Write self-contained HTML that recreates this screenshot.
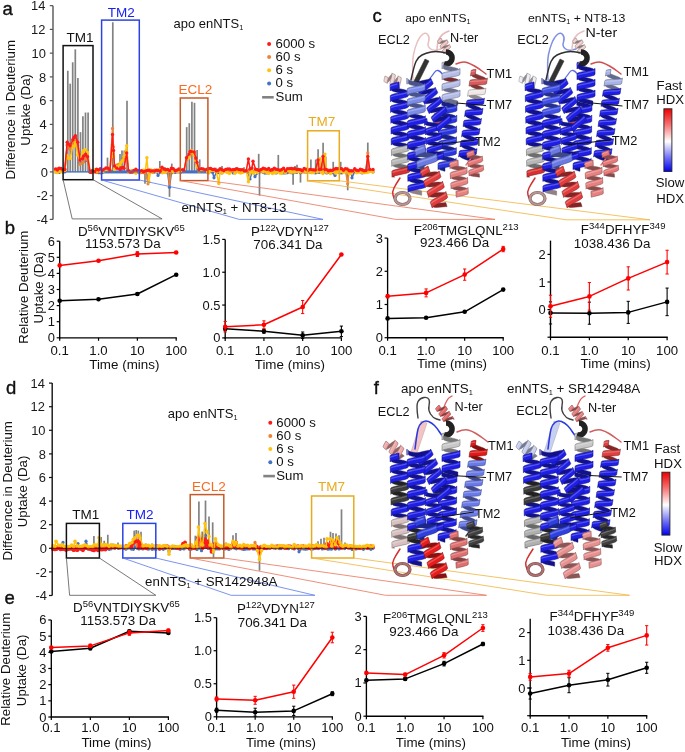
<!DOCTYPE html>
<html><head><meta charset="utf-8"><style>
html,body{margin:0;padding:0;background:#fff;width:685px;height:752px;overflow:hidden;}
svg{filter:blur(0.3px);}
svg text{font-family:'Liberation Sans',sans-serif;}
</style></head><body>
<svg width="685" height="752" viewBox="0 0 685 752" style="position:absolute;left:0;top:0;font-family:'Liberation Sans',sans-serif">
<rect width="685" height="752" fill="#fff"/>
<line x1="67.80" y1="171.90" x2="67.80" y2="70.73" stroke="#828282" stroke-width="1.7"/>
<line x1="70.20" y1="171.90" x2="70.20" y2="83.67" stroke="#828282" stroke-width="1.7"/>
<line x1="72.70" y1="171.90" x2="72.70" y2="62.29" stroke="#828282" stroke-width="1.7"/>
<line x1="75.30" y1="171.90" x2="75.30" y2="49.35" stroke="#828282" stroke-width="1.7"/>
<line x1="77.90" y1="171.90" x2="77.90" y2="78.09" stroke="#828282" stroke-width="1.7"/>
<line x1="80.50" y1="171.90" x2="80.50" y2="132.12" stroke="#828282" stroke-width="1.7"/>
<line x1="82.90" y1="171.90" x2="82.90" y2="116.33" stroke="#828282" stroke-width="1.7"/>
<line x1="85.50" y1="171.90" x2="85.50" y2="112.53" stroke="#828282" stroke-width="1.7"/>
<line x1="88.10" y1="171.90" x2="88.10" y2="112.53" stroke="#828282" stroke-width="1.7"/>
<line x1="107.50" y1="171.90" x2="107.50" y2="157.65" stroke="#828282" stroke-width="1.7"/>
<line x1="112.80" y1="171.90" x2="112.80" y2="22.28" stroke="#828282" stroke-width="1.7"/>
<line x1="120.00" y1="171.90" x2="120.00" y2="154.09" stroke="#828282" stroke-width="1.7"/>
<line x1="122.00" y1="171.90" x2="122.00" y2="150.53" stroke="#828282" stroke-width="1.7"/>
<line x1="124.30" y1="171.90" x2="124.30" y2="150.53" stroke="#828282" stroke-width="1.7"/>
<line x1="127.00" y1="171.90" x2="127.00" y2="100.65" stroke="#828282" stroke-width="1.7"/>
<line x1="145.00" y1="171.90" x2="145.00" y2="183.78" stroke="#828282" stroke-width="1.7"/>
<line x1="159.80" y1="171.90" x2="159.80" y2="160.97" stroke="#828282" stroke-width="1.7"/>
<line x1="169.50" y1="171.90" x2="169.50" y2="196.84" stroke="#828282" stroke-width="1.7"/>
<line x1="171.80" y1="171.90" x2="171.80" y2="163.59" stroke="#828282" stroke-width="1.7"/>
<line x1="165.00" y1="171.90" x2="165.00" y2="167.15" stroke="#828282" stroke-width="1.7"/>
<line x1="186.70" y1="171.90" x2="186.70" y2="127.13" stroke="#828282" stroke-width="1.7"/>
<line x1="189.30" y1="171.90" x2="189.30" y2="123.21" stroke="#828282" stroke-width="1.7"/>
<line x1="191.90" y1="171.90" x2="191.90" y2="101.84" stroke="#828282" stroke-width="1.7"/>
<line x1="194.50" y1="171.90" x2="194.50" y2="102.79" stroke="#828282" stroke-width="1.7"/>
<line x1="197.10" y1="171.90" x2="197.10" y2="150.05" stroke="#828282" stroke-width="1.7"/>
<line x1="199.70" y1="171.90" x2="199.70" y2="159.43" stroke="#828282" stroke-width="1.7"/>
<line x1="216.00" y1="171.90" x2="216.00" y2="167.74" stroke="#828282" stroke-width="1.7"/>
<line x1="222.00" y1="171.90" x2="222.00" y2="165.96" stroke="#828282" stroke-width="1.7"/>
<line x1="236.00" y1="171.90" x2="236.00" y2="167.15" stroke="#828282" stroke-width="1.7"/>
<line x1="244.00" y1="171.90" x2="244.00" y2="167.15" stroke="#828282" stroke-width="1.7"/>
<line x1="258.70" y1="171.90" x2="258.70" y2="153.85" stroke="#828282" stroke-width="1.7"/>
<line x1="259.50" y1="171.90" x2="259.50" y2="195.65" stroke="#828282" stroke-width="1.7"/>
<line x1="278.30" y1="171.90" x2="278.30" y2="154.92" stroke="#828282" stroke-width="1.7"/>
<line x1="291.00" y1="171.90" x2="291.00" y2="167.15" stroke="#828282" stroke-width="1.7"/>
<line x1="293.10" y1="171.90" x2="293.10" y2="184.84" stroke="#828282" stroke-width="1.7"/>
<line x1="295.00" y1="171.90" x2="295.00" y2="165.96" stroke="#828282" stroke-width="1.7"/>
<line x1="297.00" y1="171.90" x2="297.00" y2="164.78" stroke="#828282" stroke-width="1.7"/>
<line x1="310.90" y1="171.90" x2="310.90" y2="159.55" stroke="#828282" stroke-width="1.7"/>
<line x1="315.70" y1="171.90" x2="315.70" y2="159.55" stroke="#828282" stroke-width="1.7"/>
<line x1="318.10" y1="171.90" x2="318.10" y2="149.34" stroke="#828282" stroke-width="1.7"/>
<line x1="323.10" y1="171.90" x2="323.10" y2="142.69" stroke="#828282" stroke-width="1.7"/>
<line x1="325.70" y1="171.90" x2="325.70" y2="156.46" stroke="#828282" stroke-width="1.7"/>
<line x1="333.20" y1="171.90" x2="333.20" y2="161.81" stroke="#828282" stroke-width="1.7"/>
<line x1="340.70" y1="171.90" x2="340.70" y2="161.81" stroke="#828282" stroke-width="1.7"/>
<line x1="347.70" y1="171.90" x2="347.70" y2="190.31" stroke="#828282" stroke-width="1.7"/>
<line x1="367.80" y1="171.90" x2="367.80" y2="142.57" stroke="#828282" stroke-width="1.7"/>
<line x1="304.00" y1="171.90" x2="304.00" y2="168.34" stroke="#828282" stroke-width="1.7"/>
<line x1="300.50" y1="171.90" x2="300.50" y2="182.59" stroke="#828282" stroke-width="1.7"/>
<polyline points="55.5,171.9 57.4,172.3 59.2,172.4 61.1,171.5 63.0,171.9 64.8,171.9 67.2,145.1 68.6,146.9 70.1,148.4 72.8,143.4 74.2,139.8 75.4,138.7 77.7,145.8 80.0,162.4 82.6,162.4 83.6,161.1 85.6,160.6 87.6,160.0 90.0,171.9 91.0,171.9 92.9,171.9 94.8,171.8 96.6,172.4 98.5,172.7 100.4,172.8 102.3,172.6 104.1,171.9 106.0,171.9 107.9,171.9 109.7,171.9 111.6,171.9 113.5,171.9 115.3,171.9 117.2,171.9 119.1,171.9 121.0,171.9 122.8,171.9 124.7,171.9 126.6,171.9 128.4,171.9 130.3,171.9 132.2,171.9 134.0,171.9 135.9,171.9 137.8,171.9 139.7,171.8 141.5,172.4 143.4,170.9 145.3,171.7 148.0,176.7 149.0,171.0 150.9,171.1 152.7,171.9 154.6,172.1 156.5,171.7 158.0,175.5 160.2,172.1 162.1,172.7 164.0,172.4 165.8,171.2 167.7,173.0 169.5,187.3 171.4,173.0 173.3,171.6 175.2,172.4 177.1,171.8 178.9,172.0 180.8,172.3 182.7,171.9 184.5,171.9 186.4,171.9 188.3,171.9 190.1,171.9 192.0,171.9 193.9,171.9 195.8,171.9 197.6,171.9 199.5,171.9 201.4,171.9 203.2,171.9 205.1,171.9 207.0,171.9 208.8,171.3 210.7,171.6 212.6,172.5 214.0,177.8 216.3,172.3 218.2,172.7 220.1,172.0 221.9,173.0 223.8,171.4 225.7,171.0 227.5,170.8 229.4,171.3 231.3,170.8 233.2,173.0 235.0,172.4 236.9,170.8 238.8,171.2 240.6,172.1 242.5,170.8 244.4,171.6 246.2,171.1 248.1,172.4 250.0,179.0 251.9,172.6 253.7,172.0 255.0,176.7 257.5,172.8 259.3,172.2 261.2,170.8 263.1,172.3 264.9,173.1 266.8,173.0 268.7,172.7 270.6,171.2 272.4,172.2 274.3,172.4 276.2,172.9 278.0,170.8 279.9,172.1 281.8,172.6 283.6,172.9 285.5,173.0 287.4,172.7 289.3,171.5 291.1,172.7 293.0,173.0 294.9,171.9 296.7,172.5 298.6,170.7 300.5,172.8 302.3,171.8 304.2,171.2 306.1,172.1 308.0,170.7 309.8,172.0 311.7,172.5 313.6,172.1 315.4,173.0 317.3,172.1 319.2,172.5 321.0,171.0 322.9,171.1 324.8,171.9 326.7,173.0 328.5,172.5 330.4,172.5 332.3,172.6 335.0,175.5 336.0,172.5 337.9,171.0 339.7,172.8 341.6,173.0 343.5,170.9 345.4,171.7 347.2,170.7 349.1,172.1 351.0,170.9 352.0,177.8 354.7,171.5 356.6,171.2 358.4,171.3 360.3,171.9 362.2,172.9 364.1,172.6 365.9,171.0 367.8,171.0 369.7,170.9 373.0,171.9" stroke="#4472c4" stroke-width="1.5" fill="none" stroke-linejoin="round" />
<circle cx="55.5" cy="171.9" r="1.6" fill="#4472c4"/>
<circle cx="57.4" cy="172.3" r="1.6" fill="#4472c4"/>
<circle cx="59.2" cy="172.4" r="1.6" fill="#4472c4"/>
<circle cx="61.1" cy="171.5" r="1.6" fill="#4472c4"/>
<circle cx="63.0" cy="171.9" r="1.6" fill="#4472c4"/>
<circle cx="64.8" cy="171.9" r="1.6" fill="#4472c4"/>
<circle cx="67.2" cy="145.1" r="1.6" fill="#4472c4"/>
<circle cx="68.6" cy="146.9" r="1.6" fill="#4472c4"/>
<circle cx="70.1" cy="148.4" r="1.6" fill="#4472c4"/>
<circle cx="72.8" cy="143.4" r="1.6" fill="#4472c4"/>
<circle cx="74.2" cy="139.8" r="1.6" fill="#4472c4"/>
<circle cx="75.4" cy="138.7" r="1.6" fill="#4472c4"/>
<circle cx="77.7" cy="145.8" r="1.6" fill="#4472c4"/>
<circle cx="80.0" cy="162.4" r="1.6" fill="#4472c4"/>
<circle cx="82.6" cy="162.4" r="1.6" fill="#4472c4"/>
<circle cx="83.6" cy="161.1" r="1.6" fill="#4472c4"/>
<circle cx="85.6" cy="160.6" r="1.6" fill="#4472c4"/>
<circle cx="87.6" cy="160.0" r="1.6" fill="#4472c4"/>
<circle cx="90.0" cy="171.9" r="1.6" fill="#4472c4"/>
<circle cx="91.0" cy="171.9" r="1.6" fill="#4472c4"/>
<circle cx="92.9" cy="171.9" r="1.6" fill="#4472c4"/>
<circle cx="94.8" cy="171.8" r="1.6" fill="#4472c4"/>
<circle cx="96.6" cy="172.4" r="1.6" fill="#4472c4"/>
<circle cx="98.5" cy="172.7" r="1.6" fill="#4472c4"/>
<circle cx="100.4" cy="172.8" r="1.6" fill="#4472c4"/>
<circle cx="102.3" cy="172.6" r="1.6" fill="#4472c4"/>
<circle cx="104.1" cy="171.9" r="1.6" fill="#4472c4"/>
<circle cx="106.0" cy="171.9" r="1.6" fill="#4472c4"/>
<circle cx="107.9" cy="171.9" r="1.6" fill="#4472c4"/>
<circle cx="109.7" cy="171.9" r="1.6" fill="#4472c4"/>
<circle cx="111.6" cy="171.9" r="1.6" fill="#4472c4"/>
<circle cx="113.5" cy="171.9" r="1.6" fill="#4472c4"/>
<circle cx="115.3" cy="171.9" r="1.6" fill="#4472c4"/>
<circle cx="117.2" cy="171.9" r="1.6" fill="#4472c4"/>
<circle cx="119.1" cy="171.9" r="1.6" fill="#4472c4"/>
<circle cx="121.0" cy="171.9" r="1.6" fill="#4472c4"/>
<circle cx="122.8" cy="171.9" r="1.6" fill="#4472c4"/>
<circle cx="124.7" cy="171.9" r="1.6" fill="#4472c4"/>
<circle cx="126.6" cy="171.9" r="1.6" fill="#4472c4"/>
<circle cx="128.4" cy="171.9" r="1.6" fill="#4472c4"/>
<circle cx="130.3" cy="171.9" r="1.6" fill="#4472c4"/>
<circle cx="132.2" cy="171.9" r="1.6" fill="#4472c4"/>
<circle cx="134.0" cy="171.9" r="1.6" fill="#4472c4"/>
<circle cx="135.9" cy="171.9" r="1.6" fill="#4472c4"/>
<circle cx="137.8" cy="171.9" r="1.6" fill="#4472c4"/>
<circle cx="139.7" cy="171.8" r="1.6" fill="#4472c4"/>
<circle cx="141.5" cy="172.4" r="1.6" fill="#4472c4"/>
<circle cx="143.4" cy="170.9" r="1.6" fill="#4472c4"/>
<circle cx="145.3" cy="171.7" r="1.6" fill="#4472c4"/>
<circle cx="148.0" cy="176.7" r="1.6" fill="#4472c4"/>
<circle cx="149.0" cy="171.0" r="1.6" fill="#4472c4"/>
<circle cx="150.9" cy="171.1" r="1.6" fill="#4472c4"/>
<circle cx="152.7" cy="171.9" r="1.6" fill="#4472c4"/>
<circle cx="154.6" cy="172.1" r="1.6" fill="#4472c4"/>
<circle cx="156.5" cy="171.7" r="1.6" fill="#4472c4"/>
<circle cx="158.0" cy="175.5" r="1.6" fill="#4472c4"/>
<circle cx="160.2" cy="172.1" r="1.6" fill="#4472c4"/>
<circle cx="162.1" cy="172.7" r="1.6" fill="#4472c4"/>
<circle cx="164.0" cy="172.4" r="1.6" fill="#4472c4"/>
<circle cx="165.8" cy="171.2" r="1.6" fill="#4472c4"/>
<circle cx="167.7" cy="173.0" r="1.6" fill="#4472c4"/>
<circle cx="169.5" cy="187.3" r="1.6" fill="#4472c4"/>
<circle cx="171.4" cy="173.0" r="1.6" fill="#4472c4"/>
<circle cx="173.3" cy="171.6" r="1.6" fill="#4472c4"/>
<circle cx="175.2" cy="172.4" r="1.6" fill="#4472c4"/>
<circle cx="177.1" cy="171.8" r="1.6" fill="#4472c4"/>
<circle cx="178.9" cy="172.0" r="1.6" fill="#4472c4"/>
<circle cx="180.8" cy="172.3" r="1.6" fill="#4472c4"/>
<circle cx="182.7" cy="171.9" r="1.6" fill="#4472c4"/>
<circle cx="184.5" cy="171.9" r="1.6" fill="#4472c4"/>
<circle cx="186.4" cy="171.9" r="1.6" fill="#4472c4"/>
<circle cx="188.3" cy="171.9" r="1.6" fill="#4472c4"/>
<circle cx="190.1" cy="171.9" r="1.6" fill="#4472c4"/>
<circle cx="192.0" cy="171.9" r="1.6" fill="#4472c4"/>
<circle cx="193.9" cy="171.9" r="1.6" fill="#4472c4"/>
<circle cx="195.8" cy="171.9" r="1.6" fill="#4472c4"/>
<circle cx="197.6" cy="171.9" r="1.6" fill="#4472c4"/>
<circle cx="199.5" cy="171.9" r="1.6" fill="#4472c4"/>
<circle cx="201.4" cy="171.9" r="1.6" fill="#4472c4"/>
<circle cx="203.2" cy="171.9" r="1.6" fill="#4472c4"/>
<circle cx="205.1" cy="171.9" r="1.6" fill="#4472c4"/>
<circle cx="207.0" cy="171.9" r="1.6" fill="#4472c4"/>
<circle cx="208.8" cy="171.3" r="1.6" fill="#4472c4"/>
<circle cx="210.7" cy="171.6" r="1.6" fill="#4472c4"/>
<circle cx="212.6" cy="172.5" r="1.6" fill="#4472c4"/>
<circle cx="214.0" cy="177.8" r="1.6" fill="#4472c4"/>
<circle cx="216.3" cy="172.3" r="1.6" fill="#4472c4"/>
<circle cx="218.2" cy="172.7" r="1.6" fill="#4472c4"/>
<circle cx="220.1" cy="172.0" r="1.6" fill="#4472c4"/>
<circle cx="221.9" cy="173.0" r="1.6" fill="#4472c4"/>
<circle cx="223.8" cy="171.4" r="1.6" fill="#4472c4"/>
<circle cx="225.7" cy="171.0" r="1.6" fill="#4472c4"/>
<circle cx="227.5" cy="170.8" r="1.6" fill="#4472c4"/>
<circle cx="229.4" cy="171.3" r="1.6" fill="#4472c4"/>
<circle cx="231.3" cy="170.8" r="1.6" fill="#4472c4"/>
<circle cx="233.2" cy="173.0" r="1.6" fill="#4472c4"/>
<circle cx="235.0" cy="172.4" r="1.6" fill="#4472c4"/>
<circle cx="236.9" cy="170.8" r="1.6" fill="#4472c4"/>
<circle cx="238.8" cy="171.2" r="1.6" fill="#4472c4"/>
<circle cx="240.6" cy="172.1" r="1.6" fill="#4472c4"/>
<circle cx="242.5" cy="170.8" r="1.6" fill="#4472c4"/>
<circle cx="244.4" cy="171.6" r="1.6" fill="#4472c4"/>
<circle cx="246.2" cy="171.1" r="1.6" fill="#4472c4"/>
<circle cx="248.1" cy="172.4" r="1.6" fill="#4472c4"/>
<circle cx="250.0" cy="179.0" r="1.6" fill="#4472c4"/>
<circle cx="251.9" cy="172.6" r="1.6" fill="#4472c4"/>
<circle cx="253.7" cy="172.0" r="1.6" fill="#4472c4"/>
<circle cx="255.0" cy="176.7" r="1.6" fill="#4472c4"/>
<circle cx="257.5" cy="172.8" r="1.6" fill="#4472c4"/>
<circle cx="259.3" cy="172.2" r="1.6" fill="#4472c4"/>
<circle cx="261.2" cy="170.8" r="1.6" fill="#4472c4"/>
<circle cx="263.1" cy="172.3" r="1.6" fill="#4472c4"/>
<circle cx="264.9" cy="173.1" r="1.6" fill="#4472c4"/>
<circle cx="266.8" cy="173.0" r="1.6" fill="#4472c4"/>
<circle cx="268.7" cy="172.7" r="1.6" fill="#4472c4"/>
<circle cx="270.6" cy="171.2" r="1.6" fill="#4472c4"/>
<circle cx="272.4" cy="172.2" r="1.6" fill="#4472c4"/>
<circle cx="274.3" cy="172.4" r="1.6" fill="#4472c4"/>
<circle cx="276.2" cy="172.9" r="1.6" fill="#4472c4"/>
<circle cx="278.0" cy="170.8" r="1.6" fill="#4472c4"/>
<circle cx="279.9" cy="172.1" r="1.6" fill="#4472c4"/>
<circle cx="281.8" cy="172.6" r="1.6" fill="#4472c4"/>
<circle cx="283.6" cy="172.9" r="1.6" fill="#4472c4"/>
<circle cx="285.5" cy="173.0" r="1.6" fill="#4472c4"/>
<circle cx="287.4" cy="172.7" r="1.6" fill="#4472c4"/>
<circle cx="289.3" cy="171.5" r="1.6" fill="#4472c4"/>
<circle cx="291.1" cy="172.7" r="1.6" fill="#4472c4"/>
<circle cx="293.0" cy="173.0" r="1.6" fill="#4472c4"/>
<circle cx="294.9" cy="171.9" r="1.6" fill="#4472c4"/>
<circle cx="296.7" cy="172.5" r="1.6" fill="#4472c4"/>
<circle cx="298.6" cy="170.7" r="1.6" fill="#4472c4"/>
<circle cx="300.5" cy="172.8" r="1.6" fill="#4472c4"/>
<circle cx="302.3" cy="171.8" r="1.6" fill="#4472c4"/>
<circle cx="304.2" cy="171.2" r="1.6" fill="#4472c4"/>
<circle cx="306.1" cy="172.1" r="1.6" fill="#4472c4"/>
<circle cx="308.0" cy="170.7" r="1.6" fill="#4472c4"/>
<circle cx="309.8" cy="172.0" r="1.6" fill="#4472c4"/>
<circle cx="311.7" cy="172.5" r="1.6" fill="#4472c4"/>
<circle cx="313.6" cy="172.1" r="1.6" fill="#4472c4"/>
<circle cx="315.4" cy="173.0" r="1.6" fill="#4472c4"/>
<circle cx="317.3" cy="172.1" r="1.6" fill="#4472c4"/>
<circle cx="319.2" cy="172.5" r="1.6" fill="#4472c4"/>
<circle cx="321.0" cy="171.0" r="1.6" fill="#4472c4"/>
<circle cx="322.9" cy="171.1" r="1.6" fill="#4472c4"/>
<circle cx="324.8" cy="171.9" r="1.6" fill="#4472c4"/>
<circle cx="326.7" cy="173.0" r="1.6" fill="#4472c4"/>
<circle cx="328.5" cy="172.5" r="1.6" fill="#4472c4"/>
<circle cx="330.4" cy="172.5" r="1.6" fill="#4472c4"/>
<circle cx="332.3" cy="172.6" r="1.6" fill="#4472c4"/>
<circle cx="335.0" cy="175.5" r="1.6" fill="#4472c4"/>
<circle cx="336.0" cy="172.5" r="1.6" fill="#4472c4"/>
<circle cx="337.9" cy="171.0" r="1.6" fill="#4472c4"/>
<circle cx="339.7" cy="172.8" r="1.6" fill="#4472c4"/>
<circle cx="341.6" cy="173.0" r="1.6" fill="#4472c4"/>
<circle cx="343.5" cy="170.9" r="1.6" fill="#4472c4"/>
<circle cx="345.4" cy="171.7" r="1.6" fill="#4472c4"/>
<circle cx="347.2" cy="170.7" r="1.6" fill="#4472c4"/>
<circle cx="349.1" cy="172.1" r="1.6" fill="#4472c4"/>
<circle cx="351.0" cy="170.9" r="1.6" fill="#4472c4"/>
<circle cx="352.0" cy="177.8" r="1.6" fill="#4472c4"/>
<circle cx="354.7" cy="171.5" r="1.6" fill="#4472c4"/>
<circle cx="356.6" cy="171.2" r="1.6" fill="#4472c4"/>
<circle cx="358.4" cy="171.3" r="1.6" fill="#4472c4"/>
<circle cx="360.3" cy="171.9" r="1.6" fill="#4472c4"/>
<circle cx="362.2" cy="172.9" r="1.6" fill="#4472c4"/>
<circle cx="364.1" cy="172.6" r="1.6" fill="#4472c4"/>
<circle cx="365.9" cy="171.0" r="1.6" fill="#4472c4"/>
<circle cx="367.8" cy="171.0" r="1.6" fill="#4472c4"/>
<circle cx="369.7" cy="170.9" r="1.6" fill="#4472c4"/>
<circle cx="373.0" cy="171.9" r="1.6" fill="#4472c4"/>
<polyline points="55.5,170.1 57.4,168.7 59.2,168.6 61.1,171.1 63.0,170.9 64.8,168.6 67.2,145.8 68.6,146.8 70.1,149.3 72.8,143.4 74.2,141.0 75.4,139.8 77.7,148.2 80.0,164.3 82.6,162.4 83.6,161.8 85.6,158.8 87.6,160.0 90.0,171.9 91.0,171.5 92.9,171.4 94.8,171.4 96.6,172.5 98.5,171.6 100.4,171.6 102.3,170.5 104.1,169.7 106.0,169.7 107.9,170.7 110.0,170.7 112.5,128.4 113.5,146.8 114.5,166.0 117.2,164.8 119.1,164.2 121.0,162.9 122.8,160.4 124.7,159.5 126.7,157.7 128.5,171.9 130.3,172.2 132.2,170.7 134.0,171.7 135.9,171.6 137.8,172.5 139.7,173.0 141.5,172.1 143.4,172.6 145.3,171.5 148.0,183.8 149.0,170.0 150.9,170.9 152.7,172.3 154.6,170.2 156.5,170.5 158.4,170.6 160.2,170.1 162.1,170.4 164.0,170.3 165.8,171.5 167.7,169.7 169.5,183.8 171.4,169.7 173.3,171.9 175.2,170.2 177.1,170.2 178.9,170.9 180.8,170.7 182.7,170.8 184.0,170.7 186.5,160.0 189.0,156.5 190.1,154.1 191.3,154.1 194.2,154.1 195.8,160.0 197.0,164.8 199.0,170.7 201.4,169.8 203.2,171.1 205.1,169.6 207.0,169.6 208.8,170.8 210.7,170.5 212.6,169.5 214.5,170.1 216.3,170.8 218.2,171.5 220.1,171.2 221.9,170.1 223.8,171.7 225.7,169.5 227.5,171.4 229.4,169.5 231.3,171.3 233.2,169.4 235.0,170.1 236.9,170.7 238.8,170.7 240.6,170.3 242.5,170.5 244.4,171.2 246.2,171.5 248.1,170.7 250.0,169.5 251.9,170.4 253.7,171.9 255.6,169.8 257.5,170.1 259.3,169.6 261.2,171.6 263.1,170.0 264.9,172.0 266.8,170.3 268.7,171.4 270.6,171.5 272.4,169.6 274.3,171.8 276.2,170.6 278.0,169.7 279.9,171.4 281.8,171.5 283.6,169.6 285.5,170.9 287.4,170.1 289.3,172.0 291.1,171.1 293.0,171.6 294.9,170.2 296.7,171.9 298.6,169.4 300.5,172.1 302.3,170.1 304.2,172.1 306.1,171.4 308.0,169.8 309.8,171.7 311.7,171.6 313.6,170.2 315.4,171.0 317.3,172.0 319.2,169.3 321.0,171.7 322.9,172.0 324.8,171.2 326.7,170.4 328.5,170.0 330.4,171.8 332.3,171.2 334.1,172.0 336.0,170.9 337.9,170.0 339.7,170.0 341.6,169.6 343.5,170.0 345.4,169.7 347.7,183.8 349.1,170.1 351.0,170.8 352.8,171.5 354.7,170.3 356.6,171.2 358.4,171.8 360.3,170.9 362.2,169.6 364.1,171.8 365.9,170.5 367.8,152.9 369.7,171.0 373.0,170.7" stroke="#f08232" stroke-width="1.5" fill="none" stroke-linejoin="round" />
<circle cx="55.5" cy="170.1" r="1.6" fill="#f08232"/>
<circle cx="57.4" cy="168.7" r="1.6" fill="#f08232"/>
<circle cx="59.2" cy="168.6" r="1.6" fill="#f08232"/>
<circle cx="61.1" cy="171.1" r="1.6" fill="#f08232"/>
<circle cx="63.0" cy="170.9" r="1.6" fill="#f08232"/>
<circle cx="64.8" cy="168.6" r="1.6" fill="#f08232"/>
<circle cx="67.2" cy="145.8" r="1.6" fill="#f08232"/>
<circle cx="68.6" cy="146.8" r="1.6" fill="#f08232"/>
<circle cx="70.1" cy="149.3" r="1.6" fill="#f08232"/>
<circle cx="72.8" cy="143.4" r="1.6" fill="#f08232"/>
<circle cx="74.2" cy="141.0" r="1.6" fill="#f08232"/>
<circle cx="75.4" cy="139.8" r="1.6" fill="#f08232"/>
<circle cx="77.7" cy="148.2" r="1.6" fill="#f08232"/>
<circle cx="80.0" cy="164.3" r="1.6" fill="#f08232"/>
<circle cx="82.6" cy="162.4" r="1.6" fill="#f08232"/>
<circle cx="83.6" cy="161.8" r="1.6" fill="#f08232"/>
<circle cx="85.6" cy="158.8" r="1.6" fill="#f08232"/>
<circle cx="87.6" cy="160.0" r="1.6" fill="#f08232"/>
<circle cx="90.0" cy="171.9" r="1.6" fill="#f08232"/>
<circle cx="91.0" cy="171.5" r="1.6" fill="#f08232"/>
<circle cx="92.9" cy="171.4" r="1.6" fill="#f08232"/>
<circle cx="94.8" cy="171.4" r="1.6" fill="#f08232"/>
<circle cx="96.6" cy="172.5" r="1.6" fill="#f08232"/>
<circle cx="98.5" cy="171.6" r="1.6" fill="#f08232"/>
<circle cx="100.4" cy="171.6" r="1.6" fill="#f08232"/>
<circle cx="102.3" cy="170.5" r="1.6" fill="#f08232"/>
<circle cx="104.1" cy="169.7" r="1.6" fill="#f08232"/>
<circle cx="106.0" cy="169.7" r="1.6" fill="#f08232"/>
<circle cx="107.9" cy="170.7" r="1.6" fill="#f08232"/>
<circle cx="110.0" cy="170.7" r="1.6" fill="#f08232"/>
<circle cx="112.5" cy="128.4" r="1.6" fill="#f08232"/>
<circle cx="113.5" cy="146.8" r="1.6" fill="#f08232"/>
<circle cx="114.5" cy="166.0" r="1.6" fill="#f08232"/>
<circle cx="117.2" cy="164.8" r="1.6" fill="#f08232"/>
<circle cx="119.1" cy="164.2" r="1.6" fill="#f08232"/>
<circle cx="121.0" cy="162.9" r="1.6" fill="#f08232"/>
<circle cx="122.8" cy="160.4" r="1.6" fill="#f08232"/>
<circle cx="124.7" cy="159.5" r="1.6" fill="#f08232"/>
<circle cx="126.7" cy="157.7" r="1.6" fill="#f08232"/>
<circle cx="128.5" cy="171.9" r="1.6" fill="#f08232"/>
<circle cx="130.3" cy="172.2" r="1.6" fill="#f08232"/>
<circle cx="132.2" cy="170.7" r="1.6" fill="#f08232"/>
<circle cx="134.0" cy="171.7" r="1.6" fill="#f08232"/>
<circle cx="135.9" cy="171.6" r="1.6" fill="#f08232"/>
<circle cx="137.8" cy="172.5" r="1.6" fill="#f08232"/>
<circle cx="139.7" cy="173.0" r="1.6" fill="#f08232"/>
<circle cx="141.5" cy="172.1" r="1.6" fill="#f08232"/>
<circle cx="143.4" cy="172.6" r="1.6" fill="#f08232"/>
<circle cx="145.3" cy="171.5" r="1.6" fill="#f08232"/>
<circle cx="148.0" cy="183.8" r="1.6" fill="#f08232"/>
<circle cx="149.0" cy="170.0" r="1.6" fill="#f08232"/>
<circle cx="150.9" cy="170.9" r="1.6" fill="#f08232"/>
<circle cx="152.7" cy="172.3" r="1.6" fill="#f08232"/>
<circle cx="154.6" cy="170.2" r="1.6" fill="#f08232"/>
<circle cx="156.5" cy="170.5" r="1.6" fill="#f08232"/>
<circle cx="158.4" cy="170.6" r="1.6" fill="#f08232"/>
<circle cx="160.2" cy="170.1" r="1.6" fill="#f08232"/>
<circle cx="162.1" cy="170.4" r="1.6" fill="#f08232"/>
<circle cx="164.0" cy="170.3" r="1.6" fill="#f08232"/>
<circle cx="165.8" cy="171.5" r="1.6" fill="#f08232"/>
<circle cx="167.7" cy="169.7" r="1.6" fill="#f08232"/>
<circle cx="169.5" cy="183.8" r="1.6" fill="#f08232"/>
<circle cx="171.4" cy="169.7" r="1.6" fill="#f08232"/>
<circle cx="173.3" cy="171.9" r="1.6" fill="#f08232"/>
<circle cx="175.2" cy="170.2" r="1.6" fill="#f08232"/>
<circle cx="177.1" cy="170.2" r="1.6" fill="#f08232"/>
<circle cx="178.9" cy="170.9" r="1.6" fill="#f08232"/>
<circle cx="180.8" cy="170.7" r="1.6" fill="#f08232"/>
<circle cx="182.7" cy="170.8" r="1.6" fill="#f08232"/>
<circle cx="184.0" cy="170.7" r="1.6" fill="#f08232"/>
<circle cx="186.5" cy="160.0" r="1.6" fill="#f08232"/>
<circle cx="189.0" cy="156.5" r="1.6" fill="#f08232"/>
<circle cx="190.1" cy="154.1" r="1.6" fill="#f08232"/>
<circle cx="191.3" cy="154.1" r="1.6" fill="#f08232"/>
<circle cx="194.2" cy="154.1" r="1.6" fill="#f08232"/>
<circle cx="195.8" cy="160.0" r="1.6" fill="#f08232"/>
<circle cx="197.0" cy="164.8" r="1.6" fill="#f08232"/>
<circle cx="199.0" cy="170.7" r="1.6" fill="#f08232"/>
<circle cx="201.4" cy="169.8" r="1.6" fill="#f08232"/>
<circle cx="203.2" cy="171.1" r="1.6" fill="#f08232"/>
<circle cx="205.1" cy="169.6" r="1.6" fill="#f08232"/>
<circle cx="207.0" cy="169.6" r="1.6" fill="#f08232"/>
<circle cx="208.8" cy="170.8" r="1.6" fill="#f08232"/>
<circle cx="210.7" cy="170.5" r="1.6" fill="#f08232"/>
<circle cx="212.6" cy="169.5" r="1.6" fill="#f08232"/>
<circle cx="214.5" cy="170.1" r="1.6" fill="#f08232"/>
<circle cx="216.3" cy="170.8" r="1.6" fill="#f08232"/>
<circle cx="218.2" cy="171.5" r="1.6" fill="#f08232"/>
<circle cx="220.1" cy="171.2" r="1.6" fill="#f08232"/>
<circle cx="221.9" cy="170.1" r="1.6" fill="#f08232"/>
<circle cx="223.8" cy="171.7" r="1.6" fill="#f08232"/>
<circle cx="225.7" cy="169.5" r="1.6" fill="#f08232"/>
<circle cx="227.5" cy="171.4" r="1.6" fill="#f08232"/>
<circle cx="229.4" cy="169.5" r="1.6" fill="#f08232"/>
<circle cx="231.3" cy="171.3" r="1.6" fill="#f08232"/>
<circle cx="233.2" cy="169.4" r="1.6" fill="#f08232"/>
<circle cx="235.0" cy="170.1" r="1.6" fill="#f08232"/>
<circle cx="236.9" cy="170.7" r="1.6" fill="#f08232"/>
<circle cx="238.8" cy="170.7" r="1.6" fill="#f08232"/>
<circle cx="240.6" cy="170.3" r="1.6" fill="#f08232"/>
<circle cx="242.5" cy="170.5" r="1.6" fill="#f08232"/>
<circle cx="244.4" cy="171.2" r="1.6" fill="#f08232"/>
<circle cx="246.2" cy="171.5" r="1.6" fill="#f08232"/>
<circle cx="248.1" cy="170.7" r="1.6" fill="#f08232"/>
<circle cx="250.0" cy="169.5" r="1.6" fill="#f08232"/>
<circle cx="251.9" cy="170.4" r="1.6" fill="#f08232"/>
<circle cx="253.7" cy="171.9" r="1.6" fill="#f08232"/>
<circle cx="255.6" cy="169.8" r="1.6" fill="#f08232"/>
<circle cx="257.5" cy="170.1" r="1.6" fill="#f08232"/>
<circle cx="259.3" cy="169.6" r="1.6" fill="#f08232"/>
<circle cx="261.2" cy="171.6" r="1.6" fill="#f08232"/>
<circle cx="263.1" cy="170.0" r="1.6" fill="#f08232"/>
<circle cx="264.9" cy="172.0" r="1.6" fill="#f08232"/>
<circle cx="266.8" cy="170.3" r="1.6" fill="#f08232"/>
<circle cx="268.7" cy="171.4" r="1.6" fill="#f08232"/>
<circle cx="270.6" cy="171.5" r="1.6" fill="#f08232"/>
<circle cx="272.4" cy="169.6" r="1.6" fill="#f08232"/>
<circle cx="274.3" cy="171.8" r="1.6" fill="#f08232"/>
<circle cx="276.2" cy="170.6" r="1.6" fill="#f08232"/>
<circle cx="278.0" cy="169.7" r="1.6" fill="#f08232"/>
<circle cx="279.9" cy="171.4" r="1.6" fill="#f08232"/>
<circle cx="281.8" cy="171.5" r="1.6" fill="#f08232"/>
<circle cx="283.6" cy="169.6" r="1.6" fill="#f08232"/>
<circle cx="285.5" cy="170.9" r="1.6" fill="#f08232"/>
<circle cx="287.4" cy="170.1" r="1.6" fill="#f08232"/>
<circle cx="289.3" cy="172.0" r="1.6" fill="#f08232"/>
<circle cx="291.1" cy="171.1" r="1.6" fill="#f08232"/>
<circle cx="293.0" cy="171.6" r="1.6" fill="#f08232"/>
<circle cx="294.9" cy="170.2" r="1.6" fill="#f08232"/>
<circle cx="296.7" cy="171.9" r="1.6" fill="#f08232"/>
<circle cx="298.6" cy="169.4" r="1.6" fill="#f08232"/>
<circle cx="300.5" cy="172.1" r="1.6" fill="#f08232"/>
<circle cx="302.3" cy="170.1" r="1.6" fill="#f08232"/>
<circle cx="304.2" cy="172.1" r="1.6" fill="#f08232"/>
<circle cx="306.1" cy="171.4" r="1.6" fill="#f08232"/>
<circle cx="308.0" cy="169.8" r="1.6" fill="#f08232"/>
<circle cx="309.8" cy="171.7" r="1.6" fill="#f08232"/>
<circle cx="311.7" cy="171.6" r="1.6" fill="#f08232"/>
<circle cx="313.6" cy="170.2" r="1.6" fill="#f08232"/>
<circle cx="315.4" cy="171.0" r="1.6" fill="#f08232"/>
<circle cx="317.3" cy="172.0" r="1.6" fill="#f08232"/>
<circle cx="319.2" cy="169.3" r="1.6" fill="#f08232"/>
<circle cx="321.0" cy="171.7" r="1.6" fill="#f08232"/>
<circle cx="322.9" cy="172.0" r="1.6" fill="#f08232"/>
<circle cx="324.8" cy="171.2" r="1.6" fill="#f08232"/>
<circle cx="326.7" cy="170.4" r="1.6" fill="#f08232"/>
<circle cx="328.5" cy="170.0" r="1.6" fill="#f08232"/>
<circle cx="330.4" cy="171.8" r="1.6" fill="#f08232"/>
<circle cx="332.3" cy="171.2" r="1.6" fill="#f08232"/>
<circle cx="334.1" cy="172.0" r="1.6" fill="#f08232"/>
<circle cx="336.0" cy="170.9" r="1.6" fill="#f08232"/>
<circle cx="337.9" cy="170.0" r="1.6" fill="#f08232"/>
<circle cx="339.7" cy="170.0" r="1.6" fill="#f08232"/>
<circle cx="341.6" cy="169.6" r="1.6" fill="#f08232"/>
<circle cx="343.5" cy="170.0" r="1.6" fill="#f08232"/>
<circle cx="345.4" cy="169.7" r="1.6" fill="#f08232"/>
<circle cx="347.7" cy="183.8" r="1.6" fill="#f08232"/>
<circle cx="349.1" cy="170.1" r="1.6" fill="#f08232"/>
<circle cx="351.0" cy="170.8" r="1.6" fill="#f08232"/>
<circle cx="352.8" cy="171.5" r="1.6" fill="#f08232"/>
<circle cx="354.7" cy="170.3" r="1.6" fill="#f08232"/>
<circle cx="356.6" cy="171.2" r="1.6" fill="#f08232"/>
<circle cx="358.4" cy="171.8" r="1.6" fill="#f08232"/>
<circle cx="360.3" cy="170.9" r="1.6" fill="#f08232"/>
<circle cx="362.2" cy="169.6" r="1.6" fill="#f08232"/>
<circle cx="364.1" cy="171.8" r="1.6" fill="#f08232"/>
<circle cx="365.9" cy="170.5" r="1.6" fill="#f08232"/>
<circle cx="367.8" cy="152.9" r="1.6" fill="#f08232"/>
<circle cx="369.7" cy="171.0" r="1.6" fill="#f08232"/>
<circle cx="373.0" cy="170.7" r="1.6" fill="#f08232"/>
<polyline points="55.5,171.9 57.4,172.6 59.2,171.3 61.1,171.7 63.0,170.7 64.8,170.4 67.2,155.5 68.6,158.3 70.1,158.4 72.8,146.2 74.2,146.0 75.4,142.7 77.7,154.9 80.0,159.0 82.6,152.5 83.6,150.5 85.6,149.7 87.6,152.5 90.0,171.9 91.0,172.6 92.9,172.4 94.8,169.7 96.6,171.2 98.5,169.8 100.4,170.7 102.3,170.0 104.1,171.4 106.0,169.6 107.9,168.6 110.0,169.5 112.5,144.2 113.5,156.4 114.5,169.5 117.2,166.4 120.0,164.8 121.0,162.2 122.8,160.4 124.0,156.5 126.7,145.8 128.5,171.9 130.3,171.0 132.2,171.5 134.0,172.4 135.9,173.3 137.8,170.5 139.7,171.8 141.5,170.9 143.4,170.3 145.3,170.8 146.9,157.8 148.8,181.8 150.9,170.0 152.7,171.7 154.6,170.3 156.5,171.5 158.4,169.8 160.2,170.0 162.1,172.5 164.0,172.4 165.8,172.0 167.7,169.5 169.6,171.2 171.4,170.6 173.3,171.6 175.2,170.9 177.1,171.2 178.9,171.3 180.8,170.5 182.7,170.5 184.0,170.7 186.5,157.9 189.0,157.7 190.1,152.8 191.3,150.5 194.2,155.3 195.8,160.6 197.0,166.0 199.0,171.9 201.4,170.5 203.2,170.7 205.1,170.3 207.0,171.3 208.8,173.0 210.7,170.7 212.6,170.4 214.5,170.6 216.3,171.7 218.8,183.5 220.1,171.2 221.9,172.9 223.8,170.8 225.7,171.7 227.5,172.6 229.4,173.4 231.3,170.7 233.2,170.3 235.0,173.3 236.9,170.9 238.8,172.2 240.6,173.1 242.5,172.6 244.4,171.0 246.2,170.7 248.4,181.8 250.0,173.4 251.9,171.5 253.7,173.4 255.6,171.2 257.5,172.5 259.3,170.6 261.2,170.3 263.1,171.9 264.9,170.2 266.8,172.5 268.7,173.3 270.6,171.6 272.4,173.5 274.3,172.9 276.2,172.2 278.0,171.5 279.9,173.0 281.8,173.4 283.6,170.7 285.5,172.5 287.4,170.4 289.3,170.6 291.1,172.3 293.0,172.0 294.9,171.8 296.7,171.4 298.6,171.6 300.5,171.7 302.3,171.5 304.2,170.4 306.1,171.9 308.0,172.1 309.8,171.2 311.7,172.8 313.6,172.6 315.4,170.3 317.3,171.8 320.0,158.8 321.0,171.7 322.9,173.5 325.0,154.1 326.7,172.2 328.5,171.6 330.4,173.5 332.3,171.5 334.1,171.5 336.0,173.4 337.9,171.5 339.7,172.0 341.6,171.3 343.5,172.4 345.4,171.2 347.2,171.1 349.1,173.5 351.0,173.4 352.8,171.3 354.7,170.4 356.6,172.7 358.4,172.0 360.3,171.6 362.2,172.5 364.1,172.4 365.9,172.5 367.8,172.3 369.7,171.6 373.0,171.9" stroke="#ffc20e" stroke-width="1.5" fill="none" stroke-linejoin="round" />
<circle cx="55.5" cy="171.9" r="1.7" fill="#ffc20e"/>
<circle cx="57.4" cy="172.6" r="1.7" fill="#ffc20e"/>
<circle cx="59.2" cy="171.3" r="1.7" fill="#ffc20e"/>
<circle cx="61.1" cy="171.7" r="1.7" fill="#ffc20e"/>
<circle cx="63.0" cy="170.7" r="1.7" fill="#ffc20e"/>
<circle cx="64.8" cy="170.4" r="1.7" fill="#ffc20e"/>
<circle cx="67.2" cy="155.5" r="1.7" fill="#ffc20e"/>
<circle cx="68.6" cy="158.3" r="1.7" fill="#ffc20e"/>
<circle cx="70.1" cy="158.4" r="1.7" fill="#ffc20e"/>
<circle cx="72.8" cy="146.2" r="1.7" fill="#ffc20e"/>
<circle cx="74.2" cy="146.0" r="1.7" fill="#ffc20e"/>
<circle cx="75.4" cy="142.7" r="1.7" fill="#ffc20e"/>
<circle cx="77.7" cy="154.9" r="1.7" fill="#ffc20e"/>
<circle cx="80.0" cy="159.0" r="1.7" fill="#ffc20e"/>
<circle cx="82.6" cy="152.5" r="1.7" fill="#ffc20e"/>
<circle cx="83.6" cy="150.5" r="1.7" fill="#ffc20e"/>
<circle cx="85.6" cy="149.7" r="1.7" fill="#ffc20e"/>
<circle cx="87.6" cy="152.5" r="1.7" fill="#ffc20e"/>
<circle cx="90.0" cy="171.9" r="1.7" fill="#ffc20e"/>
<circle cx="91.0" cy="172.6" r="1.7" fill="#ffc20e"/>
<circle cx="92.9" cy="172.4" r="1.7" fill="#ffc20e"/>
<circle cx="94.8" cy="169.7" r="1.7" fill="#ffc20e"/>
<circle cx="96.6" cy="171.2" r="1.7" fill="#ffc20e"/>
<circle cx="98.5" cy="169.8" r="1.7" fill="#ffc20e"/>
<circle cx="100.4" cy="170.7" r="1.7" fill="#ffc20e"/>
<circle cx="102.3" cy="170.0" r="1.7" fill="#ffc20e"/>
<circle cx="104.1" cy="171.4" r="1.7" fill="#ffc20e"/>
<circle cx="106.0" cy="169.6" r="1.7" fill="#ffc20e"/>
<circle cx="107.9" cy="168.6" r="1.7" fill="#ffc20e"/>
<circle cx="110.0" cy="169.5" r="1.7" fill="#ffc20e"/>
<circle cx="112.5" cy="144.2" r="1.7" fill="#ffc20e"/>
<circle cx="113.5" cy="156.4" r="1.7" fill="#ffc20e"/>
<circle cx="114.5" cy="169.5" r="1.7" fill="#ffc20e"/>
<circle cx="117.2" cy="166.4" r="1.7" fill="#ffc20e"/>
<circle cx="120.0" cy="164.8" r="1.7" fill="#ffc20e"/>
<circle cx="121.0" cy="162.2" r="1.7" fill="#ffc20e"/>
<circle cx="122.8" cy="160.4" r="1.7" fill="#ffc20e"/>
<circle cx="124.0" cy="156.5" r="1.7" fill="#ffc20e"/>
<circle cx="126.7" cy="145.8" r="1.7" fill="#ffc20e"/>
<circle cx="128.5" cy="171.9" r="1.7" fill="#ffc20e"/>
<circle cx="130.3" cy="171.0" r="1.7" fill="#ffc20e"/>
<circle cx="132.2" cy="171.5" r="1.7" fill="#ffc20e"/>
<circle cx="134.0" cy="172.4" r="1.7" fill="#ffc20e"/>
<circle cx="135.9" cy="173.3" r="1.7" fill="#ffc20e"/>
<circle cx="137.8" cy="170.5" r="1.7" fill="#ffc20e"/>
<circle cx="139.7" cy="171.8" r="1.7" fill="#ffc20e"/>
<circle cx="141.5" cy="170.9" r="1.7" fill="#ffc20e"/>
<circle cx="143.4" cy="170.3" r="1.7" fill="#ffc20e"/>
<circle cx="145.3" cy="170.8" r="1.7" fill="#ffc20e"/>
<circle cx="146.9" cy="157.8" r="1.7" fill="#ffc20e"/>
<circle cx="148.8" cy="181.8" r="1.7" fill="#ffc20e"/>
<circle cx="150.9" cy="170.0" r="1.7" fill="#ffc20e"/>
<circle cx="152.7" cy="171.7" r="1.7" fill="#ffc20e"/>
<circle cx="154.6" cy="170.3" r="1.7" fill="#ffc20e"/>
<circle cx="156.5" cy="171.5" r="1.7" fill="#ffc20e"/>
<circle cx="158.4" cy="169.8" r="1.7" fill="#ffc20e"/>
<circle cx="160.2" cy="170.0" r="1.7" fill="#ffc20e"/>
<circle cx="162.1" cy="172.5" r="1.7" fill="#ffc20e"/>
<circle cx="164.0" cy="172.4" r="1.7" fill="#ffc20e"/>
<circle cx="165.8" cy="172.0" r="1.7" fill="#ffc20e"/>
<circle cx="167.7" cy="169.5" r="1.7" fill="#ffc20e"/>
<circle cx="169.6" cy="171.2" r="1.7" fill="#ffc20e"/>
<circle cx="171.4" cy="170.6" r="1.7" fill="#ffc20e"/>
<circle cx="173.3" cy="171.6" r="1.7" fill="#ffc20e"/>
<circle cx="175.2" cy="170.9" r="1.7" fill="#ffc20e"/>
<circle cx="177.1" cy="171.2" r="1.7" fill="#ffc20e"/>
<circle cx="178.9" cy="171.3" r="1.7" fill="#ffc20e"/>
<circle cx="180.8" cy="170.5" r="1.7" fill="#ffc20e"/>
<circle cx="182.7" cy="170.5" r="1.7" fill="#ffc20e"/>
<circle cx="184.0" cy="170.7" r="1.7" fill="#ffc20e"/>
<circle cx="186.5" cy="157.9" r="1.7" fill="#ffc20e"/>
<circle cx="189.0" cy="157.7" r="1.7" fill="#ffc20e"/>
<circle cx="190.1" cy="152.8" r="1.7" fill="#ffc20e"/>
<circle cx="191.3" cy="150.5" r="1.7" fill="#ffc20e"/>
<circle cx="194.2" cy="155.3" r="1.7" fill="#ffc20e"/>
<circle cx="195.8" cy="160.6" r="1.7" fill="#ffc20e"/>
<circle cx="197.0" cy="166.0" r="1.7" fill="#ffc20e"/>
<circle cx="199.0" cy="171.9" r="1.7" fill="#ffc20e"/>
<circle cx="201.4" cy="170.5" r="1.7" fill="#ffc20e"/>
<circle cx="203.2" cy="170.7" r="1.7" fill="#ffc20e"/>
<circle cx="205.1" cy="170.3" r="1.7" fill="#ffc20e"/>
<circle cx="207.0" cy="171.3" r="1.7" fill="#ffc20e"/>
<circle cx="208.8" cy="173.0" r="1.7" fill="#ffc20e"/>
<circle cx="210.7" cy="170.7" r="1.7" fill="#ffc20e"/>
<circle cx="212.6" cy="170.4" r="1.7" fill="#ffc20e"/>
<circle cx="214.5" cy="170.6" r="1.7" fill="#ffc20e"/>
<circle cx="216.3" cy="171.7" r="1.7" fill="#ffc20e"/>
<circle cx="218.8" cy="183.5" r="1.7" fill="#ffc20e"/>
<circle cx="220.1" cy="171.2" r="1.7" fill="#ffc20e"/>
<circle cx="221.9" cy="172.9" r="1.7" fill="#ffc20e"/>
<circle cx="223.8" cy="170.8" r="1.7" fill="#ffc20e"/>
<circle cx="225.7" cy="171.7" r="1.7" fill="#ffc20e"/>
<circle cx="227.5" cy="172.6" r="1.7" fill="#ffc20e"/>
<circle cx="229.4" cy="173.4" r="1.7" fill="#ffc20e"/>
<circle cx="231.3" cy="170.7" r="1.7" fill="#ffc20e"/>
<circle cx="233.2" cy="170.3" r="1.7" fill="#ffc20e"/>
<circle cx="235.0" cy="173.3" r="1.7" fill="#ffc20e"/>
<circle cx="236.9" cy="170.9" r="1.7" fill="#ffc20e"/>
<circle cx="238.8" cy="172.2" r="1.7" fill="#ffc20e"/>
<circle cx="240.6" cy="173.1" r="1.7" fill="#ffc20e"/>
<circle cx="242.5" cy="172.6" r="1.7" fill="#ffc20e"/>
<circle cx="244.4" cy="171.0" r="1.7" fill="#ffc20e"/>
<circle cx="246.2" cy="170.7" r="1.7" fill="#ffc20e"/>
<circle cx="248.4" cy="181.8" r="1.7" fill="#ffc20e"/>
<circle cx="250.0" cy="173.4" r="1.7" fill="#ffc20e"/>
<circle cx="251.9" cy="171.5" r="1.7" fill="#ffc20e"/>
<circle cx="253.7" cy="173.4" r="1.7" fill="#ffc20e"/>
<circle cx="255.6" cy="171.2" r="1.7" fill="#ffc20e"/>
<circle cx="257.5" cy="172.5" r="1.7" fill="#ffc20e"/>
<circle cx="259.3" cy="170.6" r="1.7" fill="#ffc20e"/>
<circle cx="261.2" cy="170.3" r="1.7" fill="#ffc20e"/>
<circle cx="263.1" cy="171.9" r="1.7" fill="#ffc20e"/>
<circle cx="264.9" cy="170.2" r="1.7" fill="#ffc20e"/>
<circle cx="266.8" cy="172.5" r="1.7" fill="#ffc20e"/>
<circle cx="268.7" cy="173.3" r="1.7" fill="#ffc20e"/>
<circle cx="270.6" cy="171.6" r="1.7" fill="#ffc20e"/>
<circle cx="272.4" cy="173.5" r="1.7" fill="#ffc20e"/>
<circle cx="274.3" cy="172.9" r="1.7" fill="#ffc20e"/>
<circle cx="276.2" cy="172.2" r="1.7" fill="#ffc20e"/>
<circle cx="278.0" cy="171.5" r="1.7" fill="#ffc20e"/>
<circle cx="279.9" cy="173.0" r="1.7" fill="#ffc20e"/>
<circle cx="281.8" cy="173.4" r="1.7" fill="#ffc20e"/>
<circle cx="283.6" cy="170.7" r="1.7" fill="#ffc20e"/>
<circle cx="285.5" cy="172.5" r="1.7" fill="#ffc20e"/>
<circle cx="287.4" cy="170.4" r="1.7" fill="#ffc20e"/>
<circle cx="289.3" cy="170.6" r="1.7" fill="#ffc20e"/>
<circle cx="291.1" cy="172.3" r="1.7" fill="#ffc20e"/>
<circle cx="293.0" cy="172.0" r="1.7" fill="#ffc20e"/>
<circle cx="294.9" cy="171.8" r="1.7" fill="#ffc20e"/>
<circle cx="296.7" cy="171.4" r="1.7" fill="#ffc20e"/>
<circle cx="298.6" cy="171.6" r="1.7" fill="#ffc20e"/>
<circle cx="300.5" cy="171.7" r="1.7" fill="#ffc20e"/>
<circle cx="302.3" cy="171.5" r="1.7" fill="#ffc20e"/>
<circle cx="304.2" cy="170.4" r="1.7" fill="#ffc20e"/>
<circle cx="306.1" cy="171.9" r="1.7" fill="#ffc20e"/>
<circle cx="308.0" cy="172.1" r="1.7" fill="#ffc20e"/>
<circle cx="309.8" cy="171.2" r="1.7" fill="#ffc20e"/>
<circle cx="311.7" cy="172.8" r="1.7" fill="#ffc20e"/>
<circle cx="313.6" cy="172.6" r="1.7" fill="#ffc20e"/>
<circle cx="315.4" cy="170.3" r="1.7" fill="#ffc20e"/>
<circle cx="317.3" cy="171.8" r="1.7" fill="#ffc20e"/>
<circle cx="320.0" cy="158.8" r="1.7" fill="#ffc20e"/>
<circle cx="321.0" cy="171.7" r="1.7" fill="#ffc20e"/>
<circle cx="322.9" cy="173.5" r="1.7" fill="#ffc20e"/>
<circle cx="325.0" cy="154.1" r="1.7" fill="#ffc20e"/>
<circle cx="326.7" cy="172.2" r="1.7" fill="#ffc20e"/>
<circle cx="328.5" cy="171.6" r="1.7" fill="#ffc20e"/>
<circle cx="330.4" cy="173.5" r="1.7" fill="#ffc20e"/>
<circle cx="332.3" cy="171.5" r="1.7" fill="#ffc20e"/>
<circle cx="334.1" cy="171.5" r="1.7" fill="#ffc20e"/>
<circle cx="336.0" cy="173.4" r="1.7" fill="#ffc20e"/>
<circle cx="337.9" cy="171.5" r="1.7" fill="#ffc20e"/>
<circle cx="339.7" cy="172.0" r="1.7" fill="#ffc20e"/>
<circle cx="341.6" cy="171.3" r="1.7" fill="#ffc20e"/>
<circle cx="343.5" cy="172.4" r="1.7" fill="#ffc20e"/>
<circle cx="345.4" cy="171.2" r="1.7" fill="#ffc20e"/>
<circle cx="347.2" cy="171.1" r="1.7" fill="#ffc20e"/>
<circle cx="349.1" cy="173.5" r="1.7" fill="#ffc20e"/>
<circle cx="351.0" cy="173.4" r="1.7" fill="#ffc20e"/>
<circle cx="352.8" cy="171.3" r="1.7" fill="#ffc20e"/>
<circle cx="354.7" cy="170.4" r="1.7" fill="#ffc20e"/>
<circle cx="356.6" cy="172.7" r="1.7" fill="#ffc20e"/>
<circle cx="358.4" cy="172.0" r="1.7" fill="#ffc20e"/>
<circle cx="360.3" cy="171.6" r="1.7" fill="#ffc20e"/>
<circle cx="362.2" cy="172.5" r="1.7" fill="#ffc20e"/>
<circle cx="364.1" cy="172.4" r="1.7" fill="#ffc20e"/>
<circle cx="365.9" cy="172.5" r="1.7" fill="#ffc20e"/>
<circle cx="367.8" cy="172.3" r="1.7" fill="#ffc20e"/>
<circle cx="369.7" cy="171.6" r="1.7" fill="#ffc20e"/>
<circle cx="373.0" cy="171.9" r="1.7" fill="#ffc20e"/>
<polyline points="55.5,168.9 57.4,170.1 59.2,168.2 61.1,168.5 63.0,170.1 64.8,169.5 67.2,142.2 68.6,144.1 70.1,145.8 72.8,139.8 74.2,137.2 75.4,135.7 77.7,142.2 80.0,160.0 82.6,158.4 83.6,156.3 85.6,154.3 87.6,156.7 90.0,171.9 91.0,172.4 92.0,170.7 94.8,171.6 96.6,169.1 98.5,169.9 100.4,168.7 102.3,170.6 104.1,169.1 106.0,168.0 108.0,168.3 110.0,170.7 112.5,134.5 113.5,150.5 114.5,166.0 117.0,168.3 120.0,169.5 121.0,168.0 122.8,167.5 124.0,168.3 126.7,152.9 128.5,170.7 130.3,172.0 132.2,172.0 134.0,170.5 135.9,169.3 137.8,170.8 139.7,171.3 141.5,170.6 143.4,171.7 145.3,171.1 147.1,170.5 149.0,170.3 150.9,171.0 152.7,170.9 154.6,170.9 156.5,170.2 158.4,170.6 160.2,171.3 162.0,167.2 164.0,168.9 165.8,169.7 167.7,169.4 169.6,170.7 171.4,168.3 173.3,168.7 175.2,170.7 177.1,170.1 178.9,168.9 180.0,169.5 182.7,169.7 184.0,170.7 186.5,157.7 189.0,154.1 190.1,151.5 191.3,151.4 194.2,152.0 195.8,158.0 197.0,162.4 199.0,169.5 201.4,168.6 203.2,169.0 205.1,170.1 207.0,169.3 208.8,168.4 210.7,168.5 212.6,169.5 214.5,169.3 216.3,170.9 218.2,170.3 220.1,168.7 221.9,169.8 223.8,170.5 225.7,169.4 227.5,168.9 229.4,169.0 231.3,169.9 233.2,169.7 235.0,169.5 236.9,168.7 238.8,169.5 240.6,169.8 242.5,169.6 244.4,170.9 246.2,170.8 248.4,159.0 250.0,168.9 251.9,168.1 253.0,161.2 255.6,169.3 257.5,169.8 259.3,170.5 261.2,169.5 263.1,168.2 264.9,168.8 266.8,169.4 268.7,168.5 270.6,170.3 272.4,169.5 274.3,168.2 276.2,169.3 278.0,169.6 279.9,170.2 281.8,169.4 283.6,168.2 285.5,170.9 287.4,168.7 289.3,168.6 291.1,168.4 293.0,168.8 294.9,168.6 296.7,169.5 298.6,169.4 300.5,169.7 302.3,170.8 304.2,168.5 306.1,169.3 308.0,170.4 309.8,169.5 311.7,169.6 313.6,169.9 315.4,170.0 318.0,160.0 319.2,169.4 321.0,169.2 323.0,156.5 324.8,169.2 326.7,169.6 328.5,170.9 330.4,170.3 332.3,170.4 334.1,169.3 336.0,168.5 337.9,168.7 339.7,168.7 341.6,168.6 343.5,170.2 345.4,168.6 347.2,169.0 349.1,170.7 351.0,170.9 352.8,170.9 354.7,168.8 356.6,170.2 358.4,170.6 360.3,169.2 362.2,170.0 364.1,170.8 365.9,170.5 367.8,156.5 369.7,169.4 373.0,169.5" stroke="#ff1a1a" stroke-width="1.5" fill="none" stroke-linejoin="round" />
<circle cx="55.5" cy="168.9" r="1.7" fill="#ff1a1a"/>
<circle cx="57.4" cy="170.1" r="1.7" fill="#ff1a1a"/>
<circle cx="59.2" cy="168.2" r="1.7" fill="#ff1a1a"/>
<circle cx="61.1" cy="168.5" r="1.7" fill="#ff1a1a"/>
<circle cx="63.0" cy="170.1" r="1.7" fill="#ff1a1a"/>
<circle cx="64.8" cy="169.5" r="1.7" fill="#ff1a1a"/>
<circle cx="67.2" cy="142.2" r="1.7" fill="#ff1a1a"/>
<circle cx="68.6" cy="144.1" r="1.7" fill="#ff1a1a"/>
<circle cx="70.1" cy="145.8" r="1.7" fill="#ff1a1a"/>
<circle cx="72.8" cy="139.8" r="1.7" fill="#ff1a1a"/>
<circle cx="74.2" cy="137.2" r="1.7" fill="#ff1a1a"/>
<circle cx="75.4" cy="135.7" r="1.7" fill="#ff1a1a"/>
<circle cx="77.7" cy="142.2" r="1.7" fill="#ff1a1a"/>
<circle cx="80.0" cy="160.0" r="1.7" fill="#ff1a1a"/>
<circle cx="82.6" cy="158.4" r="1.7" fill="#ff1a1a"/>
<circle cx="83.6" cy="156.3" r="1.7" fill="#ff1a1a"/>
<circle cx="85.6" cy="154.3" r="1.7" fill="#ff1a1a"/>
<circle cx="87.6" cy="156.7" r="1.7" fill="#ff1a1a"/>
<circle cx="90.0" cy="171.9" r="1.7" fill="#ff1a1a"/>
<circle cx="91.0" cy="172.4" r="1.7" fill="#ff1a1a"/>
<circle cx="92.0" cy="170.7" r="1.7" fill="#ff1a1a"/>
<circle cx="94.8" cy="171.6" r="1.7" fill="#ff1a1a"/>
<circle cx="96.6" cy="169.1" r="1.7" fill="#ff1a1a"/>
<circle cx="98.5" cy="169.9" r="1.7" fill="#ff1a1a"/>
<circle cx="100.4" cy="168.7" r="1.7" fill="#ff1a1a"/>
<circle cx="102.3" cy="170.6" r="1.7" fill="#ff1a1a"/>
<circle cx="104.1" cy="169.1" r="1.7" fill="#ff1a1a"/>
<circle cx="106.0" cy="168.0" r="1.7" fill="#ff1a1a"/>
<circle cx="108.0" cy="168.3" r="1.7" fill="#ff1a1a"/>
<circle cx="110.0" cy="170.7" r="1.7" fill="#ff1a1a"/>
<circle cx="112.5" cy="134.5" r="1.7" fill="#ff1a1a"/>
<circle cx="113.5" cy="150.5" r="1.7" fill="#ff1a1a"/>
<circle cx="114.5" cy="166.0" r="1.7" fill="#ff1a1a"/>
<circle cx="117.0" cy="168.3" r="1.7" fill="#ff1a1a"/>
<circle cx="120.0" cy="169.5" r="1.7" fill="#ff1a1a"/>
<circle cx="121.0" cy="168.0" r="1.7" fill="#ff1a1a"/>
<circle cx="122.8" cy="167.5" r="1.7" fill="#ff1a1a"/>
<circle cx="124.0" cy="168.3" r="1.7" fill="#ff1a1a"/>
<circle cx="126.7" cy="152.9" r="1.7" fill="#ff1a1a"/>
<circle cx="128.5" cy="170.7" r="1.7" fill="#ff1a1a"/>
<circle cx="130.3" cy="172.0" r="1.7" fill="#ff1a1a"/>
<circle cx="132.2" cy="172.0" r="1.7" fill="#ff1a1a"/>
<circle cx="134.0" cy="170.5" r="1.7" fill="#ff1a1a"/>
<circle cx="135.9" cy="169.3" r="1.7" fill="#ff1a1a"/>
<circle cx="137.8" cy="170.8" r="1.7" fill="#ff1a1a"/>
<circle cx="139.7" cy="171.3" r="1.7" fill="#ff1a1a"/>
<circle cx="141.5" cy="170.6" r="1.7" fill="#ff1a1a"/>
<circle cx="143.4" cy="171.7" r="1.7" fill="#ff1a1a"/>
<circle cx="145.3" cy="171.1" r="1.7" fill="#ff1a1a"/>
<circle cx="147.1" cy="170.5" r="1.7" fill="#ff1a1a"/>
<circle cx="149.0" cy="170.3" r="1.7" fill="#ff1a1a"/>
<circle cx="150.9" cy="171.0" r="1.7" fill="#ff1a1a"/>
<circle cx="152.7" cy="170.9" r="1.7" fill="#ff1a1a"/>
<circle cx="154.6" cy="170.9" r="1.7" fill="#ff1a1a"/>
<circle cx="156.5" cy="170.2" r="1.7" fill="#ff1a1a"/>
<circle cx="158.4" cy="170.6" r="1.7" fill="#ff1a1a"/>
<circle cx="160.2" cy="171.3" r="1.7" fill="#ff1a1a"/>
<circle cx="162.0" cy="167.2" r="1.7" fill="#ff1a1a"/>
<circle cx="164.0" cy="168.9" r="1.7" fill="#ff1a1a"/>
<circle cx="165.8" cy="169.7" r="1.7" fill="#ff1a1a"/>
<circle cx="167.7" cy="169.4" r="1.7" fill="#ff1a1a"/>
<circle cx="169.6" cy="170.7" r="1.7" fill="#ff1a1a"/>
<circle cx="171.4" cy="168.3" r="1.7" fill="#ff1a1a"/>
<circle cx="173.3" cy="168.7" r="1.7" fill="#ff1a1a"/>
<circle cx="175.2" cy="170.7" r="1.7" fill="#ff1a1a"/>
<circle cx="177.1" cy="170.1" r="1.7" fill="#ff1a1a"/>
<circle cx="178.9" cy="168.9" r="1.7" fill="#ff1a1a"/>
<circle cx="180.0" cy="169.5" r="1.7" fill="#ff1a1a"/>
<circle cx="182.7" cy="169.7" r="1.7" fill="#ff1a1a"/>
<circle cx="184.0" cy="170.7" r="1.7" fill="#ff1a1a"/>
<circle cx="186.5" cy="157.7" r="1.7" fill="#ff1a1a"/>
<circle cx="189.0" cy="154.1" r="1.7" fill="#ff1a1a"/>
<circle cx="190.1" cy="151.5" r="1.7" fill="#ff1a1a"/>
<circle cx="191.3" cy="151.4" r="1.7" fill="#ff1a1a"/>
<circle cx="194.2" cy="152.0" r="1.7" fill="#ff1a1a"/>
<circle cx="195.8" cy="158.0" r="1.7" fill="#ff1a1a"/>
<circle cx="197.0" cy="162.4" r="1.7" fill="#ff1a1a"/>
<circle cx="199.0" cy="169.5" r="1.7" fill="#ff1a1a"/>
<circle cx="201.4" cy="168.6" r="1.7" fill="#ff1a1a"/>
<circle cx="203.2" cy="169.0" r="1.7" fill="#ff1a1a"/>
<circle cx="205.1" cy="170.1" r="1.7" fill="#ff1a1a"/>
<circle cx="207.0" cy="169.3" r="1.7" fill="#ff1a1a"/>
<circle cx="208.8" cy="168.4" r="1.7" fill="#ff1a1a"/>
<circle cx="210.7" cy="168.5" r="1.7" fill="#ff1a1a"/>
<circle cx="212.6" cy="169.5" r="1.7" fill="#ff1a1a"/>
<circle cx="214.5" cy="169.3" r="1.7" fill="#ff1a1a"/>
<circle cx="216.3" cy="170.9" r="1.7" fill="#ff1a1a"/>
<circle cx="218.2" cy="170.3" r="1.7" fill="#ff1a1a"/>
<circle cx="220.1" cy="168.7" r="1.7" fill="#ff1a1a"/>
<circle cx="221.9" cy="169.8" r="1.7" fill="#ff1a1a"/>
<circle cx="223.8" cy="170.5" r="1.7" fill="#ff1a1a"/>
<circle cx="225.7" cy="169.4" r="1.7" fill="#ff1a1a"/>
<circle cx="227.5" cy="168.9" r="1.7" fill="#ff1a1a"/>
<circle cx="229.4" cy="169.0" r="1.7" fill="#ff1a1a"/>
<circle cx="231.3" cy="169.9" r="1.7" fill="#ff1a1a"/>
<circle cx="233.2" cy="169.7" r="1.7" fill="#ff1a1a"/>
<circle cx="235.0" cy="169.5" r="1.7" fill="#ff1a1a"/>
<circle cx="236.9" cy="168.7" r="1.7" fill="#ff1a1a"/>
<circle cx="238.8" cy="169.5" r="1.7" fill="#ff1a1a"/>
<circle cx="240.6" cy="169.8" r="1.7" fill="#ff1a1a"/>
<circle cx="242.5" cy="169.6" r="1.7" fill="#ff1a1a"/>
<circle cx="244.4" cy="170.9" r="1.7" fill="#ff1a1a"/>
<circle cx="246.2" cy="170.8" r="1.7" fill="#ff1a1a"/>
<circle cx="248.4" cy="159.0" r="1.7" fill="#ff1a1a"/>
<circle cx="250.0" cy="168.9" r="1.7" fill="#ff1a1a"/>
<circle cx="251.9" cy="168.1" r="1.7" fill="#ff1a1a"/>
<circle cx="253.0" cy="161.2" r="1.7" fill="#ff1a1a"/>
<circle cx="255.6" cy="169.3" r="1.7" fill="#ff1a1a"/>
<circle cx="257.5" cy="169.8" r="1.7" fill="#ff1a1a"/>
<circle cx="259.3" cy="170.5" r="1.7" fill="#ff1a1a"/>
<circle cx="261.2" cy="169.5" r="1.7" fill="#ff1a1a"/>
<circle cx="263.1" cy="168.2" r="1.7" fill="#ff1a1a"/>
<circle cx="264.9" cy="168.8" r="1.7" fill="#ff1a1a"/>
<circle cx="266.8" cy="169.4" r="1.7" fill="#ff1a1a"/>
<circle cx="268.7" cy="168.5" r="1.7" fill="#ff1a1a"/>
<circle cx="270.6" cy="170.3" r="1.7" fill="#ff1a1a"/>
<circle cx="272.4" cy="169.5" r="1.7" fill="#ff1a1a"/>
<circle cx="274.3" cy="168.2" r="1.7" fill="#ff1a1a"/>
<circle cx="276.2" cy="169.3" r="1.7" fill="#ff1a1a"/>
<circle cx="278.0" cy="169.6" r="1.7" fill="#ff1a1a"/>
<circle cx="279.9" cy="170.2" r="1.7" fill="#ff1a1a"/>
<circle cx="281.8" cy="169.4" r="1.7" fill="#ff1a1a"/>
<circle cx="283.6" cy="168.2" r="1.7" fill="#ff1a1a"/>
<circle cx="285.5" cy="170.9" r="1.7" fill="#ff1a1a"/>
<circle cx="287.4" cy="168.7" r="1.7" fill="#ff1a1a"/>
<circle cx="289.3" cy="168.6" r="1.7" fill="#ff1a1a"/>
<circle cx="291.1" cy="168.4" r="1.7" fill="#ff1a1a"/>
<circle cx="293.0" cy="168.8" r="1.7" fill="#ff1a1a"/>
<circle cx="294.9" cy="168.6" r="1.7" fill="#ff1a1a"/>
<circle cx="296.7" cy="169.5" r="1.7" fill="#ff1a1a"/>
<circle cx="298.6" cy="169.4" r="1.7" fill="#ff1a1a"/>
<circle cx="300.5" cy="169.7" r="1.7" fill="#ff1a1a"/>
<circle cx="302.3" cy="170.8" r="1.7" fill="#ff1a1a"/>
<circle cx="304.2" cy="168.5" r="1.7" fill="#ff1a1a"/>
<circle cx="306.1" cy="169.3" r="1.7" fill="#ff1a1a"/>
<circle cx="308.0" cy="170.4" r="1.7" fill="#ff1a1a"/>
<circle cx="309.8" cy="169.5" r="1.7" fill="#ff1a1a"/>
<circle cx="311.7" cy="169.6" r="1.7" fill="#ff1a1a"/>
<circle cx="313.6" cy="169.9" r="1.7" fill="#ff1a1a"/>
<circle cx="315.4" cy="170.0" r="1.7" fill="#ff1a1a"/>
<circle cx="318.0" cy="160.0" r="1.7" fill="#ff1a1a"/>
<circle cx="319.2" cy="169.4" r="1.7" fill="#ff1a1a"/>
<circle cx="321.0" cy="169.2" r="1.7" fill="#ff1a1a"/>
<circle cx="323.0" cy="156.5" r="1.7" fill="#ff1a1a"/>
<circle cx="324.8" cy="169.2" r="1.7" fill="#ff1a1a"/>
<circle cx="326.7" cy="169.6" r="1.7" fill="#ff1a1a"/>
<circle cx="328.5" cy="170.9" r="1.7" fill="#ff1a1a"/>
<circle cx="330.4" cy="170.3" r="1.7" fill="#ff1a1a"/>
<circle cx="332.3" cy="170.4" r="1.7" fill="#ff1a1a"/>
<circle cx="334.1" cy="169.3" r="1.7" fill="#ff1a1a"/>
<circle cx="336.0" cy="168.5" r="1.7" fill="#ff1a1a"/>
<circle cx="337.9" cy="168.7" r="1.7" fill="#ff1a1a"/>
<circle cx="339.7" cy="168.7" r="1.7" fill="#ff1a1a"/>
<circle cx="341.6" cy="168.6" r="1.7" fill="#ff1a1a"/>
<circle cx="343.5" cy="170.2" r="1.7" fill="#ff1a1a"/>
<circle cx="345.4" cy="168.6" r="1.7" fill="#ff1a1a"/>
<circle cx="347.2" cy="169.0" r="1.7" fill="#ff1a1a"/>
<circle cx="349.1" cy="170.7" r="1.7" fill="#ff1a1a"/>
<circle cx="351.0" cy="170.9" r="1.7" fill="#ff1a1a"/>
<circle cx="352.8" cy="170.9" r="1.7" fill="#ff1a1a"/>
<circle cx="354.7" cy="168.8" r="1.7" fill="#ff1a1a"/>
<circle cx="356.6" cy="170.2" r="1.7" fill="#ff1a1a"/>
<circle cx="358.4" cy="170.6" r="1.7" fill="#ff1a1a"/>
<circle cx="360.3" cy="169.2" r="1.7" fill="#ff1a1a"/>
<circle cx="362.2" cy="170.0" r="1.7" fill="#ff1a1a"/>
<circle cx="364.1" cy="170.8" r="1.7" fill="#ff1a1a"/>
<circle cx="365.9" cy="170.5" r="1.7" fill="#ff1a1a"/>
<circle cx="367.8" cy="156.5" r="1.7" fill="#ff1a1a"/>
<circle cx="369.7" cy="169.4" r="1.7" fill="#ff1a1a"/>
<circle cx="373.0" cy="169.5" r="1.7" fill="#ff1a1a"/>
<line x1="53.00" y1="5.65" x2="53.00" y2="219.40" stroke="#555" stroke-width="1.4" />
<line x1="49.80" y1="5.65" x2="53.00" y2="5.65" stroke="#555" stroke-width="1.2" />
<line x1="49.80" y1="29.40" x2="53.00" y2="29.40" stroke="#555" stroke-width="1.2" />
<line x1="49.80" y1="53.15" x2="53.00" y2="53.15" stroke="#555" stroke-width="1.2" />
<line x1="49.80" y1="76.90" x2="53.00" y2="76.90" stroke="#555" stroke-width="1.2" />
<line x1="49.80" y1="100.65" x2="53.00" y2="100.65" stroke="#555" stroke-width="1.2" />
<line x1="49.80" y1="124.40" x2="53.00" y2="124.40" stroke="#555" stroke-width="1.2" />
<line x1="49.80" y1="148.15" x2="53.00" y2="148.15" stroke="#555" stroke-width="1.2" />
<line x1="49.80" y1="171.90" x2="53.00" y2="171.90" stroke="#555" stroke-width="1.2" />
<line x1="49.80" y1="195.65" x2="53.00" y2="195.65" stroke="#555" stroke-width="1.2" />
<line x1="49.80" y1="219.40" x2="53.00" y2="219.40" stroke="#555" stroke-width="1.2" />
<text transform="translate(45.30,10.25) scale(1.0,1)" font-size="12.90" text-anchor="end" fill="#1a1a1a" >14</text>
<text transform="translate(45.30,34.00) scale(1.0,1)" font-size="12.90" text-anchor="end" fill="#1a1a1a" >12</text>
<text transform="translate(45.80,57.75) scale(1.0,1)" font-size="12.90" text-anchor="end" fill="#1a1a1a" >10</text>
<text transform="translate(46.20,81.50) scale(1.0,1)" font-size="12.90" text-anchor="end" fill="#1a1a1a" >8</text>
<text transform="translate(46.40,105.25) scale(1.0,1)" font-size="12.90" text-anchor="end" fill="#1a1a1a" >6</text>
<text transform="translate(46.60,129.00) scale(1.0,1)" font-size="12.90" text-anchor="end" fill="#1a1a1a" >4</text>
<text transform="translate(48.00,152.75) scale(1.0,1)" font-size="12.90" text-anchor="end" fill="#1a1a1a" >2</text>
<text transform="translate(48.00,176.50) scale(1.0,1)" font-size="12.90" text-anchor="end" fill="#1a1a1a" >0</text>
<text transform="translate(48.00,200.25) scale(1.0,1)" font-size="12.90" text-anchor="end" fill="#1a1a1a" >-2</text>
<text transform="translate(48.00,224.00) scale(1.0,1)" font-size="12.90" text-anchor="end" fill="#1a1a1a" >-4</text>
<rect x="63.10" y="45.60" width="29.90" height="134.10" fill="none" stroke="#111" stroke-width="1.5"/>
<text transform="translate(66.40,41.90) scale(1.0,1)" font-size="13.50" fill="#111" >TM1</text>
<polyline points="63.1,179.7 72.2,218.9 162.1,218.9 93.0,179.7" stroke="#555" stroke-width="0.8" fill="none" stroke-linejoin="round" />
<rect x="101.60" y="20.10" width="37.70" height="159.90" fill="none" stroke="#2a44e0" stroke-width="1.5"/>
<text transform="translate(107.80,17.10) scale(1.0,1)" font-size="13.50" fill="#1a22f0" >TM2</text>
<polyline points="101.6,180.0 239.2,219.4 323.0,219.4 139.3,180.0" stroke="#5a78e6" stroke-width="0.8" fill="none" stroke-linejoin="round" />
<rect x="180.30" y="98.00" width="27.60" height="82.60" fill="none" stroke="#c55a28" stroke-width="1.5"/>
<text transform="translate(178.50,94.00) scale(1.0,1)" font-size="13.50" fill="#fa6a1e" >ECL2</text>
<polyline points="180.3,180.6 395.7,219.4 495.0,219.4 207.9,180.6" stroke="#e8735a" stroke-width="0.8" fill="none" stroke-linejoin="round" />
<rect x="307.60" y="130.80" width="31.70" height="50.00" fill="none" stroke="#e8ab1e" stroke-width="1.5"/>
<text transform="translate(308.20,126.10) scale(1.0,1)" font-size="13.50" fill="#e8ab1e" >TM7</text>
<polyline points="307.6,180.8 566.2,219.8 650.0,219.8 339.3,180.8" stroke="#f0b43c" stroke-width="0.8" fill="none" stroke-linejoin="round" />
<circle cx="269.1" cy="43.9" r="2.0" fill="#ff1a1a"/>
<text transform="translate(275.60,47.80) scale(1.0,1)" font-size="13.20" fill="#111" >6000 s</text>
<circle cx="269.1" cy="57.1" r="2.0" fill="#f08232"/>
<text transform="translate(275.60,61.00) scale(1.0,1)" font-size="13.20" fill="#111" >60 s</text>
<circle cx="269.1" cy="70.3" r="2.0" fill="#ffc20e"/>
<text transform="translate(275.60,74.20) scale(1.0,1)" font-size="13.20" fill="#111" >6 s</text>
<circle cx="269.1" cy="83.5" r="2.0" fill="#4472c4"/>
<text transform="translate(275.60,87.40) scale(1.0,1)" font-size="13.20" fill="#111" >0 s</text>
<line x1="262.10" y1="97.30" x2="273.70" y2="97.30" stroke="#828282" stroke-width="2.6" />
<text transform="translate(275.60,101.20) scale(1.0,1)" font-size="13.20" fill="#111" >Sum</text>
<text transform="translate(173.50,28.20) scale(1.06,1)" font-size="12.26" fill="#111" >apo enNTS<tspan font-size="7" dy="2">1</tspan></text>
<text transform="translate(181.40,211.60) scale(1.06,1)" font-size="12.55" fill="#111" >enNTS<tspan font-size="7" dy="2">1</tspan><tspan dy="-2"> + NT8-13</tspan></text>
<line x1="66.00" y1="171.90" x2="91.00" y2="171.90" stroke="#4472c4" stroke-width="1.4" />
<line x1="104.00" y1="171.90" x2="139.00" y2="171.90" stroke="#4472c4" stroke-width="1.4" />
<line x1="182.00" y1="171.90" x2="206.00" y2="171.90" stroke="#4472c4" stroke-width="1.4" />
<line x1="93.90" y1="548.30" x2="93.90" y2="536.03" stroke="#828282" stroke-width="1.7"/>
<line x1="101.10" y1="548.30" x2="101.10" y2="537.09" stroke="#828282" stroke-width="1.7"/>
<line x1="104.20" y1="548.30" x2="104.20" y2="540.75" stroke="#828282" stroke-width="1.7"/>
<line x1="107.80" y1="548.30" x2="107.80" y2="534.73" stroke="#828282" stroke-width="1.7"/>
<line x1="113.00" y1="548.30" x2="113.00" y2="543.58" stroke="#828282" stroke-width="1.7"/>
<line x1="118.00" y1="548.30" x2="118.00" y2="542.40" stroke="#828282" stroke-width="1.7"/>
<line x1="134.20" y1="548.30" x2="134.20" y2="530.60" stroke="#828282" stroke-width="1.7"/>
<line x1="136.20" y1="548.30" x2="136.20" y2="530.01" stroke="#828282" stroke-width="1.7"/>
<line x1="138.30" y1="548.30" x2="138.30" y2="530.60" stroke="#828282" stroke-width="1.7"/>
<line x1="141.00" y1="548.30" x2="141.00" y2="531.78" stroke="#828282" stroke-width="1.7"/>
<line x1="131.00" y1="548.30" x2="131.00" y2="543.58" stroke="#828282" stroke-width="1.7"/>
<line x1="146.00" y1="548.30" x2="146.00" y2="543.58" stroke="#828282" stroke-width="1.7"/>
<line x1="152.00" y1="548.30" x2="152.00" y2="543.58" stroke="#828282" stroke-width="1.7"/>
<line x1="195.30" y1="548.30" x2="195.30" y2="535.67" stroke="#828282" stroke-width="1.7"/>
<line x1="198.90" y1="548.30" x2="198.90" y2="501.57" stroke="#828282" stroke-width="1.7"/>
<line x1="202.20" y1="548.30" x2="202.20" y2="531.54" stroke="#828282" stroke-width="1.7"/>
<line x1="205.50" y1="548.30" x2="205.50" y2="500.51" stroke="#828282" stroke-width="1.7"/>
<line x1="209.00" y1="548.30" x2="209.00" y2="516.44" stroke="#828282" stroke-width="1.7"/>
<line x1="212.70" y1="548.30" x2="212.70" y2="522.34" stroke="#828282" stroke-width="1.7"/>
<line x1="216.00" y1="548.30" x2="216.00" y2="539.33" stroke="#828282" stroke-width="1.7"/>
<line x1="213.50" y1="548.30" x2="213.50" y2="557.74" stroke="#828282" stroke-width="1.7"/>
<line x1="226.00" y1="548.30" x2="226.00" y2="542.40" stroke="#828282" stroke-width="1.7"/>
<line x1="233.00" y1="548.30" x2="233.00" y2="535.32" stroke="#828282" stroke-width="1.7"/>
<line x1="236.00" y1="548.30" x2="236.00" y2="532.96" stroke="#828282" stroke-width="1.7"/>
<line x1="259.50" y1="548.30" x2="259.50" y2="570.72" stroke="#828282" stroke-width="1.7"/>
<line x1="280.00" y1="548.30" x2="280.00" y2="544.76" stroke="#828282" stroke-width="1.7"/>
<line x1="318.00" y1="548.30" x2="318.00" y2="541.22" stroke="#828282" stroke-width="1.7"/>
<line x1="321.00" y1="548.30" x2="321.00" y2="538.86" stroke="#828282" stroke-width="1.7"/>
<line x1="324.00" y1="548.30" x2="324.00" y2="537.68" stroke="#828282" stroke-width="1.7"/>
<line x1="330.50" y1="548.30" x2="330.50" y2="531.78" stroke="#828282" stroke-width="1.7"/>
<line x1="333.00" y1="548.30" x2="333.00" y2="532.96" stroke="#828282" stroke-width="1.7"/>
<line x1="336.00" y1="548.30" x2="336.00" y2="533.55" stroke="#828282" stroke-width="1.7"/>
<line x1="339.00" y1="548.30" x2="339.00" y2="535.32" stroke="#828282" stroke-width="1.7"/>
<line x1="341.50" y1="548.30" x2="341.50" y2="509.36" stroke="#828282" stroke-width="1.7"/>
<line x1="345.00" y1="548.30" x2="345.00" y2="542.40" stroke="#828282" stroke-width="1.7"/>
<polyline points="53.0,548.3 54.9,549.2 56.7,547.8 58.6,547.9 60.5,547.3 63.0,542.4 64.2,548.8 66.1,548.9 68.0,547.7 69.8,547.9 71.7,548.8 73.6,547.9 75.4,548.5 78.0,543.6 79.2,547.6 81.1,549.2 82.9,549.0 84.8,547.4 86.0,541.2 88.5,548.6 90.4,548.9 92.3,547.6 94.1,548.0 96.0,549.1 97.9,548.2 99.8,547.9 101.6,549.1 103.5,547.9 105.4,549.2 107.2,548.7 109.1,549.3 111.0,549.0 112.8,547.2 114.7,548.5 116.6,547.1 118.5,548.4 120.3,548.0 122.2,547.4 124.1,547.9 125.9,549.2 127.8,548.1 129.7,548.0 131.5,549.1 133.4,549.3 135.3,547.4 137.2,548.3 139.0,549.0 140.9,548.4 142.8,549.0 144.6,547.6 146.5,548.3 148.4,549.2 150.2,547.5 152.1,549.3 154.0,548.8 155.9,549.4 157.7,547.7 159.6,549.2 161.5,548.2 163.3,549.3 165.2,548.3 167.1,547.9 169.0,551.8 170.8,548.2 172.7,548.4 174.6,548.3 176.4,548.4 178.3,548.1 180.2,549.3 182.0,548.4 183.9,548.9 185.8,547.4 187.6,547.3 189.5,549.3 191.4,549.1 193.3,547.8 195.1,548.1 197.0,549.4 198.9,547.8 201.5,550.7 203.0,537.7 204.5,547.3 205.5,535.3 208.2,548.5 210.1,548.7 212.0,548.1 213.8,547.3 215.7,548.9 217.6,548.8 219.4,549.0 221.3,548.0 223.2,548.4 225.0,548.9 226.9,548.6 228.8,549.4 230.7,548.7 232.5,547.2 234.4,548.1 236.3,548.8 238.1,547.3 240.0,548.6 241.9,548.9 243.7,549.4 245.6,549.1 247.5,549.0 249.4,548.9 251.2,547.4 253.1,548.9 255.0,548.9 256.8,548.1 259.5,554.2 260.6,547.3 262.4,548.8 264.3,547.7 266.2,548.6 268.1,548.2 269.9,548.1 271.8,547.3 273.7,547.7 275.5,548.3 277.4,547.5 279.3,548.6 281.1,548.6 283.0,547.2 284.9,548.2 286.8,547.7 288.6,548.7 290.5,547.3 292.4,548.0 294.2,548.9 296.1,547.3 298.0,548.4 299.0,551.8 301.7,548.7 303.6,548.9 305.5,549.2 307.3,549.0 309.2,547.8 311.1,549.1 312.9,548.9 314.8,548.4 316.7,548.2 318.5,548.6 320.4,547.6 322.3,548.9 324.2,548.6 326.0,548.5 327.9,549.2 329.8,549.0 331.6,549.1 333.5,547.8 335.4,549.1 337.2,547.9 339.1,549.0 341.0,548.0 342.9,547.9 344.7,548.6 346.6,547.3 348.5,547.9 350.3,548.2 352.2,549.4 354.1,548.5 355.9,548.9 357.8,548.4 359.7,547.3 361.6,547.4 363.4,549.3 365.3,547.9 367.2,547.3 369.0,548.2 370.9,549.3 373.0,548.3" stroke="#4472c4" stroke-width="1.5" fill="none" stroke-linejoin="round" />
<circle cx="53.0" cy="548.3" r="1.6" fill="#4472c4"/>
<circle cx="54.9" cy="549.2" r="1.6" fill="#4472c4"/>
<circle cx="56.7" cy="547.8" r="1.6" fill="#4472c4"/>
<circle cx="58.6" cy="547.9" r="1.6" fill="#4472c4"/>
<circle cx="60.5" cy="547.3" r="1.6" fill="#4472c4"/>
<circle cx="63.0" cy="542.4" r="1.6" fill="#4472c4"/>
<circle cx="64.2" cy="548.8" r="1.6" fill="#4472c4"/>
<circle cx="66.1" cy="548.9" r="1.6" fill="#4472c4"/>
<circle cx="68.0" cy="547.7" r="1.6" fill="#4472c4"/>
<circle cx="69.8" cy="547.9" r="1.6" fill="#4472c4"/>
<circle cx="71.7" cy="548.8" r="1.6" fill="#4472c4"/>
<circle cx="73.6" cy="547.9" r="1.6" fill="#4472c4"/>
<circle cx="75.4" cy="548.5" r="1.6" fill="#4472c4"/>
<circle cx="78.0" cy="543.6" r="1.6" fill="#4472c4"/>
<circle cx="79.2" cy="547.6" r="1.6" fill="#4472c4"/>
<circle cx="81.1" cy="549.2" r="1.6" fill="#4472c4"/>
<circle cx="82.9" cy="549.0" r="1.6" fill="#4472c4"/>
<circle cx="84.8" cy="547.4" r="1.6" fill="#4472c4"/>
<circle cx="86.0" cy="541.2" r="1.6" fill="#4472c4"/>
<circle cx="88.5" cy="548.6" r="1.6" fill="#4472c4"/>
<circle cx="90.4" cy="548.9" r="1.6" fill="#4472c4"/>
<circle cx="92.3" cy="547.6" r="1.6" fill="#4472c4"/>
<circle cx="94.1" cy="548.0" r="1.6" fill="#4472c4"/>
<circle cx="96.0" cy="549.1" r="1.6" fill="#4472c4"/>
<circle cx="97.9" cy="548.2" r="1.6" fill="#4472c4"/>
<circle cx="99.8" cy="547.9" r="1.6" fill="#4472c4"/>
<circle cx="101.6" cy="549.1" r="1.6" fill="#4472c4"/>
<circle cx="103.5" cy="547.9" r="1.6" fill="#4472c4"/>
<circle cx="105.4" cy="549.2" r="1.6" fill="#4472c4"/>
<circle cx="107.2" cy="548.7" r="1.6" fill="#4472c4"/>
<circle cx="109.1" cy="549.3" r="1.6" fill="#4472c4"/>
<circle cx="111.0" cy="549.0" r="1.6" fill="#4472c4"/>
<circle cx="112.8" cy="547.2" r="1.6" fill="#4472c4"/>
<circle cx="114.7" cy="548.5" r="1.6" fill="#4472c4"/>
<circle cx="116.6" cy="547.1" r="1.6" fill="#4472c4"/>
<circle cx="118.5" cy="548.4" r="1.6" fill="#4472c4"/>
<circle cx="120.3" cy="548.0" r="1.6" fill="#4472c4"/>
<circle cx="122.2" cy="547.4" r="1.6" fill="#4472c4"/>
<circle cx="124.1" cy="547.9" r="1.6" fill="#4472c4"/>
<circle cx="125.9" cy="549.2" r="1.6" fill="#4472c4"/>
<circle cx="127.8" cy="548.1" r="1.6" fill="#4472c4"/>
<circle cx="129.7" cy="548.0" r="1.6" fill="#4472c4"/>
<circle cx="131.5" cy="549.1" r="1.6" fill="#4472c4"/>
<circle cx="133.4" cy="549.3" r="1.6" fill="#4472c4"/>
<circle cx="135.3" cy="547.4" r="1.6" fill="#4472c4"/>
<circle cx="137.2" cy="548.3" r="1.6" fill="#4472c4"/>
<circle cx="139.0" cy="549.0" r="1.6" fill="#4472c4"/>
<circle cx="140.9" cy="548.4" r="1.6" fill="#4472c4"/>
<circle cx="142.8" cy="549.0" r="1.6" fill="#4472c4"/>
<circle cx="144.6" cy="547.6" r="1.6" fill="#4472c4"/>
<circle cx="146.5" cy="548.3" r="1.6" fill="#4472c4"/>
<circle cx="148.4" cy="549.2" r="1.6" fill="#4472c4"/>
<circle cx="150.2" cy="547.5" r="1.6" fill="#4472c4"/>
<circle cx="152.1" cy="549.3" r="1.6" fill="#4472c4"/>
<circle cx="154.0" cy="548.8" r="1.6" fill="#4472c4"/>
<circle cx="155.9" cy="549.4" r="1.6" fill="#4472c4"/>
<circle cx="157.7" cy="547.7" r="1.6" fill="#4472c4"/>
<circle cx="159.6" cy="549.2" r="1.6" fill="#4472c4"/>
<circle cx="161.5" cy="548.2" r="1.6" fill="#4472c4"/>
<circle cx="163.3" cy="549.3" r="1.6" fill="#4472c4"/>
<circle cx="165.2" cy="548.3" r="1.6" fill="#4472c4"/>
<circle cx="167.1" cy="547.9" r="1.6" fill="#4472c4"/>
<circle cx="169.0" cy="551.8" r="1.6" fill="#4472c4"/>
<circle cx="170.8" cy="548.2" r="1.6" fill="#4472c4"/>
<circle cx="172.7" cy="548.4" r="1.6" fill="#4472c4"/>
<circle cx="174.6" cy="548.3" r="1.6" fill="#4472c4"/>
<circle cx="176.4" cy="548.4" r="1.6" fill="#4472c4"/>
<circle cx="178.3" cy="548.1" r="1.6" fill="#4472c4"/>
<circle cx="180.2" cy="549.3" r="1.6" fill="#4472c4"/>
<circle cx="182.0" cy="548.4" r="1.6" fill="#4472c4"/>
<circle cx="183.9" cy="548.9" r="1.6" fill="#4472c4"/>
<circle cx="185.8" cy="547.4" r="1.6" fill="#4472c4"/>
<circle cx="187.6" cy="547.3" r="1.6" fill="#4472c4"/>
<circle cx="189.5" cy="549.3" r="1.6" fill="#4472c4"/>
<circle cx="191.4" cy="549.1" r="1.6" fill="#4472c4"/>
<circle cx="193.3" cy="547.8" r="1.6" fill="#4472c4"/>
<circle cx="195.1" cy="548.1" r="1.6" fill="#4472c4"/>
<circle cx="197.0" cy="549.4" r="1.6" fill="#4472c4"/>
<circle cx="198.9" cy="547.8" r="1.6" fill="#4472c4"/>
<circle cx="201.5" cy="550.7" r="1.6" fill="#4472c4"/>
<circle cx="203.0" cy="537.7" r="1.6" fill="#4472c4"/>
<circle cx="204.5" cy="547.3" r="1.6" fill="#4472c4"/>
<circle cx="205.5" cy="535.3" r="1.6" fill="#4472c4"/>
<circle cx="208.2" cy="548.5" r="1.6" fill="#4472c4"/>
<circle cx="210.1" cy="548.7" r="1.6" fill="#4472c4"/>
<circle cx="212.0" cy="548.1" r="1.6" fill="#4472c4"/>
<circle cx="213.8" cy="547.3" r="1.6" fill="#4472c4"/>
<circle cx="215.7" cy="548.9" r="1.6" fill="#4472c4"/>
<circle cx="217.6" cy="548.8" r="1.6" fill="#4472c4"/>
<circle cx="219.4" cy="549.0" r="1.6" fill="#4472c4"/>
<circle cx="221.3" cy="548.0" r="1.6" fill="#4472c4"/>
<circle cx="223.2" cy="548.4" r="1.6" fill="#4472c4"/>
<circle cx="225.0" cy="548.9" r="1.6" fill="#4472c4"/>
<circle cx="226.9" cy="548.6" r="1.6" fill="#4472c4"/>
<circle cx="228.8" cy="549.4" r="1.6" fill="#4472c4"/>
<circle cx="230.7" cy="548.7" r="1.6" fill="#4472c4"/>
<circle cx="232.5" cy="547.2" r="1.6" fill="#4472c4"/>
<circle cx="234.4" cy="548.1" r="1.6" fill="#4472c4"/>
<circle cx="236.3" cy="548.8" r="1.6" fill="#4472c4"/>
<circle cx="238.1" cy="547.3" r="1.6" fill="#4472c4"/>
<circle cx="240.0" cy="548.6" r="1.6" fill="#4472c4"/>
<circle cx="241.9" cy="548.9" r="1.6" fill="#4472c4"/>
<circle cx="243.7" cy="549.4" r="1.6" fill="#4472c4"/>
<circle cx="245.6" cy="549.1" r="1.6" fill="#4472c4"/>
<circle cx="247.5" cy="549.0" r="1.6" fill="#4472c4"/>
<circle cx="249.4" cy="548.9" r="1.6" fill="#4472c4"/>
<circle cx="251.2" cy="547.4" r="1.6" fill="#4472c4"/>
<circle cx="253.1" cy="548.9" r="1.6" fill="#4472c4"/>
<circle cx="255.0" cy="548.9" r="1.6" fill="#4472c4"/>
<circle cx="256.8" cy="548.1" r="1.6" fill="#4472c4"/>
<circle cx="259.5" cy="554.2" r="1.6" fill="#4472c4"/>
<circle cx="260.6" cy="547.3" r="1.6" fill="#4472c4"/>
<circle cx="262.4" cy="548.8" r="1.6" fill="#4472c4"/>
<circle cx="264.3" cy="547.7" r="1.6" fill="#4472c4"/>
<circle cx="266.2" cy="548.6" r="1.6" fill="#4472c4"/>
<circle cx="268.1" cy="548.2" r="1.6" fill="#4472c4"/>
<circle cx="269.9" cy="548.1" r="1.6" fill="#4472c4"/>
<circle cx="271.8" cy="547.3" r="1.6" fill="#4472c4"/>
<circle cx="273.7" cy="547.7" r="1.6" fill="#4472c4"/>
<circle cx="275.5" cy="548.3" r="1.6" fill="#4472c4"/>
<circle cx="277.4" cy="547.5" r="1.6" fill="#4472c4"/>
<circle cx="279.3" cy="548.6" r="1.6" fill="#4472c4"/>
<circle cx="281.1" cy="548.6" r="1.6" fill="#4472c4"/>
<circle cx="283.0" cy="547.2" r="1.6" fill="#4472c4"/>
<circle cx="284.9" cy="548.2" r="1.6" fill="#4472c4"/>
<circle cx="286.8" cy="547.7" r="1.6" fill="#4472c4"/>
<circle cx="288.6" cy="548.7" r="1.6" fill="#4472c4"/>
<circle cx="290.5" cy="547.3" r="1.6" fill="#4472c4"/>
<circle cx="292.4" cy="548.0" r="1.6" fill="#4472c4"/>
<circle cx="294.2" cy="548.9" r="1.6" fill="#4472c4"/>
<circle cx="296.1" cy="547.3" r="1.6" fill="#4472c4"/>
<circle cx="298.0" cy="548.4" r="1.6" fill="#4472c4"/>
<circle cx="299.0" cy="551.8" r="1.6" fill="#4472c4"/>
<circle cx="301.7" cy="548.7" r="1.6" fill="#4472c4"/>
<circle cx="303.6" cy="548.9" r="1.6" fill="#4472c4"/>
<circle cx="305.5" cy="549.2" r="1.6" fill="#4472c4"/>
<circle cx="307.3" cy="549.0" r="1.6" fill="#4472c4"/>
<circle cx="309.2" cy="547.8" r="1.6" fill="#4472c4"/>
<circle cx="311.1" cy="549.1" r="1.6" fill="#4472c4"/>
<circle cx="312.9" cy="548.9" r="1.6" fill="#4472c4"/>
<circle cx="314.8" cy="548.4" r="1.6" fill="#4472c4"/>
<circle cx="316.7" cy="548.2" r="1.6" fill="#4472c4"/>
<circle cx="318.5" cy="548.6" r="1.6" fill="#4472c4"/>
<circle cx="320.4" cy="547.6" r="1.6" fill="#4472c4"/>
<circle cx="322.3" cy="548.9" r="1.6" fill="#4472c4"/>
<circle cx="324.2" cy="548.6" r="1.6" fill="#4472c4"/>
<circle cx="326.0" cy="548.5" r="1.6" fill="#4472c4"/>
<circle cx="327.9" cy="549.2" r="1.6" fill="#4472c4"/>
<circle cx="329.8" cy="549.0" r="1.6" fill="#4472c4"/>
<circle cx="331.6" cy="549.1" r="1.6" fill="#4472c4"/>
<circle cx="333.5" cy="547.8" r="1.6" fill="#4472c4"/>
<circle cx="335.4" cy="549.1" r="1.6" fill="#4472c4"/>
<circle cx="337.2" cy="547.9" r="1.6" fill="#4472c4"/>
<circle cx="339.1" cy="549.0" r="1.6" fill="#4472c4"/>
<circle cx="341.0" cy="548.0" r="1.6" fill="#4472c4"/>
<circle cx="342.9" cy="547.9" r="1.6" fill="#4472c4"/>
<circle cx="344.7" cy="548.6" r="1.6" fill="#4472c4"/>
<circle cx="346.6" cy="547.3" r="1.6" fill="#4472c4"/>
<circle cx="348.5" cy="547.9" r="1.6" fill="#4472c4"/>
<circle cx="350.3" cy="548.2" r="1.6" fill="#4472c4"/>
<circle cx="352.2" cy="549.4" r="1.6" fill="#4472c4"/>
<circle cx="354.1" cy="548.5" r="1.6" fill="#4472c4"/>
<circle cx="355.9" cy="548.9" r="1.6" fill="#4472c4"/>
<circle cx="357.8" cy="548.4" r="1.6" fill="#4472c4"/>
<circle cx="359.7" cy="547.3" r="1.6" fill="#4472c4"/>
<circle cx="361.6" cy="547.4" r="1.6" fill="#4472c4"/>
<circle cx="363.4" cy="549.3" r="1.6" fill="#4472c4"/>
<circle cx="365.3" cy="547.9" r="1.6" fill="#4472c4"/>
<circle cx="367.2" cy="547.3" r="1.6" fill="#4472c4"/>
<circle cx="369.0" cy="548.2" r="1.6" fill="#4472c4"/>
<circle cx="370.9" cy="549.3" r="1.6" fill="#4472c4"/>
<circle cx="373.0" cy="548.3" r="1.6" fill="#4472c4"/>
<polyline points="53.0,547.1 54.9,547.2 56.7,546.7 58.6,546.7 60.5,548.0 62.3,548.3 64.2,547.4 66.1,547.7 68.0,546.4 69.8,546.7 71.7,546.9 73.6,547.0 75.4,546.7 77.3,548.0 79.2,547.3 81.1,547.9 82.9,546.2 84.8,548.2 86.7,546.4 88.5,548.1 90.4,546.7 92.3,547.5 94.1,547.3 96.0,546.3 97.9,548.3 99.8,548.2 101.6,546.1 103.5,547.1 105.4,548.1 107.2,546.0 109.1,546.1 111.0,548.0 112.8,547.3 114.7,548.0 116.6,547.6 118.5,546.8 120.3,547.9 122.2,546.7 124.1,548.2 125.9,547.9 127.8,546.4 129.7,547.4 131.5,547.3 134.0,542.4 136.0,540.0 137.2,546.9 139.0,547.2 140.9,547.4 142.8,548.2 144.6,546.6 146.5,546.0 148.4,546.0 150.2,546.7 152.1,547.5 154.0,547.4 155.9,546.7 157.7,546.7 159.6,548.0 161.5,547.7 163.3,547.4 165.2,547.1 167.1,546.4 168.9,547.1 170.8,548.2 172.7,546.4 174.6,547.3 176.4,547.1 178.3,547.8 180.2,547.3 182.0,547.4 183.9,546.5 185.8,548.1 187.6,547.0 189.5,547.9 191.4,546.7 193.3,548.2 195.1,547.6 197.0,547.5 199.0,542.4 200.7,546.8 202.6,548.2 205.0,541.2 206.3,547.2 208.2,547.8 210.1,547.6 212.0,547.2 213.8,546.0 215.7,547.2 217.6,546.0 219.4,547.9 221.3,546.1 223.2,547.4 225.0,547.9 226.9,546.5 228.8,546.1 230.7,548.3 232.5,547.7 234.4,546.5 236.3,547.5 238.1,547.7 240.0,548.3 241.9,548.2 243.7,546.8 245.6,546.0 247.5,545.9 249.4,547.1 251.2,548.2 253.1,547.5 255.0,542.4 256.8,546.4 259.5,551.8 260.6,546.3 262.4,546.8 264.3,547.8 266.2,547.1 268.1,547.2 269.9,546.8 271.8,547.7 273.7,546.1 275.5,546.2 277.4,547.9 279.3,547.6 281.1,546.2 283.0,547.6 284.9,546.1 286.8,547.1 288.6,546.7 290.5,546.6 292.4,547.8 294.2,547.6 296.1,547.7 298.0,546.7 299.8,546.7 301.7,548.0 303.6,546.2 305.5,547.3 307.3,547.7 309.2,547.3 311.1,546.0 312.9,547.0 314.8,546.8 316.7,546.1 318.5,546.0 320.4,546.5 322.3,547.3 324.2,546.9 326.0,546.2 327.9,546.4 329.8,546.9 331.0,542.4 333.5,547.5 335.4,547.4 337.0,542.4 339.1,546.6 341.0,547.0 342.9,548.3 344.7,546.6 346.6,546.2 348.5,546.4 350.3,546.2 352.2,546.2 354.1,547.0 355.9,546.4 357.8,547.4 359.7,548.1 361.6,547.5 363.4,547.6 365.3,546.1 367.2,546.7 369.0,547.0 370.9,546.8 373.0,547.1" stroke="#f08232" stroke-width="1.5" fill="none" stroke-linejoin="round" />
<circle cx="53.0" cy="547.1" r="1.6" fill="#f08232"/>
<circle cx="54.9" cy="547.2" r="1.6" fill="#f08232"/>
<circle cx="56.7" cy="546.7" r="1.6" fill="#f08232"/>
<circle cx="58.6" cy="546.7" r="1.6" fill="#f08232"/>
<circle cx="60.5" cy="548.0" r="1.6" fill="#f08232"/>
<circle cx="62.3" cy="548.3" r="1.6" fill="#f08232"/>
<circle cx="64.2" cy="547.4" r="1.6" fill="#f08232"/>
<circle cx="66.1" cy="547.7" r="1.6" fill="#f08232"/>
<circle cx="68.0" cy="546.4" r="1.6" fill="#f08232"/>
<circle cx="69.8" cy="546.7" r="1.6" fill="#f08232"/>
<circle cx="71.7" cy="546.9" r="1.6" fill="#f08232"/>
<circle cx="73.6" cy="547.0" r="1.6" fill="#f08232"/>
<circle cx="75.4" cy="546.7" r="1.6" fill="#f08232"/>
<circle cx="77.3" cy="548.0" r="1.6" fill="#f08232"/>
<circle cx="79.2" cy="547.3" r="1.6" fill="#f08232"/>
<circle cx="81.1" cy="547.9" r="1.6" fill="#f08232"/>
<circle cx="82.9" cy="546.2" r="1.6" fill="#f08232"/>
<circle cx="84.8" cy="548.2" r="1.6" fill="#f08232"/>
<circle cx="86.7" cy="546.4" r="1.6" fill="#f08232"/>
<circle cx="88.5" cy="548.1" r="1.6" fill="#f08232"/>
<circle cx="90.4" cy="546.7" r="1.6" fill="#f08232"/>
<circle cx="92.3" cy="547.5" r="1.6" fill="#f08232"/>
<circle cx="94.1" cy="547.3" r="1.6" fill="#f08232"/>
<circle cx="96.0" cy="546.3" r="1.6" fill="#f08232"/>
<circle cx="97.9" cy="548.3" r="1.6" fill="#f08232"/>
<circle cx="99.8" cy="548.2" r="1.6" fill="#f08232"/>
<circle cx="101.6" cy="546.1" r="1.6" fill="#f08232"/>
<circle cx="103.5" cy="547.1" r="1.6" fill="#f08232"/>
<circle cx="105.4" cy="548.1" r="1.6" fill="#f08232"/>
<circle cx="107.2" cy="546.0" r="1.6" fill="#f08232"/>
<circle cx="109.1" cy="546.1" r="1.6" fill="#f08232"/>
<circle cx="111.0" cy="548.0" r="1.6" fill="#f08232"/>
<circle cx="112.8" cy="547.3" r="1.6" fill="#f08232"/>
<circle cx="114.7" cy="548.0" r="1.6" fill="#f08232"/>
<circle cx="116.6" cy="547.6" r="1.6" fill="#f08232"/>
<circle cx="118.5" cy="546.8" r="1.6" fill="#f08232"/>
<circle cx="120.3" cy="547.9" r="1.6" fill="#f08232"/>
<circle cx="122.2" cy="546.7" r="1.6" fill="#f08232"/>
<circle cx="124.1" cy="548.2" r="1.6" fill="#f08232"/>
<circle cx="125.9" cy="547.9" r="1.6" fill="#f08232"/>
<circle cx="127.8" cy="546.4" r="1.6" fill="#f08232"/>
<circle cx="129.7" cy="547.4" r="1.6" fill="#f08232"/>
<circle cx="131.5" cy="547.3" r="1.6" fill="#f08232"/>
<circle cx="134.0" cy="542.4" r="1.6" fill="#f08232"/>
<circle cx="136.0" cy="540.0" r="1.6" fill="#f08232"/>
<circle cx="137.2" cy="546.9" r="1.6" fill="#f08232"/>
<circle cx="139.0" cy="547.2" r="1.6" fill="#f08232"/>
<circle cx="140.9" cy="547.4" r="1.6" fill="#f08232"/>
<circle cx="142.8" cy="548.2" r="1.6" fill="#f08232"/>
<circle cx="144.6" cy="546.6" r="1.6" fill="#f08232"/>
<circle cx="146.5" cy="546.0" r="1.6" fill="#f08232"/>
<circle cx="148.4" cy="546.0" r="1.6" fill="#f08232"/>
<circle cx="150.2" cy="546.7" r="1.6" fill="#f08232"/>
<circle cx="152.1" cy="547.5" r="1.6" fill="#f08232"/>
<circle cx="154.0" cy="547.4" r="1.6" fill="#f08232"/>
<circle cx="155.9" cy="546.7" r="1.6" fill="#f08232"/>
<circle cx="157.7" cy="546.7" r="1.6" fill="#f08232"/>
<circle cx="159.6" cy="548.0" r="1.6" fill="#f08232"/>
<circle cx="161.5" cy="547.7" r="1.6" fill="#f08232"/>
<circle cx="163.3" cy="547.4" r="1.6" fill="#f08232"/>
<circle cx="165.2" cy="547.1" r="1.6" fill="#f08232"/>
<circle cx="167.1" cy="546.4" r="1.6" fill="#f08232"/>
<circle cx="168.9" cy="547.1" r="1.6" fill="#f08232"/>
<circle cx="170.8" cy="548.2" r="1.6" fill="#f08232"/>
<circle cx="172.7" cy="546.4" r="1.6" fill="#f08232"/>
<circle cx="174.6" cy="547.3" r="1.6" fill="#f08232"/>
<circle cx="176.4" cy="547.1" r="1.6" fill="#f08232"/>
<circle cx="178.3" cy="547.8" r="1.6" fill="#f08232"/>
<circle cx="180.2" cy="547.3" r="1.6" fill="#f08232"/>
<circle cx="182.0" cy="547.4" r="1.6" fill="#f08232"/>
<circle cx="183.9" cy="546.5" r="1.6" fill="#f08232"/>
<circle cx="185.8" cy="548.1" r="1.6" fill="#f08232"/>
<circle cx="187.6" cy="547.0" r="1.6" fill="#f08232"/>
<circle cx="189.5" cy="547.9" r="1.6" fill="#f08232"/>
<circle cx="191.4" cy="546.7" r="1.6" fill="#f08232"/>
<circle cx="193.3" cy="548.2" r="1.6" fill="#f08232"/>
<circle cx="195.1" cy="547.6" r="1.6" fill="#f08232"/>
<circle cx="197.0" cy="547.5" r="1.6" fill="#f08232"/>
<circle cx="199.0" cy="542.4" r="1.6" fill="#f08232"/>
<circle cx="200.7" cy="546.8" r="1.6" fill="#f08232"/>
<circle cx="202.6" cy="548.2" r="1.6" fill="#f08232"/>
<circle cx="205.0" cy="541.2" r="1.6" fill="#f08232"/>
<circle cx="206.3" cy="547.2" r="1.6" fill="#f08232"/>
<circle cx="208.2" cy="547.8" r="1.6" fill="#f08232"/>
<circle cx="210.1" cy="547.6" r="1.6" fill="#f08232"/>
<circle cx="212.0" cy="547.2" r="1.6" fill="#f08232"/>
<circle cx="213.8" cy="546.0" r="1.6" fill="#f08232"/>
<circle cx="215.7" cy="547.2" r="1.6" fill="#f08232"/>
<circle cx="217.6" cy="546.0" r="1.6" fill="#f08232"/>
<circle cx="219.4" cy="547.9" r="1.6" fill="#f08232"/>
<circle cx="221.3" cy="546.1" r="1.6" fill="#f08232"/>
<circle cx="223.2" cy="547.4" r="1.6" fill="#f08232"/>
<circle cx="225.0" cy="547.9" r="1.6" fill="#f08232"/>
<circle cx="226.9" cy="546.5" r="1.6" fill="#f08232"/>
<circle cx="228.8" cy="546.1" r="1.6" fill="#f08232"/>
<circle cx="230.7" cy="548.3" r="1.6" fill="#f08232"/>
<circle cx="232.5" cy="547.7" r="1.6" fill="#f08232"/>
<circle cx="234.4" cy="546.5" r="1.6" fill="#f08232"/>
<circle cx="236.3" cy="547.5" r="1.6" fill="#f08232"/>
<circle cx="238.1" cy="547.7" r="1.6" fill="#f08232"/>
<circle cx="240.0" cy="548.3" r="1.6" fill="#f08232"/>
<circle cx="241.9" cy="548.2" r="1.6" fill="#f08232"/>
<circle cx="243.7" cy="546.8" r="1.6" fill="#f08232"/>
<circle cx="245.6" cy="546.0" r="1.6" fill="#f08232"/>
<circle cx="247.5" cy="545.9" r="1.6" fill="#f08232"/>
<circle cx="249.4" cy="547.1" r="1.6" fill="#f08232"/>
<circle cx="251.2" cy="548.2" r="1.6" fill="#f08232"/>
<circle cx="253.1" cy="547.5" r="1.6" fill="#f08232"/>
<circle cx="255.0" cy="542.4" r="1.6" fill="#f08232"/>
<circle cx="256.8" cy="546.4" r="1.6" fill="#f08232"/>
<circle cx="259.5" cy="551.8" r="1.6" fill="#f08232"/>
<circle cx="260.6" cy="546.3" r="1.6" fill="#f08232"/>
<circle cx="262.4" cy="546.8" r="1.6" fill="#f08232"/>
<circle cx="264.3" cy="547.8" r="1.6" fill="#f08232"/>
<circle cx="266.2" cy="547.1" r="1.6" fill="#f08232"/>
<circle cx="268.1" cy="547.2" r="1.6" fill="#f08232"/>
<circle cx="269.9" cy="546.8" r="1.6" fill="#f08232"/>
<circle cx="271.8" cy="547.7" r="1.6" fill="#f08232"/>
<circle cx="273.7" cy="546.1" r="1.6" fill="#f08232"/>
<circle cx="275.5" cy="546.2" r="1.6" fill="#f08232"/>
<circle cx="277.4" cy="547.9" r="1.6" fill="#f08232"/>
<circle cx="279.3" cy="547.6" r="1.6" fill="#f08232"/>
<circle cx="281.1" cy="546.2" r="1.6" fill="#f08232"/>
<circle cx="283.0" cy="547.6" r="1.6" fill="#f08232"/>
<circle cx="284.9" cy="546.1" r="1.6" fill="#f08232"/>
<circle cx="286.8" cy="547.1" r="1.6" fill="#f08232"/>
<circle cx="288.6" cy="546.7" r="1.6" fill="#f08232"/>
<circle cx="290.5" cy="546.6" r="1.6" fill="#f08232"/>
<circle cx="292.4" cy="547.8" r="1.6" fill="#f08232"/>
<circle cx="294.2" cy="547.6" r="1.6" fill="#f08232"/>
<circle cx="296.1" cy="547.7" r="1.6" fill="#f08232"/>
<circle cx="298.0" cy="546.7" r="1.6" fill="#f08232"/>
<circle cx="299.8" cy="546.7" r="1.6" fill="#f08232"/>
<circle cx="301.7" cy="548.0" r="1.6" fill="#f08232"/>
<circle cx="303.6" cy="546.2" r="1.6" fill="#f08232"/>
<circle cx="305.5" cy="547.3" r="1.6" fill="#f08232"/>
<circle cx="307.3" cy="547.7" r="1.6" fill="#f08232"/>
<circle cx="309.2" cy="547.3" r="1.6" fill="#f08232"/>
<circle cx="311.1" cy="546.0" r="1.6" fill="#f08232"/>
<circle cx="312.9" cy="547.0" r="1.6" fill="#f08232"/>
<circle cx="314.8" cy="546.8" r="1.6" fill="#f08232"/>
<circle cx="316.7" cy="546.1" r="1.6" fill="#f08232"/>
<circle cx="318.5" cy="546.0" r="1.6" fill="#f08232"/>
<circle cx="320.4" cy="546.5" r="1.6" fill="#f08232"/>
<circle cx="322.3" cy="547.3" r="1.6" fill="#f08232"/>
<circle cx="324.2" cy="546.9" r="1.6" fill="#f08232"/>
<circle cx="326.0" cy="546.2" r="1.6" fill="#f08232"/>
<circle cx="327.9" cy="546.4" r="1.6" fill="#f08232"/>
<circle cx="329.8" cy="546.9" r="1.6" fill="#f08232"/>
<circle cx="331.0" cy="542.4" r="1.6" fill="#f08232"/>
<circle cx="333.5" cy="547.5" r="1.6" fill="#f08232"/>
<circle cx="335.4" cy="547.4" r="1.6" fill="#f08232"/>
<circle cx="337.0" cy="542.4" r="1.6" fill="#f08232"/>
<circle cx="339.1" cy="546.6" r="1.6" fill="#f08232"/>
<circle cx="341.0" cy="547.0" r="1.6" fill="#f08232"/>
<circle cx="342.9" cy="548.3" r="1.6" fill="#f08232"/>
<circle cx="344.7" cy="546.6" r="1.6" fill="#f08232"/>
<circle cx="346.6" cy="546.2" r="1.6" fill="#f08232"/>
<circle cx="348.5" cy="546.4" r="1.6" fill="#f08232"/>
<circle cx="350.3" cy="546.2" r="1.6" fill="#f08232"/>
<circle cx="352.2" cy="546.2" r="1.6" fill="#f08232"/>
<circle cx="354.1" cy="547.0" r="1.6" fill="#f08232"/>
<circle cx="355.9" cy="546.4" r="1.6" fill="#f08232"/>
<circle cx="357.8" cy="547.4" r="1.6" fill="#f08232"/>
<circle cx="359.7" cy="548.1" r="1.6" fill="#f08232"/>
<circle cx="361.6" cy="547.5" r="1.6" fill="#f08232"/>
<circle cx="363.4" cy="547.6" r="1.6" fill="#f08232"/>
<circle cx="365.3" cy="546.1" r="1.6" fill="#f08232"/>
<circle cx="367.2" cy="546.7" r="1.6" fill="#f08232"/>
<circle cx="369.0" cy="547.0" r="1.6" fill="#f08232"/>
<circle cx="370.9" cy="546.8" r="1.6" fill="#f08232"/>
<circle cx="373.0" cy="547.1" r="1.6" fill="#f08232"/>
<polyline points="53.0,549.2 54.9,549.4 56.7,549.1 58.6,548.2 60.5,549.3 62.3,549.2 64.2,549.0 66.1,550.0 68.0,549.2 69.8,548.9 71.7,548.6 73.6,550.2 75.4,549.7 77.3,550.2 79.2,548.5 81.1,548.8 82.9,550.3 84.8,548.1 86.7,548.1 88.5,548.9 90.4,549.0 92.3,550.1 94.1,550.4 96.0,549.2 97.9,550.3 100.0,549.2 101.6,549.7 103.5,549.3 105.4,549.5 107.2,548.2 109.1,548.0 111.0,546.7 112.0,547.4 114.7,547.3 116.6,547.0 118.5,547.4 120.3,547.0 122.2,547.4 124.1,547.9 125.9,546.2 127.8,546.2 129.7,546.5 131.5,546.8 134.0,542.4 136.0,541.2 138.0,541.2 139.0,547.8 140.0,542.4 142.8,548.0 144.6,547.8 146.5,548.3 148.4,546.7 150.2,547.6 152.1,546.5 154.0,547.6 155.9,546.2 157.7,546.5 159.6,548.5 161.5,548.0 163.3,546.3 165.2,547.4 167.1,546.2 168.9,547.5 170.8,548.3 172.7,547.0 174.6,546.6 176.4,547.8 178.3,548.3 180.2,547.7 182.0,546.2 183.0,543.6 185.0,542.4 187.6,546.7 189.5,548.2 191.4,547.9 193.3,548.2 195.1,548.3 197.0,546.6 198.0,537.7 201.0,540.0 202.6,548.0 205.0,538.9 206.3,547.1 208.0,541.2 210.1,547.4 211.5,551.8 213.8,548.0 215.0,543.6 217.6,546.7 219.4,548.1 221.3,546.9 223.2,548.2 225.0,547.4 226.9,547.9 228.8,547.8 230.7,546.1 233.0,543.6 234.4,546.5 236.0,542.4 238.1,547.7 240.0,546.3 241.9,547.9 243.7,547.5 245.6,546.4 247.5,546.9 249.4,548.2 251.2,546.1 253.1,547.9 255.0,547.8 256.8,546.6 259.5,553.0 260.6,547.6 262.4,547.7 264.3,548.2 266.2,548.2 268.1,547.0 269.9,547.8 271.8,547.0 273.7,547.5 275.5,547.3 277.4,546.1 279.3,547.2 281.1,547.0 283.0,546.3 284.9,547.9 286.8,548.0 288.6,546.2 290.5,546.4 292.4,547.8 294.2,547.9 296.1,546.6 298.0,546.1 299.8,547.9 301.7,546.1 303.6,546.3 305.5,546.9 307.3,547.4 309.2,548.1 311.1,548.3 312.9,546.1 314.8,547.8 316.7,546.7 318.5,547.7 320.4,546.4 322.3,546.9 324.2,547.7 326.0,547.9 327.0,543.6 329.8,546.6 331.0,541.2 334.0,542.4 335.4,548.2 337.0,540.0 339.0,543.6 341.0,547.8 342.9,547.0 344.7,546.3 346.6,546.9 348.5,547.7 350.3,546.2 352.2,547.8 354.1,548.3 355.9,547.7 357.8,547.3 359.7,548.2 361.6,547.9 363.4,547.4 365.3,547.0 367.2,548.0 369.0,547.4 370.9,546.2 373.0,547.1" stroke="#ff1a1a" stroke-width="2.1" fill="none" stroke-linejoin="round" />
<circle cx="53.0" cy="549.2" r="1.9" fill="#ff1a1a"/>
<circle cx="54.9" cy="549.4" r="1.9" fill="#ff1a1a"/>
<circle cx="56.7" cy="549.1" r="1.9" fill="#ff1a1a"/>
<circle cx="58.6" cy="548.2" r="1.9" fill="#ff1a1a"/>
<circle cx="60.5" cy="549.3" r="1.9" fill="#ff1a1a"/>
<circle cx="62.3" cy="549.2" r="1.9" fill="#ff1a1a"/>
<circle cx="64.2" cy="549.0" r="1.9" fill="#ff1a1a"/>
<circle cx="66.1" cy="550.0" r="1.9" fill="#ff1a1a"/>
<circle cx="68.0" cy="549.2" r="1.9" fill="#ff1a1a"/>
<circle cx="69.8" cy="548.9" r="1.9" fill="#ff1a1a"/>
<circle cx="71.7" cy="548.6" r="1.9" fill="#ff1a1a"/>
<circle cx="73.6" cy="550.2" r="1.9" fill="#ff1a1a"/>
<circle cx="75.4" cy="549.7" r="1.9" fill="#ff1a1a"/>
<circle cx="77.3" cy="550.2" r="1.9" fill="#ff1a1a"/>
<circle cx="79.2" cy="548.5" r="1.9" fill="#ff1a1a"/>
<circle cx="81.1" cy="548.8" r="1.9" fill="#ff1a1a"/>
<circle cx="82.9" cy="550.3" r="1.9" fill="#ff1a1a"/>
<circle cx="84.8" cy="548.1" r="1.9" fill="#ff1a1a"/>
<circle cx="86.7" cy="548.1" r="1.9" fill="#ff1a1a"/>
<circle cx="88.5" cy="548.9" r="1.9" fill="#ff1a1a"/>
<circle cx="90.4" cy="549.0" r="1.9" fill="#ff1a1a"/>
<circle cx="92.3" cy="550.1" r="1.9" fill="#ff1a1a"/>
<circle cx="94.1" cy="550.4" r="1.9" fill="#ff1a1a"/>
<circle cx="96.0" cy="549.2" r="1.9" fill="#ff1a1a"/>
<circle cx="97.9" cy="550.3" r="1.9" fill="#ff1a1a"/>
<circle cx="100.0" cy="549.2" r="1.9" fill="#ff1a1a"/>
<circle cx="101.6" cy="549.7" r="1.9" fill="#ff1a1a"/>
<circle cx="103.5" cy="549.3" r="1.9" fill="#ff1a1a"/>
<circle cx="105.4" cy="549.5" r="1.9" fill="#ff1a1a"/>
<circle cx="107.2" cy="548.2" r="1.9" fill="#ff1a1a"/>
<circle cx="109.1" cy="548.0" r="1.9" fill="#ff1a1a"/>
<circle cx="111.0" cy="546.7" r="1.9" fill="#ff1a1a"/>
<circle cx="112.0" cy="547.4" r="1.9" fill="#ff1a1a"/>
<circle cx="114.7" cy="547.3" r="1.9" fill="#ff1a1a"/>
<circle cx="116.6" cy="547.0" r="1.9" fill="#ff1a1a"/>
<circle cx="118.5" cy="547.4" r="1.9" fill="#ff1a1a"/>
<circle cx="120.3" cy="547.0" r="1.9" fill="#ff1a1a"/>
<circle cx="122.2" cy="547.4" r="1.9" fill="#ff1a1a"/>
<circle cx="124.1" cy="547.9" r="1.9" fill="#ff1a1a"/>
<circle cx="125.9" cy="546.2" r="1.9" fill="#ff1a1a"/>
<circle cx="127.8" cy="546.2" r="1.9" fill="#ff1a1a"/>
<circle cx="129.7" cy="546.5" r="1.9" fill="#ff1a1a"/>
<circle cx="131.5" cy="546.8" r="1.9" fill="#ff1a1a"/>
<circle cx="134.0" cy="542.4" r="1.9" fill="#ff1a1a"/>
<circle cx="136.0" cy="541.2" r="1.9" fill="#ff1a1a"/>
<circle cx="138.0" cy="541.2" r="1.9" fill="#ff1a1a"/>
<circle cx="139.0" cy="547.8" r="1.9" fill="#ff1a1a"/>
<circle cx="140.0" cy="542.4" r="1.9" fill="#ff1a1a"/>
<circle cx="142.8" cy="548.0" r="1.9" fill="#ff1a1a"/>
<circle cx="144.6" cy="547.8" r="1.9" fill="#ff1a1a"/>
<circle cx="146.5" cy="548.3" r="1.9" fill="#ff1a1a"/>
<circle cx="148.4" cy="546.7" r="1.9" fill="#ff1a1a"/>
<circle cx="150.2" cy="547.6" r="1.9" fill="#ff1a1a"/>
<circle cx="152.1" cy="546.5" r="1.9" fill="#ff1a1a"/>
<circle cx="154.0" cy="547.6" r="1.9" fill="#ff1a1a"/>
<circle cx="155.9" cy="546.2" r="1.9" fill="#ff1a1a"/>
<circle cx="157.7" cy="546.5" r="1.9" fill="#ff1a1a"/>
<circle cx="159.6" cy="548.5" r="1.9" fill="#ff1a1a"/>
<circle cx="161.5" cy="548.0" r="1.9" fill="#ff1a1a"/>
<circle cx="163.3" cy="546.3" r="1.9" fill="#ff1a1a"/>
<circle cx="165.2" cy="547.4" r="1.9" fill="#ff1a1a"/>
<circle cx="167.1" cy="546.2" r="1.9" fill="#ff1a1a"/>
<circle cx="168.9" cy="547.5" r="1.9" fill="#ff1a1a"/>
<circle cx="170.8" cy="548.3" r="1.9" fill="#ff1a1a"/>
<circle cx="172.7" cy="547.0" r="1.9" fill="#ff1a1a"/>
<circle cx="174.6" cy="546.6" r="1.9" fill="#ff1a1a"/>
<circle cx="176.4" cy="547.8" r="1.9" fill="#ff1a1a"/>
<circle cx="178.3" cy="548.3" r="1.9" fill="#ff1a1a"/>
<circle cx="180.2" cy="547.7" r="1.9" fill="#ff1a1a"/>
<circle cx="182.0" cy="546.2" r="1.9" fill="#ff1a1a"/>
<circle cx="183.0" cy="543.6" r="1.9" fill="#ff1a1a"/>
<circle cx="185.0" cy="542.4" r="1.9" fill="#ff1a1a"/>
<circle cx="187.6" cy="546.7" r="1.9" fill="#ff1a1a"/>
<circle cx="189.5" cy="548.2" r="1.9" fill="#ff1a1a"/>
<circle cx="191.4" cy="547.9" r="1.9" fill="#ff1a1a"/>
<circle cx="193.3" cy="548.2" r="1.9" fill="#ff1a1a"/>
<circle cx="195.1" cy="548.3" r="1.9" fill="#ff1a1a"/>
<circle cx="197.0" cy="546.6" r="1.9" fill="#ff1a1a"/>
<circle cx="198.0" cy="537.7" r="1.9" fill="#ff1a1a"/>
<circle cx="201.0" cy="540.0" r="1.9" fill="#ff1a1a"/>
<circle cx="202.6" cy="548.0" r="1.9" fill="#ff1a1a"/>
<circle cx="205.0" cy="538.9" r="1.9" fill="#ff1a1a"/>
<circle cx="206.3" cy="547.1" r="1.9" fill="#ff1a1a"/>
<circle cx="208.0" cy="541.2" r="1.9" fill="#ff1a1a"/>
<circle cx="210.1" cy="547.4" r="1.9" fill="#ff1a1a"/>
<circle cx="211.5" cy="551.8" r="1.9" fill="#ff1a1a"/>
<circle cx="213.8" cy="548.0" r="1.9" fill="#ff1a1a"/>
<circle cx="215.0" cy="543.6" r="1.9" fill="#ff1a1a"/>
<circle cx="217.6" cy="546.7" r="1.9" fill="#ff1a1a"/>
<circle cx="219.4" cy="548.1" r="1.9" fill="#ff1a1a"/>
<circle cx="221.3" cy="546.9" r="1.9" fill="#ff1a1a"/>
<circle cx="223.2" cy="548.2" r="1.9" fill="#ff1a1a"/>
<circle cx="225.0" cy="547.4" r="1.9" fill="#ff1a1a"/>
<circle cx="226.9" cy="547.9" r="1.9" fill="#ff1a1a"/>
<circle cx="228.8" cy="547.8" r="1.9" fill="#ff1a1a"/>
<circle cx="230.7" cy="546.1" r="1.9" fill="#ff1a1a"/>
<circle cx="233.0" cy="543.6" r="1.9" fill="#ff1a1a"/>
<circle cx="234.4" cy="546.5" r="1.9" fill="#ff1a1a"/>
<circle cx="236.0" cy="542.4" r="1.9" fill="#ff1a1a"/>
<circle cx="238.1" cy="547.7" r="1.9" fill="#ff1a1a"/>
<circle cx="240.0" cy="546.3" r="1.9" fill="#ff1a1a"/>
<circle cx="241.9" cy="547.9" r="1.9" fill="#ff1a1a"/>
<circle cx="243.7" cy="547.5" r="1.9" fill="#ff1a1a"/>
<circle cx="245.6" cy="546.4" r="1.9" fill="#ff1a1a"/>
<circle cx="247.5" cy="546.9" r="1.9" fill="#ff1a1a"/>
<circle cx="249.4" cy="548.2" r="1.9" fill="#ff1a1a"/>
<circle cx="251.2" cy="546.1" r="1.9" fill="#ff1a1a"/>
<circle cx="253.1" cy="547.9" r="1.9" fill="#ff1a1a"/>
<circle cx="255.0" cy="547.8" r="1.9" fill="#ff1a1a"/>
<circle cx="256.8" cy="546.6" r="1.9" fill="#ff1a1a"/>
<circle cx="259.5" cy="553.0" r="1.9" fill="#ff1a1a"/>
<circle cx="260.6" cy="547.6" r="1.9" fill="#ff1a1a"/>
<circle cx="262.4" cy="547.7" r="1.9" fill="#ff1a1a"/>
<circle cx="264.3" cy="548.2" r="1.9" fill="#ff1a1a"/>
<circle cx="266.2" cy="548.2" r="1.9" fill="#ff1a1a"/>
<circle cx="268.1" cy="547.0" r="1.9" fill="#ff1a1a"/>
<circle cx="269.9" cy="547.8" r="1.9" fill="#ff1a1a"/>
<circle cx="271.8" cy="547.0" r="1.9" fill="#ff1a1a"/>
<circle cx="273.7" cy="547.5" r="1.9" fill="#ff1a1a"/>
<circle cx="275.5" cy="547.3" r="1.9" fill="#ff1a1a"/>
<circle cx="277.4" cy="546.1" r="1.9" fill="#ff1a1a"/>
<circle cx="279.3" cy="547.2" r="1.9" fill="#ff1a1a"/>
<circle cx="281.1" cy="547.0" r="1.9" fill="#ff1a1a"/>
<circle cx="283.0" cy="546.3" r="1.9" fill="#ff1a1a"/>
<circle cx="284.9" cy="547.9" r="1.9" fill="#ff1a1a"/>
<circle cx="286.8" cy="548.0" r="1.9" fill="#ff1a1a"/>
<circle cx="288.6" cy="546.2" r="1.9" fill="#ff1a1a"/>
<circle cx="290.5" cy="546.4" r="1.9" fill="#ff1a1a"/>
<circle cx="292.4" cy="547.8" r="1.9" fill="#ff1a1a"/>
<circle cx="294.2" cy="547.9" r="1.9" fill="#ff1a1a"/>
<circle cx="296.1" cy="546.6" r="1.9" fill="#ff1a1a"/>
<circle cx="298.0" cy="546.1" r="1.9" fill="#ff1a1a"/>
<circle cx="299.8" cy="547.9" r="1.9" fill="#ff1a1a"/>
<circle cx="301.7" cy="546.1" r="1.9" fill="#ff1a1a"/>
<circle cx="303.6" cy="546.3" r="1.9" fill="#ff1a1a"/>
<circle cx="305.5" cy="546.9" r="1.9" fill="#ff1a1a"/>
<circle cx="307.3" cy="547.4" r="1.9" fill="#ff1a1a"/>
<circle cx="309.2" cy="548.1" r="1.9" fill="#ff1a1a"/>
<circle cx="311.1" cy="548.3" r="1.9" fill="#ff1a1a"/>
<circle cx="312.9" cy="546.1" r="1.9" fill="#ff1a1a"/>
<circle cx="314.8" cy="547.8" r="1.9" fill="#ff1a1a"/>
<circle cx="316.7" cy="546.7" r="1.9" fill="#ff1a1a"/>
<circle cx="318.5" cy="547.7" r="1.9" fill="#ff1a1a"/>
<circle cx="320.4" cy="546.4" r="1.9" fill="#ff1a1a"/>
<circle cx="322.3" cy="546.9" r="1.9" fill="#ff1a1a"/>
<circle cx="324.2" cy="547.7" r="1.9" fill="#ff1a1a"/>
<circle cx="326.0" cy="547.9" r="1.9" fill="#ff1a1a"/>
<circle cx="327.0" cy="543.6" r="1.9" fill="#ff1a1a"/>
<circle cx="329.8" cy="546.6" r="1.9" fill="#ff1a1a"/>
<circle cx="331.0" cy="541.2" r="1.9" fill="#ff1a1a"/>
<circle cx="334.0" cy="542.4" r="1.9" fill="#ff1a1a"/>
<circle cx="335.4" cy="548.2" r="1.9" fill="#ff1a1a"/>
<circle cx="337.0" cy="540.0" r="1.9" fill="#ff1a1a"/>
<circle cx="339.0" cy="543.6" r="1.9" fill="#ff1a1a"/>
<circle cx="341.0" cy="547.8" r="1.9" fill="#ff1a1a"/>
<circle cx="342.9" cy="547.0" r="1.9" fill="#ff1a1a"/>
<circle cx="344.7" cy="546.3" r="1.9" fill="#ff1a1a"/>
<circle cx="346.6" cy="546.9" r="1.9" fill="#ff1a1a"/>
<circle cx="348.5" cy="547.7" r="1.9" fill="#ff1a1a"/>
<circle cx="350.3" cy="546.2" r="1.9" fill="#ff1a1a"/>
<circle cx="352.2" cy="547.8" r="1.9" fill="#ff1a1a"/>
<circle cx="354.1" cy="548.3" r="1.9" fill="#ff1a1a"/>
<circle cx="355.9" cy="547.7" r="1.9" fill="#ff1a1a"/>
<circle cx="357.8" cy="547.3" r="1.9" fill="#ff1a1a"/>
<circle cx="359.7" cy="548.2" r="1.9" fill="#ff1a1a"/>
<circle cx="361.6" cy="547.9" r="1.9" fill="#ff1a1a"/>
<circle cx="363.4" cy="547.4" r="1.9" fill="#ff1a1a"/>
<circle cx="365.3" cy="547.0" r="1.9" fill="#ff1a1a"/>
<circle cx="367.2" cy="548.0" r="1.9" fill="#ff1a1a"/>
<circle cx="369.0" cy="547.4" r="1.9" fill="#ff1a1a"/>
<circle cx="370.9" cy="546.2" r="1.9" fill="#ff1a1a"/>
<circle cx="373.0" cy="547.1" r="1.9" fill="#ff1a1a"/>
<polyline points="53.0,545.7 54.9,546.4 56.0,541.2 58.6,545.2 60.5,545.2 62.3,544.7 64.2,546.6 66.1,546.5 68.0,546.8 69.8,546.5 71.7,545.1 73.6,546.8 75.0,541.2 77.3,545.7 79.2,546.6 81.1,546.4 82.9,546.0 84.8,544.8 86.7,545.5 88.5,547.2 90.4,546.5 92.3,546.8 94.1,544.8 96.0,545.0 97.9,545.0 99.0,537.7 101.6,544.9 103.5,545.2 105.4,544.6 107.2,545.0 109.1,546.6 111.0,544.9 112.8,545.9 114.7,545.2 116.6,545.7 118.5,546.1 120.3,546.3 122.2,546.1 124.1,546.5 125.9,547.0 128.0,545.9 129.7,543.6 132.0,542.4 133.4,539.3 135.0,537.7 137.5,535.3 139.0,535.4 140.0,537.7 143.0,545.9 144.6,545.4 146.5,545.8 148.4,545.2 150.2,547.0 152.1,545.4 154.0,546.1 155.9,546.9 157.7,546.8 159.6,545.9 161.5,546.6 163.3,546.1 165.2,545.6 167.1,546.2 169.0,554.2 170.8,547.0 172.7,546.0 174.6,546.7 176.4,546.7 178.3,546.8 180.2,546.3 182.0,547.1 183.9,545.5 185.8,544.7 187.6,546.3 189.5,545.3 191.4,544.7 193.3,547.2 196.0,542.4 197.0,547.0 198.5,527.1 201.5,544.8 202.6,545.1 205.0,523.5 207.0,531.8 209.0,536.5 210.1,545.0 211.5,544.8 213.5,551.8 215.5,538.9 218.0,544.8 219.4,545.5 221.3,546.9 223.2,546.2 225.0,544.9 226.9,544.8 228.8,545.1 230.7,546.8 233.0,541.2 234.4,544.9 236.0,542.4 238.1,546.3 240.0,545.3 241.9,547.0 243.7,544.6 245.6,545.6 247.5,545.3 249.4,546.8 251.2,545.6 253.1,545.7 255.0,545.7 257.5,550.7 259.5,559.5 261.5,550.7 262.4,546.3 264.3,545.3 266.2,546.4 268.1,546.5 269.9,546.9 271.8,545.4 273.7,547.0 275.5,546.7 277.4,547.2 279.3,545.5 281.1,545.8 283.0,545.8 284.9,547.2 286.8,546.1 288.6,546.4 290.5,547.1 292.4,547.3 294.2,544.5 296.1,547.0 298.0,546.5 299.8,546.6 301.7,545.7 303.6,547.1 305.5,546.0 307.3,546.3 309.2,545.0 311.1,547.3 312.9,546.4 314.8,545.9 316.7,544.6 318.5,545.9 320.4,546.0 322.3,545.5 324.2,546.5 326.0,547.3 327.0,538.9 330.0,538.9 331.6,545.9 333.0,540.0 335.4,544.8 337.0,537.7 340.0,542.4 341.0,545.3 342.9,546.6 344.7,545.4 346.6,545.0 348.5,546.6 350.3,545.7 352.2,546.3 354.1,546.7 355.9,546.5 357.8,546.8 359.7,546.4 361.6,547.2 363.4,546.2 365.3,547.1 367.2,545.2 369.0,545.7 370.9,547.3 373.0,545.9" stroke="#ffc20e" stroke-width="1.5" fill="none" stroke-linejoin="round" />
<circle cx="53.0" cy="545.7" r="1.8" fill="#ffc20e"/>
<circle cx="54.9" cy="546.4" r="1.8" fill="#ffc20e"/>
<circle cx="56.0" cy="541.2" r="1.8" fill="#ffc20e"/>
<circle cx="58.6" cy="545.2" r="1.8" fill="#ffc20e"/>
<circle cx="60.5" cy="545.2" r="1.8" fill="#ffc20e"/>
<circle cx="62.3" cy="544.7" r="1.8" fill="#ffc20e"/>
<circle cx="64.2" cy="546.6" r="1.8" fill="#ffc20e"/>
<circle cx="66.1" cy="546.5" r="1.8" fill="#ffc20e"/>
<circle cx="68.0" cy="546.8" r="1.8" fill="#ffc20e"/>
<circle cx="69.8" cy="546.5" r="1.8" fill="#ffc20e"/>
<circle cx="71.7" cy="545.1" r="1.8" fill="#ffc20e"/>
<circle cx="73.6" cy="546.8" r="1.8" fill="#ffc20e"/>
<circle cx="75.0" cy="541.2" r="1.8" fill="#ffc20e"/>
<circle cx="77.3" cy="545.7" r="1.8" fill="#ffc20e"/>
<circle cx="79.2" cy="546.6" r="1.8" fill="#ffc20e"/>
<circle cx="81.1" cy="546.4" r="1.8" fill="#ffc20e"/>
<circle cx="82.9" cy="546.0" r="1.8" fill="#ffc20e"/>
<circle cx="84.8" cy="544.8" r="1.8" fill="#ffc20e"/>
<circle cx="86.7" cy="545.5" r="1.8" fill="#ffc20e"/>
<circle cx="88.5" cy="547.2" r="1.8" fill="#ffc20e"/>
<circle cx="90.4" cy="546.5" r="1.8" fill="#ffc20e"/>
<circle cx="92.3" cy="546.8" r="1.8" fill="#ffc20e"/>
<circle cx="94.1" cy="544.8" r="1.8" fill="#ffc20e"/>
<circle cx="96.0" cy="545.0" r="1.8" fill="#ffc20e"/>
<circle cx="97.9" cy="545.0" r="1.8" fill="#ffc20e"/>
<circle cx="99.0" cy="537.7" r="1.8" fill="#ffc20e"/>
<circle cx="101.6" cy="544.9" r="1.8" fill="#ffc20e"/>
<circle cx="103.5" cy="545.2" r="1.8" fill="#ffc20e"/>
<circle cx="105.4" cy="544.6" r="1.8" fill="#ffc20e"/>
<circle cx="107.2" cy="545.0" r="1.8" fill="#ffc20e"/>
<circle cx="109.1" cy="546.6" r="1.8" fill="#ffc20e"/>
<circle cx="111.0" cy="544.9" r="1.8" fill="#ffc20e"/>
<circle cx="112.8" cy="545.9" r="1.8" fill="#ffc20e"/>
<circle cx="114.7" cy="545.2" r="1.8" fill="#ffc20e"/>
<circle cx="116.6" cy="545.7" r="1.8" fill="#ffc20e"/>
<circle cx="118.5" cy="546.1" r="1.8" fill="#ffc20e"/>
<circle cx="120.3" cy="546.3" r="1.8" fill="#ffc20e"/>
<circle cx="122.2" cy="546.1" r="1.8" fill="#ffc20e"/>
<circle cx="124.1" cy="546.5" r="1.8" fill="#ffc20e"/>
<circle cx="125.9" cy="547.0" r="1.8" fill="#ffc20e"/>
<circle cx="128.0" cy="545.9" r="1.8" fill="#ffc20e"/>
<circle cx="129.7" cy="543.6" r="1.8" fill="#ffc20e"/>
<circle cx="132.0" cy="542.4" r="1.8" fill="#ffc20e"/>
<circle cx="133.4" cy="539.3" r="1.8" fill="#ffc20e"/>
<circle cx="135.0" cy="537.7" r="1.8" fill="#ffc20e"/>
<circle cx="137.5" cy="535.3" r="1.8" fill="#ffc20e"/>
<circle cx="139.0" cy="535.4" r="1.8" fill="#ffc20e"/>
<circle cx="140.0" cy="537.7" r="1.8" fill="#ffc20e"/>
<circle cx="143.0" cy="545.9" r="1.8" fill="#ffc20e"/>
<circle cx="144.6" cy="545.4" r="1.8" fill="#ffc20e"/>
<circle cx="146.5" cy="545.8" r="1.8" fill="#ffc20e"/>
<circle cx="148.4" cy="545.2" r="1.8" fill="#ffc20e"/>
<circle cx="150.2" cy="547.0" r="1.8" fill="#ffc20e"/>
<circle cx="152.1" cy="545.4" r="1.8" fill="#ffc20e"/>
<circle cx="154.0" cy="546.1" r="1.8" fill="#ffc20e"/>
<circle cx="155.9" cy="546.9" r="1.8" fill="#ffc20e"/>
<circle cx="157.7" cy="546.8" r="1.8" fill="#ffc20e"/>
<circle cx="159.6" cy="545.9" r="1.8" fill="#ffc20e"/>
<circle cx="161.5" cy="546.6" r="1.8" fill="#ffc20e"/>
<circle cx="163.3" cy="546.1" r="1.8" fill="#ffc20e"/>
<circle cx="165.2" cy="545.6" r="1.8" fill="#ffc20e"/>
<circle cx="167.1" cy="546.2" r="1.8" fill="#ffc20e"/>
<circle cx="169.0" cy="554.2" r="1.8" fill="#ffc20e"/>
<circle cx="170.8" cy="547.0" r="1.8" fill="#ffc20e"/>
<circle cx="172.7" cy="546.0" r="1.8" fill="#ffc20e"/>
<circle cx="174.6" cy="546.7" r="1.8" fill="#ffc20e"/>
<circle cx="176.4" cy="546.7" r="1.8" fill="#ffc20e"/>
<circle cx="178.3" cy="546.8" r="1.8" fill="#ffc20e"/>
<circle cx="180.2" cy="546.3" r="1.8" fill="#ffc20e"/>
<circle cx="182.0" cy="547.1" r="1.8" fill="#ffc20e"/>
<circle cx="183.9" cy="545.5" r="1.8" fill="#ffc20e"/>
<circle cx="185.8" cy="544.7" r="1.8" fill="#ffc20e"/>
<circle cx="187.6" cy="546.3" r="1.8" fill="#ffc20e"/>
<circle cx="189.5" cy="545.3" r="1.8" fill="#ffc20e"/>
<circle cx="191.4" cy="544.7" r="1.8" fill="#ffc20e"/>
<circle cx="193.3" cy="547.2" r="1.8" fill="#ffc20e"/>
<circle cx="196.0" cy="542.4" r="1.8" fill="#ffc20e"/>
<circle cx="197.0" cy="547.0" r="1.8" fill="#ffc20e"/>
<circle cx="198.5" cy="527.1" r="1.8" fill="#ffc20e"/>
<circle cx="201.5" cy="544.8" r="1.8" fill="#ffc20e"/>
<circle cx="202.6" cy="545.1" r="1.8" fill="#ffc20e"/>
<circle cx="205.0" cy="523.5" r="1.8" fill="#ffc20e"/>
<circle cx="207.0" cy="531.8" r="1.8" fill="#ffc20e"/>
<circle cx="209.0" cy="536.5" r="1.8" fill="#ffc20e"/>
<circle cx="210.1" cy="545.0" r="1.8" fill="#ffc20e"/>
<circle cx="211.5" cy="544.8" r="1.8" fill="#ffc20e"/>
<circle cx="213.5" cy="551.8" r="1.8" fill="#ffc20e"/>
<circle cx="215.5" cy="538.9" r="1.8" fill="#ffc20e"/>
<circle cx="218.0" cy="544.8" r="1.8" fill="#ffc20e"/>
<circle cx="219.4" cy="545.5" r="1.8" fill="#ffc20e"/>
<circle cx="221.3" cy="546.9" r="1.8" fill="#ffc20e"/>
<circle cx="223.2" cy="546.2" r="1.8" fill="#ffc20e"/>
<circle cx="225.0" cy="544.9" r="1.8" fill="#ffc20e"/>
<circle cx="226.9" cy="544.8" r="1.8" fill="#ffc20e"/>
<circle cx="228.8" cy="545.1" r="1.8" fill="#ffc20e"/>
<circle cx="230.7" cy="546.8" r="1.8" fill="#ffc20e"/>
<circle cx="233.0" cy="541.2" r="1.8" fill="#ffc20e"/>
<circle cx="234.4" cy="544.9" r="1.8" fill="#ffc20e"/>
<circle cx="236.0" cy="542.4" r="1.8" fill="#ffc20e"/>
<circle cx="238.1" cy="546.3" r="1.8" fill="#ffc20e"/>
<circle cx="240.0" cy="545.3" r="1.8" fill="#ffc20e"/>
<circle cx="241.9" cy="547.0" r="1.8" fill="#ffc20e"/>
<circle cx="243.7" cy="544.6" r="1.8" fill="#ffc20e"/>
<circle cx="245.6" cy="545.6" r="1.8" fill="#ffc20e"/>
<circle cx="247.5" cy="545.3" r="1.8" fill="#ffc20e"/>
<circle cx="249.4" cy="546.8" r="1.8" fill="#ffc20e"/>
<circle cx="251.2" cy="545.6" r="1.8" fill="#ffc20e"/>
<circle cx="253.1" cy="545.7" r="1.8" fill="#ffc20e"/>
<circle cx="255.0" cy="545.7" r="1.8" fill="#ffc20e"/>
<circle cx="257.5" cy="550.7" r="1.8" fill="#ffc20e"/>
<circle cx="259.5" cy="559.5" r="1.8" fill="#ffc20e"/>
<circle cx="261.5" cy="550.7" r="1.8" fill="#ffc20e"/>
<circle cx="262.4" cy="546.3" r="1.8" fill="#ffc20e"/>
<circle cx="264.3" cy="545.3" r="1.8" fill="#ffc20e"/>
<circle cx="266.2" cy="546.4" r="1.8" fill="#ffc20e"/>
<circle cx="268.1" cy="546.5" r="1.8" fill="#ffc20e"/>
<circle cx="269.9" cy="546.9" r="1.8" fill="#ffc20e"/>
<circle cx="271.8" cy="545.4" r="1.8" fill="#ffc20e"/>
<circle cx="273.7" cy="547.0" r="1.8" fill="#ffc20e"/>
<circle cx="275.5" cy="546.7" r="1.8" fill="#ffc20e"/>
<circle cx="277.4" cy="547.2" r="1.8" fill="#ffc20e"/>
<circle cx="279.3" cy="545.5" r="1.8" fill="#ffc20e"/>
<circle cx="281.1" cy="545.8" r="1.8" fill="#ffc20e"/>
<circle cx="283.0" cy="545.8" r="1.8" fill="#ffc20e"/>
<circle cx="284.9" cy="547.2" r="1.8" fill="#ffc20e"/>
<circle cx="286.8" cy="546.1" r="1.8" fill="#ffc20e"/>
<circle cx="288.6" cy="546.4" r="1.8" fill="#ffc20e"/>
<circle cx="290.5" cy="547.1" r="1.8" fill="#ffc20e"/>
<circle cx="292.4" cy="547.3" r="1.8" fill="#ffc20e"/>
<circle cx="294.2" cy="544.5" r="1.8" fill="#ffc20e"/>
<circle cx="296.1" cy="547.0" r="1.8" fill="#ffc20e"/>
<circle cx="298.0" cy="546.5" r="1.8" fill="#ffc20e"/>
<circle cx="299.8" cy="546.6" r="1.8" fill="#ffc20e"/>
<circle cx="301.7" cy="545.7" r="1.8" fill="#ffc20e"/>
<circle cx="303.6" cy="547.1" r="1.8" fill="#ffc20e"/>
<circle cx="305.5" cy="546.0" r="1.8" fill="#ffc20e"/>
<circle cx="307.3" cy="546.3" r="1.8" fill="#ffc20e"/>
<circle cx="309.2" cy="545.0" r="1.8" fill="#ffc20e"/>
<circle cx="311.1" cy="547.3" r="1.8" fill="#ffc20e"/>
<circle cx="312.9" cy="546.4" r="1.8" fill="#ffc20e"/>
<circle cx="314.8" cy="545.9" r="1.8" fill="#ffc20e"/>
<circle cx="316.7" cy="544.6" r="1.8" fill="#ffc20e"/>
<circle cx="318.5" cy="545.9" r="1.8" fill="#ffc20e"/>
<circle cx="320.4" cy="546.0" r="1.8" fill="#ffc20e"/>
<circle cx="322.3" cy="545.5" r="1.8" fill="#ffc20e"/>
<circle cx="324.2" cy="546.5" r="1.8" fill="#ffc20e"/>
<circle cx="326.0" cy="547.3" r="1.8" fill="#ffc20e"/>
<circle cx="327.0" cy="538.9" r="1.8" fill="#ffc20e"/>
<circle cx="330.0" cy="538.9" r="1.8" fill="#ffc20e"/>
<circle cx="331.6" cy="545.9" r="1.8" fill="#ffc20e"/>
<circle cx="333.0" cy="540.0" r="1.8" fill="#ffc20e"/>
<circle cx="335.4" cy="544.8" r="1.8" fill="#ffc20e"/>
<circle cx="337.0" cy="537.7" r="1.8" fill="#ffc20e"/>
<circle cx="340.0" cy="542.4" r="1.8" fill="#ffc20e"/>
<circle cx="341.0" cy="545.3" r="1.8" fill="#ffc20e"/>
<circle cx="342.9" cy="546.6" r="1.8" fill="#ffc20e"/>
<circle cx="344.7" cy="545.4" r="1.8" fill="#ffc20e"/>
<circle cx="346.6" cy="545.0" r="1.8" fill="#ffc20e"/>
<circle cx="348.5" cy="546.6" r="1.8" fill="#ffc20e"/>
<circle cx="350.3" cy="545.7" r="1.8" fill="#ffc20e"/>
<circle cx="352.2" cy="546.3" r="1.8" fill="#ffc20e"/>
<circle cx="354.1" cy="546.7" r="1.8" fill="#ffc20e"/>
<circle cx="355.9" cy="546.5" r="1.8" fill="#ffc20e"/>
<circle cx="357.8" cy="546.8" r="1.8" fill="#ffc20e"/>
<circle cx="359.7" cy="546.4" r="1.8" fill="#ffc20e"/>
<circle cx="361.6" cy="547.2" r="1.8" fill="#ffc20e"/>
<circle cx="363.4" cy="546.2" r="1.8" fill="#ffc20e"/>
<circle cx="365.3" cy="547.1" r="1.8" fill="#ffc20e"/>
<circle cx="367.2" cy="545.2" r="1.8" fill="#ffc20e"/>
<circle cx="369.0" cy="545.7" r="1.8" fill="#ffc20e"/>
<circle cx="370.9" cy="547.3" r="1.8" fill="#ffc20e"/>
<circle cx="373.0" cy="545.9" r="1.8" fill="#ffc20e"/>
<line x1="52.20" y1="383.10" x2="52.20" y2="595.50" stroke="#111" stroke-width="1.4" />
<line x1="49.00" y1="383.10" x2="52.20" y2="383.10" stroke="#111" stroke-width="1.2" />
<line x1="49.00" y1="406.70" x2="52.20" y2="406.70" stroke="#111" stroke-width="1.2" />
<line x1="49.00" y1="430.30" x2="52.20" y2="430.30" stroke="#111" stroke-width="1.2" />
<line x1="49.00" y1="453.90" x2="52.20" y2="453.90" stroke="#111" stroke-width="1.2" />
<line x1="49.00" y1="477.50" x2="52.20" y2="477.50" stroke="#111" stroke-width="1.2" />
<line x1="49.00" y1="501.10" x2="52.20" y2="501.10" stroke="#111" stroke-width="1.2" />
<line x1="49.00" y1="524.70" x2="52.20" y2="524.70" stroke="#111" stroke-width="1.2" />
<line x1="49.00" y1="548.30" x2="52.20" y2="548.30" stroke="#111" stroke-width="1.2" />
<line x1="49.00" y1="571.90" x2="52.20" y2="571.90" stroke="#111" stroke-width="1.2" />
<line x1="49.00" y1="595.50" x2="52.20" y2="595.50" stroke="#111" stroke-width="1.2" />
<text transform="translate(44.80,387.70) scale(1.0,1)" font-size="12.90" text-anchor="end" fill="#1a1a1a" >14</text>
<text transform="translate(44.80,411.30) scale(1.0,1)" font-size="12.90" text-anchor="end" fill="#1a1a1a" >12</text>
<text transform="translate(45.50,434.90) scale(1.0,1)" font-size="12.90" text-anchor="end" fill="#1a1a1a" >10</text>
<text transform="translate(46.00,458.50) scale(1.0,1)" font-size="12.90" text-anchor="end" fill="#1a1a1a" >8</text>
<text transform="translate(46.00,482.10) scale(1.0,1)" font-size="12.90" text-anchor="end" fill="#1a1a1a" >6</text>
<text transform="translate(46.30,505.70) scale(1.0,1)" font-size="12.90" text-anchor="end" fill="#1a1a1a" >4</text>
<text transform="translate(47.00,529.30) scale(1.0,1)" font-size="12.90" text-anchor="end" fill="#1a1a1a" >2</text>
<text transform="translate(47.00,552.90) scale(1.0,1)" font-size="12.90" text-anchor="end" fill="#1a1a1a" >0</text>
<text transform="translate(47.00,576.50) scale(1.0,1)" font-size="12.90" text-anchor="end" fill="#1a1a1a" >-2</text>
<text transform="translate(47.00,600.10) scale(1.0,1)" font-size="12.90" text-anchor="end" fill="#1a1a1a" >-4</text>
<rect x="66.40" y="523.40" width="33.00" height="34.60" fill="none" stroke="#111" stroke-width="1.5"/>
<text transform="translate(72.20,519.40) scale(1.0,1)" font-size="13.50" fill="#111" >TM1</text>
<polyline points="66.4,558.0 69.6,595.3 155.8,595.3 99.4,558.0" stroke="#555" stroke-width="0.8" fill="none" stroke-linejoin="round" />
<rect x="122.80" y="523.40" width="33.00" height="34.60" fill="none" stroke="#2a44e0" stroke-width="1.5"/>
<text transform="translate(126.40,519.40) scale(1.0,1)" font-size="13.50" fill="#1a22f0" >TM2</text>
<polyline points="122.8,558.0 231.1,595.3 314.9,595.3 155.8,558.0" stroke="#5a78e6" stroke-width="0.8" fill="none" stroke-linejoin="round" />
<rect x="190.20" y="494.60" width="33.60" height="63.40" fill="none" stroke="#c55a28" stroke-width="1.5"/>
<text transform="translate(192.00,490.60) scale(1.0,1)" font-size="13.50" fill="#fa6a1e" >ECL2</text>
<polyline points="190.2,558.0 385.5,595.3 486.5,595.3 223.8,558.0" stroke="#e8735a" stroke-width="0.8" fill="none" stroke-linejoin="round" />
<rect x="311.60" y="496.00" width="42.20" height="62.00" fill="none" stroke="#e8ab1e" stroke-width="1.5"/>
<text transform="translate(318.10,490.60) scale(1.0,1)" font-size="13.50" fill="#e8ab1e" >TM7</text>
<polyline points="311.6,558.0 546.6,595.3 629.6,595.3 353.8,558.0" stroke="#f0b43c" stroke-width="0.8" fill="none" stroke-linejoin="round" />
<circle cx="270.3" cy="422.7" r="2.0" fill="#ff1a1a"/>
<text transform="translate(276.30,426.60) scale(1.0,1)" font-size="13.20" fill="#111" >6000 s</text>
<circle cx="270.3" cy="435.9" r="2.0" fill="#f08232"/>
<text transform="translate(276.30,439.80) scale(1.0,1)" font-size="13.20" fill="#111" >60 s</text>
<circle cx="270.3" cy="449.1" r="2.0" fill="#ffc20e"/>
<text transform="translate(276.30,453.00) scale(1.0,1)" font-size="13.20" fill="#111" >6 s</text>
<circle cx="270.3" cy="462.3" r="2.0" fill="#4472c4"/>
<text transform="translate(276.30,466.20) scale(1.0,1)" font-size="13.20" fill="#111" >0 s</text>
<line x1="263.30" y1="476.10" x2="274.90" y2="476.10" stroke="#828282" stroke-width="2.6" />
<text transform="translate(276.30,480.00) scale(1.0,1)" font-size="13.20" fill="#111" >Sum</text>
<text transform="translate(167.70,418.00) scale(1.06,1)" font-size="12.26" fill="#111" >apo enNTS<tspan font-size="7" dy="2">1</tspan></text>
<text transform="translate(145.10,585.70) scale(1.06,1)" font-size="12.55" fill="#111" >enNTS<tspan font-size="7" dy="2">1</tspan><tspan dy="-2"> + SR142948A</tspan></text>
<line x1="53.00" y1="548.30" x2="373.00" y2="548.30" stroke="#000" stroke-width="1.0" opacity="0.6"/>
<path d="M413.0,80.0 Q412.0,62.0 413.5,54.5 Q415.0,47.0 417.5,41.5 Q420.0,36.0 423.0,34.0 Q426.0,32.0 428.0,35.0 Q430.0,38.0 428.5,42.0 Q427.0,46.0 430.0,48.5 Q433.0,51.0 437.0,50.0 L441.0,49.0" stroke="#e8c0c0" stroke-width="1.5" fill="none" stroke-linecap="round" stroke-linejoin="round"/>
<path d="M437.0,52.0 Q437.0,42.0 439.5,38.0 Q442.0,34.0 445.5,32.5 L449.0,31.0" stroke="#e8b8b8" stroke-width="1.5" fill="none" stroke-linecap="round" stroke-linejoin="round"/>
<path d="M438.4,41.5 L438.9,41.6 L440.0,41.5 L441.6,41.1 L443.3,40.7 L444.9,40.4 L446.0,40.2 L446.5,40.4 L447.5,42.3 L447.0,42.1 L445.8,42.3 L444.3,42.6 L442.6,43.0 L441.0,43.4 L439.9,43.5 L439.3,43.3Z" fill="#907575" stroke="#786262" stroke-width="0.4"/>
<path d="M440.8,46.3 L441.3,46.5 L442.5,46.3 L444.0,46.0 L445.7,45.5 L447.3,45.2 L448.4,45.1 L448.9,45.2 L449.9,47.1 L449.4,47.0 L448.2,47.1 L446.7,47.4 L445.0,47.9 L443.4,48.2 L442.3,48.3 L441.8,48.2Z" fill="#907575" stroke="#786262" stroke-width="0.4"/>
<path d="M443.2,51.1 L443.3,51.2 L443.3,51.2 L443.4,51.2 L443.5,51.3 L443.7,51.3 L443.8,51.3 L444.0,51.3 L444.9,53.2 L444.7,53.2 L444.6,53.2 L444.5,53.2 L444.4,53.1 L444.3,53.1 L444.2,53.1 L444.2,53.0Z" fill="#907575" stroke="#786262" stroke-width="0.4"/>
<path d="M441.0,38.0 L440.2,38.6 L439.4,39.2 L438.7,39.8 L438.2,40.3 L437.8,40.7 L437.6,41.0 L437.6,41.2 L438.9,43.9 L438.9,43.7 L439.2,43.4 L439.6,43.0 L440.1,42.5 L440.8,41.9 L441.5,41.3 L442.4,40.7Z" fill="#f0c4c4" stroke="#907575" stroke-width="0.6"/>
<path d="M440.6,39.4 L439.8,40.0 L439.2,40.6 L438.6,41.1 L438.2,41.5 L438.0,41.8" fill="none" stroke="#f5d8d8" stroke-width="0.67" stroke-linecap="round" opacity="0.7"/>
<path d="M446.8,39.6 L446.6,40.2 L445.7,41.1 L444.2,42.2 L442.6,43.5 L441.2,44.6 L440.2,45.5 L440.0,46.0 L441.3,48.8 L441.6,48.2 L442.5,47.3 L444.0,46.2 L445.6,44.9 L447.0,43.8 L448.0,42.9 L448.2,42.3Z" fill="#f0c4c4" stroke="#907575" stroke-width="0.6"/>
<path d="M447.0,41.0 L446.1,41.9 L444.6,43.0 L443.0,44.3 L441.6,45.4 L440.6,46.3" fill="none" stroke="#f5d8d8" stroke-width="0.67" stroke-linecap="round" opacity="0.7"/>
<path d="M449.3,44.4 L449.0,45.0 L448.1,45.9 L446.6,47.0 L445.0,48.3 L443.6,49.4 L442.6,50.3 L442.4,50.9 L443.8,53.6 L444.0,53.0 L444.9,52.1 L446.4,51.0 L448.0,49.7 L449.4,48.6 L450.4,47.7 L450.6,47.1Z" fill="#f0c4c4" stroke="#907575" stroke-width="0.6"/>
<path d="M449.4,45.8 L448.5,46.7 L447.0,47.9 L445.4,49.1 L444.0,50.2 L443.0,51.1" fill="none" stroke="#f5d8d8" stroke-width="0.67" stroke-linecap="round" opacity="0.7"/>
<path d="M411.0,80.0 Q414.0,66.0 416.0,61.5 Q418.0,57.0 422.0,55.0 Q426.0,53.0 431.0,52.0 Q436.0,51.0 441.0,52.0 L446.0,53.0" stroke="#303030" stroke-width="1.5" fill="none" stroke-linecap="round" stroke-linejoin="round"/>
<path d="M427.0,82.0 Q432.0,76.0 434.0,73.0 Q436.0,70.0 438.0,70.5 Q440.0,71.0 442.0,73.5 L444.0,76.0" stroke="#5060e0" stroke-width="1.3" fill="none" stroke-linecap="round" stroke-linejoin="round"/>
<path d="M456.0,64.0 Q463.0,61.0 467.0,62.5 Q471.0,64.0 474.5,66.0 Q478.0,68.0 482.0,71.0 L486.0,74.0" stroke="#d05050" stroke-width="1.5" fill="none" stroke-linecap="round" stroke-linejoin="round"/>
<path d="M425,59 L429,61 L418,83 L413.5,82 Z" fill="#333333" stroke="#282828" stroke-width="0.5"/>
<path d="M446.0,52.0 A6.0,6.0 0 1 1 443.9,63.6" stroke="#222222" stroke-width="5.5" fill="none" stroke-linecap="butt"/>
<path d="M385.1,81.3 L385.7,81.1 L386.7,80.1 L388.0,78.6 L389.3,76.9 L390.5,75.3 L391.5,74.4 L392.1,74.1 L394.5,75.2 L393.8,75.5 L392.9,76.4 L391.6,78.0 L390.3,79.7 L389.1,81.2 L388.1,82.2 L387.5,82.4Z" fill="#917e7e" stroke="#796969" stroke-width="0.4"/>
<path d="M391.1,84.1 L391.7,83.9 L392.7,82.9 L393.9,81.4 L395.3,79.7 L396.5,78.1 L397.5,77.2 L398.1,76.9 L400.4,78.0 L399.8,78.3 L398.8,79.2 L397.6,80.8 L396.3,82.5 L395.0,84.0 L394.1,85.0 L393.4,85.2Z" fill="#917e7e" stroke="#796969" stroke-width="0.4"/>
<path d="M397.1,86.9 L397.1,86.9 L397.1,86.9 L397.2,86.9 L397.2,86.9 L397.2,86.9 L397.3,86.9 L397.3,86.9 L399.7,88.0 L399.6,88.0 L399.6,88.0 L399.5,88.0 L399.5,88.0 L399.5,88.0 L399.4,88.0 L399.4,88.0Z" fill="#917e7e" stroke="#796969" stroke-width="0.4"/>
<path d="M385.0,76.0 L384.7,77.2 L384.4,78.4 L384.2,79.4 L384.0,80.3 L384.0,81.0 L384.0,81.5 L384.2,81.7 L387.5,83.3 L387.3,83.0 L387.3,82.6 L387.4,81.9 L387.5,81.0 L387.8,79.9 L388.0,78.8 L388.3,77.6Z" fill="#f2d2d2" stroke="#917e7e" stroke-width="0.6"/>
<path d="M385.7,77.7 L385.4,78.8 L385.2,79.9 L385.0,80.8 L385.0,81.5 L385.0,81.9" fill="none" stroke="#f6e1e1" stroke-width="0.81" stroke-linecap="round" opacity="0.7"/>
<path d="M391.8,73.1 L392.0,73.8 L391.8,75.4 L391.3,77.6 L390.7,80.0 L390.2,82.2 L389.9,83.8 L390.1,84.5 L393.5,86.1 L393.3,85.4 L393.5,83.8 L394.0,81.6 L394.6,79.2 L395.1,77.0 L395.4,75.4 L395.2,74.7Z" fill="#f2d2d2" stroke="#917e7e" stroke-width="0.6"/>
<path d="M393.0,74.3 L392.8,75.9 L392.3,78.1 L391.7,80.5 L391.2,82.7 L390.9,84.3" fill="none" stroke="#f6e1e1" stroke-width="0.81" stroke-linecap="round" opacity="0.7"/>
<path d="M397.8,75.9 L398.0,76.6 L397.8,78.2 L397.3,80.4 L396.6,82.8 L396.1,85.0 L395.9,86.6 L396.1,87.3 L399.4,88.9 L399.2,88.2 L399.5,86.6 L400.0,84.4 L400.6,82.0 L401.1,79.8 L401.3,78.2 L401.1,77.5Z" fill="#f2d2d2" stroke="#917e7e" stroke-width="0.6"/>
<path d="M399.0,77.1 L398.8,78.7 L398.3,80.9 L397.6,83.3 L397.1,85.5 L396.9,87.1" fill="none" stroke="#f6e1e1" stroke-width="0.81" stroke-linecap="round" opacity="0.7"/>
<path d="M443.3,64.1 L444.0,64.9 L446.2,65.7 L449.3,66.4 L452.7,67.2 L455.8,68.0 L458.0,68.8 L458.7,69.5 L458.7,73.8 L458.0,73.0 L455.8,72.2 L452.7,71.4 L449.3,70.7 L446.2,69.9 L444.0,69.1 L443.3,68.4Z" fill="#6c708b" stroke="#5a5e74" stroke-width="0.4"/>
<path d="M443.3,74.9 L444.0,75.7 L446.2,76.5 L449.3,77.2 L452.7,78.0 L455.8,78.8 L458.0,79.6 L458.7,80.3 L458.7,84.6 L458.0,83.8 L455.8,83.0 L452.7,82.2 L449.3,81.5 L446.2,80.7 L444.0,79.9 L443.3,79.2Z" fill="#7c2b2b" stroke="#682424" stroke-width="0.4"/>
<path d="M443.3,85.7 L444.0,86.5 L446.2,87.3 L449.3,88.0 L452.7,88.8 L455.8,89.6 L458.0,90.4 L458.7,91.1 L458.7,95.4 L458.0,94.6 L455.8,93.8 L452.7,93.0 L449.3,92.3 L446.2,91.5 L444.0,90.7 L443.3,90.0Z" fill="#6c708b" stroke="#5a5e74" stroke-width="0.4"/>
<path d="M443.3,96.5 L443.8,97.2 L445.4,97.8 L447.8,98.5 L450.6,99.1 L453.5,99.8 L456.0,100.4 L457.9,101.1 L457.9,105.3 L456.0,104.7 L453.5,104.0 L450.6,103.4 L447.8,102.7 L445.4,102.1 L443.8,101.4 L443.3,100.8Z" fill="#6c708b" stroke="#5a5e74" stroke-width="0.4"/>
<path d="M443.4,62.0 L443.1,62.1 L442.7,62.3 L442.5,62.4 L442.3,62.6 L442.1,62.7 L442.0,62.8 L442.0,63.0 L442.0,69.0 L442.0,68.9 L442.1,68.7 L442.3,68.6 L442.5,68.5 L442.7,68.3 L443.1,68.2 L443.4,68.0Z" fill="#b4bce8" stroke="#6c708b" stroke-width="0.6"/>
<path d="M443.1,64.0 L442.7,64.1 L442.5,64.2 L442.3,64.4 L442.1,64.5 L442.0,64.7" fill="none" stroke="#ced3f0" stroke-width="1.33" stroke-linecap="round" opacity="0.7"/>
<path d="M460.0,68.4 L459.1,69.2 L456.6,69.9 L453.0,70.7 L449.0,71.5 L445.4,72.2 L442.9,73.0 L442.0,73.8 L442.0,79.8 L442.9,79.1 L445.4,78.3 L449.0,77.5 L453.0,76.7 L456.6,76.0 L459.1,75.2 L460.0,74.4Z" fill="#b4bce8" stroke="#6c708b" stroke-width="0.6"/>
<path d="M459.1,71.0 L456.6,71.7 L453.0,72.5 L449.0,73.3 L445.4,74.1 L442.9,74.8" fill="none" stroke="#ced3f0" stroke-width="1.33" stroke-linecap="round" opacity="0.7"/>
<path d="M460.0,79.2 L459.1,80.0 L456.6,80.7 L453.0,81.5 L449.0,82.3 L445.4,83.0 L442.9,83.8 L442.0,84.6 L442.0,90.6 L442.9,89.9 L445.4,89.1 L449.0,88.3 L453.0,87.5 L456.6,86.8 L459.1,86.0 L460.0,85.2Z" fill="#b4bce8" stroke="#6c708b" stroke-width="0.6"/>
<path d="M459.1,81.8 L456.6,82.5 L453.0,83.3 L449.0,84.1 L445.4,84.9 L442.9,85.6" fill="none" stroke="#ced3f0" stroke-width="1.33" stroke-linecap="round" opacity="0.7"/>
<path d="M460.0,90.0 L459.1,90.8 L456.6,91.5 L453.0,92.3 L449.0,93.1 L445.4,93.8 L442.9,94.6 L442.0,95.4 L442.0,101.4 L442.9,100.7 L445.4,99.9 L449.0,99.1 L453.0,98.3 L456.6,97.6 L459.1,96.8 L460.0,96.0Z" fill="#b4bce8" stroke="#6c708b" stroke-width="0.6"/>
<path d="M459.1,92.6 L456.6,93.3 L453.0,94.1 L449.0,94.9 L445.4,95.7 L442.9,96.4" fill="none" stroke="#ced3f0" stroke-width="1.33" stroke-linecap="round" opacity="0.7"/>
<path d="M441.7,101.1 L443.7,101.7 L446.2,102.4 L449.0,103.0 L451.6,103.7 L453.8,104.3 L455.2,105.0 L455.7,105.6 L455.6,109.8 L455.1,109.2 L453.7,108.5 L451.6,107.9 L448.9,107.2 L446.2,106.6 L443.7,105.9 L441.7,105.3Z" fill="#192086" stroke="#151b70" stroke-width="0.4"/>
<path d="M440.1,110.8 L440.9,111.5 L443.0,112.3 L446.1,113.2 L449.5,114.0 L452.6,114.8 L454.8,115.6 L455.5,116.4 L455.5,120.6 L454.7,119.8 L452.6,119.0 L449.5,118.2 L446.0,117.4 L442.9,116.6 L440.8,115.8 L440.1,115.0Z" fill="#192086" stroke="#151b70" stroke-width="0.4"/>
<path d="M440.0,121.6 L440.7,122.3 L442.9,123.1 L445.9,124.0 L449.4,124.8 L452.5,125.6 L454.6,126.4 L455.4,127.2 L455.3,131.4 L454.5,130.6 L452.4,129.8 L449.3,129.0 L445.9,128.2 L442.8,127.4 L440.7,126.6 L439.9,125.8Z" fill="#192086" stroke="#151b70" stroke-width="0.4"/>
<path d="M439.8,132.4 L440.6,133.1 L442.7,133.9 L445.8,134.8 L449.2,135.6 L452.3,136.4 L454.5,137.2 L455.2,138.0 L455.2,142.2 L454.4,141.4 L452.3,140.6 L449.2,139.8 L445.7,139.0 L442.6,138.2 L440.5,137.4 L439.8,136.6Z" fill="#192086" stroke="#151b70" stroke-width="0.4"/>
<path d="M439.7,143.2 L440.4,143.9 L442.6,144.7 L445.6,145.6 L449.1,146.4 L452.2,147.2 L454.3,148.0 L455.1,148.8 L455.0,153.0 L454.2,152.2 L452.1,151.4 L449.0,150.6 L445.6,149.8 L442.5,149.0 L440.4,148.2 L439.6,147.4Z" fill="#192086" stroke="#151b70" stroke-width="0.4"/>
<path d="M439.5,154.0 L440.3,154.7 L442.4,155.5 L445.5,156.4 L448.9,157.2 L452.0,158.0 L454.2,158.8 L454.9,159.6 L454.9,163.8 L454.1,163.0 L452.0,162.2 L448.9,161.4 L445.4,160.6 L442.3,159.8 L440.2,159.0 L439.5,158.2Z" fill="#192086" stroke="#151b70" stroke-width="0.4"/>
<path d="M439.4,164.8 L439.5,165.1 L439.9,165.4 L440.5,165.7 L441.4,166.1 L442.5,166.4 L443.7,166.7 L445.0,167.1 L445.0,171.3 L443.6,171.0 L442.4,170.6 L441.3,170.3 L440.5,170.0 L439.8,169.6 L439.4,169.3 L439.3,169.0Z" fill="#192086" stroke="#151b70" stroke-width="0.4"/>
<path d="M456.9,104.4 L456.0,105.2 L453.5,105.9 L449.9,106.7 L445.9,107.4 L442.3,108.1 L439.8,108.8 L438.9,109.6 L438.8,115.6 L439.7,114.9 L442.2,114.1 L445.8,113.4 L449.8,112.7 L453.4,112.0 L456.0,111.2 L456.9,110.5Z" fill="#2a36e0" stroke="#192086" stroke-width="0.6"/>
<path d="M456.0,107.0 L453.5,107.8 L449.9,108.5 L445.9,109.2 L442.3,109.9 L439.7,110.6" fill="none" stroke="#747cea" stroke-width="1.33" stroke-linecap="round" opacity="0.7"/>
<path d="M456.8,115.2 L455.9,116.0 L453.4,116.7 L449.8,117.5 L445.7,118.2 L442.1,118.9 L439.6,119.6 L438.7,120.4 L438.6,126.4 L439.5,125.7 L442.0,124.9 L445.7,124.2 L449.7,123.5 L453.3,122.8 L455.8,122.0 L456.7,121.3Z" fill="#2a36e0" stroke="#192086" stroke-width="0.6"/>
<path d="M455.9,117.8 L453.4,118.6 L449.7,119.3 L445.7,120.0 L442.1,120.7 L439.6,121.4" fill="none" stroke="#747cea" stroke-width="1.33" stroke-linecap="round" opacity="0.7"/>
<path d="M456.6,126.0 L455.7,126.8 L453.2,127.5 L449.6,128.3 L445.6,129.0 L442.0,129.7 L439.5,130.4 L438.6,131.2 L438.5,137.2 L439.4,136.5 L441.9,135.7 L445.5,135.0 L449.5,134.3 L453.1,133.6 L455.7,132.8 L456.6,132.1Z" fill="#2a36e0" stroke="#192086" stroke-width="0.6"/>
<path d="M455.7,128.6 L453.2,129.4 L449.6,130.1 L445.6,130.8 L442.0,131.5 L439.4,132.2" fill="none" stroke="#747cea" stroke-width="1.33" stroke-linecap="round" opacity="0.7"/>
<path d="M456.5,136.8 L455.6,137.6 L453.1,138.3 L449.5,139.1 L445.4,139.8 L441.8,140.5 L439.3,141.2 L438.4,142.0 L438.3,148.0 L439.2,147.3 L441.7,146.5 L445.4,145.8 L449.4,145.1 L453.0,144.4 L455.5,143.6 L456.4,142.9Z" fill="#2a36e0" stroke="#192086" stroke-width="0.6"/>
<path d="M455.6,139.4 L453.1,140.1 L449.4,140.9 L445.4,141.6 L441.8,142.3 L439.3,143.0" fill="none" stroke="#747cea" stroke-width="1.33" stroke-linecap="round" opacity="0.7"/>
<path d="M456.3,147.6 L455.4,148.4 L452.9,149.1 L449.3,149.9 L445.3,150.6 L441.7,151.3 L439.2,152.0 L438.3,152.8 L438.2,158.8 L439.1,158.1 L441.6,157.3 L445.2,156.6 L449.2,155.9 L452.8,155.2 L455.4,154.4 L456.3,153.7Z" fill="#2a36e0" stroke="#192086" stroke-width="0.6"/>
<path d="M455.4,150.2 L452.9,150.9 L449.3,151.7 L445.3,152.4 L441.7,153.1 L439.1,153.8" fill="none" stroke="#747cea" stroke-width="1.33" stroke-linecap="round" opacity="0.7"/>
<path d="M456.2,158.4 L455.3,159.2 L452.8,159.9 L449.2,160.7 L445.1,161.4 L441.5,162.1 L439.0,162.8 L438.1,163.6 L438.0,169.6 L438.9,168.9 L441.4,168.1 L445.1,167.4 L449.1,166.7 L452.7,166.0 L455.2,165.2 L456.1,164.5Z" fill="#2a36e0" stroke="#192086" stroke-width="0.6"/>
<path d="M455.3,161.0 L452.8,161.7 L449.1,162.5 L445.1,163.2 L441.5,163.9 L439.0,164.6" fill="none" stroke="#747cea" stroke-width="1.33" stroke-linecap="round" opacity="0.7"/>
<path d="M472.4,71.7 L473.0,72.6 L474.9,73.6 L477.7,74.7 L480.8,75.9 L483.6,77.1 L485.5,78.1 L486.1,78.9 L485.5,82.9 L484.9,82.0 L483.0,81.0 L480.2,79.9 L477.1,78.7 L474.3,77.5 L472.4,76.5 L471.8,75.7Z" fill="#813636" stroke="#6c2d2d" stroke-width="0.4"/>
<path d="M470.9,81.8 L471.5,82.6 L473.4,83.7 L476.2,84.8 L479.3,86.0 L482.1,87.2 L484.0,88.2 L484.6,89.0 L484.0,93.0 L483.4,92.1 L481.5,91.1 L478.7,90.0 L475.6,88.8 L472.8,87.6 L470.9,86.6 L470.3,85.8Z" fill="#813636" stroke="#6c2d2d" stroke-width="0.4"/>
<path d="M469.4,91.9 L470.0,92.7 L471.9,93.8 L474.7,94.9 L477.8,96.1 L480.6,97.2 L482.5,98.3 L483.1,99.1 L482.5,103.0 L481.9,102.2 L480.0,101.2 L477.2,100.1 L474.1,98.9 L471.3,97.7 L469.4,96.7 L468.8,95.9Z" fill="#908b8b" stroke="#787474" stroke-width="0.4"/>
<path d="M467.9,102.0 L468.5,102.8 L470.4,103.8 L473.2,105.0 L476.3,106.2 L479.1,107.3 L481.0,108.4 L481.6,109.2 L481.0,113.1 L480.4,112.3 L478.5,111.3 L475.7,110.1 L472.6,108.9 L469.8,107.8 L467.9,106.8 L467.3,106.0Z" fill="#12128a" stroke="#0f0f73" stroke-width="0.4"/>
<path d="M466.4,112.1 L467.0,112.9 L468.9,113.9 L471.7,115.1 L474.8,116.3 L477.6,117.4 L479.5,118.4 L480.1,119.3 L479.5,123.2 L478.9,122.4 L477.0,121.4 L474.2,120.2 L471.1,119.0 L468.3,117.9 L466.4,116.9 L465.8,116.0Z" fill="#12128a" stroke="#0f0f73" stroke-width="0.4"/>
<path d="M464.9,122.2 L465.5,123.0 L467.4,124.0 L470.2,125.2 L473.3,126.4 L476.1,127.5 L478.0,128.5 L478.6,129.4 L478.1,133.3 L477.4,132.5 L475.5,131.5 L472.8,130.3 L469.6,129.1 L466.8,128.0 L464.9,127.0 L464.3,126.1Z" fill="#12128a" stroke="#0f0f73" stroke-width="0.4"/>
<path d="M463.4,132.3 L464.0,133.1 L465.9,134.1 L468.7,135.3 L471.9,136.5 L474.6,137.6 L476.5,138.6 L477.2,139.5 L476.6,143.4 L476.0,142.6 L474.1,141.6 L471.3,140.4 L468.2,139.2 L465.4,138.1 L463.5,137.1 L462.9,136.2Z" fill="#12128a" stroke="#0f0f73" stroke-width="0.4"/>
<path d="M461.9,142.4 L462.6,143.2 L464.5,144.2 L467.3,145.4 L470.4,146.6 L473.2,147.7 L475.1,148.7 L475.7,149.5 L475.1,153.5 L474.5,152.7 L472.6,151.7 L469.8,150.5 L466.7,149.3 L463.9,148.2 L462.0,147.1 L461.4,146.3Z" fill="#12128a" stroke="#0f0f73" stroke-width="0.4"/>
<path d="M460.5,152.5 L461.1,153.3 L463.0,154.3 L465.8,155.4 L468.9,156.6 L471.7,157.8 L473.6,158.8 L474.2,159.6 L473.6,163.6 L473.0,162.8 L471.1,161.7 L468.3,160.6 L465.2,159.4 L462.4,158.3 L460.5,157.2 L459.9,156.4Z" fill="#12128a" stroke="#0f0f73" stroke-width="0.4"/>
<path d="M476.0,69.4 L474.9,69.5 L473.9,69.6 L473.0,69.7 L472.3,69.9 L471.8,70.0 L471.5,70.2 L471.3,70.5 L470.5,76.1 L470.6,75.9 L471.0,75.7 L471.5,75.5 L472.2,75.4 L473.0,75.2 L474.0,75.1 L475.1,75.1Z" fill="#d85a5a" stroke="#813636" stroke-width="0.6"/>
<path d="M474.6,71.2 L473.6,71.3 L472.8,71.4 L472.1,71.6 L471.6,71.7 L471.2,71.9" fill="none" stroke="#e59393" stroke-width="1.26" stroke-linecap="round" opacity="0.7"/>
<path d="M487.4,78.0 L486.5,78.6 L484.0,79.0 L480.6,79.2 L476.7,79.4 L473.2,79.6 L470.8,80.0 L469.9,80.6 L469.0,86.2 L470.0,85.6 L472.4,85.2 L475.9,85.0 L479.7,84.9 L483.2,84.6 L485.6,84.3 L486.6,83.7Z" fill="#d85a5a" stroke="#813636" stroke-width="0.6"/>
<path d="M486.2,80.3 L483.8,80.7 L480.3,80.9 L476.5,81.1 L473.0,81.3 L470.5,81.7" fill="none" stroke="#e59393" stroke-width="1.26" stroke-linecap="round" opacity="0.7"/>
<path d="M485.9,88.1 L485.0,88.7 L482.5,89.1 L479.1,89.3 L475.2,89.5 L471.7,89.7 L469.3,90.1 L468.4,90.7 L467.5,96.3 L468.5,95.7 L470.9,95.3 L474.4,95.1 L478.2,94.9 L481.7,94.7 L484.2,94.3 L485.1,93.7Z" fill="#f0e8e8" stroke="#908b8b" stroke-width="0.6"/>
<path d="M484.7,90.4 L482.3,90.8 L478.8,91.0 L475.0,91.2 L471.5,91.4 L469.1,91.8" fill="none" stroke="#f5f0f0" stroke-width="1.26" stroke-linecap="round" opacity="0.7"/>
<path d="M484.4,98.2 L483.5,98.8 L481.1,99.2 L477.6,99.4 L473.7,99.6 L470.3,99.8 L467.8,100.2 L466.9,100.8 L466.0,106.4 L467.0,105.8 L469.4,105.4 L472.9,105.2 L476.7,105.0 L480.2,104.8 L482.7,104.4 L483.6,103.8Z" fill="#1e1ee6" stroke="#12128a" stroke-width="0.6"/>
<path d="M483.2,100.5 L480.8,100.9 L477.3,101.1 L473.5,101.2 L470.0,101.5 L467.6,101.9" fill="none" stroke="#6c6cee" stroke-width="1.26" stroke-linecap="round" opacity="0.7"/>
<path d="M483.0,108.3 L482.0,108.9 L479.6,109.3 L476.1,109.5 L472.2,109.6 L468.8,109.9 L466.3,110.2 L465.4,110.8 L464.6,116.5 L465.5,115.9 L467.9,115.5 L471.4,115.3 L475.3,115.1 L478.7,114.9 L481.2,114.5 L482.1,113.9Z" fill="#1e1ee6" stroke="#12128a" stroke-width="0.6"/>
<path d="M481.8,110.6 L479.3,110.9 L475.8,111.2 L472.0,111.3 L468.5,111.6 L466.1,111.9" fill="none" stroke="#6c6cee" stroke-width="1.26" stroke-linecap="round" opacity="0.7"/>
<path d="M481.5,118.4 L480.5,119.0 L478.1,119.3 L474.6,119.6 L470.8,119.7 L467.3,120.0 L464.8,120.3 L463.9,120.9 L463.1,126.6 L464.0,126.0 L466.4,125.6 L469.9,125.4 L473.8,125.2 L477.3,125.0 L479.7,124.6 L480.6,124.0Z" fill="#1e1ee6" stroke="#12128a" stroke-width="0.6"/>
<path d="M480.3,120.7 L477.8,121.0 L474.4,121.3 L470.5,121.4 L467.0,121.7 L464.6,122.0" fill="none" stroke="#6c6cee" stroke-width="1.26" stroke-linecap="round" opacity="0.7"/>
<path d="M480.0,128.5 L479.0,129.1 L476.6,129.4 L473.1,129.7 L469.3,129.8 L465.8,130.1 L463.4,130.4 L462.4,131.0 L461.6,136.7 L462.5,136.1 L465.0,135.7 L468.4,135.5 L472.3,135.3 L475.8,135.1 L478.2,134.7 L479.1,134.1Z" fill="#1e1ee6" stroke="#12128a" stroke-width="0.6"/>
<path d="M478.8,130.8 L476.3,131.1 L472.9,131.4 L469.0,131.5 L465.5,131.7 L463.1,132.1" fill="none" stroke="#6c6cee" stroke-width="1.26" stroke-linecap="round" opacity="0.7"/>
<path d="M478.5,138.6 L477.6,139.1 L475.1,139.5 L471.6,139.7 L467.8,139.9 L464.3,140.1 L461.9,140.5 L460.9,141.1 L460.1,146.8 L461.0,146.2 L463.5,145.8 L467.0,145.6 L470.8,145.4 L474.3,145.2 L476.7,144.8 L477.7,144.2Z" fill="#1e1ee6" stroke="#12128a" stroke-width="0.6"/>
<path d="M477.3,140.8 L474.9,141.2 L471.4,141.4 L467.5,141.6 L464.1,141.8 L461.6,142.2" fill="none" stroke="#6c6cee" stroke-width="1.26" stroke-linecap="round" opacity="0.7"/>
<path d="M477.0,148.6 L476.1,149.2 L473.6,149.6 L470.1,149.8 L466.3,150.0 L462.8,150.2 L460.4,150.6 L459.4,151.2 L458.6,156.9 L459.5,156.3 L462.0,155.9 L465.5,155.7 L469.3,155.5 L472.8,155.3 L475.2,154.9 L476.2,154.3Z" fill="#1e1ee6" stroke="#12128a" stroke-width="0.6"/>
<path d="M475.8,150.9 L473.4,151.3 L469.9,151.5 L466.0,151.7 L462.6,151.9 L460.1,152.3" fill="none" stroke="#6c6cee" stroke-width="1.26" stroke-linecap="round" opacity="0.7"/>
<path d="M475.5,158.7 L475.4,159.0 L475.0,159.2 L474.4,159.4 L473.6,159.5 L472.6,159.7 L471.5,159.8 L470.2,159.8 L469.4,165.5 L470.7,165.4 L471.8,165.3 L472.8,165.2 L473.6,165.0 L474.2,164.8 L474.5,164.6 L474.7,164.4Z" fill="#1e1ee6" stroke="#12128a" stroke-width="0.6"/>
<path d="M475.1,160.7 L474.7,160.9 L474.1,161.1 L473.3,161.2 L472.4,161.4 L471.2,161.5" fill="none" stroke="#6c6cee" stroke-width="1.26" stroke-linecap="round" opacity="0.7"/>
<path d="M435.0,114.9 L435.6,115.4 L437.0,115.8 L439.1,116.2 L441.5,116.5 L443.6,116.9 L445.0,117.3 L445.6,117.8 L445.7,120.6 L445.2,120.1 L443.7,119.7 L441.6,119.4 L439.3,119.0 L437.2,118.6 L435.8,118.2 L435.2,117.7Z" fill="#783030" stroke="#642828" stroke-width="0.4"/>
<path d="M435.5,122.1 L435.7,122.4 L436.2,122.6 L436.9,122.9 L437.9,123.1 L439.1,123.3 L440.4,123.5 L441.7,123.7 L441.9,126.5 L440.6,126.3 L439.3,126.1 L438.1,125.9 L437.1,125.7 L436.4,125.4 L435.9,125.2 L435.7,124.9Z" fill="#783030" stroke="#642828" stroke-width="0.4"/>
<path d="M440.0,112.0 L438.7,112.3 L437.4,112.7 L436.3,113.0 L435.4,113.3 L434.7,113.6 L434.3,113.9 L434.1,114.2 L434.4,118.2 L434.5,118.0 L435.0,117.7 L435.7,117.4 L436.6,117.0 L437.7,116.7 L439.0,116.4 L440.3,116.0Z" fill="#c85050" stroke="#783030" stroke-width="0.6"/>
<path d="M438.8,113.6 L437.5,113.9 L436.4,114.2 L435.5,114.5 L434.8,114.8 L434.3,115.1" fill="none" stroke="#db8d8d" stroke-width="0.89" stroke-linecap="round" opacity="0.7"/>
<path d="M446.3,117.0 L445.8,117.5 L444.2,118.2 L441.8,118.8 L439.2,119.5 L436.8,120.2 L435.2,120.8 L434.6,121.4 L434.9,125.4 L435.4,124.8 L437.1,124.2 L439.4,123.6 L442.1,122.9 L444.4,122.2 L446.1,121.6 L446.6,121.0Z" fill="#c85050" stroke="#783030" stroke-width="0.6"/>
<path d="M445.9,118.7 L444.2,119.4 L441.9,120.0 L439.2,120.7 L436.9,121.4 L435.3,122.0" fill="none" stroke="#db8d8d" stroke-width="0.89" stroke-linecap="round" opacity="0.7"/>
<path d="M425.4,121.0 L426.1,121.6 L428.1,122.1 L430.9,122.5 L434.0,122.9 L436.8,123.4 L438.8,123.9 L439.5,124.5 L439.8,128.2 L439.1,127.6 L437.1,127.1 L434.3,126.7 L431.2,126.3 L428.4,125.8 L426.4,125.3 L425.7,124.7Z" fill="#12128a" stroke="#0f0f73" stroke-width="0.4"/>
<path d="M426.2,130.5 L427.0,131.1 L428.9,131.7 L431.7,132.1 L434.9,132.5 L437.7,132.9 L439.6,133.4 L440.4,134.1 L440.7,137.8 L440.0,137.2 L438.0,136.7 L435.2,136.2 L432.1,135.8 L429.3,135.4 L427.3,134.9 L426.6,134.3Z" fill="#12128a" stroke="#0f0f73" stroke-width="0.4"/>
<path d="M427.1,140.1 L427.8,140.7 L429.8,141.2 L432.6,141.7 L435.7,142.1 L438.5,142.5 L440.5,143.0 L441.2,143.6 L441.6,147.4 L440.8,146.7 L438.9,146.2 L436.1,145.8 L433.0,145.4 L430.1,145.0 L428.2,144.5 L427.4,143.8Z" fill="#12128a" stroke="#0f0f73" stroke-width="0.4"/>
<path d="M428.0,149.6 L428.7,150.3 L430.7,150.8 L433.5,151.2 L436.6,151.6 L439.4,152.1 L441.4,152.6 L442.1,153.2 L442.4,156.9 L441.7,156.3 L439.7,155.8 L436.9,155.4 L433.8,155.0 L431.0,154.5 L429.0,154.0 L428.3,153.4Z" fill="#12128a" stroke="#0f0f73" stroke-width="0.4"/>
<path d="M426.9,118.5 L426.2,118.7 L425.6,119.0 L425.1,119.2 L424.7,119.4 L424.4,119.6 L424.2,119.9 L424.2,120.0 L424.6,125.4 L424.7,125.2 L424.9,125.0 L425.1,124.8 L425.5,124.6 L426.0,124.3 L426.7,124.1 L427.4,123.8Z" fill="#1e1ee6" stroke="#12128a" stroke-width="0.6"/>
<path d="M426.3,120.3 L425.7,120.6 L425.2,120.8 L424.8,121.0 L424.5,121.3 L424.3,121.5" fill="none" stroke="#6c6cee" stroke-width="1.18" stroke-linecap="round" opacity="0.7"/>
<path d="M440.5,123.4 L439.8,124.1 L437.6,125.0 L434.5,126.0 L431.0,127.0 L427.9,128.0 L425.7,128.9 L425.0,129.6 L425.5,135.0 L426.2,134.2 L428.4,133.3 L431.5,132.4 L435.0,131.3 L438.1,130.4 L440.3,129.5 L441.0,128.7Z" fill="#1e1ee6" stroke="#12128a" stroke-width="0.6"/>
<path d="M439.9,125.7 L437.8,126.6 L434.7,127.6 L431.2,128.6 L428.0,129.6 L425.9,130.5" fill="none" stroke="#6c6cee" stroke-width="1.18" stroke-linecap="round" opacity="0.7"/>
<path d="M441.4,132.9 L440.7,133.7 L438.5,134.6 L435.4,135.6 L431.9,136.6 L428.8,137.5 L426.6,138.4 L425.9,139.2 L426.4,144.5 L427.1,143.8 L429.3,142.9 L432.4,141.9 L435.9,140.9 L439.0,139.9 L441.2,139.1 L441.9,138.3Z" fill="#1e1ee6" stroke="#12128a" stroke-width="0.6"/>
<path d="M440.8,135.3 L438.7,136.2 L435.5,137.2 L432.0,138.2 L428.9,139.1 L426.8,140.0" fill="none" stroke="#6c6cee" stroke-width="1.18" stroke-linecap="round" opacity="0.7"/>
<path d="M442.3,142.5 L441.5,143.3 L439.4,144.1 L436.3,145.1 L432.8,146.1 L429.6,147.1 L427.5,148.0 L426.8,148.7 L427.2,154.1 L428.0,153.3 L430.1,152.4 L433.3,151.5 L436.7,150.5 L439.9,149.5 L442.0,148.6 L442.7,147.9Z" fill="#1e1ee6" stroke="#12128a" stroke-width="0.6"/>
<path d="M441.7,144.9 L439.5,145.7 L436.4,146.7 L432.9,147.7 L429.8,148.7 L427.6,149.6" fill="none" stroke="#6c6cee" stroke-width="1.18" stroke-linecap="round" opacity="0.7"/>
<path d="M443.1,152.1 L442.7,152.7 L441.2,153.3 L439.0,154.1 L436.3,154.9 L433.5,155.7 L430.9,156.5 L429.0,157.2 L429.4,162.6 L431.4,161.9 L434.0,161.1 L436.8,160.3 L439.5,159.5 L441.7,158.7 L443.1,158.0 L443.6,157.4Z" fill="#1e1ee6" stroke="#12128a" stroke-width="0.6"/>
<path d="M442.8,154.3 L441.4,155.0 L439.2,155.7 L436.5,156.5 L433.7,157.3 L431.1,158.1" fill="none" stroke="#6c6cee" stroke-width="1.18" stroke-linecap="round" opacity="0.7"/>
<path d="M415.5,81.9 L417.3,81.8 L419.7,81.3 L422.5,80.6 L425.2,79.9 L427.6,79.4 L429.2,79.3 L430.0,79.6 L431.8,83.2 L431.0,82.9 L429.4,83.0 L427.0,83.5 L424.3,84.2 L421.5,84.8 L419.1,85.3 L417.3,85.5Z" fill="#12128a" stroke="#0f0f73" stroke-width="0.4"/>
<path d="M419.2,90.7 L420.2,91.1 L422.3,90.8 L425.3,90.2 L428.5,89.3 L431.4,88.7 L433.6,88.4 L434.6,88.8 L436.3,92.3 L435.4,92.0 L433.2,92.3 L430.3,92.9 L427.0,93.7 L424.1,94.4 L422.0,94.6 L421.0,94.3Z" fill="#12128a" stroke="#0f0f73" stroke-width="0.4"/>
<path d="M423.8,99.9 L424.7,100.2 L426.9,99.9 L429.8,99.3 L433.1,98.5 L436.0,97.8 L438.1,97.6 L439.1,97.9 L440.9,101.5 L439.9,101.1 L437.8,101.4 L434.8,102.0 L431.6,102.9 L428.7,103.5 L426.5,103.8 L425.5,103.4Z" fill="#12128a" stroke="#0f0f73" stroke-width="0.4"/>
<path d="M428.3,109.0 L429.3,109.3 L431.4,109.1 L434.4,108.4 L437.6,107.6 L440.6,106.9 L442.7,106.7 L443.7,107.0 L445.5,110.6 L444.5,110.3 L442.4,110.5 L439.4,111.2 L436.2,112.0 L433.2,112.6 L431.1,112.9 L430.1,112.6Z" fill="#12128a" stroke="#0f0f73" stroke-width="0.4"/>
<path d="M432.9,118.1 L433.9,118.4 L436.0,118.2 L438.9,117.5 L442.2,116.7 L445.1,116.1 L447.3,115.8 L448.2,116.1 L450.0,119.7 L449.1,119.4 L446.9,119.6 L444.0,120.3 L440.7,121.1 L437.8,121.8 L435.6,122.0 L434.7,121.7Z" fill="#12128a" stroke="#0f0f73" stroke-width="0.4"/>
<path d="M430.6,78.1 L430.1,79.2 L428.4,80.9 L425.6,83.0 L422.6,85.4 L419.9,87.6 L418.1,89.3 L417.6,90.3 L420.2,95.4 L420.6,94.4 L422.4,92.7 L425.1,90.5 L428.2,88.2 L430.9,86.0 L432.7,84.3 L433.1,83.2Z" fill="#1e1ee6" stroke="#12128a" stroke-width="0.6"/>
<path d="M430.9,80.7 L429.1,82.4 L426.4,84.6 L423.3,86.9 L420.6,89.1 L418.8,90.8" fill="none" stroke="#6c6cee" stroke-width="1.26" stroke-linecap="round" opacity="0.7"/>
<path d="M435.1,87.3 L434.7,88.3 L432.9,90.0 L430.2,92.2 L427.1,94.5 L424.4,96.7 L422.6,98.4 L422.2,99.4 L424.8,104.5 L425.2,103.5 L427.0,101.8 L429.7,99.6 L432.8,97.3 L435.5,95.1 L437.3,93.4 L437.7,92.4Z" fill="#1e1ee6" stroke="#12128a" stroke-width="0.6"/>
<path d="M435.5,89.8 L433.7,91.5 L431.0,93.7 L427.9,96.0 L425.2,98.2 L423.4,99.9" fill="none" stroke="#6c6cee" stroke-width="1.26" stroke-linecap="round" opacity="0.7"/>
<path d="M439.7,96.4 L439.3,97.4 L437.5,99.1 L434.8,101.3 L431.7,103.6 L429.0,105.8 L427.2,107.5 L426.8,108.5 L429.3,113.7 L429.8,112.6 L431.5,110.9 L434.3,108.7 L437.3,106.4 L440.0,104.2 L441.8,102.5 L442.2,101.5Z" fill="#1e1ee6" stroke="#12128a" stroke-width="0.6"/>
<path d="M440.0,98.9 L438.3,100.7 L435.5,102.8 L432.5,105.2 L429.7,107.3 L428.0,109.1" fill="none" stroke="#6c6cee" stroke-width="1.26" stroke-linecap="round" opacity="0.7"/>
<path d="M444.3,105.5 L443.8,106.5 L442.0,108.2 L439.3,110.4 L436.3,112.8 L433.5,114.9 L431.8,116.6 L431.3,117.7 L433.9,122.8 L434.3,121.8 L436.1,120.0 L438.8,117.9 L441.9,115.5 L444.6,113.4 L446.4,111.6 L446.8,110.6Z" fill="#1e1ee6" stroke="#12128a" stroke-width="0.6"/>
<path d="M444.6,108.1 L442.8,109.8 L440.1,111.9 L437.0,114.3 L434.3,116.5 L432.5,118.2" fill="none" stroke="#6c6cee" stroke-width="1.26" stroke-linecap="round" opacity="0.7"/>
<path d="M448.8,114.6 L448.4,115.6 L446.7,117.3 L444.1,119.4 L441.1,121.7 L438.4,123.8 L436.5,125.6 L435.9,126.7 L438.4,131.8 L439.0,130.7 L440.9,128.9 L443.7,126.8 L446.6,124.5 L449.3,122.4 L451.0,120.7 L451.4,119.7Z" fill="#1e1ee6" stroke="#12128a" stroke-width="0.6"/>
<path d="M449.2,117.2 L447.5,118.8 L444.9,120.9 L441.9,123.2 L439.1,125.4 L437.3,127.1" fill="none" stroke="#6c6cee" stroke-width="1.26" stroke-linecap="round" opacity="0.7"/>
<path d="M391.3,86.0 L392.1,86.8 L394.3,87.5 L397.4,88.2 L400.9,88.9 L404.0,89.6 L406.1,90.3 L406.9,91.1 L407.0,95.3 L406.2,94.6 L404.1,93.8 L401.0,93.1 L397.5,92.4 L394.4,91.7 L392.2,91.0 L391.4,90.2Z" fill="#12128a" stroke="#0f0f73" stroke-width="0.4"/>
<path d="M391.6,96.8 L392.3,97.6 L394.5,98.3 L397.6,99.0 L401.1,99.7 L404.2,100.4 L406.4,101.1 L407.2,101.9 L407.2,106.1 L406.5,105.4 L404.3,104.6 L401.2,103.9 L397.7,103.2 L394.6,102.5 L392.4,101.8 L391.7,101.0Z" fill="#12128a" stroke="#0f0f73" stroke-width="0.4"/>
<path d="M391.8,107.6 L392.6,108.4 L394.7,109.1 L397.9,109.8 L401.3,110.5 L404.4,111.2 L406.6,111.9 L407.4,112.7 L407.5,116.9 L406.7,116.2 L404.5,115.4 L401.4,114.7 L397.9,114.0 L394.8,113.3 L392.7,112.6 L391.9,111.8Z" fill="#12128a" stroke="#0f0f73" stroke-width="0.4"/>
<path d="M392.0,118.4 L392.8,119.2 L395.0,119.9 L398.1,120.6 L401.5,121.3 L404.7,122.0 L406.8,122.7 L407.6,123.5 L407.7,127.7 L406.9,127.0 L404.7,126.2 L401.6,125.5 L398.2,124.8 L395.1,124.1 L392.9,123.4 L392.1,122.6Z" fill="#12128a" stroke="#0f0f73" stroke-width="0.4"/>
<path d="M392.2,129.2 L393.0,130.0 L395.2,130.7 L398.3,131.4 L401.8,132.1 L404.9,132.8 L407.0,133.5 L407.8,134.3 L407.9,138.5 L407.1,137.8 L405.0,137.0 L401.9,136.3 L398.4,135.6 L395.3,134.9 L393.1,134.2 L392.3,133.4Z" fill="#12128a" stroke="#0f0f73" stroke-width="0.4"/>
<path d="M392.5,140.0 L393.2,140.8 L395.4,141.5 L398.5,142.2 L402.0,142.9 L405.1,143.6 L407.3,144.3 L408.1,145.1 L408.1,149.3 L407.4,148.6 L405.2,147.8 L402.1,147.1 L398.6,146.4 L395.5,145.7 L393.3,145.0 L392.6,144.2Z" fill="#12128a" stroke="#0f0f73" stroke-width="0.4"/>
<path d="M392.7,150.8 L393.5,151.6 L395.6,152.3 L398.8,153.0 L402.2,153.7 L405.3,154.4 L407.5,155.1 L408.3,155.9 L408.4,160.1 L407.6,159.3 L405.4,158.6 L402.3,157.9 L398.8,157.2 L395.7,156.5 L393.6,155.8 L392.8,155.0Z" fill="#6e6e6e" stroke="#5c5c5c" stroke-width="0.4"/>
<path d="M392.9,161.6 L393.7,162.3 L395.9,163.1 L399.0,163.8 L402.4,164.5 L405.6,165.2 L407.7,165.9 L408.5,166.7 L408.6,170.9 L407.8,170.1 L405.6,169.4 L402.5,168.7 L399.1,168.0 L396.0,167.3 L393.8,166.6 L393.0,165.8Z" fill="#6e6e6e" stroke="#5c5c5c" stroke-width="0.4"/>
<path d="M393.1,172.4 L393.2,172.5 L393.2,172.6 L393.3,172.8 L393.5,172.9 L393.7,173.0 L393.9,173.1 L394.1,173.2 L394.2,177.5 L394.0,177.4 L393.7,177.2 L393.6,177.1 L393.4,177.0 L393.3,176.9 L393.3,176.7 L393.2,176.6Z" fill="#811c1c" stroke="#6c1818" stroke-width="0.4"/>
<path d="M399.0,82.0 L397.0,82.4 L395.1,82.9 L393.4,83.3 L392.0,83.7 L390.9,84.1 L390.3,84.5 L390.1,84.9 L390.2,90.9 L390.4,90.5 L391.1,90.1 L392.1,89.7 L393.5,89.3 L395.2,88.9 L397.1,88.5 L399.1,88.0Z" fill="#1e1ee6" stroke="#12128a" stroke-width="0.6"/>
<path d="M397.0,84.2 L395.1,84.7 L393.5,85.1 L392.0,85.5 L391.0,85.9 L390.3,86.3" fill="none" stroke="#6c6cee" stroke-width="1.33" stroke-linecap="round" opacity="0.7"/>
<path d="M408.2,89.9 L407.3,90.7 L404.8,91.5 L401.2,92.4 L397.2,93.2 L393.6,94.1 L391.2,94.9 L390.3,95.7 L390.4,101.7 L391.3,100.9 L393.8,100.1 L397.4,99.3 L401.3,98.4 L404.9,97.6 L407.4,96.7 L408.3,96.0Z" fill="#1e1ee6" stroke="#12128a" stroke-width="0.6"/>
<path d="M407.3,92.5 L404.8,93.3 L401.3,94.2 L397.3,95.0 L393.7,95.9 L391.2,96.7" fill="none" stroke="#6c6cee" stroke-width="1.33" stroke-linecap="round" opacity="0.7"/>
<path d="M408.4,100.7 L407.5,101.5 L405.0,102.3 L401.4,103.2 L397.5,104.0 L393.9,104.9 L391.4,105.7 L390.5,106.5 L390.6,112.5 L391.5,111.7 L394.0,110.9 L397.6,110.1 L401.6,109.2 L405.2,108.4 L407.6,107.5 L408.5,106.8Z" fill="#1e1ee6" stroke="#12128a" stroke-width="0.6"/>
<path d="M407.6,103.3 L405.1,104.1 L401.5,105.0 L397.5,105.8 L393.9,106.7 L391.4,107.5" fill="none" stroke="#6c6cee" stroke-width="1.33" stroke-linecap="round" opacity="0.7"/>
<path d="M408.6,111.5 L407.7,112.3 L405.3,113.1 L401.7,114.0 L397.7,114.8 L394.1,115.7 L391.6,116.5 L390.7,117.3 L390.9,123.3 L391.7,122.5 L394.2,121.7 L397.8,120.9 L401.8,120.0 L405.4,119.2 L407.9,118.3 L408.7,117.6Z" fill="#1e1ee6" stroke="#12128a" stroke-width="0.6"/>
<path d="M407.8,114.1 L405.3,114.9 L401.7,115.8 L397.7,116.6 L394.1,117.5 L391.6,118.3" fill="none" stroke="#6c6cee" stroke-width="1.33" stroke-linecap="round" opacity="0.7"/>
<path d="M408.8,122.3 L408.0,123.1 L405.5,123.9 L401.9,124.8 L397.9,125.6 L394.3,126.5 L391.8,127.3 L391.0,128.1 L391.1,134.1 L392.0,133.3 L394.4,132.5 L398.0,131.7 L402.0,130.8 L405.6,130.0 L408.1,129.1 L409.0,128.4Z" fill="#1e1ee6" stroke="#12128a" stroke-width="0.6"/>
<path d="M408.0,124.9 L405.5,125.7 L401.9,126.6 L397.9,127.4 L394.4,128.3 L391.9,129.1" fill="none" stroke="#6c6cee" stroke-width="1.33" stroke-linecap="round" opacity="0.7"/>
<path d="M409.1,133.1 L408.2,133.9 L405.7,134.7 L402.1,135.6 L398.1,136.4 L394.5,137.3 L392.1,138.1 L391.2,138.9 L391.3,144.9 L392.2,144.1 L394.7,143.3 L398.3,142.5 L402.2,141.6 L405.8,140.8 L408.3,139.9 L409.2,139.1Z" fill="#1e1ee6" stroke="#12128a" stroke-width="0.6"/>
<path d="M408.2,135.7 L405.7,136.5 L402.2,137.4 L398.2,138.2 L394.6,139.1 L392.1,139.9" fill="none" stroke="#6c6cee" stroke-width="1.33" stroke-linecap="round" opacity="0.7"/>
<path d="M409.3,143.9 L408.4,144.7 L405.9,145.5 L402.3,146.4 L398.4,147.2 L394.8,148.1 L392.3,148.9 L391.4,149.7 L391.5,155.7 L392.4,154.9 L394.9,154.1 L398.5,153.3 L402.5,152.4 L406.1,151.6 L408.5,150.7 L409.4,149.9Z" fill="#b8b8b8" stroke="#6e6e6e" stroke-width="0.6"/>
<path d="M408.5,146.5 L406.0,147.3 L402.4,148.2 L398.4,149.0 L394.8,149.9 L392.3,150.7" fill="none" stroke="#d0d0d0" stroke-width="1.33" stroke-linecap="round" opacity="0.7"/>
<path d="M409.5,154.7 L408.6,155.5 L406.2,156.3 L402.6,157.2 L398.6,158.0 L395.0,158.9 L392.5,159.7 L391.6,160.5 L391.8,166.5 L392.6,165.7 L395.1,164.9 L398.7,164.1 L402.7,163.2 L406.3,162.4 L408.8,161.5 L409.6,160.7Z" fill="#b8b8b8" stroke="#6e6e6e" stroke-width="0.6"/>
<path d="M408.7,157.3 L406.2,158.1 L402.6,159.0 L398.6,159.8 L395.0,160.7 L392.5,161.5" fill="none" stroke="#d0d0d0" stroke-width="1.33" stroke-linecap="round" opacity="0.7"/>
<path d="M409.7,165.5 L408.9,166.3 L406.4,167.1 L402.8,168.0 L398.8,168.8 L395.2,169.7 L392.7,170.5 L391.9,171.3 L392.0,177.3 L392.9,176.5 L395.3,175.7 L398.9,174.9 L402.9,174.0 L406.5,173.2 L409.0,172.3 L409.9,171.5Z" fill="#d83030" stroke="#811c1c" stroke-width="0.6"/>
<path d="M408.9,168.1 L406.4,168.9 L402.8,169.8 L398.8,170.6 L395.3,171.5 L392.8,172.3" fill="none" stroke="#e57878" stroke-width="1.33" stroke-linecap="round" opacity="0.7"/>
<path d="M408.3,79.3 L409.0,80.1 L411.2,80.9 L414.3,81.6 L417.8,82.3 L420.9,83.1 L423.0,83.8 L423.8,84.6 L423.8,88.8 L423.1,88.1 L420.9,87.3 L417.8,86.6 L414.3,85.8 L411.2,85.1 L409.1,84.3 L408.3,83.6Z" fill="#4a548c" stroke="#3e4675" stroke-width="0.4"/>
<path d="M408.4,90.1 L409.1,90.9 L411.3,91.7 L414.4,92.4 L417.9,93.1 L421.0,93.9 L423.1,94.6 L423.9,95.4 L423.9,99.6 L423.2,98.9 L421.0,98.1 L417.9,97.4 L414.4,96.6 L411.3,95.9 L409.2,95.1 L408.4,94.4Z" fill="#4a548c" stroke="#3e4675" stroke-width="0.4"/>
<path d="M408.5,100.9 L409.2,101.7 L411.4,102.5 L414.5,103.2 L417.9,103.9 L421.1,104.7 L423.2,105.4 L424.0,106.2 L424.0,110.4 L423.2,109.7 L421.1,108.9 L418.0,108.2 L414.5,107.4 L411.4,106.7 L409.3,105.9 L408.5,105.2Z" fill="#4a548c" stroke="#3e4675" stroke-width="0.4"/>
<path d="M408.5,111.7 L409.3,112.5 L411.5,113.3 L414.6,114.0 L418.0,114.7 L421.1,115.5 L423.3,116.2 L424.1,117.0 L424.1,121.2 L423.3,120.5 L421.2,119.7 L418.1,119.0 L414.6,118.2 L411.5,117.5 L409.4,116.7 L408.6,116.0Z" fill="#12128a" stroke="#0f0f73" stroke-width="0.4"/>
<path d="M408.6,122.5 L409.4,123.3 L411.6,124.1 L414.7,124.8 L418.1,125.5 L421.2,126.3 L423.4,127.0 L424.2,127.8 L424.2,132.0 L423.4,131.3 L421.3,130.5 L418.2,129.8 L414.7,129.0 L411.6,128.3 L409.4,127.5 L408.7,126.8Z" fill="#12128a" stroke="#0f0f73" stroke-width="0.4"/>
<path d="M408.7,133.3 L409.5,134.1 L411.7,134.9 L414.8,135.6 L418.2,136.3 L421.3,137.1 L423.5,137.8 L424.3,138.6 L424.3,142.8 L423.5,142.1 L421.4,141.3 L418.3,140.6 L414.8,139.8 L411.7,139.1 L409.5,138.3 L408.8,137.6Z" fill="#12128a" stroke="#0f0f73" stroke-width="0.4"/>
<path d="M408.8,144.1 L409.6,144.9 L411.7,145.7 L414.9,146.4 L418.3,147.1 L421.4,147.9 L423.6,148.6 L424.3,149.4 L424.4,153.6 L423.6,152.9 L421.5,152.1 L418.3,151.4 L414.9,150.6 L411.8,149.9 L409.6,149.1 L408.9,148.4Z" fill="#12128a" stroke="#0f0f73" stroke-width="0.4"/>
<path d="M408.9,154.9 L409.7,155.7 L411.8,156.5 L414.9,157.2 L418.4,157.9 L421.5,158.7 L423.7,159.4 L424.4,160.2 L424.5,164.4 L423.7,163.7 L421.5,162.9 L418.4,162.2 L415.0,161.4 L411.9,160.7 L409.7,159.9 L408.9,159.2Z" fill="#12128a" stroke="#0f0f73" stroke-width="0.4"/>
<path d="M409.0,165.7 L409.8,166.5 L411.9,167.3 L415.0,168.0 L418.5,168.7 L421.6,169.5 L423.8,170.2 L424.5,171.0 L424.6,175.2 L423.8,174.5 L421.6,173.7 L418.5,173.0 L415.1,172.2 L412.0,171.5 L409.8,170.7 L409.0,170.0Z" fill="#12128a" stroke="#0f0f73" stroke-width="0.4"/>
<path d="M409.1,176.5 L409.9,177.3 L412.0,178.1 L415.1,178.8 L418.6,179.5 L421.7,180.3 L423.8,181.0 L424.6,181.8 L424.7,186.0 L423.9,185.3 L421.7,184.5 L418.6,183.8 L415.2,183.0 L412.1,182.3 L409.9,181.5 L409.1,180.8Z" fill="#12128a" stroke="#0f0f73" stroke-width="0.4"/>
<path d="M409.2,187.3 L409.6,187.9 L410.7,188.4 L412.5,188.9 L414.7,189.5 L417.1,190.0 L419.5,190.5 L421.7,191.1 L421.7,195.3 L419.6,194.8 L417.2,194.2 L414.7,193.7 L412.5,193.2 L410.8,192.6 L409.6,192.1 L409.2,191.6Z" fill="#908186" stroke="#786c70" stroke-width="0.4"/>
<path d="M407.0,78.1 L407.0,78.1 L407.0,78.1 L407.0,78.1 L407.0,78.1 L407.0,78.2 L407.0,78.2 L407.0,78.2 L407.1,84.2 L407.1,84.2 L407.1,84.2 L407.1,84.2 L407.1,84.2 L407.1,84.2 L407.1,84.1 L407.1,84.1Z" fill="#7c8cea" stroke="#4a548c" stroke-width="0.6"/>
<path d="M407.0,79.9 L407.0,79.9 L407.0,79.9 L407.0,80.0 L407.0,80.0 L407.0,80.0" fill="none" stroke="#a9b4f1" stroke-width="1.33" stroke-linecap="round" opacity="0.7"/>
<path d="M425.0,83.4 L424.2,84.2 L421.7,85.0 L418.1,85.8 L414.1,86.6 L410.5,87.4 L408.0,88.2 L407.1,89.0 L407.1,95.0 L408.0,94.3 L410.5,93.5 L414.1,92.7 L418.1,91.9 L421.7,91.1 L424.2,90.3 L425.1,89.5Z" fill="#7c8cea" stroke="#4a548c" stroke-width="0.6"/>
<path d="M424.2,86.0 L421.7,86.8 L418.1,87.6 L414.1,88.4 L410.5,89.2 L408.0,90.0" fill="none" stroke="#a9b4f1" stroke-width="1.33" stroke-linecap="round" opacity="0.7"/>
<path d="M425.1,94.2 L424.3,95.0 L421.8,95.8 L418.2,96.6 L414.2,97.4 L410.6,98.2 L408.1,99.0 L407.2,99.8 L407.2,105.8 L408.1,105.1 L410.6,104.3 L414.2,103.5 L418.2,102.7 L421.8,101.9 L424.3,101.1 L425.2,100.3Z" fill="#7c8cea" stroke="#4a548c" stroke-width="0.6"/>
<path d="M424.3,96.8 L421.8,97.6 L418.2,98.4 L414.2,99.2 L410.6,100.0 L408.1,100.8" fill="none" stroke="#a9b4f1" stroke-width="1.33" stroke-linecap="round" opacity="0.7"/>
<path d="M425.2,105.0 L424.3,105.8 L421.9,106.6 L418.3,107.4 L414.3,108.2 L410.7,109.0 L408.2,109.8 L407.3,110.6 L407.3,116.6 L408.2,115.9 L410.7,115.1 L414.3,114.3 L418.3,113.5 L421.9,112.7 L424.4,111.9 L425.3,111.1Z" fill="#7c8cea" stroke="#4a548c" stroke-width="0.6"/>
<path d="M424.4,107.6 L421.9,108.4 L418.3,109.2 L414.3,110.0 L410.7,110.8 L408.2,111.6" fill="none" stroke="#a9b4f1" stroke-width="1.33" stroke-linecap="round" opacity="0.7"/>
<path d="M425.3,115.8 L424.4,116.6 L421.9,117.4 L418.3,118.2 L414.3,119.0 L410.7,119.8 L408.3,120.6 L407.4,121.4 L407.4,127.4 L408.3,126.7 L410.8,125.9 L414.4,125.1 L418.4,124.3 L422.0,123.5 L424.5,122.7 L425.4,121.9Z" fill="#1e1ee6" stroke="#12128a" stroke-width="0.6"/>
<path d="M424.5,118.4 L422.0,119.2 L418.4,120.0 L414.4,120.8 L410.8,121.6 L408.3,122.4" fill="none" stroke="#6c6cee" stroke-width="1.33" stroke-linecap="round" opacity="0.7"/>
<path d="M425.4,126.6 L424.5,127.4 L422.0,128.2 L418.4,129.0 L414.4,129.8 L410.8,130.6 L408.3,131.4 L407.5,132.2 L407.5,138.2 L408.4,137.5 L410.9,136.7 L414.5,135.9 L418.5,135.1 L422.1,134.3 L424.6,133.5 L425.5,132.7Z" fill="#1e1ee6" stroke="#12128a" stroke-width="0.6"/>
<path d="M424.5,129.2 L422.1,130.0 L418.5,130.8 L414.5,131.6 L410.8,132.4 L408.4,133.2" fill="none" stroke="#6c6cee" stroke-width="1.33" stroke-linecap="round" opacity="0.7"/>
<path d="M425.5,137.4 L424.6,138.2 L422.1,139.0 L418.5,139.8 L414.5,140.6 L410.9,141.4 L408.4,142.2 L407.6,143.0 L407.6,149.0 L408.5,148.3 L411.0,147.5 L414.6,146.7 L418.6,145.9 L422.2,145.1 L424.7,144.3 L425.6,143.5Z" fill="#1e1ee6" stroke="#12128a" stroke-width="0.6"/>
<path d="M424.6,140.0 L422.1,140.8 L418.5,141.6 L414.5,142.4 L410.9,143.2 L408.5,144.0" fill="none" stroke="#6c6cee" stroke-width="1.33" stroke-linecap="round" opacity="0.7"/>
<path d="M425.6,148.2 L424.7,149.0 L422.2,149.8 L418.6,150.6 L414.6,151.4 L411.0,152.2 L408.5,153.0 L407.6,153.8 L407.7,159.8 L408.6,159.1 L411.1,158.3 L414.7,157.5 L418.7,156.7 L422.3,155.9 L424.8,155.1 L425.6,154.3Z" fill="#1e1ee6" stroke="#12128a" stroke-width="0.6"/>
<path d="M424.7,150.8 L422.2,151.6 L418.6,152.4 L414.6,153.2 L411.0,154.0 L408.5,154.8" fill="none" stroke="#6c6cee" stroke-width="1.33" stroke-linecap="round" opacity="0.7"/>
<path d="M425.7,159.0 L424.8,159.8 L422.3,160.6 L418.7,161.4 L414.7,162.2 L411.1,163.0 L408.6,163.8 L407.7,164.6 L407.8,170.6 L408.7,169.9 L411.2,169.1 L414.8,168.3 L418.8,167.5 L422.4,166.7 L424.9,165.9 L425.7,165.1Z" fill="#1e1ee6" stroke="#12128a" stroke-width="0.6"/>
<path d="M424.8,161.6 L422.3,162.4 L418.7,163.2 L414.7,164.0 L411.1,164.8 L408.6,165.6" fill="none" stroke="#6c6cee" stroke-width="1.33" stroke-linecap="round" opacity="0.7"/>
<path d="M425.8,169.8 L424.9,170.6 L422.4,171.4 L418.8,172.2 L414.8,173.0 L411.2,173.8 L408.7,174.6 L407.8,175.4 L407.9,181.4 L408.8,180.7 L411.3,179.9 L414.9,179.1 L418.9,178.3 L422.5,177.5 L424.9,176.7 L425.8,175.9Z" fill="#1e1ee6" stroke="#12128a" stroke-width="0.6"/>
<path d="M424.9,172.4 L422.4,173.2 L418.8,174.0 L414.8,174.8 L411.2,175.6 L408.7,176.4" fill="none" stroke="#6c6cee" stroke-width="1.33" stroke-linecap="round" opacity="0.7"/>
<path d="M425.9,180.6 L425.0,181.4 L422.5,182.2 L418.9,183.0 L414.9,183.8 L411.3,184.6 L408.8,185.4 L407.9,186.2 L408.0,192.2 L408.9,191.5 L411.3,190.7 L414.9,189.9 L418.9,189.1 L422.5,188.3 L425.0,187.5 L425.9,186.7Z" fill="#1e1ee6" stroke="#12128a" stroke-width="0.6"/>
<path d="M425.0,183.2 L422.5,184.0 L418.9,184.8 L414.9,185.6 L411.3,186.4 L408.8,187.2" fill="none" stroke="#6c6cee" stroke-width="1.33" stroke-linecap="round" opacity="0.7"/>
<path d="M416.6,150.5 L417.6,151.3 L420.2,151.9 L423.9,152.4 L428.0,152.8 L431.7,153.3 L434.3,153.9 L435.3,154.6 L435.8,159.5 L434.8,158.8 L432.2,158.2 L428.5,157.7 L424.5,157.3 L420.7,156.8 L418.2,156.2 L417.2,155.4Z" fill="#3f4987" stroke="#353d71" stroke-width="0.4"/>
<path d="M418.1,163.0 L418.2,163.4 L418.7,163.7 L419.3,163.9 L420.2,164.2 L421.3,164.4 L422.5,164.6 L423.9,164.7 L424.5,169.6 L423.1,169.5 L421.9,169.3 L420.8,169.1 L419.9,168.8 L419.2,168.6 L418.8,168.3 L418.7,167.9Z" fill="#3f4987" stroke="#353d71" stroke-width="0.4"/>
<path d="M425.0,145.0 L422.7,145.7 L420.6,146.4 L418.7,147.1 L417.1,147.8 L415.9,148.4 L415.2,148.9 L415.0,149.4 L415.8,156.4 L416.0,155.9 L416.7,155.4 L417.9,154.8 L419.5,154.1 L421.4,153.4 L423.6,152.7 L425.8,152.0Z" fill="#6a7ae2" stroke="#3f4987" stroke-width="0.6"/>
<path d="M423.0,147.8 L420.8,148.5 L418.9,149.2 L417.3,149.9 L416.1,150.5 L415.4,151.0" fill="none" stroke="#9ea8ec" stroke-width="1.55" stroke-linecap="round" opacity="0.7"/>
<path d="M436.6,153.1 L435.6,154.1 L432.8,155.4 L428.8,156.8 L424.2,158.2 L420.2,159.6 L417.4,160.9 L416.5,161.9 L417.3,168.9 L418.2,167.9 L421.0,166.6 L425.1,165.2 L429.6,163.8 L433.7,162.4 L436.5,161.2 L437.4,160.1Z" fill="#6a7ae2" stroke="#3f4987" stroke-width="0.6"/>
<path d="M435.9,156.3 L433.1,157.5 L429.0,158.9 L424.5,160.3 L420.4,161.7 L417.6,163.0" fill="none" stroke="#9ea8ec" stroke-width="1.55" stroke-linecap="round" opacity="0.7"/>
<path d="M400.0,178.0 Q396.0,184.0 394.0,188.0 Q392.0,192.0 393.0,195.0 L394.0,198.0" stroke="#d03030" stroke-width="1.5" fill="none" stroke-linecap="round" stroke-linejoin="round"/>
<ellipse cx="402.5" cy="198.5" rx="7.5" ry="6.0" fill="none" stroke="#806767" stroke-width="3.2"/>
<ellipse cx="402.5" cy="198.5" rx="7.5" ry="6.0" fill="none" stroke="#b89494" stroke-width="2"/>
<path d="M466.0,165.0 Q470.0,160.0 472.0,157.0 L474.0,154.0" stroke="#e87878" stroke-width="1.5" fill="none" stroke-linecap="round" stroke-linejoin="round"/>
<path d="M467.9,153.9 L468.6,154.4 L470.5,154.9 L473.1,155.3 L476.0,155.6 L478.7,156.0 L480.5,156.4 L481.2,157.0 L481.6,160.5 L480.9,159.9 L479.1,159.5 L476.4,159.1 L473.5,158.8 L470.9,158.4 L469.0,158.0 L468.3,157.4Z" fill="#8b4848" stroke="#743c3c" stroke-width="0.4"/>
<path d="M468.9,162.8 L469.6,163.4 L471.4,163.8 L474.1,164.2 L477.0,164.5 L479.6,164.9 L481.5,165.4 L482.2,165.9 L482.6,169.4 L481.9,168.9 L480.0,168.4 L477.4,168.0 L474.5,167.7 L471.8,167.4 L470.0,166.9 L469.3,166.3Z" fill="#8b4848" stroke="#743c3c" stroke-width="0.4"/>
<path d="M469.8,171.8 L470.2,172.2 L471.0,172.5 L472.2,172.8 L473.8,173.0 L475.6,173.2 L477.5,173.4 L479.3,173.7 L479.6,177.2 L477.8,176.9 L476.0,176.7 L474.2,176.5 L472.6,176.3 L471.3,176.0 L470.5,175.7 L470.2,175.3Z" fill="#8b4848" stroke="#743c3c" stroke-width="0.4"/>
<path d="M474.0,150.0 L472.4,150.5 L470.8,151.0 L469.5,151.5 L468.3,151.9 L467.5,152.3 L466.9,152.7 L466.8,153.0 L467.3,158.0 L467.5,157.7 L468.0,157.3 L468.8,156.9 L470.0,156.5 L471.4,156.0 L472.9,155.5 L474.5,155.0Z" fill="#e87878" stroke="#8b4848" stroke-width="0.6"/>
<path d="M472.5,152.0 L471.0,152.5 L469.6,153.0 L468.5,153.4 L467.6,153.8 L467.1,154.2" fill="none" stroke="#f0a7a7" stroke-width="1.11" stroke-linecap="round" opacity="0.7"/>
<path d="M482.2,155.9 L481.5,156.6 L479.5,157.5 L476.6,158.5 L473.3,159.4 L470.4,160.4 L468.4,161.3 L467.7,162.0 L468.3,167.0 L468.9,166.3 L470.9,165.4 L473.9,164.5 L477.1,163.5 L480.0,162.5 L482.0,161.6 L482.7,160.9Z" fill="#e87878" stroke="#8b4848" stroke-width="0.6"/>
<path d="M481.7,158.1 L479.7,159.0 L476.7,160.0 L473.5,160.9 L470.6,161.9 L468.6,162.8" fill="none" stroke="#f0a7a7" stroke-width="1.11" stroke-linecap="round" opacity="0.7"/>
<path d="M483.1,164.9 L482.5,165.6 L480.5,166.4 L477.5,167.4 L474.3,168.4 L471.4,169.4 L469.4,170.2 L468.7,170.9 L469.2,175.9 L469.9,175.2 L471.9,174.4 L474.8,173.4 L478.1,172.4 L481.0,171.5 L483.0,170.6 L483.7,169.9Z" fill="#e87878" stroke="#8b4848" stroke-width="0.6"/>
<path d="M482.6,167.1 L480.6,167.9 L477.7,168.9 L474.5,169.9 L471.5,170.9 L469.5,171.7" fill="none" stroke="#f0a7a7" stroke-width="1.11" stroke-linecap="round" opacity="0.7"/>
<path d="M450.9,164.0 L451.7,164.7 L453.7,165.3 L456.7,165.9 L460.0,166.5 L462.9,167.0 L465.0,167.6 L465.8,168.3 L466.0,172.3 L465.2,171.6 L463.2,171.0 L460.2,170.4 L456.9,169.9 L453.9,169.3 L451.9,168.7 L451.1,168.0Z" fill="#8b4c4c" stroke="#744040" stroke-width="0.4"/>
<path d="M451.4,174.2 L452.2,174.9 L454.3,175.5 L457.2,176.1 L460.5,176.6 L463.5,177.2 L465.6,177.8 L466.3,178.5 L466.5,182.5 L465.8,181.8 L463.7,181.2 L460.7,180.6 L457.5,180.1 L454.5,179.5 L452.4,178.9 L451.7,178.2Z" fill="#8b4c4c" stroke="#744040" stroke-width="0.4"/>
<path d="M452.0,184.4 L452.8,185.1 L454.8,185.7 L457.8,186.3 L461.1,186.8 L464.0,187.4 L466.1,188.0 L466.9,188.7 L467.1,192.7 L466.3,192.0 L464.3,191.4 L461.3,190.8 L458.0,190.3 L455.0,189.7 L453.0,189.1 L452.2,188.4Z" fill="#8b4c4c" stroke="#744040" stroke-width="0.4"/>
<path d="M458.0,160.0 L456.1,160.5 L454.4,160.9 L452.8,161.4 L451.4,161.8 L450.5,162.2 L449.8,162.6 L449.7,163.0 L450.0,168.7 L450.2,168.3 L450.8,167.9 L451.8,167.5 L453.1,167.1 L454.7,166.6 L456.4,166.2 L458.3,165.7Z" fill="#e88080" stroke="#8b4c4c" stroke-width="0.6"/>
<path d="M456.2,162.2 L454.4,162.6 L452.9,163.1 L451.5,163.5 L450.5,163.9 L449.9,164.3" fill="none" stroke="#f0acac" stroke-width="1.26" stroke-linecap="round" opacity="0.7"/>
<path d="M466.9,167.2 L466.1,168.0 L463.8,168.8 L460.4,169.7 L456.7,170.7 L453.3,171.6 L451.0,172.4 L450.2,173.2 L450.5,178.9 L451.3,178.1 L453.6,177.3 L457.0,176.4 L460.7,175.4 L464.1,174.5 L466.4,173.7 L467.2,172.9Z" fill="#e88080" stroke="#8b4c4c" stroke-width="0.6"/>
<path d="M466.2,169.7 L463.9,170.5 L460.5,171.4 L456.8,172.4 L453.4,173.3 L451.1,174.1" fill="none" stroke="#f0acac" stroke-width="1.26" stroke-linecap="round" opacity="0.7"/>
<path d="M467.5,177.4 L466.6,178.1 L464.3,179.0 L461.0,179.9 L457.2,180.8 L453.9,181.7 L451.6,182.6 L450.8,183.4 L451.1,189.1 L451.9,188.3 L454.2,187.5 L457.5,186.5 L461.3,185.6 L464.6,184.7 L467.0,183.8 L467.8,183.1Z" fill="#e88080" stroke="#8b4c4c" stroke-width="0.6"/>
<path d="M466.7,179.8 L464.4,180.7 L461.1,181.6 L457.3,182.5 L454.0,183.5 L451.6,184.3" fill="none" stroke="#f0acac" stroke-width="1.26" stroke-linecap="round" opacity="0.7"/>
<path d="M468.0,187.6 L467.7,188.0 L466.7,188.6 L465.1,189.1 L463.0,189.7 L460.7,190.3 L458.3,190.9 L455.9,191.5 L456.3,197.2 L458.6,196.6 L461.0,196.0 L463.3,195.4 L465.4,194.8 L467.0,194.3 L468.0,193.7 L468.3,193.3Z" fill="#e88080" stroke="#8b4c4c" stroke-width="0.6"/>
<path d="M467.8,189.8 L466.8,190.3 L465.2,190.8 L463.1,191.4 L460.8,192.0 L458.3,192.6" fill="none" stroke="#f0acac" stroke-width="1.26" stroke-linecap="round" opacity="0.7"/>
<path d="M421.8,172.1 L422.8,172.6 L425.1,172.6 L428.3,172.4 L431.8,172.1 L435.0,171.8 L437.3,171.9 L438.2,172.4 L439.5,176.4 L438.6,175.9 L436.3,175.9 L433.1,176.1 L429.6,176.4 L426.4,176.6 L424.1,176.6 L423.1,176.1Z" fill="#872424" stroke="#711e1e" stroke-width="0.4"/>
<path d="M425.2,182.3 L426.1,182.8 L428.4,182.9 L431.6,182.7 L435.1,182.3 L438.3,182.1 L440.6,182.2 L441.6,182.7 L442.9,186.7 L441.9,186.2 L439.6,186.1 L436.4,186.4 L432.9,186.7 L429.7,186.9 L427.5,186.8 L426.5,186.4Z" fill="#872424" stroke="#711e1e" stroke-width="0.4"/>
<path d="M428.5,192.6 L429.5,193.1 L431.8,193.2 L435.0,192.9 L438.5,192.6 L441.7,192.4 L443.9,192.4 L444.9,192.9 L446.2,197.0 L445.3,196.5 L443.0,196.4 L439.8,196.6 L436.3,197.0 L433.1,197.2 L430.8,197.1 L429.8,196.6Z" fill="#872424" stroke="#711e1e" stroke-width="0.4"/>
<path d="M431.9,202.9 L432.5,203.3 L433.8,203.4 L435.9,203.4 L438.4,203.2 L441.0,202.9 L443.6,202.7 L445.8,202.6 L447.1,206.6 L444.9,206.7 L442.3,207.0 L439.7,207.2 L437.2,207.4 L435.2,207.5 L433.8,207.3 L433.2,206.9Z" fill="#872424" stroke="#711e1e" stroke-width="0.4"/>
<path d="M428.0,166.0 L426.2,167.0 L424.5,167.9 L423.0,168.8 L421.8,169.6 L420.9,170.3 L420.4,170.9 L420.3,171.4 L422.2,177.1 L422.2,176.7 L422.8,176.1 L423.7,175.4 L424.9,174.6 L426.4,173.7 L428.1,172.7 L429.9,171.8Z" fill="#e23c3c" stroke="#872424" stroke-width="0.6"/>
<path d="M426.8,168.7 L425.1,169.7 L423.6,170.6 L422.3,171.4 L421.4,172.1 L420.9,172.6" fill="none" stroke="#ec8080" stroke-width="1.33" stroke-linecap="round" opacity="0.7"/>
<path d="M439.1,170.9 L438.5,171.9 L436.3,173.4 L433.1,175.3 L429.6,177.3 L426.4,179.1 L424.2,180.6 L423.6,181.6 L425.5,187.4 L426.1,186.4 L428.2,184.9 L431.4,183.0 L435.0,181.0 L438.2,179.2 L440.3,177.7 L440.9,176.7Z" fill="#e23c3c" stroke="#872424" stroke-width="0.6"/>
<path d="M439.0,173.7 L436.9,175.2 L433.7,177.0 L430.1,179.0 L426.9,180.8 L424.8,182.3" fill="none" stroke="#ec8080" stroke-width="1.33" stroke-linecap="round" opacity="0.7"/>
<path d="M442.4,181.2 L441.8,182.2 L439.7,183.7 L436.5,185.6 L432.9,187.5 L429.7,189.4 L427.6,190.9 L427.0,191.9 L428.8,197.6 L429.4,196.6 L431.6,195.1 L434.8,193.3 L438.3,191.3 L441.5,189.5 L443.7,187.9 L444.3,186.9Z" fill="#e23c3c" stroke="#872424" stroke-width="0.6"/>
<path d="M442.4,183.9 L440.2,185.4 L437.0,187.3 L433.5,189.3 L430.3,191.1 L428.1,192.6" fill="none" stroke="#ec8080" stroke-width="1.33" stroke-linecap="round" opacity="0.7"/>
<path d="M445.8,191.5 L445.1,192.5 L443.0,194.0 L439.8,195.8 L436.2,197.8 L433.1,199.6 L430.9,201.2 L430.3,202.2 L432.2,207.9 L432.8,206.9 L434.9,205.4 L438.1,203.5 L441.7,201.6 L444.9,199.7 L447.0,198.2 L447.6,197.2Z" fill="#e23c3c" stroke="#872424" stroke-width="0.6"/>
<path d="M445.7,194.2 L443.6,195.7 L440.4,197.5 L436.8,199.5 L433.6,201.4 L431.5,202.9" fill="none" stroke="#ec8080" stroke-width="1.33" stroke-linecap="round" opacity="0.7"/>
<path d="M548.0,80.0 Q547.0,62.0 548.5,54.5 Q550.0,47.0 552.5,41.5 Q555.0,36.0 558.0,34.0 Q561.0,32.0 563.0,35.0 Q565.0,38.0 563.5,42.0 Q562.0,46.0 565.0,48.5 Q568.0,51.0 572.0,50.0 L576.0,49.0" stroke="#8090e0" stroke-width="1.5" fill="none" stroke-linecap="round" stroke-linejoin="round"/>
<path d="M572.0,52.0 Q572.0,42.0 574.5,38.0 Q577.0,34.0 580.5,32.5 L584.0,31.0" stroke="#e8c0c0" stroke-width="1.5" fill="none" stroke-linecap="round" stroke-linejoin="round"/>
<path d="M573.4,41.5 L573.9,41.6 L575.0,41.5 L576.6,41.1 L578.3,40.7 L579.9,40.4 L581.0,40.2 L581.5,40.4 L582.5,42.3 L582.0,42.1 L580.8,42.3 L579.3,42.6 L577.6,43.0 L576.0,43.4 L574.9,43.5 L574.3,43.3Z" fill="#907c7c" stroke="#786868" stroke-width="0.4"/>
<path d="M575.8,46.3 L576.3,46.5 L577.5,46.3 L579.0,46.0 L580.7,45.5 L582.3,45.2 L583.4,45.1 L583.9,45.2 L584.9,47.1 L584.4,47.0 L583.2,47.1 L581.7,47.4 L580.0,47.9 L578.4,48.2 L577.3,48.3 L576.8,48.2Z" fill="#907c7c" stroke="#786868" stroke-width="0.4"/>
<path d="M578.2,51.1 L578.3,51.2 L578.3,51.2 L578.4,51.2 L578.5,51.3 L578.7,51.3 L578.8,51.3 L579.0,51.3 L579.9,53.2 L579.7,53.2 L579.6,53.2 L579.5,53.2 L579.4,53.1 L579.3,53.1 L579.2,53.1 L579.2,53.0Z" fill="#907c7c" stroke="#786868" stroke-width="0.4"/>
<path d="M576.0,38.0 L575.2,38.6 L574.4,39.2 L573.7,39.8 L573.2,40.3 L572.8,40.7 L572.6,41.0 L572.6,41.2 L573.9,43.9 L573.9,43.7 L574.2,43.4 L574.6,43.0 L575.1,42.5 L575.8,41.9 L576.5,41.3 L577.4,40.7Z" fill="#f0d0d0" stroke="#907c7c" stroke-width="0.6"/>
<path d="M575.6,39.4 L574.8,40.0 L574.2,40.6 L573.6,41.1 L573.2,41.5 L573.0,41.8" fill="none" stroke="#f5e0e0" stroke-width="0.67" stroke-linecap="round" opacity="0.7"/>
<path d="M581.8,39.6 L581.6,40.2 L580.7,41.1 L579.2,42.2 L577.6,43.5 L576.2,44.6 L575.2,45.5 L575.0,46.0 L576.3,48.8 L576.6,48.2 L577.5,47.3 L579.0,46.2 L580.6,44.9 L582.0,43.8 L583.0,42.9 L583.2,42.3Z" fill="#f0d0d0" stroke="#907c7c" stroke-width="0.6"/>
<path d="M582.0,41.0 L581.1,41.9 L579.6,43.0 L578.0,44.3 L576.6,45.4 L575.6,46.3" fill="none" stroke="#f5e0e0" stroke-width="0.67" stroke-linecap="round" opacity="0.7"/>
<path d="M584.3,44.4 L584.0,45.0 L583.1,45.9 L581.6,47.0 L580.0,48.3 L578.6,49.4 L577.6,50.3 L577.4,50.9 L578.8,53.6 L579.0,53.0 L579.9,52.1 L581.4,51.0 L583.0,49.7 L584.4,48.6 L585.4,47.7 L585.6,47.1Z" fill="#f0d0d0" stroke="#907c7c" stroke-width="0.6"/>
<path d="M584.4,45.8 L583.5,46.7 L582.0,47.9 L580.4,49.1 L579.0,50.2 L578.0,51.1" fill="none" stroke="#f5e0e0" stroke-width="0.67" stroke-linecap="round" opacity="0.7"/>
<path d="M546.0,80.0 Q549.0,66.0 551.0,61.5 Q553.0,57.0 557.0,55.0 Q561.0,53.0 566.0,52.0 Q571.0,51.0 576.0,52.0 L581.0,53.0" stroke="#303030" stroke-width="1.5" fill="none" stroke-linecap="round" stroke-linejoin="round"/>
<path d="M562.0,82.0 Q567.0,76.0 569.0,73.0 Q571.0,70.0 573.0,70.5 Q575.0,71.0 577.0,73.5 L579.0,76.0" stroke="#6070e0" stroke-width="1.3" fill="none" stroke-linecap="round" stroke-linejoin="round"/>
<path d="M591.0,64.0 Q598.0,61.0 602.0,62.5 Q606.0,64.0 609.5,66.0 Q613.0,68.0 617.0,71.0 L621.0,74.0" stroke="#d05050" stroke-width="1.5" fill="none" stroke-linecap="round" stroke-linejoin="round"/>
<path d="M560,59 L564,61 L553,83 L548.5,82 Z" fill="#333333" stroke="#282828" stroke-width="0.5"/>
<path d="M581.0,52.0 A6.0,6.0 0 1 1 578.9,63.6" stroke="#222222" stroke-width="5.5" fill="none" stroke-linecap="butt"/>
<path d="M520.1,81.3 L520.7,81.1 L521.7,80.1 L523.0,78.6 L524.3,76.9 L525.5,75.3 L526.5,74.4 L527.1,74.1 L529.5,75.2 L528.8,75.5 L527.9,76.4 L526.6,78.0 L525.3,79.7 L524.1,81.2 L523.1,82.2 L522.5,82.4Z" fill="#8e8e92" stroke="#77777a" stroke-width="0.4"/>
<path d="M526.1,84.1 L526.7,83.9 L527.7,82.9 L528.9,81.4 L530.3,79.7 L531.5,78.1 L532.5,77.2 L533.1,76.9 L535.4,78.0 L534.8,78.3 L533.8,79.2 L532.6,80.8 L531.3,82.5 L530.0,84.0 L529.1,85.0 L528.4,85.2Z" fill="#8e8e92" stroke="#77777a" stroke-width="0.4"/>
<path d="M532.1,86.9 L532.1,86.9 L532.1,86.9 L532.2,86.9 L532.2,86.9 L532.2,86.9 L532.3,86.9 L532.3,86.9 L534.7,88.0 L534.6,88.0 L534.6,88.0 L534.5,88.0 L534.5,88.0 L534.5,88.0 L534.4,88.0 L534.4,88.0Z" fill="#8e8e92" stroke="#77777a" stroke-width="0.4"/>
<path d="M520.0,76.0 L519.7,77.2 L519.4,78.4 L519.2,79.4 L519.0,80.3 L519.0,81.0 L519.0,81.5 L519.2,81.7 L522.5,83.3 L522.3,83.0 L522.3,82.6 L522.4,81.9 L522.5,81.0 L522.8,79.9 L523.0,78.8 L523.3,77.6Z" fill="#eeeef4" stroke="#8e8e92" stroke-width="0.6"/>
<path d="M520.7,77.7 L520.4,78.8 L520.2,79.9 L520.0,80.8 L520.0,81.5 L520.0,81.9" fill="none" stroke="#f3f3f7" stroke-width="0.81" stroke-linecap="round" opacity="0.7"/>
<path d="M526.8,73.1 L527.0,73.8 L526.8,75.4 L526.3,77.6 L525.7,80.0 L525.2,82.2 L524.9,83.8 L525.1,84.5 L528.5,86.1 L528.3,85.4 L528.5,83.8 L529.0,81.6 L529.6,79.2 L530.1,77.0 L530.4,75.4 L530.2,74.7Z" fill="#eeeef4" stroke="#8e8e92" stroke-width="0.6"/>
<path d="M528.0,74.3 L527.8,75.9 L527.3,78.1 L526.7,80.5 L526.2,82.7 L525.9,84.3" fill="none" stroke="#f3f3f7" stroke-width="0.81" stroke-linecap="round" opacity="0.7"/>
<path d="M532.8,75.9 L533.0,76.6 L532.8,78.2 L532.3,80.4 L531.6,82.8 L531.1,85.0 L530.9,86.6 L531.1,87.3 L534.4,88.9 L534.2,88.2 L534.5,86.6 L535.0,84.4 L535.6,82.0 L536.1,79.8 L536.3,78.2 L536.1,77.5Z" fill="#eeeef4" stroke="#8e8e92" stroke-width="0.6"/>
<path d="M534.0,77.1 L533.8,78.7 L533.3,80.9 L532.6,83.3 L532.1,85.5 L531.9,87.1" fill="none" stroke="#f3f3f7" stroke-width="0.81" stroke-linecap="round" opacity="0.7"/>
<path d="M578.3,64.1 L579.0,64.9 L581.2,65.7 L584.3,66.4 L587.7,67.2 L590.8,68.0 L593.0,68.8 L593.7,69.5 L593.7,73.8 L593.0,73.0 L590.8,72.2 L587.7,71.4 L584.3,70.7 L581.2,69.9 L579.0,69.1 L578.3,68.4Z" fill="#12128a" stroke="#0f0f73" stroke-width="0.4"/>
<path d="M578.3,74.9 L579.0,75.7 L581.2,76.5 L584.3,77.2 L587.7,78.0 L590.8,78.8 L593.0,79.6 L593.7,80.3 L593.7,84.6 L593.0,83.8 L590.8,83.0 L587.7,82.2 L584.3,81.5 L581.2,80.7 L579.0,79.9 L578.3,79.2Z" fill="#12128a" stroke="#0f0f73" stroke-width="0.4"/>
<path d="M578.3,85.7 L579.0,86.5 L581.2,87.3 L584.3,88.0 L587.7,88.8 L590.8,89.6 L593.0,90.4 L593.7,91.1 L593.7,95.4 L593.0,94.6 L590.8,93.8 L587.7,93.0 L584.3,92.3 L581.2,91.5 L579.0,90.7 L578.3,90.0Z" fill="#12128a" stroke="#0f0f73" stroke-width="0.4"/>
<path d="M578.3,96.5 L578.8,97.2 L580.4,97.8 L582.8,98.5 L585.6,99.1 L588.5,99.8 L591.0,100.4 L592.9,101.1 L592.9,105.3 L591.0,104.7 L588.5,104.0 L585.6,103.4 L582.8,102.7 L580.4,102.1 L578.8,101.4 L578.3,100.8Z" fill="#12128a" stroke="#0f0f73" stroke-width="0.4"/>
<path d="M578.4,62.0 L578.1,62.1 L577.7,62.3 L577.5,62.4 L577.3,62.6 L577.1,62.7 L577.0,62.8 L577.0,63.0 L577.0,69.0 L577.0,68.9 L577.1,68.7 L577.3,68.6 L577.5,68.5 L577.7,68.3 L578.1,68.2 L578.4,68.0Z" fill="#1e1ee6" stroke="#12128a" stroke-width="0.6"/>
<path d="M578.1,64.0 L577.7,64.1 L577.5,64.2 L577.3,64.4 L577.1,64.5 L577.0,64.7" fill="none" stroke="#6c6cee" stroke-width="1.33" stroke-linecap="round" opacity="0.7"/>
<path d="M595.0,68.4 L594.1,69.2 L591.6,69.9 L588.0,70.7 L584.0,71.5 L580.4,72.2 L577.9,73.0 L577.0,73.8 L577.0,79.8 L577.9,79.1 L580.4,78.3 L584.0,77.5 L588.0,76.7 L591.6,76.0 L594.1,75.2 L595.0,74.4Z" fill="#1e1ee6" stroke="#12128a" stroke-width="0.6"/>
<path d="M594.1,71.0 L591.6,71.7 L588.0,72.5 L584.0,73.3 L580.4,74.1 L577.9,74.8" fill="none" stroke="#6c6cee" stroke-width="1.33" stroke-linecap="round" opacity="0.7"/>
<path d="M595.0,79.2 L594.1,80.0 L591.6,80.7 L588.0,81.5 L584.0,82.3 L580.4,83.0 L577.9,83.8 L577.0,84.6 L577.0,90.6 L577.9,89.9 L580.4,89.1 L584.0,88.3 L588.0,87.5 L591.6,86.8 L594.1,86.0 L595.0,85.2Z" fill="#1e1ee6" stroke="#12128a" stroke-width="0.6"/>
<path d="M594.1,81.8 L591.6,82.5 L588.0,83.3 L584.0,84.1 L580.4,84.9 L577.9,85.6" fill="none" stroke="#6c6cee" stroke-width="1.33" stroke-linecap="round" opacity="0.7"/>
<path d="M595.0,90.0 L594.1,90.8 L591.6,91.5 L588.0,92.3 L584.0,93.1 L580.4,93.8 L577.9,94.6 L577.0,95.4 L577.0,101.4 L577.9,100.7 L580.4,99.9 L584.0,99.1 L588.0,98.3 L591.6,97.6 L594.1,96.8 L595.0,96.0Z" fill="#1e1ee6" stroke="#12128a" stroke-width="0.6"/>
<path d="M594.1,92.6 L591.6,93.3 L588.0,94.1 L584.0,94.9 L580.4,95.7 L577.9,96.4" fill="none" stroke="#6c6cee" stroke-width="1.33" stroke-linecap="round" opacity="0.7"/>
<path d="M576.7,101.1 L578.7,101.7 L581.2,102.4 L584.0,103.0 L586.6,103.7 L588.8,104.3 L590.2,105.0 L590.7,105.6 L590.6,109.8 L590.1,109.2 L588.7,108.5 L586.6,107.9 L583.9,107.2 L581.2,106.6 L578.7,105.9 L576.7,105.3Z" fill="#12128a" stroke="#0f0f73" stroke-width="0.4"/>
<path d="M575.1,110.8 L575.9,111.5 L578.0,112.3 L581.1,113.2 L584.5,114.0 L587.6,114.8 L589.8,115.6 L590.5,116.4 L590.5,120.6 L589.7,119.8 L587.6,119.0 L584.5,118.2 L581.0,117.4 L577.9,116.6 L575.8,115.8 L575.1,115.0Z" fill="#12128a" stroke="#0f0f73" stroke-width="0.4"/>
<path d="M575.0,121.6 L575.7,122.3 L577.9,123.1 L580.9,124.0 L584.4,124.8 L587.5,125.6 L589.6,126.4 L590.4,127.2 L590.3,131.4 L589.5,130.6 L587.4,129.8 L584.3,129.0 L580.9,128.2 L577.8,127.4 L575.7,126.6 L574.9,125.8Z" fill="#12128a" stroke="#0f0f73" stroke-width="0.4"/>
<path d="M574.8,132.4 L575.6,133.1 L577.7,133.9 L580.8,134.8 L584.2,135.6 L587.3,136.4 L589.5,137.2 L590.2,138.0 L590.2,142.2 L589.4,141.4 L587.3,140.6 L584.2,139.8 L580.7,139.0 L577.6,138.2 L575.5,137.4 L574.8,136.6Z" fill="#12128a" stroke="#0f0f73" stroke-width="0.4"/>
<path d="M574.7,143.2 L575.4,143.9 L577.6,144.7 L580.6,145.6 L584.1,146.4 L587.2,147.2 L589.3,148.0 L590.1,148.8 L590.0,153.0 L589.2,152.2 L587.1,151.4 L584.0,150.6 L580.6,149.8 L577.5,149.0 L575.4,148.2 L574.6,147.4Z" fill="#12128a" stroke="#0f0f73" stroke-width="0.4"/>
<path d="M574.5,154.0 L575.3,154.7 L577.4,155.5 L580.5,156.4 L583.9,157.2 L587.0,158.0 L589.2,158.8 L589.9,159.6 L589.9,163.8 L589.1,163.0 L587.0,162.2 L583.9,161.4 L580.4,160.6 L577.3,159.8 L575.2,159.0 L574.5,158.2Z" fill="#12128a" stroke="#0f0f73" stroke-width="0.4"/>
<path d="M574.4,164.8 L574.5,165.1 L574.9,165.4 L575.5,165.7 L576.4,166.1 L577.5,166.4 L578.7,166.7 L580.0,167.1 L580.0,171.3 L578.6,171.0 L577.4,170.6 L576.3,170.3 L575.5,170.0 L574.8,169.6 L574.4,169.3 L574.3,169.0Z" fill="#12128a" stroke="#0f0f73" stroke-width="0.4"/>
<path d="M591.9,104.4 L591.0,105.2 L588.5,105.9 L584.9,106.7 L580.9,107.4 L577.3,108.1 L574.8,108.8 L573.9,109.6 L573.8,115.6 L574.7,114.9 L577.2,114.1 L580.8,113.4 L584.8,112.7 L588.4,112.0 L591.0,111.2 L591.9,110.5Z" fill="#1e1ee6" stroke="#12128a" stroke-width="0.6"/>
<path d="M591.0,107.0 L588.5,107.8 L584.9,108.5 L580.9,109.2 L577.3,109.9 L574.7,110.6" fill="none" stroke="#6c6cee" stroke-width="1.33" stroke-linecap="round" opacity="0.7"/>
<path d="M591.8,115.2 L590.9,116.0 L588.4,116.7 L584.8,117.5 L580.7,118.2 L577.1,118.9 L574.6,119.6 L573.7,120.4 L573.6,126.4 L574.5,125.7 L577.0,124.9 L580.7,124.2 L584.7,123.5 L588.3,122.8 L590.8,122.0 L591.7,121.3Z" fill="#1e1ee6" stroke="#12128a" stroke-width="0.6"/>
<path d="M590.9,117.8 L588.4,118.6 L584.7,119.3 L580.7,120.0 L577.1,120.7 L574.6,121.4" fill="none" stroke="#6c6cee" stroke-width="1.33" stroke-linecap="round" opacity="0.7"/>
<path d="M591.6,126.0 L590.7,126.8 L588.2,127.5 L584.6,128.3 L580.6,129.0 L577.0,129.7 L574.5,130.4 L573.6,131.2 L573.5,137.2 L574.4,136.5 L576.9,135.7 L580.5,135.0 L584.5,134.3 L588.1,133.6 L590.7,132.8 L591.6,132.1Z" fill="#1e1ee6" stroke="#12128a" stroke-width="0.6"/>
<path d="M590.7,128.6 L588.2,129.4 L584.6,130.1 L580.6,130.8 L577.0,131.5 L574.4,132.2" fill="none" stroke="#6c6cee" stroke-width="1.33" stroke-linecap="round" opacity="0.7"/>
<path d="M591.5,136.8 L590.6,137.6 L588.1,138.3 L584.5,139.1 L580.4,139.8 L576.8,140.5 L574.3,141.2 L573.4,142.0 L573.3,148.0 L574.2,147.3 L576.7,146.5 L580.4,145.8 L584.4,145.1 L588.0,144.4 L590.5,143.6 L591.4,142.9Z" fill="#1e1ee6" stroke="#12128a" stroke-width="0.6"/>
<path d="M590.6,139.4 L588.1,140.1 L584.4,140.9 L580.4,141.6 L576.8,142.3 L574.3,143.0" fill="none" stroke="#6c6cee" stroke-width="1.33" stroke-linecap="round" opacity="0.7"/>
<path d="M591.3,147.6 L590.4,148.4 L587.9,149.1 L584.3,149.9 L580.3,150.6 L576.7,151.3 L574.2,152.0 L573.3,152.8 L573.2,158.8 L574.1,158.1 L576.6,157.3 L580.2,156.6 L584.2,155.9 L587.8,155.2 L590.4,154.4 L591.3,153.7Z" fill="#1e1ee6" stroke="#12128a" stroke-width="0.6"/>
<path d="M590.4,150.2 L587.9,150.9 L584.3,151.7 L580.3,152.4 L576.7,153.1 L574.1,153.8" fill="none" stroke="#6c6cee" stroke-width="1.33" stroke-linecap="round" opacity="0.7"/>
<path d="M591.2,158.4 L590.3,159.2 L587.8,159.9 L584.2,160.7 L580.1,161.4 L576.5,162.1 L574.0,162.8 L573.1,163.6 L573.0,169.6 L573.9,168.9 L576.4,168.1 L580.1,167.4 L584.1,166.7 L587.7,166.0 L590.2,165.2 L591.1,164.5Z" fill="#1e1ee6" stroke="#12128a" stroke-width="0.6"/>
<path d="M590.3,161.0 L587.8,161.7 L584.1,162.5 L580.1,163.2 L576.5,163.9 L574.0,164.6" fill="none" stroke="#6c6cee" stroke-width="1.33" stroke-linecap="round" opacity="0.7"/>
<path d="M607.4,71.7 L608.0,72.6 L609.9,73.6 L612.7,74.7 L615.8,75.9 L618.6,77.1 L620.5,78.1 L621.1,78.9 L620.5,82.9 L619.9,82.0 L618.0,81.0 L615.2,79.9 L612.1,78.7 L609.3,77.5 L607.4,76.5 L606.8,75.7Z" fill="#646c8b" stroke="#545a74" stroke-width="0.4"/>
<path d="M605.9,81.8 L606.5,82.6 L608.4,83.7 L611.2,84.8 L614.3,86.0 L617.1,87.2 L619.0,88.2 L619.6,89.0 L619.0,93.0 L618.4,92.1 L616.5,91.1 L613.7,90.0 L610.6,88.8 L607.8,87.6 L605.9,86.6 L605.3,85.8Z" fill="#646c8b" stroke="#545a74" stroke-width="0.4"/>
<path d="M604.4,91.9 L605.0,92.7 L606.9,93.8 L609.7,94.9 L612.8,96.1 L615.6,97.2 L617.5,98.3 L618.1,99.1 L617.5,103.0 L616.9,102.2 L615.0,101.2 L612.2,100.1 L609.1,98.9 L606.3,97.7 L604.4,96.7 L603.8,95.9Z" fill="#12128a" stroke="#0f0f73" stroke-width="0.4"/>
<path d="M602.9,102.0 L603.5,102.8 L605.4,103.8 L608.2,105.0 L611.3,106.2 L614.1,107.3 L616.0,108.4 L616.6,109.2 L616.0,113.1 L615.4,112.3 L613.5,111.3 L610.7,110.1 L607.6,108.9 L604.8,107.8 L602.9,106.8 L602.3,106.0Z" fill="#12128a" stroke="#0f0f73" stroke-width="0.4"/>
<path d="M601.4,112.1 L602.0,112.9 L603.9,113.9 L606.7,115.1 L609.8,116.3 L612.6,117.4 L614.5,118.4 L615.1,119.3 L614.5,123.2 L613.9,122.4 L612.0,121.4 L609.2,120.2 L606.1,119.0 L603.3,117.9 L601.4,116.9 L600.8,116.0Z" fill="#12128a" stroke="#0f0f73" stroke-width="0.4"/>
<path d="M599.9,122.2 L600.5,123.0 L602.4,124.0 L605.2,125.2 L608.3,126.4 L611.1,127.5 L613.0,128.5 L613.6,129.4 L613.1,133.3 L612.4,132.5 L610.5,131.5 L607.8,130.3 L604.6,129.1 L601.8,128.0 L599.9,127.0 L599.3,126.1Z" fill="#12128a" stroke="#0f0f73" stroke-width="0.4"/>
<path d="M598.4,132.3 L599.0,133.1 L600.9,134.1 L603.7,135.3 L606.9,136.5 L609.6,137.6 L611.5,138.6 L612.2,139.5 L611.6,143.4 L611.0,142.6 L609.1,141.6 L606.3,140.4 L603.2,139.2 L600.4,138.1 L598.5,137.1 L597.9,136.2Z" fill="#12128a" stroke="#0f0f73" stroke-width="0.4"/>
<path d="M596.9,142.4 L597.6,143.2 L599.5,144.2 L602.3,145.4 L605.4,146.6 L608.2,147.7 L610.1,148.7 L610.7,149.5 L610.1,153.5 L609.5,152.7 L607.6,151.7 L604.8,150.5 L601.7,149.3 L598.9,148.2 L597.0,147.1 L596.4,146.3Z" fill="#12128a" stroke="#0f0f73" stroke-width="0.4"/>
<path d="M595.5,152.5 L596.1,153.3 L598.0,154.3 L600.8,155.4 L603.9,156.6 L606.7,157.8 L608.6,158.8 L609.2,159.6 L608.6,163.6 L608.0,162.8 L606.1,161.7 L603.3,160.6 L600.2,159.4 L597.4,158.3 L595.5,157.2 L594.9,156.4Z" fill="#12128a" stroke="#0f0f73" stroke-width="0.4"/>
<path d="M611.0,69.4 L609.9,69.5 L608.9,69.6 L608.0,69.7 L607.3,69.9 L606.8,70.0 L606.5,70.2 L606.3,70.5 L605.5,76.1 L605.6,75.9 L606.0,75.7 L606.5,75.5 L607.2,75.4 L608.0,75.2 L609.0,75.1 L610.1,75.1Z" fill="#a8b4e8" stroke="#646c8b" stroke-width="0.6"/>
<path d="M609.6,71.2 L608.6,71.3 L607.8,71.4 L607.1,71.6 L606.6,71.7 L606.2,71.9" fill="none" stroke="#c6cef0" stroke-width="1.26" stroke-linecap="round" opacity="0.7"/>
<path d="M622.4,78.0 L621.5,78.6 L619.0,79.0 L615.6,79.2 L611.7,79.4 L608.2,79.6 L605.8,80.0 L604.9,80.6 L604.0,86.2 L605.0,85.6 L607.4,85.2 L610.9,85.0 L614.7,84.9 L618.2,84.6 L620.6,84.3 L621.6,83.7Z" fill="#a8b4e8" stroke="#646c8b" stroke-width="0.6"/>
<path d="M621.2,80.3 L618.8,80.7 L615.3,80.9 L611.5,81.1 L608.0,81.3 L605.5,81.7" fill="none" stroke="#c6cef0" stroke-width="1.26" stroke-linecap="round" opacity="0.7"/>
<path d="M620.9,88.1 L620.0,88.7 L617.5,89.1 L614.1,89.3 L610.2,89.5 L606.7,89.7 L604.3,90.1 L603.4,90.7 L602.5,96.3 L603.5,95.7 L605.9,95.3 L609.4,95.1 L613.2,94.9 L616.7,94.7 L619.2,94.3 L620.1,93.7Z" fill="#1e1ee6" stroke="#12128a" stroke-width="0.6"/>
<path d="M619.7,90.4 L617.3,90.8 L613.8,91.0 L610.0,91.2 L606.5,91.4 L604.1,91.8" fill="none" stroke="#6c6cee" stroke-width="1.26" stroke-linecap="round" opacity="0.7"/>
<path d="M619.4,98.2 L618.5,98.8 L616.1,99.2 L612.6,99.4 L608.7,99.6 L605.3,99.8 L602.8,100.2 L601.9,100.8 L601.0,106.4 L602.0,105.8 L604.4,105.4 L607.9,105.2 L611.7,105.0 L615.2,104.8 L617.7,104.4 L618.6,103.8Z" fill="#1e1ee6" stroke="#12128a" stroke-width="0.6"/>
<path d="M618.2,100.5 L615.8,100.9 L612.3,101.1 L608.5,101.2 L605.0,101.5 L602.6,101.9" fill="none" stroke="#6c6cee" stroke-width="1.26" stroke-linecap="round" opacity="0.7"/>
<path d="M618.0,108.3 L617.0,108.9 L614.6,109.3 L611.1,109.5 L607.2,109.6 L603.8,109.9 L601.3,110.2 L600.4,110.8 L599.6,116.5 L600.5,115.9 L602.9,115.5 L606.4,115.3 L610.3,115.1 L613.7,114.9 L616.2,114.5 L617.1,113.9Z" fill="#1e1ee6" stroke="#12128a" stroke-width="0.6"/>
<path d="M616.8,110.6 L614.3,110.9 L610.8,111.2 L607.0,111.3 L603.5,111.6 L601.1,111.9" fill="none" stroke="#6c6cee" stroke-width="1.26" stroke-linecap="round" opacity="0.7"/>
<path d="M616.5,118.4 L615.5,119.0 L613.1,119.3 L609.6,119.6 L605.8,119.7 L602.3,120.0 L599.8,120.3 L598.9,120.9 L598.1,126.6 L599.0,126.0 L601.4,125.6 L604.9,125.4 L608.8,125.2 L612.3,125.0 L614.7,124.6 L615.6,124.0Z" fill="#1e1ee6" stroke="#12128a" stroke-width="0.6"/>
<path d="M615.3,120.7 L612.8,121.0 L609.4,121.3 L605.5,121.4 L602.0,121.7 L599.6,122.0" fill="none" stroke="#6c6cee" stroke-width="1.26" stroke-linecap="round" opacity="0.7"/>
<path d="M615.0,128.5 L614.0,129.1 L611.6,129.4 L608.1,129.7 L604.3,129.8 L600.8,130.1 L598.4,130.4 L597.4,131.0 L596.6,136.7 L597.5,136.1 L600.0,135.7 L603.4,135.5 L607.3,135.3 L610.8,135.1 L613.2,134.7 L614.1,134.1Z" fill="#1e1ee6" stroke="#12128a" stroke-width="0.6"/>
<path d="M613.8,130.8 L611.3,131.1 L607.9,131.4 L604.0,131.5 L600.5,131.7 L598.1,132.1" fill="none" stroke="#6c6cee" stroke-width="1.26" stroke-linecap="round" opacity="0.7"/>
<path d="M613.5,138.6 L612.6,139.1 L610.1,139.5 L606.6,139.7 L602.8,139.9 L599.3,140.1 L596.9,140.5 L595.9,141.1 L595.1,146.8 L596.0,146.2 L598.5,145.8 L602.0,145.6 L605.8,145.4 L609.3,145.2 L611.7,144.8 L612.7,144.2Z" fill="#1e1ee6" stroke="#12128a" stroke-width="0.6"/>
<path d="M612.3,140.8 L609.9,141.2 L606.4,141.4 L602.5,141.6 L599.1,141.8 L596.6,142.2" fill="none" stroke="#6c6cee" stroke-width="1.26" stroke-linecap="round" opacity="0.7"/>
<path d="M612.0,148.6 L611.1,149.2 L608.6,149.6 L605.1,149.8 L601.3,150.0 L597.8,150.2 L595.4,150.6 L594.4,151.2 L593.6,156.9 L594.5,156.3 L597.0,155.9 L600.5,155.7 L604.3,155.5 L607.8,155.3 L610.2,154.9 L611.2,154.3Z" fill="#1e1ee6" stroke="#12128a" stroke-width="0.6"/>
<path d="M610.8,150.9 L608.4,151.3 L604.9,151.5 L601.0,151.7 L597.6,151.9 L595.1,152.3" fill="none" stroke="#6c6cee" stroke-width="1.26" stroke-linecap="round" opacity="0.7"/>
<path d="M610.5,158.7 L610.4,159.0 L610.0,159.2 L609.4,159.4 L608.6,159.5 L607.6,159.7 L606.5,159.8 L605.2,159.8 L604.4,165.5 L605.7,165.4 L606.8,165.3 L607.8,165.2 L608.6,165.0 L609.2,164.8 L609.5,164.6 L609.7,164.4Z" fill="#1e1ee6" stroke="#12128a" stroke-width="0.6"/>
<path d="M610.1,160.7 L609.7,160.9 L609.1,161.1 L608.3,161.2 L607.4,161.4 L606.2,161.5" fill="none" stroke="#6c6cee" stroke-width="1.26" stroke-linecap="round" opacity="0.7"/>
<path d="M570.0,114.9 L570.6,115.4 L572.0,115.8 L574.1,116.2 L576.5,116.5 L578.6,116.9 L580.0,117.3 L580.6,117.8 L580.7,120.6 L580.2,120.1 L578.7,119.7 L576.6,119.4 L574.3,119.0 L572.2,118.6 L570.8,118.2 L570.2,117.7Z" fill="#783030" stroke="#642828" stroke-width="0.4"/>
<path d="M570.5,122.1 L570.7,122.4 L571.2,122.6 L571.9,122.9 L572.9,123.1 L574.1,123.3 L575.4,123.5 L576.7,123.7 L576.9,126.5 L575.6,126.3 L574.3,126.1 L573.1,125.9 L572.1,125.7 L571.4,125.4 L570.9,125.2 L570.7,124.9Z" fill="#783030" stroke="#642828" stroke-width="0.4"/>
<path d="M575.0,112.0 L573.7,112.3 L572.4,112.7 L571.3,113.0 L570.4,113.3 L569.7,113.6 L569.3,113.9 L569.1,114.2 L569.4,118.2 L569.5,118.0 L570.0,117.7 L570.7,117.4 L571.6,117.0 L572.7,116.7 L574.0,116.4 L575.3,116.0Z" fill="#c85050" stroke="#783030" stroke-width="0.6"/>
<path d="M573.8,113.6 L572.5,113.9 L571.4,114.2 L570.5,114.5 L569.8,114.8 L569.3,115.1" fill="none" stroke="#db8d8d" stroke-width="0.89" stroke-linecap="round" opacity="0.7"/>
<path d="M581.3,117.0 L580.8,117.5 L579.2,118.2 L576.8,118.8 L574.2,119.5 L571.8,120.2 L570.2,120.8 L569.6,121.4 L569.9,125.4 L570.4,124.8 L572.1,124.2 L574.4,123.6 L577.1,122.9 L579.4,122.2 L581.1,121.6 L581.6,121.0Z" fill="#c85050" stroke="#783030" stroke-width="0.6"/>
<path d="M580.9,118.7 L579.2,119.4 L576.9,120.0 L574.2,120.7 L571.9,121.4 L570.3,122.0" fill="none" stroke="#db8d8d" stroke-width="0.89" stroke-linecap="round" opacity="0.7"/>
<path d="M560.4,121.0 L561.1,121.6 L563.1,122.1 L565.9,122.5 L569.0,122.9 L571.8,123.4 L573.8,123.9 L574.5,124.5 L574.8,128.2 L574.1,127.6 L572.1,127.1 L569.3,126.7 L566.2,126.3 L563.4,125.8 L561.4,125.3 L560.7,124.7Z" fill="#12128a" stroke="#0f0f73" stroke-width="0.4"/>
<path d="M561.2,130.5 L562.0,131.1 L563.9,131.7 L566.7,132.1 L569.9,132.5 L572.7,132.9 L574.6,133.4 L575.4,134.1 L575.7,137.8 L575.0,137.2 L573.0,136.7 L570.2,136.2 L567.1,135.8 L564.3,135.4 L562.3,134.9 L561.6,134.3Z" fill="#12128a" stroke="#0f0f73" stroke-width="0.4"/>
<path d="M562.1,140.1 L562.8,140.7 L564.8,141.2 L567.6,141.7 L570.7,142.1 L573.5,142.5 L575.5,143.0 L576.2,143.6 L576.6,147.4 L575.8,146.7 L573.9,146.2 L571.1,145.8 L568.0,145.4 L565.1,145.0 L563.2,144.5 L562.4,143.8Z" fill="#12128a" stroke="#0f0f73" stroke-width="0.4"/>
<path d="M563.0,149.6 L563.7,150.3 L565.7,150.8 L568.5,151.2 L571.6,151.6 L574.4,152.1 L576.4,152.6 L577.1,153.2 L577.4,156.9 L576.7,156.3 L574.7,155.8 L571.9,155.4 L568.8,155.0 L566.0,154.5 L564.0,154.0 L563.3,153.4Z" fill="#12128a" stroke="#0f0f73" stroke-width="0.4"/>
<path d="M561.9,118.5 L561.2,118.7 L560.6,119.0 L560.1,119.2 L559.7,119.4 L559.4,119.6 L559.2,119.9 L559.2,120.0 L559.6,125.4 L559.7,125.2 L559.9,125.0 L560.1,124.8 L560.5,124.6 L561.0,124.3 L561.7,124.1 L562.4,123.8Z" fill="#1e1ee6" stroke="#12128a" stroke-width="0.6"/>
<path d="M561.3,120.3 L560.7,120.6 L560.2,120.8 L559.8,121.0 L559.5,121.3 L559.3,121.5" fill="none" stroke="#6c6cee" stroke-width="1.18" stroke-linecap="round" opacity="0.7"/>
<path d="M575.5,123.4 L574.8,124.1 L572.6,125.0 L569.5,126.0 L566.0,127.0 L562.9,128.0 L560.7,128.9 L560.0,129.6 L560.5,135.0 L561.2,134.2 L563.4,133.3 L566.5,132.4 L570.0,131.3 L573.1,130.4 L575.3,129.5 L576.0,128.7Z" fill="#1e1ee6" stroke="#12128a" stroke-width="0.6"/>
<path d="M574.9,125.7 L572.8,126.6 L569.7,127.6 L566.2,128.6 L563.0,129.6 L560.9,130.5" fill="none" stroke="#6c6cee" stroke-width="1.18" stroke-linecap="round" opacity="0.7"/>
<path d="M576.4,132.9 L575.7,133.7 L573.5,134.6 L570.4,135.6 L566.9,136.6 L563.8,137.5 L561.6,138.4 L560.9,139.2 L561.4,144.5 L562.1,143.8 L564.3,142.9 L567.4,141.9 L570.9,140.9 L574.0,139.9 L576.2,139.1 L576.9,138.3Z" fill="#1e1ee6" stroke="#12128a" stroke-width="0.6"/>
<path d="M575.8,135.3 L573.7,136.2 L570.5,137.2 L567.0,138.2 L563.9,139.1 L561.8,140.0" fill="none" stroke="#6c6cee" stroke-width="1.18" stroke-linecap="round" opacity="0.7"/>
<path d="M577.3,142.5 L576.5,143.3 L574.4,144.1 L571.3,145.1 L567.8,146.1 L564.6,147.1 L562.5,148.0 L561.8,148.7 L562.2,154.1 L563.0,153.3 L565.1,152.4 L568.3,151.5 L571.7,150.5 L574.9,149.5 L577.0,148.6 L577.7,147.9Z" fill="#1e1ee6" stroke="#12128a" stroke-width="0.6"/>
<path d="M576.7,144.9 L574.5,145.7 L571.4,146.7 L567.9,147.7 L564.8,148.7 L562.6,149.6" fill="none" stroke="#6c6cee" stroke-width="1.18" stroke-linecap="round" opacity="0.7"/>
<path d="M578.1,152.1 L577.7,152.7 L576.2,153.3 L574.0,154.1 L571.3,154.9 L568.5,155.7 L565.9,156.5 L564.0,157.2 L564.4,162.6 L566.4,161.9 L569.0,161.1 L571.8,160.3 L574.5,159.5 L576.7,158.7 L578.1,158.0 L578.6,157.4Z" fill="#1e1ee6" stroke="#12128a" stroke-width="0.6"/>
<path d="M577.8,154.3 L576.4,155.0 L574.2,155.7 L571.5,156.5 L568.7,157.3 L566.1,158.1" fill="none" stroke="#6c6cee" stroke-width="1.18" stroke-linecap="round" opacity="0.7"/>
<path d="M550.5,81.9 L552.3,81.8 L554.7,81.3 L557.5,80.6 L560.2,79.9 L562.6,79.4 L564.2,79.3 L565.0,79.6 L566.8,83.2 L566.0,82.9 L564.4,83.0 L562.0,83.5 L559.3,84.2 L556.5,84.8 L554.1,85.3 L552.3,85.5Z" fill="#12128a" stroke="#0f0f73" stroke-width="0.4"/>
<path d="M554.2,90.7 L555.2,91.1 L557.3,90.8 L560.3,90.2 L563.5,89.3 L566.4,88.7 L568.6,88.4 L569.6,88.8 L571.3,92.3 L570.4,92.0 L568.2,92.3 L565.3,92.9 L562.0,93.7 L559.1,94.4 L557.0,94.6 L556.0,94.3Z" fill="#12128a" stroke="#0f0f73" stroke-width="0.4"/>
<path d="M558.8,99.9 L559.7,100.2 L561.9,99.9 L564.8,99.3 L568.1,98.5 L571.0,97.8 L573.1,97.6 L574.1,97.9 L575.9,101.5 L574.9,101.1 L572.8,101.4 L569.8,102.0 L566.6,102.9 L563.7,103.5 L561.5,103.8 L560.5,103.4Z" fill="#12128a" stroke="#0f0f73" stroke-width="0.4"/>
<path d="M563.3,109.0 L564.3,109.3 L566.4,109.1 L569.4,108.4 L572.6,107.6 L575.6,106.9 L577.7,106.7 L578.7,107.0 L580.5,110.6 L579.5,110.3 L577.4,110.5 L574.4,111.2 L571.2,112.0 L568.2,112.6 L566.1,112.9 L565.1,112.6Z" fill="#12128a" stroke="#0f0f73" stroke-width="0.4"/>
<path d="M567.9,118.1 L568.9,118.4 L571.0,118.2 L573.9,117.5 L577.2,116.7 L580.1,116.1 L582.3,115.8 L583.2,116.1 L585.0,119.7 L584.1,119.4 L581.9,119.6 L579.0,120.3 L575.7,121.1 L572.8,121.8 L570.6,122.0 L569.7,121.7Z" fill="#12128a" stroke="#0f0f73" stroke-width="0.4"/>
<path d="M565.6,78.1 L565.1,79.2 L563.4,80.9 L560.6,83.0 L557.6,85.4 L554.9,87.6 L553.1,89.3 L552.6,90.3 L555.2,95.4 L555.6,94.4 L557.4,92.7 L560.1,90.5 L563.2,88.2 L565.9,86.0 L567.7,84.3 L568.1,83.2Z" fill="#1e1ee6" stroke="#12128a" stroke-width="0.6"/>
<path d="M565.9,80.7 L564.1,82.4 L561.4,84.6 L558.3,86.9 L555.6,89.1 L553.8,90.8" fill="none" stroke="#6c6cee" stroke-width="1.26" stroke-linecap="round" opacity="0.7"/>
<path d="M570.1,87.3 L569.7,88.3 L567.9,90.0 L565.2,92.2 L562.1,94.5 L559.4,96.7 L557.6,98.4 L557.2,99.4 L559.8,104.5 L560.2,103.5 L562.0,101.8 L564.7,99.6 L567.8,97.3 L570.5,95.1 L572.3,93.4 L572.7,92.4Z" fill="#1e1ee6" stroke="#12128a" stroke-width="0.6"/>
<path d="M570.5,89.8 L568.7,91.5 L566.0,93.7 L562.9,96.0 L560.2,98.2 L558.4,99.9" fill="none" stroke="#6c6cee" stroke-width="1.26" stroke-linecap="round" opacity="0.7"/>
<path d="M574.7,96.4 L574.3,97.4 L572.5,99.1 L569.8,101.3 L566.7,103.6 L564.0,105.8 L562.2,107.5 L561.8,108.5 L564.3,113.7 L564.8,112.6 L566.5,110.9 L569.3,108.7 L572.3,106.4 L575.0,104.2 L576.8,102.5 L577.2,101.5Z" fill="#1e1ee6" stroke="#12128a" stroke-width="0.6"/>
<path d="M575.0,98.9 L573.3,100.7 L570.5,102.8 L567.5,105.2 L564.7,107.3 L563.0,109.1" fill="none" stroke="#6c6cee" stroke-width="1.26" stroke-linecap="round" opacity="0.7"/>
<path d="M579.3,105.5 L578.8,106.5 L577.0,108.2 L574.3,110.4 L571.3,112.8 L568.5,114.9 L566.8,116.6 L566.3,117.7 L568.9,122.8 L569.3,121.8 L571.1,120.0 L573.8,117.9 L576.9,115.5 L579.6,113.4 L581.4,111.6 L581.8,110.6Z" fill="#1e1ee6" stroke="#12128a" stroke-width="0.6"/>
<path d="M579.6,108.1 L577.8,109.8 L575.1,111.9 L572.0,114.3 L569.3,116.5 L567.5,118.2" fill="none" stroke="#6c6cee" stroke-width="1.26" stroke-linecap="round" opacity="0.7"/>
<path d="M583.8,114.6 L583.4,115.6 L581.7,117.3 L579.1,119.4 L576.1,121.7 L573.4,123.8 L571.5,125.6 L570.9,126.7 L573.4,131.8 L574.0,130.7 L575.9,128.9 L578.7,126.8 L581.6,124.5 L584.3,122.4 L586.0,120.7 L586.4,119.7Z" fill="#1e1ee6" stroke="#12128a" stroke-width="0.6"/>
<path d="M584.2,117.2 L582.5,118.8 L579.9,120.9 L576.9,123.2 L574.1,125.4 L572.3,127.1" fill="none" stroke="#6c6cee" stroke-width="1.26" stroke-linecap="round" opacity="0.7"/>
<path d="M526.3,86.0 L527.1,86.8 L529.3,87.5 L532.4,88.2 L535.9,88.9 L539.0,89.6 L541.1,90.3 L541.9,91.1 L542.0,95.3 L541.2,94.6 L539.1,93.8 L536.0,93.1 L532.5,92.4 L529.4,91.7 L527.2,91.0 L526.4,90.2Z" fill="#12128a" stroke="#0f0f73" stroke-width="0.4"/>
<path d="M526.6,96.8 L527.3,97.6 L529.5,98.3 L532.6,99.0 L536.1,99.7 L539.2,100.4 L541.4,101.1 L542.2,101.9 L542.2,106.1 L541.5,105.4 L539.3,104.6 L536.2,103.9 L532.7,103.2 L529.6,102.5 L527.4,101.8 L526.7,101.0Z" fill="#12128a" stroke="#0f0f73" stroke-width="0.4"/>
<path d="M526.8,107.6 L527.6,108.4 L529.7,109.1 L532.9,109.8 L536.3,110.5 L539.4,111.2 L541.6,111.9 L542.4,112.7 L542.5,116.9 L541.7,116.2 L539.5,115.4 L536.4,114.7 L532.9,114.0 L529.8,113.3 L527.7,112.6 L526.9,111.8Z" fill="#12128a" stroke="#0f0f73" stroke-width="0.4"/>
<path d="M527.0,118.4 L527.8,119.2 L530.0,119.9 L533.1,120.6 L536.5,121.3 L539.7,122.0 L541.8,122.7 L542.6,123.5 L542.7,127.7 L541.9,127.0 L539.7,126.2 L536.6,125.5 L533.2,124.8 L530.1,124.1 L527.9,123.4 L527.1,122.6Z" fill="#12128a" stroke="#0f0f73" stroke-width="0.4"/>
<path d="M527.2,129.2 L528.0,130.0 L530.2,130.7 L533.3,131.4 L536.8,132.1 L539.9,132.8 L542.0,133.5 L542.8,134.3 L542.9,138.5 L542.1,137.8 L540.0,137.0 L536.9,136.3 L533.4,135.6 L530.3,134.9 L528.1,134.2 L527.3,133.4Z" fill="#12128a" stroke="#0f0f73" stroke-width="0.4"/>
<path d="M527.5,140.0 L528.2,140.8 L530.4,141.5 L533.5,142.2 L537.0,142.9 L540.1,143.6 L542.3,144.3 L543.1,145.1 L543.1,149.3 L542.4,148.6 L540.2,147.8 L537.1,147.1 L533.6,146.4 L530.5,145.7 L528.3,145.0 L527.6,144.2Z" fill="#12128a" stroke="#0f0f73" stroke-width="0.4"/>
<path d="M527.7,150.8 L528.5,151.6 L530.6,152.3 L533.8,153.0 L537.2,153.7 L540.3,154.4 L542.5,155.1 L543.3,155.9 L543.4,160.1 L542.6,159.3 L540.4,158.6 L537.3,157.9 L533.8,157.2 L530.7,156.5 L528.6,155.8 L527.8,155.0Z" fill="#6e6e6e" stroke="#5c5c5c" stroke-width="0.4"/>
<path d="M527.9,161.6 L528.7,162.3 L530.9,163.1 L534.0,163.8 L537.4,164.5 L540.6,165.2 L542.7,165.9 L543.5,166.7 L543.6,170.9 L542.8,170.1 L540.6,169.4 L537.5,168.7 L534.1,168.0 L531.0,167.3 L528.8,166.6 L528.0,165.8Z" fill="#6e6e6e" stroke="#5c5c5c" stroke-width="0.4"/>
<path d="M528.1,172.4 L528.2,172.5 L528.2,172.6 L528.3,172.8 L528.5,172.9 L528.7,173.0 L528.9,173.1 L529.1,173.2 L529.2,177.5 L529.0,177.4 L528.7,177.2 L528.6,177.1 L528.4,177.0 L528.3,176.9 L528.3,176.7 L528.2,176.6Z" fill="#811c1c" stroke="#6c1818" stroke-width="0.4"/>
<path d="M534.0,82.0 L532.0,82.4 L530.1,82.9 L528.4,83.3 L527.0,83.7 L525.9,84.1 L525.3,84.5 L525.1,84.9 L525.2,90.9 L525.4,90.5 L526.1,90.1 L527.1,89.7 L528.5,89.3 L530.2,88.9 L532.1,88.5 L534.1,88.0Z" fill="#1e1ee6" stroke="#12128a" stroke-width="0.6"/>
<path d="M532.0,84.2 L530.1,84.7 L528.5,85.1 L527.0,85.5 L526.0,85.9 L525.3,86.3" fill="none" stroke="#6c6cee" stroke-width="1.33" stroke-linecap="round" opacity="0.7"/>
<path d="M543.2,89.9 L542.3,90.7 L539.8,91.5 L536.2,92.4 L532.2,93.2 L528.6,94.1 L526.2,94.9 L525.3,95.7 L525.4,101.7 L526.3,100.9 L528.8,100.1 L532.4,99.3 L536.3,98.4 L539.9,97.6 L542.4,96.7 L543.3,96.0Z" fill="#1e1ee6" stroke="#12128a" stroke-width="0.6"/>
<path d="M542.3,92.5 L539.8,93.3 L536.3,94.2 L532.3,95.0 L528.7,95.9 L526.2,96.7" fill="none" stroke="#6c6cee" stroke-width="1.33" stroke-linecap="round" opacity="0.7"/>
<path d="M543.4,100.7 L542.5,101.5 L540.0,102.3 L536.4,103.2 L532.5,104.0 L528.9,104.9 L526.4,105.7 L525.5,106.5 L525.6,112.5 L526.5,111.7 L529.0,110.9 L532.6,110.1 L536.6,109.2 L540.2,108.4 L542.6,107.5 L543.5,106.8Z" fill="#1e1ee6" stroke="#12128a" stroke-width="0.6"/>
<path d="M542.6,103.3 L540.1,104.1 L536.5,105.0 L532.5,105.8 L528.9,106.7 L526.4,107.5" fill="none" stroke="#6c6cee" stroke-width="1.33" stroke-linecap="round" opacity="0.7"/>
<path d="M543.6,111.5 L542.7,112.3 L540.3,113.1 L536.7,114.0 L532.7,114.8 L529.1,115.7 L526.6,116.5 L525.7,117.3 L525.9,123.3 L526.7,122.5 L529.2,121.7 L532.8,120.9 L536.8,120.0 L540.4,119.2 L542.9,118.3 L543.7,117.6Z" fill="#1e1ee6" stroke="#12128a" stroke-width="0.6"/>
<path d="M542.8,114.1 L540.3,114.9 L536.7,115.8 L532.7,116.6 L529.1,117.5 L526.6,118.3" fill="none" stroke="#6c6cee" stroke-width="1.33" stroke-linecap="round" opacity="0.7"/>
<path d="M543.8,122.3 L543.0,123.1 L540.5,123.9 L536.9,124.8 L532.9,125.6 L529.3,126.5 L526.8,127.3 L526.0,128.1 L526.1,134.1 L527.0,133.3 L529.4,132.5 L533.0,131.7 L537.0,130.8 L540.6,130.0 L543.1,129.1 L544.0,128.4Z" fill="#1e1ee6" stroke="#12128a" stroke-width="0.6"/>
<path d="M543.0,124.9 L540.5,125.7 L536.9,126.6 L532.9,127.4 L529.4,128.3 L526.9,129.1" fill="none" stroke="#6c6cee" stroke-width="1.33" stroke-linecap="round" opacity="0.7"/>
<path d="M544.1,133.1 L543.2,133.9 L540.7,134.7 L537.1,135.6 L533.1,136.4 L529.5,137.3 L527.1,138.1 L526.2,138.9 L526.3,144.9 L527.2,144.1 L529.7,143.3 L533.3,142.5 L537.2,141.6 L540.8,140.8 L543.3,139.9 L544.2,139.1Z" fill="#1e1ee6" stroke="#12128a" stroke-width="0.6"/>
<path d="M543.2,135.7 L540.7,136.5 L537.2,137.4 L533.2,138.2 L529.6,139.1 L527.1,139.9" fill="none" stroke="#6c6cee" stroke-width="1.33" stroke-linecap="round" opacity="0.7"/>
<path d="M544.3,143.9 L543.4,144.7 L540.9,145.5 L537.3,146.4 L533.4,147.2 L529.8,148.1 L527.3,148.9 L526.4,149.7 L526.5,155.7 L527.4,154.9 L529.9,154.1 L533.5,153.3 L537.5,152.4 L541.1,151.6 L543.5,150.7 L544.4,149.9Z" fill="#b8b8b8" stroke="#6e6e6e" stroke-width="0.6"/>
<path d="M543.5,146.5 L541.0,147.3 L537.4,148.2 L533.4,149.0 L529.8,149.9 L527.3,150.7" fill="none" stroke="#d0d0d0" stroke-width="1.33" stroke-linecap="round" opacity="0.7"/>
<path d="M544.5,154.7 L543.6,155.5 L541.2,156.3 L537.6,157.2 L533.6,158.0 L530.0,158.9 L527.5,159.7 L526.6,160.5 L526.8,166.5 L527.6,165.7 L530.1,164.9 L533.7,164.1 L537.7,163.2 L541.3,162.4 L543.8,161.5 L544.6,160.7Z" fill="#b8b8b8" stroke="#6e6e6e" stroke-width="0.6"/>
<path d="M543.7,157.3 L541.2,158.1 L537.6,159.0 L533.6,159.8 L530.0,160.7 L527.5,161.5" fill="none" stroke="#d0d0d0" stroke-width="1.33" stroke-linecap="round" opacity="0.7"/>
<path d="M544.7,165.5 L543.9,166.3 L541.4,167.1 L537.8,168.0 L533.8,168.8 L530.2,169.7 L527.7,170.5 L526.9,171.3 L527.0,177.3 L527.9,176.5 L530.3,175.7 L533.9,174.9 L537.9,174.0 L541.5,173.2 L544.0,172.3 L544.9,171.5Z" fill="#d83030" stroke="#811c1c" stroke-width="0.6"/>
<path d="M543.9,168.1 L541.4,168.9 L537.8,169.8 L533.8,170.6 L530.3,171.5 L527.8,172.3" fill="none" stroke="#e57878" stroke-width="1.33" stroke-linecap="round" opacity="0.7"/>
<path d="M543.3,79.3 L544.0,80.1 L546.2,80.9 L549.3,81.6 L552.8,82.3 L555.9,83.1 L558.0,83.8 L558.8,84.6 L558.8,88.8 L558.1,88.1 L555.9,87.3 L552.8,86.6 L549.3,85.8 L546.2,85.1 L544.1,84.3 L543.3,83.6Z" fill="#26308b" stroke="#202874" stroke-width="0.4"/>
<path d="M543.4,90.1 L544.1,90.9 L546.3,91.7 L549.4,92.4 L552.9,93.1 L556.0,93.9 L558.1,94.6 L558.9,95.4 L558.9,99.6 L558.2,98.9 L556.0,98.1 L552.9,97.4 L549.4,96.6 L546.3,95.9 L544.2,95.1 L543.4,94.4Z" fill="#26308b" stroke="#202874" stroke-width="0.4"/>
<path d="M543.5,100.9 L544.2,101.7 L546.4,102.5 L549.5,103.2 L552.9,103.9 L556.1,104.7 L558.2,105.4 L559.0,106.2 L559.0,110.4 L558.2,109.7 L556.1,108.9 L553.0,108.2 L549.5,107.4 L546.4,106.7 L544.3,105.9 L543.5,105.2Z" fill="#26308b" stroke="#202874" stroke-width="0.4"/>
<path d="M543.5,111.7 L544.3,112.5 L546.5,113.3 L549.6,114.0 L553.0,114.7 L556.1,115.5 L558.3,116.2 L559.1,117.0 L559.1,121.2 L558.3,120.5 L556.2,119.7 L553.1,119.0 L549.6,118.2 L546.5,117.5 L544.4,116.7 L543.6,116.0Z" fill="#12128a" stroke="#0f0f73" stroke-width="0.4"/>
<path d="M543.6,122.5 L544.4,123.3 L546.6,124.1 L549.7,124.8 L553.1,125.5 L556.2,126.3 L558.4,127.0 L559.2,127.8 L559.2,132.0 L558.4,131.3 L556.3,130.5 L553.2,129.8 L549.7,129.0 L546.6,128.3 L544.4,127.5 L543.7,126.8Z" fill="#12128a" stroke="#0f0f73" stroke-width="0.4"/>
<path d="M543.7,133.3 L544.5,134.1 L546.7,134.9 L549.8,135.6 L553.2,136.3 L556.3,137.1 L558.5,137.8 L559.3,138.6 L559.3,142.8 L558.5,142.1 L556.4,141.3 L553.3,140.6 L549.8,139.8 L546.7,139.1 L544.5,138.3 L543.8,137.6Z" fill="#12128a" stroke="#0f0f73" stroke-width="0.4"/>
<path d="M543.8,144.1 L544.6,144.9 L546.7,145.7 L549.9,146.4 L553.3,147.1 L556.4,147.9 L558.6,148.6 L559.3,149.4 L559.4,153.6 L558.6,152.9 L556.5,152.1 L553.3,151.4 L549.9,150.6 L546.8,149.9 L544.6,149.1 L543.9,148.4Z" fill="#12128a" stroke="#0f0f73" stroke-width="0.4"/>
<path d="M543.9,154.9 L544.7,155.7 L546.8,156.5 L549.9,157.2 L553.4,157.9 L556.5,158.7 L558.7,159.4 L559.4,160.2 L559.5,164.4 L558.7,163.7 L556.5,162.9 L553.4,162.2 L550.0,161.4 L546.9,160.7 L544.7,159.9 L543.9,159.2Z" fill="#12128a" stroke="#0f0f73" stroke-width="0.4"/>
<path d="M544.0,165.7 L544.8,166.5 L546.9,167.3 L550.0,168.0 L553.5,168.7 L556.6,169.5 L558.8,170.2 L559.5,171.0 L559.6,175.2 L558.8,174.5 L556.6,173.7 L553.5,173.0 L550.1,172.2 L547.0,171.5 L544.8,170.7 L544.0,170.0Z" fill="#12128a" stroke="#0f0f73" stroke-width="0.4"/>
<path d="M544.1,176.5 L544.9,177.3 L547.0,178.1 L550.1,178.8 L553.6,179.5 L556.7,180.3 L558.8,181.0 L559.6,181.8 L559.7,186.0 L558.9,185.3 L556.7,184.5 L553.6,183.8 L550.2,183.0 L547.1,182.3 L544.9,181.5 L544.1,180.8Z" fill="#12128a" stroke="#0f0f73" stroke-width="0.4"/>
<path d="M544.2,187.3 L544.6,187.9 L545.7,188.4 L547.5,188.9 L549.7,189.5 L552.1,190.0 L554.5,190.5 L556.7,191.1 L556.7,195.3 L554.6,194.8 L552.2,194.2 L549.7,193.7 L547.5,193.2 L545.8,192.6 L544.6,192.1 L544.2,191.6Z" fill="#908186" stroke="#786c70" stroke-width="0.4"/>
<path d="M542.0,78.1 L542.0,78.1 L542.0,78.1 L542.0,78.1 L542.0,78.1 L542.0,78.2 L542.0,78.2 L542.0,78.2 L542.1,84.2 L542.1,84.2 L542.1,84.2 L542.1,84.2 L542.1,84.2 L542.1,84.2 L542.1,84.1 L542.1,84.1Z" fill="#4050e8" stroke="#26308b" stroke-width="0.6"/>
<path d="M542.0,79.9 L542.0,79.9 L542.0,79.9 L542.0,80.0 L542.0,80.0 L542.0,80.0" fill="none" stroke="#828df0" stroke-width="1.33" stroke-linecap="round" opacity="0.7"/>
<path d="M560.0,83.4 L559.2,84.2 L556.7,85.0 L553.1,85.8 L549.1,86.6 L545.5,87.4 L543.0,88.2 L542.1,89.0 L542.1,95.0 L543.0,94.3 L545.5,93.5 L549.1,92.7 L553.1,91.9 L556.7,91.1 L559.2,90.3 L560.1,89.5Z" fill="#4050e8" stroke="#26308b" stroke-width="0.6"/>
<path d="M559.2,86.0 L556.7,86.8 L553.1,87.6 L549.1,88.4 L545.5,89.2 L543.0,90.0" fill="none" stroke="#828df0" stroke-width="1.33" stroke-linecap="round" opacity="0.7"/>
<path d="M560.1,94.2 L559.3,95.0 L556.8,95.8 L553.2,96.6 L549.2,97.4 L545.6,98.2 L543.1,99.0 L542.2,99.8 L542.2,105.8 L543.1,105.1 L545.6,104.3 L549.2,103.5 L553.2,102.7 L556.8,101.9 L559.3,101.1 L560.2,100.3Z" fill="#4050e8" stroke="#26308b" stroke-width="0.6"/>
<path d="M559.3,96.8 L556.8,97.6 L553.2,98.4 L549.2,99.2 L545.6,100.0 L543.1,100.8" fill="none" stroke="#828df0" stroke-width="1.33" stroke-linecap="round" opacity="0.7"/>
<path d="M560.2,105.0 L559.3,105.8 L556.9,106.6 L553.3,107.4 L549.3,108.2 L545.7,109.0 L543.2,109.8 L542.3,110.6 L542.3,116.6 L543.2,115.9 L545.7,115.1 L549.3,114.3 L553.3,113.5 L556.9,112.7 L559.4,111.9 L560.3,111.1Z" fill="#4050e8" stroke="#26308b" stroke-width="0.6"/>
<path d="M559.4,107.6 L556.9,108.4 L553.3,109.2 L549.3,110.0 L545.7,110.8 L543.2,111.6" fill="none" stroke="#828df0" stroke-width="1.33" stroke-linecap="round" opacity="0.7"/>
<path d="M560.3,115.8 L559.4,116.6 L556.9,117.4 L553.3,118.2 L549.3,119.0 L545.7,119.8 L543.3,120.6 L542.4,121.4 L542.4,127.4 L543.3,126.7 L545.8,125.9 L549.4,125.1 L553.4,124.3 L557.0,123.5 L559.5,122.7 L560.4,121.9Z" fill="#1e1ee6" stroke="#12128a" stroke-width="0.6"/>
<path d="M559.5,118.4 L557.0,119.2 L553.4,120.0 L549.4,120.8 L545.8,121.6 L543.3,122.4" fill="none" stroke="#6c6cee" stroke-width="1.33" stroke-linecap="round" opacity="0.7"/>
<path d="M560.4,126.6 L559.5,127.4 L557.0,128.2 L553.4,129.0 L549.4,129.8 L545.8,130.6 L543.3,131.4 L542.5,132.2 L542.5,138.2 L543.4,137.5 L545.9,136.7 L549.5,135.9 L553.5,135.1 L557.1,134.3 L559.6,133.5 L560.5,132.7Z" fill="#1e1ee6" stroke="#12128a" stroke-width="0.6"/>
<path d="M559.5,129.2 L557.1,130.0 L553.5,130.8 L549.5,131.6 L545.8,132.4 L543.4,133.2" fill="none" stroke="#6c6cee" stroke-width="1.33" stroke-linecap="round" opacity="0.7"/>
<path d="M560.5,137.4 L559.6,138.2 L557.1,139.0 L553.5,139.8 L549.5,140.6 L545.9,141.4 L543.4,142.2 L542.6,143.0 L542.6,149.0 L543.5,148.3 L546.0,147.5 L549.6,146.7 L553.6,145.9 L557.2,145.1 L559.7,144.3 L560.6,143.5Z" fill="#1e1ee6" stroke="#12128a" stroke-width="0.6"/>
<path d="M559.6,140.0 L557.1,140.8 L553.5,141.6 L549.5,142.4 L545.9,143.2 L543.5,144.0" fill="none" stroke="#6c6cee" stroke-width="1.33" stroke-linecap="round" opacity="0.7"/>
<path d="M560.6,148.2 L559.7,149.0 L557.2,149.8 L553.6,150.6 L549.6,151.4 L546.0,152.2 L543.5,153.0 L542.6,153.8 L542.7,159.8 L543.6,159.1 L546.1,158.3 L549.7,157.5 L553.7,156.7 L557.3,155.9 L559.8,155.1 L560.6,154.3Z" fill="#1e1ee6" stroke="#12128a" stroke-width="0.6"/>
<path d="M559.7,150.8 L557.2,151.6 L553.6,152.4 L549.6,153.2 L546.0,154.0 L543.5,154.8" fill="none" stroke="#6c6cee" stroke-width="1.33" stroke-linecap="round" opacity="0.7"/>
<path d="M560.7,159.0 L559.8,159.8 L557.3,160.6 L553.7,161.4 L549.7,162.2 L546.1,163.0 L543.6,163.8 L542.7,164.6 L542.8,170.6 L543.7,169.9 L546.2,169.1 L549.8,168.3 L553.8,167.5 L557.4,166.7 L559.9,165.9 L560.7,165.1Z" fill="#1e1ee6" stroke="#12128a" stroke-width="0.6"/>
<path d="M559.8,161.6 L557.3,162.4 L553.7,163.2 L549.7,164.0 L546.1,164.8 L543.6,165.6" fill="none" stroke="#6c6cee" stroke-width="1.33" stroke-linecap="round" opacity="0.7"/>
<path d="M560.8,169.8 L559.9,170.6 L557.4,171.4 L553.8,172.2 L549.8,173.0 L546.2,173.8 L543.7,174.6 L542.8,175.4 L542.9,181.4 L543.8,180.7 L546.3,179.9 L549.9,179.1 L553.9,178.3 L557.5,177.5 L559.9,176.7 L560.8,175.9Z" fill="#1e1ee6" stroke="#12128a" stroke-width="0.6"/>
<path d="M559.9,172.4 L557.4,173.2 L553.8,174.0 L549.8,174.8 L546.2,175.6 L543.7,176.4" fill="none" stroke="#6c6cee" stroke-width="1.33" stroke-linecap="round" opacity="0.7"/>
<path d="M560.9,180.6 L560.0,181.4 L557.5,182.2 L553.9,183.0 L549.9,183.8 L546.3,184.6 L543.8,185.4 L542.9,186.2 L543.0,192.2 L543.9,191.5 L546.3,190.7 L549.9,189.9 L553.9,189.1 L557.5,188.3 L560.0,187.5 L560.9,186.7Z" fill="#1e1ee6" stroke="#12128a" stroke-width="0.6"/>
<path d="M560.0,183.2 L557.5,184.0 L553.9,184.8 L549.9,185.6 L546.3,186.4 L543.8,187.2" fill="none" stroke="#6c6cee" stroke-width="1.33" stroke-linecap="round" opacity="0.7"/>
<path d="M551.6,150.5 L552.6,151.3 L555.2,151.9 L558.9,152.4 L563.0,152.8 L566.7,153.3 L569.3,153.9 L570.3,154.6 L570.8,159.5 L569.8,158.8 L567.2,158.2 L563.5,157.7 L559.5,157.3 L555.7,156.8 L553.2,156.2 L552.2,155.4Z" fill="#3f4987" stroke="#353d71" stroke-width="0.4"/>
<path d="M553.1,163.0 L553.2,163.4 L553.7,163.7 L554.3,163.9 L555.2,164.2 L556.3,164.4 L557.5,164.6 L558.9,164.7 L559.5,169.6 L558.1,169.5 L556.9,169.3 L555.8,169.1 L554.9,168.8 L554.2,168.6 L553.8,168.3 L553.7,167.9Z" fill="#3f4987" stroke="#353d71" stroke-width="0.4"/>
<path d="M560.0,145.0 L557.7,145.7 L555.6,146.4 L553.7,147.1 L552.1,147.8 L550.9,148.4 L550.2,148.9 L550.0,149.4 L550.8,156.4 L551.0,155.9 L551.7,155.4 L552.9,154.8 L554.5,154.1 L556.4,153.4 L558.6,152.7 L560.8,152.0Z" fill="#6a7ae2" stroke="#3f4987" stroke-width="0.6"/>
<path d="M558.0,147.8 L555.8,148.5 L553.9,149.2 L552.3,149.9 L551.1,150.5 L550.4,151.0" fill="none" stroke="#9ea8ec" stroke-width="1.55" stroke-linecap="round" opacity="0.7"/>
<path d="M571.6,153.1 L570.6,154.1 L567.8,155.4 L563.8,156.8 L559.2,158.2 L555.2,159.6 L552.4,160.9 L551.5,161.9 L552.3,168.9 L553.2,167.9 L556.0,166.6 L560.1,165.2 L564.6,163.8 L568.7,162.4 L571.5,161.2 L572.4,160.1Z" fill="#6a7ae2" stroke="#3f4987" stroke-width="0.6"/>
<path d="M570.9,156.3 L568.1,157.5 L564.0,158.9 L559.5,160.3 L555.4,161.7 L552.6,163.0" fill="none" stroke="#9ea8ec" stroke-width="1.55" stroke-linecap="round" opacity="0.7"/>
<path d="M535.0,178.0 Q531.0,184.0 529.0,188.0 Q527.0,192.0 528.0,195.0 L529.0,198.0" stroke="#d03030" stroke-width="1.5" fill="none" stroke-linecap="round" stroke-linejoin="round"/>
<ellipse cx="537.5" cy="198.5" rx="7.5" ry="6.0" fill="none" stroke="#806767" stroke-width="3.2"/>
<ellipse cx="537.5" cy="198.5" rx="7.5" ry="6.0" fill="none" stroke="#b89494" stroke-width="2"/>
<path d="M601.0,165.0 Q605.0,160.0 607.0,157.0 L609.0,154.0" stroke="#e87878" stroke-width="1.5" fill="none" stroke-linecap="round" stroke-linejoin="round"/>
<path d="M602.9,153.9 L603.6,154.4 L605.5,154.9 L608.1,155.3 L611.0,155.6 L613.7,156.0 L615.5,156.4 L616.2,157.0 L616.6,160.5 L615.9,159.9 L614.1,159.5 L611.4,159.1 L608.5,158.8 L605.9,158.4 L604.0,158.0 L603.3,157.4Z" fill="#8b4848" stroke="#743c3c" stroke-width="0.4"/>
<path d="M603.9,162.8 L604.6,163.4 L606.4,163.8 L609.1,164.2 L612.0,164.5 L614.6,164.9 L616.5,165.4 L617.2,165.9 L617.6,169.4 L616.9,168.9 L615.0,168.4 L612.4,168.0 L609.5,167.7 L606.8,167.4 L605.0,166.9 L604.3,166.3Z" fill="#8b4848" stroke="#743c3c" stroke-width="0.4"/>
<path d="M604.8,171.8 L605.2,172.2 L606.0,172.5 L607.2,172.8 L608.8,173.0 L610.6,173.2 L612.5,173.4 L614.3,173.7 L614.6,177.2 L612.8,176.9 L611.0,176.7 L609.2,176.5 L607.6,176.3 L606.3,176.0 L605.5,175.7 L605.2,175.3Z" fill="#8b4848" stroke="#743c3c" stroke-width="0.4"/>
<path d="M609.0,150.0 L607.4,150.5 L605.8,151.0 L604.5,151.5 L603.3,151.9 L602.5,152.3 L601.9,152.7 L601.8,153.0 L602.3,158.0 L602.5,157.7 L603.0,157.3 L603.8,156.9 L605.0,156.5 L606.4,156.0 L607.9,155.5 L609.5,155.0Z" fill="#e87878" stroke="#8b4848" stroke-width="0.6"/>
<path d="M607.5,152.0 L606.0,152.5 L604.6,153.0 L603.5,153.4 L602.6,153.8 L602.1,154.2" fill="none" stroke="#f0a7a7" stroke-width="1.11" stroke-linecap="round" opacity="0.7"/>
<path d="M617.2,155.9 L616.5,156.6 L614.5,157.5 L611.6,158.5 L608.3,159.4 L605.4,160.4 L603.4,161.3 L602.7,162.0 L603.3,167.0 L603.9,166.3 L605.9,165.4 L608.9,164.5 L612.1,163.5 L615.0,162.5 L617.0,161.6 L617.7,160.9Z" fill="#e87878" stroke="#8b4848" stroke-width="0.6"/>
<path d="M616.7,158.1 L614.7,159.0 L611.7,160.0 L608.5,160.9 L605.6,161.9 L603.6,162.8" fill="none" stroke="#f0a7a7" stroke-width="1.11" stroke-linecap="round" opacity="0.7"/>
<path d="M618.1,164.9 L617.5,165.6 L615.5,166.4 L612.5,167.4 L609.3,168.4 L606.4,169.4 L604.4,170.2 L603.7,170.9 L604.2,175.9 L604.9,175.2 L606.9,174.4 L609.8,173.4 L613.1,172.4 L616.0,171.5 L618.0,170.6 L618.7,169.9Z" fill="#e87878" stroke="#8b4848" stroke-width="0.6"/>
<path d="M617.6,167.1 L615.6,167.9 L612.7,168.9 L609.5,169.9 L606.5,170.9 L604.5,171.7" fill="none" stroke="#f0a7a7" stroke-width="1.11" stroke-linecap="round" opacity="0.7"/>
<path d="M585.9,164.0 L586.7,164.7 L588.7,165.3 L591.7,165.9 L595.0,166.5 L597.9,167.0 L600.0,167.6 L600.8,168.3 L601.0,172.3 L600.2,171.6 L598.2,171.0 L595.2,170.4 L591.9,169.9 L588.9,169.3 L586.9,168.7 L586.1,168.0Z" fill="#8b4c4c" stroke="#744040" stroke-width="0.4"/>
<path d="M586.4,174.2 L587.2,174.9 L589.3,175.5 L592.2,176.1 L595.5,176.6 L598.5,177.2 L600.6,177.8 L601.3,178.5 L601.5,182.5 L600.8,181.8 L598.7,181.2 L595.7,180.6 L592.5,180.1 L589.5,179.5 L587.4,178.9 L586.7,178.2Z" fill="#8b4c4c" stroke="#744040" stroke-width="0.4"/>
<path d="M587.0,184.4 L587.8,185.1 L589.8,185.7 L592.8,186.3 L596.1,186.8 L599.0,187.4 L601.1,188.0 L601.9,188.7 L602.1,192.7 L601.3,192.0 L599.3,191.4 L596.3,190.8 L593.0,190.3 L590.0,189.7 L588.0,189.1 L587.2,188.4Z" fill="#8b4c4c" stroke="#744040" stroke-width="0.4"/>
<path d="M593.0,160.0 L591.1,160.5 L589.4,160.9 L587.8,161.4 L586.4,161.8 L585.5,162.2 L584.8,162.6 L584.7,163.0 L585.0,168.7 L585.2,168.3 L585.8,167.9 L586.8,167.5 L588.1,167.1 L589.7,166.6 L591.4,166.2 L593.3,165.7Z" fill="#e88080" stroke="#8b4c4c" stroke-width="0.6"/>
<path d="M591.2,162.2 L589.4,162.6 L587.9,163.1 L586.5,163.5 L585.5,163.9 L584.9,164.3" fill="none" stroke="#f0acac" stroke-width="1.26" stroke-linecap="round" opacity="0.7"/>
<path d="M601.9,167.2 L601.1,168.0 L598.8,168.8 L595.4,169.7 L591.7,170.7 L588.3,171.6 L586.0,172.4 L585.2,173.2 L585.5,178.9 L586.3,178.1 L588.6,177.3 L592.0,176.4 L595.7,175.4 L599.1,174.5 L601.4,173.7 L602.2,172.9Z" fill="#e88080" stroke="#8b4c4c" stroke-width="0.6"/>
<path d="M601.2,169.7 L598.9,170.5 L595.5,171.4 L591.8,172.4 L588.4,173.3 L586.1,174.1" fill="none" stroke="#f0acac" stroke-width="1.26" stroke-linecap="round" opacity="0.7"/>
<path d="M602.5,177.4 L601.6,178.1 L599.3,179.0 L596.0,179.9 L592.2,180.8 L588.9,181.7 L586.6,182.6 L585.8,183.4 L586.1,189.1 L586.9,188.3 L589.2,187.5 L592.5,186.5 L596.3,185.6 L599.6,184.7 L602.0,183.8 L602.8,183.1Z" fill="#e88080" stroke="#8b4c4c" stroke-width="0.6"/>
<path d="M601.7,179.8 L599.4,180.7 L596.1,181.6 L592.3,182.5 L589.0,183.5 L586.6,184.3" fill="none" stroke="#f0acac" stroke-width="1.26" stroke-linecap="round" opacity="0.7"/>
<path d="M603.0,187.6 L602.7,188.0 L601.7,188.6 L600.1,189.1 L598.0,189.7 L595.7,190.3 L593.3,190.9 L590.9,191.5 L591.3,197.2 L593.6,196.6 L596.0,196.0 L598.3,195.4 L600.4,194.8 L602.0,194.3 L603.0,193.7 L603.3,193.3Z" fill="#e88080" stroke="#8b4c4c" stroke-width="0.6"/>
<path d="M602.8,189.8 L601.8,190.3 L600.2,190.8 L598.1,191.4 L595.8,192.0 L593.3,192.6" fill="none" stroke="#f0acac" stroke-width="1.26" stroke-linecap="round" opacity="0.7"/>
<path d="M556.8,172.1 L557.8,172.6 L560.1,172.6 L563.3,172.4 L566.8,172.1 L570.0,171.8 L572.3,171.9 L573.2,172.4 L574.5,176.4 L573.6,175.9 L571.3,175.9 L568.1,176.1 L564.6,176.4 L561.4,176.6 L559.1,176.6 L558.1,176.1Z" fill="#872424" stroke="#711e1e" stroke-width="0.4"/>
<path d="M560.2,182.3 L561.1,182.8 L563.4,182.9 L566.6,182.7 L570.1,182.3 L573.3,182.1 L575.6,182.2 L576.6,182.7 L577.9,186.7 L576.9,186.2 L574.6,186.1 L571.4,186.4 L567.9,186.7 L564.7,186.9 L562.5,186.8 L561.5,186.4Z" fill="#872424" stroke="#711e1e" stroke-width="0.4"/>
<path d="M563.5,192.6 L564.5,193.1 L566.8,193.2 L570.0,192.9 L573.5,192.6 L576.7,192.4 L578.9,192.4 L579.9,192.9 L581.2,197.0 L580.3,196.5 L578.0,196.4 L574.8,196.6 L571.3,197.0 L568.1,197.2 L565.8,197.1 L564.8,196.6Z" fill="#872424" stroke="#711e1e" stroke-width="0.4"/>
<path d="M566.9,202.9 L567.5,203.3 L568.8,203.4 L570.9,203.4 L573.4,203.2 L576.0,202.9 L578.6,202.7 L580.8,202.6 L582.1,206.6 L579.9,206.7 L577.3,207.0 L574.7,207.2 L572.2,207.4 L570.2,207.5 L568.8,207.3 L568.2,206.9Z" fill="#872424" stroke="#711e1e" stroke-width="0.4"/>
<path d="M563.0,166.0 L561.2,167.0 L559.5,167.9 L558.0,168.8 L556.8,169.6 L555.9,170.3 L555.4,170.9 L555.3,171.4 L557.2,177.1 L557.2,176.7 L557.8,176.1 L558.7,175.4 L559.9,174.6 L561.4,173.7 L563.1,172.7 L564.9,171.8Z" fill="#e23c3c" stroke="#872424" stroke-width="0.6"/>
<path d="M561.8,168.7 L560.1,169.7 L558.6,170.6 L557.3,171.4 L556.4,172.1 L555.9,172.6" fill="none" stroke="#ec8080" stroke-width="1.33" stroke-linecap="round" opacity="0.7"/>
<path d="M574.1,170.9 L573.5,171.9 L571.3,173.4 L568.1,175.3 L564.6,177.3 L561.4,179.1 L559.2,180.6 L558.6,181.6 L560.5,187.4 L561.1,186.4 L563.2,184.9 L566.4,183.0 L570.0,181.0 L573.2,179.2 L575.3,177.7 L575.9,176.7Z" fill="#e23c3c" stroke="#872424" stroke-width="0.6"/>
<path d="M574.0,173.7 L571.9,175.2 L568.7,177.0 L565.1,179.0 L561.9,180.8 L559.8,182.3" fill="none" stroke="#ec8080" stroke-width="1.33" stroke-linecap="round" opacity="0.7"/>
<path d="M577.4,181.2 L576.8,182.2 L574.7,183.7 L571.5,185.6 L567.9,187.5 L564.7,189.4 L562.6,190.9 L562.0,191.9 L563.8,197.6 L564.4,196.6 L566.6,195.1 L569.8,193.3 L573.3,191.3 L576.5,189.5 L578.7,187.9 L579.3,186.9Z" fill="#e23c3c" stroke="#872424" stroke-width="0.6"/>
<path d="M577.4,183.9 L575.2,185.4 L572.0,187.3 L568.5,189.3 L565.3,191.1 L563.1,192.6" fill="none" stroke="#ec8080" stroke-width="1.33" stroke-linecap="round" opacity="0.7"/>
<path d="M580.8,191.5 L580.1,192.5 L578.0,194.0 L574.8,195.8 L571.2,197.8 L568.1,199.6 L565.9,201.2 L565.3,202.2 L567.2,207.9 L567.8,206.9 L569.9,205.4 L573.1,203.5 L576.7,201.6 L579.9,199.7 L582.0,198.2 L582.6,197.2Z" fill="#e23c3c" stroke="#872424" stroke-width="0.6"/>
<path d="M580.7,194.2 L578.6,195.7 L575.4,197.5 L571.8,199.5 L568.6,201.4 L566.5,202.9" fill="none" stroke="#ec8080" stroke-width="1.33" stroke-linecap="round" opacity="0.7"/>
<path d="M418.0,418.0 Q416.0,405.0 418.0,401.5 Q420.0,398.0 424.0,397.5 Q428.0,397.0 429.0,399.5 Q430.0,402.0 429.0,406.0 Q428.0,410.0 430.5,414.0 Q433.0,418.0 436.5,419.0 L440.0,420.0" stroke="#404040" stroke-width="1.4" fill="none" stroke-linecap="round" stroke-linejoin="round"/>
<path d="M444.0,407.0 Q447.0,399.0 449.5,397.5 L452.0,396.0" stroke="#e06060" stroke-width="1.4" fill="none" stroke-linecap="round" stroke-linejoin="round"/>
<path d="M436.6,409.1 L437.1,409.3 L438.4,409.0 L440.1,408.4 L441.9,407.7 L443.6,407.1 L444.8,406.8 L445.4,407.0 L446.7,409.0 L446.1,408.8 L444.9,409.1 L443.2,409.7 L441.3,410.4 L439.7,410.9 L438.4,411.2 L437.8,411.1Z" fill="#8b3f3f" stroke="#743535" stroke-width="0.4"/>
<path d="M439.8,414.2 L440.4,414.3 L441.6,414.0 L443.3,413.4 L445.2,412.8 L446.8,412.2 L448.1,411.9 L448.7,412.0 L449.9,414.0 L449.3,413.9 L448.1,414.2 L446.4,414.7 L444.6,415.4 L442.9,416.0 L441.7,416.3 L441.1,416.1Z" fill="#8b3f3f" stroke="#743535" stroke-width="0.4"/>
<path d="M443.1,419.2 L443.7,419.3 L444.9,419.0 L446.6,418.5 L448.4,417.8 L450.1,417.2 L451.3,416.9 L451.9,417.1 L453.2,419.0 L452.6,418.9 L451.4,419.2 L449.7,419.8 L447.9,420.4 L446.2,421.0 L444.9,421.3 L444.3,421.2Z" fill="#8b3f3f" stroke="#743535" stroke-width="0.4"/>
<path d="M439.0,405.0 L438.2,405.8 L437.4,406.5 L436.7,407.2 L436.2,407.8 L435.8,408.3 L435.6,408.7 L435.6,409.0 L437.4,411.8 L437.4,411.5 L437.6,411.2 L438.0,410.7 L438.6,410.1 L439.2,409.4 L440.0,408.6 L440.8,407.8Z" fill="#e86a6a" stroke="#8b3f3f" stroke-width="0.6"/>
<path d="M438.7,406.6 L438.0,407.4 L437.3,408.1 L436.7,408.7 L436.3,409.2 L436.2,409.6" fill="none" stroke="#f09e9e" stroke-width="0.74" stroke-linecap="round" opacity="0.7"/>
<path d="M445.6,406.1 L445.5,406.7 L444.5,407.8 L443.1,409.3 L441.4,410.8 L440.0,412.3 L439.1,413.4 L438.9,414.0 L440.7,416.8 L440.9,416.2 L441.8,415.1 L443.3,413.6 L444.9,412.1 L446.4,410.6 L447.3,409.5 L447.5,408.9Z" fill="#e86a6a" stroke="#8b3f3f" stroke-width="0.6"/>
<path d="M446.0,407.5 L445.1,408.7 L443.6,410.1 L442.0,411.7 L440.5,413.1 L439.6,414.2" fill="none" stroke="#f09e9e" stroke-width="0.74" stroke-linecap="round" opacity="0.7"/>
<path d="M448.9,411.1 L448.7,411.7 L447.8,412.8 L446.3,414.3 L444.7,415.9 L443.3,417.3 L442.3,418.4 L442.1,419.1 L444.0,421.9 L444.1,421.2 L445.1,420.1 L446.5,418.7 L448.2,417.1 L449.6,415.7 L450.5,414.5 L450.7,413.9Z" fill="#e86a6a" stroke="#8b3f3f" stroke-width="0.6"/>
<path d="M449.3,412.6 L448.3,413.7 L446.9,415.1 L445.2,416.7 L443.8,418.2 L442.9,419.3" fill="none" stroke="#f09e9e" stroke-width="0.74" stroke-linecap="round" opacity="0.7"/>
<path d="M452.2,416.1 L452.2,416.2 L452.2,416.2 L452.2,416.3 L452.2,416.4 L452.1,416.5 L452.1,416.6 L452.0,416.7 L453.9,419.5 L453.9,419.4 L454.0,419.3 L454.0,419.2 L454.0,419.1 L454.0,419.1 L454.0,419.0 L454.0,419.0Z" fill="#e86a6a" stroke="#8b3f3f" stroke-width="0.6"/>
<path d="M452.7,417.0 L452.7,417.1 L452.7,417.2 L452.7,417.2 L452.7,417.3 L452.6,417.4" fill="none" stroke="#f09e9e" stroke-width="0.74" stroke-linecap="round" opacity="0.7"/>
<path d="M421,421 L427,423 L417,453 L411,452 Z" fill="#f2c4c4" stroke="#cda6a6" stroke-width="0.6"/>
<path d="M415.0,449.0 Q417.0,433.0 418.0,429.0 Q419.0,425.0 422.0,422.5 Q425.0,420.0 428.5,421.5 Q432.0,423.0 434.5,425.5 Q437.0,428.0 439.5,432.0 Q442.0,436.0 444.5,438.0 L447.0,440.0" stroke="#2a3ae0" stroke-width="1.5" fill="none" stroke-linecap="round" stroke-linejoin="round"/>
<path d="M457.0,432.0 Q464.0,429.0 468.0,430.0 Q472.0,431.0 476.0,433.5 Q480.0,436.0 484.0,439.0 L488.0,442.0" stroke="#d06060" stroke-width="1.5" fill="none" stroke-linecap="round" stroke-linejoin="round"/>
<path d="M446.0,423.0 A6.0,6.0 0 1 1 443.9,434.6" stroke="#222222" stroke-width="5.5" fill="none" stroke-linecap="butt"/>
<path d="M384.4,447.0 L385.1,447.0 L386.6,446.2 L388.5,444.9 L390.6,443.4 L392.5,442.1 L393.9,441.3 L394.7,441.3 L397.0,443.3 L396.2,443.3 L394.8,444.1 L392.9,445.4 L390.8,446.9 L388.9,448.2 L387.4,449.0 L386.6,449.1Z" fill="#906464" stroke="#785454" stroke-width="0.4"/>
<path d="M390.2,452.2 L391.0,452.2 L392.4,451.4 L394.3,450.1 L396.4,448.6 L398.3,447.3 L399.8,446.5 L400.5,446.4 L402.8,448.5 L402.0,448.5 L400.6,449.3 L398.7,450.6 L396.6,452.1 L394.7,453.4 L393.3,454.2 L392.5,454.2Z" fill="#906464" stroke="#785454" stroke-width="0.4"/>
<path d="M396.0,457.4 L396.4,457.5 L396.9,457.3 L397.7,456.9 L398.6,456.3 L399.7,455.6 L400.8,454.8 L402.0,453.9 L404.3,456.0 L403.1,456.8 L402.0,457.6 L400.9,458.3 L400.0,458.9 L399.2,459.3 L398.7,459.5 L398.3,459.4Z" fill="#906464" stroke="#785454" stroke-width="0.4"/>
<path d="M386.0,441.0 L385.2,442.3 L384.5,443.5 L383.9,444.6 L383.5,445.5 L383.2,446.3 L383.0,446.8 L383.1,447.2 L386.4,450.1 L386.3,449.7 L386.4,449.2 L386.7,448.4 L387.2,447.5 L387.8,446.4 L388.5,445.2 L389.3,443.9Z" fill="#f0a8a8" stroke="#906464" stroke-width="0.6"/>
<path d="M386.2,443.1 L385.5,444.3 L384.9,445.5 L384.4,446.4 L384.1,447.2 L384.0,447.7" fill="none" stroke="#f5c6c6" stroke-width="0.96" stroke-linecap="round" opacity="0.7"/>
<path d="M394.7,440.0 L394.7,440.9 L393.9,442.6 L392.6,444.9 L391.1,447.4 L389.8,449.8 L389.0,451.5 L389.0,452.3 L392.2,455.2 L392.2,454.4 L393.0,452.7 L394.3,450.4 L395.8,447.8 L397.2,445.5 L397.9,443.8 L398.0,442.9Z" fill="#f0a8a8" stroke="#906464" stroke-width="0.6"/>
<path d="M395.7,441.8 L394.9,443.5 L393.6,445.8 L392.1,448.3 L390.7,450.6 L390.0,452.4" fill="none" stroke="#f5c6c6" stroke-width="0.96" stroke-linecap="round" opacity="0.7"/>
<path d="M400.5,445.2 L400.5,446.1 L399.7,447.8 L398.4,450.1 L396.9,452.6 L395.6,454.9 L394.8,456.7 L394.8,457.5 L398.1,460.4 L398.1,459.6 L398.9,457.9 L400.2,455.5 L401.7,453.0 L403.0,450.7 L403.8,449.0 L403.8,448.1Z" fill="#f0a8a8" stroke="#906464" stroke-width="0.6"/>
<path d="M401.5,446.9 L400.7,448.7 L399.4,451.0 L397.9,453.5 L396.6,455.8 L395.8,457.5" fill="none" stroke="#f5c6c6" stroke-width="0.96" stroke-linecap="round" opacity="0.7"/>
<path d="M443.3,435.1 L444.0,435.9 L446.2,436.7 L449.3,437.4 L452.7,438.2 L455.8,439.0 L458.0,439.8 L458.7,440.5 L458.7,444.8 L458.0,444.0 L455.8,443.2 L452.7,442.4 L449.3,441.7 L446.2,440.9 L444.0,440.1 L443.3,439.4Z" fill="#787878" stroke="#646464" stroke-width="0.4"/>
<path d="M443.3,445.9 L444.0,446.7 L446.2,447.5 L449.3,448.2 L452.7,449.0 L455.8,449.8 L458.0,450.6 L458.7,451.3 L458.7,455.6 L458.0,454.8 L455.8,454.0 L452.7,453.2 L449.3,452.5 L446.2,451.7 L444.0,450.9 L443.3,450.2Z" fill="#787878" stroke="#646464" stroke-width="0.4"/>
<path d="M443.3,456.7 L444.0,457.5 L446.2,458.3 L449.3,459.0 L452.7,459.8 L455.8,460.6 L458.0,461.4 L458.7,462.1 L458.7,466.4 L458.0,465.6 L455.8,464.8 L452.7,464.0 L449.3,463.3 L446.2,462.5 L444.0,461.7 L443.3,461.0Z" fill="#12128a" stroke="#0f0f73" stroke-width="0.4"/>
<path d="M443.3,467.5 L443.8,468.2 L445.4,468.8 L447.8,469.5 L450.6,470.1 L453.5,470.8 L456.0,471.4 L457.9,472.1 L457.9,476.3 L456.0,475.7 L453.5,475.0 L450.6,474.4 L447.8,473.7 L445.4,473.1 L443.8,472.4 L443.3,471.8Z" fill="#12128a" stroke="#0f0f73" stroke-width="0.4"/>
<path d="M443.4,433.0 L443.1,433.1 L442.7,433.3 L442.5,433.4 L442.3,433.6 L442.1,433.7 L442.0,433.8 L442.0,434.0 L442.0,440.0 L442.0,439.9 L442.1,439.7 L442.3,439.6 L442.5,439.5 L442.7,439.3 L443.1,439.2 L443.4,439.0Z" fill="#c8c8c8" stroke="#787878" stroke-width="0.6"/>
<path d="M443.1,435.0 L442.7,435.1 L442.5,435.2 L442.3,435.4 L442.1,435.5 L442.0,435.7" fill="none" stroke="#dbdbdb" stroke-width="1.33" stroke-linecap="round" opacity="0.7"/>
<path d="M460.0,439.4 L459.1,440.2 L456.6,440.9 L453.0,441.7 L449.0,442.5 L445.4,443.2 L442.9,444.0 L442.0,444.8 L442.0,450.8 L442.9,450.1 L445.4,449.3 L449.0,448.5 L453.0,447.7 L456.6,447.0 L459.1,446.2 L460.0,445.4Z" fill="#c8c8c8" stroke="#787878" stroke-width="0.6"/>
<path d="M459.1,442.0 L456.6,442.7 L453.0,443.5 L449.0,444.3 L445.4,445.1 L442.9,445.8" fill="none" stroke="#dbdbdb" stroke-width="1.33" stroke-linecap="round" opacity="0.7"/>
<path d="M460.0,450.2 L459.1,451.0 L456.6,451.7 L453.0,452.5 L449.0,453.3 L445.4,454.0 L442.9,454.8 L442.0,455.6 L442.0,461.6 L442.9,460.9 L445.4,460.1 L449.0,459.3 L453.0,458.5 L456.6,457.8 L459.1,457.0 L460.0,456.2Z" fill="#1e1ee6" stroke="#12128a" stroke-width="0.6"/>
<path d="M459.1,452.8 L456.6,453.5 L453.0,454.3 L449.0,455.1 L445.4,455.9 L442.9,456.6" fill="none" stroke="#6c6cee" stroke-width="1.33" stroke-linecap="round" opacity="0.7"/>
<path d="M460.0,461.0 L459.1,461.8 L456.6,462.5 L453.0,463.3 L449.0,464.1 L445.4,464.8 L442.9,465.6 L442.0,466.4 L442.0,472.4 L442.9,471.7 L445.4,470.9 L449.0,470.1 L453.0,469.3 L456.6,468.6 L459.1,467.8 L460.0,467.0Z" fill="#1e1ee6" stroke="#12128a" stroke-width="0.6"/>
<path d="M459.1,463.6 L456.6,464.3 L453.0,465.1 L449.0,465.9 L445.4,466.7 L442.9,467.4" fill="none" stroke="#6c6cee" stroke-width="1.33" stroke-linecap="round" opacity="0.7"/>
<path d="M441.7,472.1 L443.7,472.7 L446.2,473.4 L449.0,474.0 L451.6,474.7 L453.8,475.3 L455.2,476.0 L455.7,476.6 L455.6,480.8 L455.1,480.2 L453.7,479.5 L451.6,478.9 L448.9,478.2 L446.2,477.6 L443.7,476.9 L441.7,476.3Z" fill="#12128a" stroke="#0f0f73" stroke-width="0.4"/>
<path d="M440.1,481.8 L440.9,482.5 L443.0,483.3 L446.1,484.2 L449.5,485.0 L452.6,485.8 L454.8,486.6 L455.5,487.4 L455.5,491.6 L454.7,490.8 L452.6,490.0 L449.5,489.2 L446.0,488.4 L442.9,487.6 L440.8,486.8 L440.1,486.0Z" fill="#12128a" stroke="#0f0f73" stroke-width="0.4"/>
<path d="M440.0,492.6 L440.7,493.3 L442.9,494.1 L445.9,495.0 L449.4,495.8 L452.5,496.6 L454.6,497.4 L455.4,498.2 L455.3,502.4 L454.5,501.6 L452.4,500.8 L449.3,500.0 L445.9,499.2 L442.8,498.4 L440.7,497.6 L439.9,496.8Z" fill="#12128a" stroke="#0f0f73" stroke-width="0.4"/>
<path d="M439.8,503.4 L440.6,504.1 L442.7,504.9 L445.8,505.8 L449.2,506.6 L452.3,507.4 L454.5,508.2 L455.2,509.0 L455.2,513.2 L454.4,512.4 L452.3,511.6 L449.2,510.8 L445.7,510.0 L442.6,509.2 L440.5,508.4 L439.8,507.6Z" fill="#12128a" stroke="#0f0f73" stroke-width="0.4"/>
<path d="M439.7,514.2 L440.4,514.9 L442.6,515.7 L445.6,516.6 L449.1,517.4 L452.2,518.2 L454.3,519.0 L455.1,519.8 L455.0,524.0 L454.2,523.2 L452.1,522.4 L449.0,521.6 L445.6,520.8 L442.5,520.0 L440.4,519.2 L439.6,518.4Z" fill="#12128a" stroke="#0f0f73" stroke-width="0.4"/>
<path d="M439.5,525.0 L440.3,525.7 L442.4,526.5 L445.5,527.4 L448.9,528.2 L452.0,529.0 L454.2,529.8 L454.9,530.6 L454.9,534.8 L454.1,534.0 L452.0,533.2 L448.9,532.4 L445.4,531.6 L442.3,530.8 L440.2,530.0 L439.5,529.2Z" fill="#12128a" stroke="#0f0f73" stroke-width="0.4"/>
<path d="M439.4,535.8 L439.5,536.1 L439.9,536.4 L440.5,536.7 L441.4,537.1 L442.5,537.4 L443.7,537.7 L445.0,538.1 L445.0,542.3 L443.6,542.0 L442.4,541.6 L441.3,541.3 L440.5,541.0 L439.8,540.6 L439.4,540.3 L439.3,540.0Z" fill="#12128a" stroke="#0f0f73" stroke-width="0.4"/>
<path d="M456.9,475.4 L456.0,476.2 L453.5,476.9 L449.9,477.7 L445.9,478.4 L442.3,479.1 L439.8,479.8 L438.9,480.6 L438.8,486.6 L439.7,485.9 L442.2,485.1 L445.8,484.4 L449.8,483.7 L453.4,483.0 L456.0,482.2 L456.9,481.5Z" fill="#1e1ee6" stroke="#12128a" stroke-width="0.6"/>
<path d="M456.0,478.0 L453.5,478.8 L449.9,479.5 L445.9,480.2 L442.3,480.9 L439.7,481.6" fill="none" stroke="#6c6cee" stroke-width="1.33" stroke-linecap="round" opacity="0.7"/>
<path d="M456.8,486.2 L455.9,487.0 L453.4,487.7 L449.8,488.5 L445.7,489.2 L442.1,489.9 L439.6,490.6 L438.7,491.4 L438.6,497.4 L439.5,496.7 L442.0,495.9 L445.7,495.2 L449.7,494.5 L453.3,493.8 L455.8,493.0 L456.7,492.3Z" fill="#1e1ee6" stroke="#12128a" stroke-width="0.6"/>
<path d="M455.9,488.8 L453.4,489.6 L449.7,490.3 L445.7,491.0 L442.1,491.7 L439.6,492.4" fill="none" stroke="#6c6cee" stroke-width="1.33" stroke-linecap="round" opacity="0.7"/>
<path d="M456.6,497.0 L455.7,497.8 L453.2,498.5 L449.6,499.3 L445.6,500.0 L442.0,500.7 L439.5,501.4 L438.6,502.2 L438.5,508.2 L439.4,507.5 L441.9,506.7 L445.5,506.0 L449.5,505.3 L453.1,504.6 L455.7,503.8 L456.6,503.1Z" fill="#1e1ee6" stroke="#12128a" stroke-width="0.6"/>
<path d="M455.7,499.6 L453.2,500.4 L449.6,501.1 L445.6,501.8 L442.0,502.5 L439.4,503.2" fill="none" stroke="#6c6cee" stroke-width="1.33" stroke-linecap="round" opacity="0.7"/>
<path d="M456.5,507.8 L455.6,508.6 L453.1,509.3 L449.5,510.1 L445.4,510.8 L441.8,511.5 L439.3,512.2 L438.4,513.0 L438.3,519.0 L439.2,518.3 L441.7,517.5 L445.4,516.8 L449.4,516.1 L453.0,515.4 L455.5,514.6 L456.4,513.9Z" fill="#1e1ee6" stroke="#12128a" stroke-width="0.6"/>
<path d="M455.6,510.4 L453.1,511.1 L449.4,511.9 L445.4,512.6 L441.8,513.3 L439.3,514.0" fill="none" stroke="#6c6cee" stroke-width="1.33" stroke-linecap="round" opacity="0.7"/>
<path d="M456.3,518.6 L455.4,519.4 L452.9,520.1 L449.3,520.9 L445.3,521.6 L441.7,522.3 L439.2,523.0 L438.3,523.8 L438.2,529.8 L439.1,529.1 L441.6,528.3 L445.2,527.6 L449.2,526.9 L452.8,526.2 L455.4,525.4 L456.3,524.7Z" fill="#1e1ee6" stroke="#12128a" stroke-width="0.6"/>
<path d="M455.4,521.2 L452.9,521.9 L449.3,522.7 L445.3,523.4 L441.7,524.1 L439.1,524.8" fill="none" stroke="#6c6cee" stroke-width="1.33" stroke-linecap="round" opacity="0.7"/>
<path d="M456.2,529.4 L455.3,530.2 L452.8,530.9 L449.2,531.7 L445.1,532.4 L441.5,533.1 L439.0,533.8 L438.1,534.6 L438.0,540.6 L438.9,539.9 L441.4,539.1 L445.1,538.4 L449.1,537.7 L452.7,537.0 L455.2,536.2 L456.1,535.5Z" fill="#1e1ee6" stroke="#12128a" stroke-width="0.6"/>
<path d="M455.3,532.0 L452.8,532.7 L449.1,533.5 L445.1,534.2 L441.5,534.9 L439.0,535.6" fill="none" stroke="#6c6cee" stroke-width="1.33" stroke-linecap="round" opacity="0.7"/>
<path d="M472.4,442.7 L473.0,443.6 L474.9,444.6 L477.7,445.7 L480.8,446.9 L483.6,448.1 L485.5,449.1 L486.1,449.9 L485.5,453.9 L484.9,453.0 L483.0,452.0 L480.2,450.9 L477.1,449.7 L474.3,448.5 L472.4,447.5 L471.8,446.7Z" fill="#860e0e" stroke="#700c0c" stroke-width="0.4"/>
<path d="M470.9,452.8 L471.5,453.6 L473.4,454.7 L476.2,455.8 L479.3,457.0 L482.1,458.2 L484.0,459.2 L484.6,460.0 L484.0,464.0 L483.4,463.1 L481.5,462.1 L478.7,461.0 L475.6,459.8 L472.8,458.6 L470.9,457.6 L470.3,456.8Z" fill="#860e0e" stroke="#700c0c" stroke-width="0.4"/>
<path d="M469.4,462.9 L470.0,463.7 L471.9,464.8 L474.7,465.9 L477.8,467.1 L480.6,468.2 L482.5,469.3 L483.1,470.1 L482.5,474.0 L481.9,473.2 L480.0,472.2 L477.2,471.1 L474.1,469.9 L471.3,468.7 L469.4,467.7 L468.8,466.9Z" fill="#3f498b" stroke="#353d74" stroke-width="0.4"/>
<path d="M467.9,473.0 L468.5,473.8 L470.4,474.8 L473.2,476.0 L476.3,477.2 L479.1,478.3 L481.0,479.4 L481.6,480.2 L481.0,484.1 L480.4,483.3 L478.5,482.3 L475.7,481.1 L472.6,479.9 L469.8,478.8 L467.9,477.8 L467.3,477.0Z" fill="#3f498b" stroke="#353d74" stroke-width="0.4"/>
<path d="M466.4,483.1 L467.0,483.9 L468.9,484.9 L471.7,486.1 L474.8,487.3 L477.6,488.4 L479.5,489.4 L480.1,490.3 L479.5,494.2 L478.9,493.4 L477.0,492.4 L474.2,491.2 L471.1,490.0 L468.3,488.9 L466.4,487.9 L465.8,487.0Z" fill="#3f498b" stroke="#353d74" stroke-width="0.4"/>
<path d="M464.9,493.2 L465.5,494.0 L467.4,495.0 L470.2,496.2 L473.3,497.4 L476.1,498.5 L478.0,499.5 L478.6,500.4 L478.1,504.3 L477.4,503.5 L475.5,502.5 L472.8,501.3 L469.6,500.1 L466.8,499.0 L464.9,498.0 L464.3,497.1Z" fill="#3f498b" stroke="#353d74" stroke-width="0.4"/>
<path d="M463.4,503.3 L464.0,504.1 L465.9,505.1 L468.7,506.3 L471.9,507.5 L474.6,508.6 L476.5,509.6 L477.2,510.5 L476.6,514.4 L476.0,513.6 L474.1,512.6 L471.3,511.4 L468.2,510.2 L465.4,509.1 L463.5,508.1 L462.9,507.2Z" fill="#3f498b" stroke="#353d74" stroke-width="0.4"/>
<path d="M461.9,513.4 L462.6,514.2 L464.5,515.2 L467.3,516.4 L470.4,517.6 L473.2,518.7 L475.1,519.7 L475.7,520.5 L475.1,524.5 L474.5,523.7 L472.6,522.7 L469.8,521.5 L466.7,520.3 L463.9,519.2 L462.0,518.1 L461.4,517.3Z" fill="#3f498b" stroke="#353d74" stroke-width="0.4"/>
<path d="M460.5,523.5 L461.1,524.3 L463.0,525.3 L465.8,526.4 L468.9,527.6 L471.7,528.8 L473.6,529.8 L474.2,530.6 L473.6,534.6 L473.0,533.8 L471.1,532.7 L468.3,531.6 L465.2,530.4 L462.4,529.3 L460.5,528.2 L459.9,527.4Z" fill="#3f498b" stroke="#353d74" stroke-width="0.4"/>
<path d="M476.0,440.4 L474.9,440.5 L473.9,440.6 L473.0,440.7 L472.3,440.9 L471.8,441.0 L471.5,441.2 L471.3,441.5 L470.5,447.1 L470.6,446.9 L471.0,446.7 L471.5,446.5 L472.2,446.4 L473.0,446.2 L474.0,446.1 L475.1,446.1Z" fill="#e01818" stroke="#860e0e" stroke-width="0.6"/>
<path d="M474.6,442.2 L473.6,442.3 L472.8,442.4 L472.1,442.6 L471.6,442.7 L471.2,442.9" fill="none" stroke="#ea6868" stroke-width="1.26" stroke-linecap="round" opacity="0.7"/>
<path d="M487.4,449.0 L486.5,449.6 L484.0,450.0 L480.6,450.2 L476.7,450.4 L473.2,450.6 L470.8,451.0 L469.9,451.6 L469.0,457.2 L470.0,456.6 L472.4,456.2 L475.9,456.0 L479.7,455.9 L483.2,455.6 L485.6,455.3 L486.6,454.7Z" fill="#e01818" stroke="#860e0e" stroke-width="0.6"/>
<path d="M486.2,451.3 L483.8,451.7 L480.3,451.9 L476.5,452.1 L473.0,452.3 L470.5,452.7" fill="none" stroke="#ea6868" stroke-width="1.26" stroke-linecap="round" opacity="0.7"/>
<path d="M485.9,459.1 L485.0,459.7 L482.5,460.1 L479.1,460.3 L475.2,460.5 L471.7,460.7 L469.3,461.1 L468.4,461.7 L467.5,467.3 L468.5,466.7 L470.9,466.3 L474.4,466.1 L478.2,465.9 L481.7,465.7 L484.2,465.3 L485.1,464.7Z" fill="#6a7ae8" stroke="#3f498b" stroke-width="0.6"/>
<path d="M484.7,461.4 L482.3,461.8 L478.8,462.0 L475.0,462.2 L471.5,462.4 L469.1,462.8" fill="none" stroke="#9ea8f0" stroke-width="1.26" stroke-linecap="round" opacity="0.7"/>
<path d="M484.4,469.2 L483.5,469.8 L481.1,470.2 L477.6,470.4 L473.7,470.6 L470.3,470.8 L467.8,471.2 L466.9,471.8 L466.0,477.4 L467.0,476.8 L469.4,476.4 L472.9,476.2 L476.7,476.0 L480.2,475.8 L482.7,475.4 L483.6,474.8Z" fill="#6a7ae8" stroke="#3f498b" stroke-width="0.6"/>
<path d="M483.2,471.5 L480.8,471.9 L477.3,472.1 L473.5,472.2 L470.0,472.5 L467.6,472.9" fill="none" stroke="#9ea8f0" stroke-width="1.26" stroke-linecap="round" opacity="0.7"/>
<path d="M483.0,479.3 L482.0,479.9 L479.6,480.3 L476.1,480.5 L472.2,480.6 L468.8,480.9 L466.3,481.2 L465.4,481.8 L464.6,487.5 L465.5,486.9 L467.9,486.5 L471.4,486.3 L475.3,486.1 L478.7,485.9 L481.2,485.5 L482.1,484.9Z" fill="#6a7ae8" stroke="#3f498b" stroke-width="0.6"/>
<path d="M481.8,481.6 L479.3,481.9 L475.8,482.2 L472.0,482.3 L468.5,482.6 L466.1,482.9" fill="none" stroke="#9ea8f0" stroke-width="1.26" stroke-linecap="round" opacity="0.7"/>
<path d="M481.5,489.4 L480.5,490.0 L478.1,490.3 L474.6,490.6 L470.8,490.7 L467.3,491.0 L464.8,491.3 L463.9,491.9 L463.1,497.6 L464.0,497.0 L466.4,496.6 L469.9,496.4 L473.8,496.2 L477.3,496.0 L479.7,495.6 L480.6,495.0Z" fill="#6a7ae8" stroke="#3f498b" stroke-width="0.6"/>
<path d="M480.3,491.7 L477.8,492.0 L474.4,492.3 L470.5,492.4 L467.0,492.7 L464.6,493.0" fill="none" stroke="#9ea8f0" stroke-width="1.26" stroke-linecap="round" opacity="0.7"/>
<path d="M480.0,499.5 L479.0,500.1 L476.6,500.4 L473.1,500.7 L469.3,500.8 L465.8,501.1 L463.4,501.4 L462.4,502.0 L461.6,507.7 L462.5,507.1 L465.0,506.7 L468.4,506.5 L472.3,506.3 L475.8,506.1 L478.2,505.7 L479.1,505.1Z" fill="#6a7ae8" stroke="#3f498b" stroke-width="0.6"/>
<path d="M478.8,501.8 L476.3,502.1 L472.9,502.4 L469.0,502.5 L465.5,502.7 L463.1,503.1" fill="none" stroke="#9ea8f0" stroke-width="1.26" stroke-linecap="round" opacity="0.7"/>
<path d="M478.5,509.6 L477.6,510.1 L475.1,510.5 L471.6,510.7 L467.8,510.9 L464.3,511.1 L461.9,511.5 L460.9,512.1 L460.1,517.8 L461.0,517.2 L463.5,516.8 L467.0,516.6 L470.8,516.4 L474.3,516.2 L476.7,515.8 L477.7,515.2Z" fill="#6a7ae8" stroke="#3f498b" stroke-width="0.6"/>
<path d="M477.3,511.8 L474.9,512.2 L471.4,512.4 L467.5,512.6 L464.1,512.8 L461.6,513.2" fill="none" stroke="#9ea8f0" stroke-width="1.26" stroke-linecap="round" opacity="0.7"/>
<path d="M477.0,519.6 L476.1,520.2 L473.6,520.6 L470.1,520.8 L466.3,521.0 L462.8,521.2 L460.4,521.6 L459.4,522.2 L458.6,527.9 L459.5,527.3 L462.0,526.9 L465.5,526.7 L469.3,526.5 L472.8,526.3 L475.2,525.9 L476.2,525.3Z" fill="#6a7ae8" stroke="#3f498b" stroke-width="0.6"/>
<path d="M475.8,521.9 L473.4,522.3 L469.9,522.5 L466.0,522.7 L462.6,522.9 L460.1,523.3" fill="none" stroke="#9ea8f0" stroke-width="1.26" stroke-linecap="round" opacity="0.7"/>
<path d="M475.5,529.7 L475.4,530.0 L475.0,530.2 L474.4,530.4 L473.6,530.5 L472.6,530.7 L471.5,530.8 L470.2,530.8 L469.4,536.5 L470.7,536.4 L471.8,536.3 L472.8,536.2 L473.6,536.0 L474.2,535.8 L474.5,535.6 L474.7,535.4Z" fill="#6a7ae8" stroke="#3f498b" stroke-width="0.6"/>
<path d="M475.1,531.7 L474.7,531.9 L474.1,532.1 L473.3,532.2 L472.4,532.4 L471.2,532.5" fill="none" stroke="#9ea8f0" stroke-width="1.26" stroke-linecap="round" opacity="0.7"/>
<path d="M435.0,485.9 L435.6,486.4 L437.0,486.8 L439.1,487.2 L441.5,487.5 L443.6,487.9 L445.0,488.3 L445.6,488.8 L445.7,491.6 L445.2,491.1 L443.7,490.7 L441.6,490.4 L439.3,490.0 L437.2,489.6 L435.8,489.2 L435.2,488.7Z" fill="#262626" stroke="#202020" stroke-width="0.4"/>
<path d="M435.5,493.1 L435.7,493.4 L436.2,493.6 L436.9,493.9 L437.9,494.1 L439.1,494.3 L440.4,494.5 L441.7,494.7 L441.9,497.5 L440.6,497.3 L439.3,497.1 L438.1,496.9 L437.1,496.7 L436.4,496.4 L435.9,496.2 L435.7,495.9Z" fill="#262626" stroke="#202020" stroke-width="0.4"/>
<path d="M440.0,483.0 L438.7,483.3 L437.4,483.7 L436.3,484.0 L435.4,484.3 L434.7,484.6 L434.3,484.9 L434.1,485.2 L434.4,489.2 L434.5,489.0 L435.0,488.7 L435.7,488.4 L436.6,488.0 L437.7,487.7 L439.0,487.4 L440.3,487.0Z" fill="#404040" stroke="#262626" stroke-width="0.6"/>
<path d="M438.8,484.6 L437.5,484.9 L436.4,485.2 L435.5,485.5 L434.8,485.8 L434.3,486.1" fill="none" stroke="#828282" stroke-width="0.89" stroke-linecap="round" opacity="0.7"/>
<path d="M446.3,488.0 L445.8,488.5 L444.2,489.2 L441.8,489.8 L439.2,490.5 L436.8,491.2 L435.2,491.8 L434.6,492.4 L434.9,496.4 L435.4,495.8 L437.1,495.2 L439.4,494.6 L442.1,493.9 L444.4,493.2 L446.1,492.6 L446.6,492.0Z" fill="#404040" stroke="#262626" stroke-width="0.6"/>
<path d="M445.9,489.7 L444.2,490.4 L441.9,491.0 L439.2,491.7 L436.9,492.4 L435.3,493.0" fill="none" stroke="#828282" stroke-width="0.89" stroke-linecap="round" opacity="0.7"/>
<path d="M425.4,492.0 L426.1,492.6 L428.1,493.1 L430.9,493.5 L434.0,493.9 L436.8,494.4 L438.8,494.9 L439.5,495.5 L439.8,499.2 L439.1,498.6 L437.1,498.1 L434.3,497.7 L431.2,497.3 L428.4,496.8 L426.4,496.3 L425.7,495.7Z" fill="#12128a" stroke="#0f0f73" stroke-width="0.4"/>
<path d="M426.2,501.5 L427.0,502.1 L428.9,502.7 L431.7,503.1 L434.9,503.5 L437.7,503.9 L439.6,504.4 L440.4,505.1 L440.7,508.8 L440.0,508.2 L438.0,507.7 L435.2,507.2 L432.1,506.8 L429.3,506.4 L427.3,505.9 L426.6,505.3Z" fill="#12128a" stroke="#0f0f73" stroke-width="0.4"/>
<path d="M427.1,511.1 L427.8,511.7 L429.8,512.2 L432.6,512.7 L435.7,513.1 L438.5,513.5 L440.5,514.0 L441.2,514.6 L441.6,518.4 L440.8,517.7 L438.9,517.2 L436.1,516.8 L433.0,516.4 L430.1,516.0 L428.2,515.5 L427.4,514.8Z" fill="#12128a" stroke="#0f0f73" stroke-width="0.4"/>
<path d="M428.0,520.6 L428.7,521.3 L430.7,521.8 L433.5,522.2 L436.6,522.6 L439.4,523.1 L441.4,523.6 L442.1,524.2 L442.4,527.9 L441.7,527.3 L439.7,526.8 L436.9,526.4 L433.8,526.0 L431.0,525.5 L429.0,525.0 L428.3,524.4Z" fill="#12128a" stroke="#0f0f73" stroke-width="0.4"/>
<path d="M426.9,489.5 L426.2,489.7 L425.6,490.0 L425.1,490.2 L424.7,490.4 L424.4,490.6 L424.2,490.9 L424.2,491.0 L424.6,496.4 L424.7,496.2 L424.9,496.0 L425.1,495.8 L425.5,495.6 L426.0,495.3 L426.7,495.1 L427.4,494.8Z" fill="#1e1ee6" stroke="#12128a" stroke-width="0.6"/>
<path d="M426.3,491.3 L425.7,491.6 L425.2,491.8 L424.8,492.0 L424.5,492.3 L424.3,492.5" fill="none" stroke="#6c6cee" stroke-width="1.18" stroke-linecap="round" opacity="0.7"/>
<path d="M440.5,494.4 L439.8,495.1 L437.6,496.0 L434.5,497.0 L431.0,498.0 L427.9,499.0 L425.7,499.9 L425.0,500.6 L425.5,506.0 L426.2,505.2 L428.4,504.3 L431.5,503.4 L435.0,502.3 L438.1,501.4 L440.3,500.5 L441.0,499.7Z" fill="#1e1ee6" stroke="#12128a" stroke-width="0.6"/>
<path d="M439.9,496.7 L437.8,497.6 L434.7,498.6 L431.2,499.6 L428.0,500.6 L425.9,501.5" fill="none" stroke="#6c6cee" stroke-width="1.18" stroke-linecap="round" opacity="0.7"/>
<path d="M441.4,503.9 L440.7,504.7 L438.5,505.6 L435.4,506.6 L431.9,507.6 L428.8,508.5 L426.6,509.4 L425.9,510.2 L426.4,515.5 L427.1,514.8 L429.3,513.9 L432.4,512.9 L435.9,511.9 L439.0,510.9 L441.2,510.1 L441.9,509.3Z" fill="#1e1ee6" stroke="#12128a" stroke-width="0.6"/>
<path d="M440.8,506.3 L438.7,507.2 L435.5,508.2 L432.0,509.2 L428.9,510.1 L426.8,511.0" fill="none" stroke="#6c6cee" stroke-width="1.18" stroke-linecap="round" opacity="0.7"/>
<path d="M442.3,513.5 L441.5,514.3 L439.4,515.1 L436.3,516.1 L432.8,517.1 L429.6,518.1 L427.5,519.0 L426.8,519.7 L427.2,525.1 L428.0,524.3 L430.1,523.4 L433.3,522.5 L436.7,521.5 L439.9,520.5 L442.0,519.6 L442.7,518.9Z" fill="#1e1ee6" stroke="#12128a" stroke-width="0.6"/>
<path d="M441.7,515.9 L439.5,516.7 L436.4,517.7 L432.9,518.7 L429.8,519.7 L427.6,520.6" fill="none" stroke="#6c6cee" stroke-width="1.18" stroke-linecap="round" opacity="0.7"/>
<path d="M443.1,523.1 L442.7,523.7 L441.2,524.3 L439.0,525.1 L436.3,525.9 L433.5,526.7 L430.9,527.5 L429.0,528.2 L429.4,533.6 L431.4,532.9 L434.0,532.1 L436.8,531.3 L439.5,530.5 L441.7,529.7 L443.1,529.0 L443.6,528.4Z" fill="#1e1ee6" stroke="#12128a" stroke-width="0.6"/>
<path d="M442.8,525.3 L441.4,526.0 L439.2,526.7 L436.5,527.5 L433.7,528.3 L431.1,529.1" fill="none" stroke="#6c6cee" stroke-width="1.18" stroke-linecap="round" opacity="0.7"/>
<path d="M415.5,452.9 L417.3,452.8 L419.7,452.3 L422.5,451.6 L425.2,450.9 L427.6,450.4 L429.2,450.3 L430.0,450.6 L431.8,454.2 L431.0,453.9 L429.4,454.0 L427.0,454.5 L424.3,455.2 L421.5,455.8 L419.1,456.3 L417.3,456.5Z" fill="#12128a" stroke="#0f0f73" stroke-width="0.4"/>
<path d="M419.2,461.7 L420.2,462.1 L422.3,461.8 L425.3,461.2 L428.5,460.3 L431.4,459.7 L433.6,459.4 L434.6,459.8 L436.3,463.3 L435.4,463.0 L433.2,463.3 L430.3,463.9 L427.0,464.7 L424.1,465.4 L422.0,465.6 L421.0,465.3Z" fill="#12128a" stroke="#0f0f73" stroke-width="0.4"/>
<path d="M423.8,470.9 L424.7,471.2 L426.9,470.9 L429.8,470.3 L433.1,469.5 L436.0,468.8 L438.1,468.6 L439.1,468.9 L440.9,472.5 L439.9,472.1 L437.8,472.4 L434.8,473.0 L431.6,473.9 L428.7,474.5 L426.5,474.8 L425.5,474.4Z" fill="#12128a" stroke="#0f0f73" stroke-width="0.4"/>
<path d="M428.3,480.0 L429.3,480.3 L431.4,480.1 L434.4,479.4 L437.6,478.6 L440.6,477.9 L442.7,477.7 L443.7,478.0 L445.5,481.6 L444.5,481.3 L442.4,481.5 L439.4,482.2 L436.2,483.0 L433.2,483.6 L431.1,483.9 L430.1,483.6Z" fill="#12128a" stroke="#0f0f73" stroke-width="0.4"/>
<path d="M432.9,489.1 L433.9,489.4 L436.0,489.2 L438.9,488.5 L442.2,487.7 L445.1,487.1 L447.3,486.8 L448.2,487.1 L450.0,490.7 L449.1,490.4 L446.9,490.6 L444.0,491.3 L440.7,492.1 L437.8,492.8 L435.6,493.0 L434.7,492.7Z" fill="#12128a" stroke="#0f0f73" stroke-width="0.4"/>
<path d="M430.6,449.1 L430.1,450.2 L428.4,451.9 L425.6,454.0 L422.6,456.4 L419.9,458.6 L418.1,460.3 L417.6,461.3 L420.2,466.4 L420.6,465.4 L422.4,463.7 L425.1,461.5 L428.2,459.2 L430.9,457.0 L432.7,455.3 L433.1,454.2Z" fill="#1e1ee6" stroke="#12128a" stroke-width="0.6"/>
<path d="M430.9,451.7 L429.1,453.4 L426.4,455.6 L423.3,457.9 L420.6,460.1 L418.8,461.8" fill="none" stroke="#6c6cee" stroke-width="1.26" stroke-linecap="round" opacity="0.7"/>
<path d="M435.1,458.3 L434.7,459.3 L432.9,461.0 L430.2,463.2 L427.1,465.5 L424.4,467.7 L422.6,469.4 L422.2,470.4 L424.8,475.5 L425.2,474.5 L427.0,472.8 L429.7,470.6 L432.8,468.3 L435.5,466.1 L437.3,464.4 L437.7,463.4Z" fill="#1e1ee6" stroke="#12128a" stroke-width="0.6"/>
<path d="M435.5,460.8 L433.7,462.5 L431.0,464.7 L427.9,467.0 L425.2,469.2 L423.4,470.9" fill="none" stroke="#6c6cee" stroke-width="1.26" stroke-linecap="round" opacity="0.7"/>
<path d="M439.7,467.4 L439.3,468.4 L437.5,470.1 L434.8,472.3 L431.7,474.6 L429.0,476.8 L427.2,478.5 L426.8,479.5 L429.3,484.7 L429.8,483.6 L431.5,481.9 L434.3,479.7 L437.3,477.4 L440.0,475.2 L441.8,473.5 L442.2,472.5Z" fill="#1e1ee6" stroke="#12128a" stroke-width="0.6"/>
<path d="M440.0,469.9 L438.3,471.7 L435.5,473.8 L432.5,476.2 L429.7,478.3 L428.0,480.1" fill="none" stroke="#6c6cee" stroke-width="1.26" stroke-linecap="round" opacity="0.7"/>
<path d="M444.3,476.5 L443.8,477.5 L442.0,479.2 L439.3,481.4 L436.3,483.8 L433.5,485.9 L431.8,487.6 L431.3,488.7 L433.9,493.8 L434.3,492.8 L436.1,491.0 L438.8,488.9 L441.9,486.5 L444.6,484.4 L446.4,482.6 L446.8,481.6Z" fill="#1e1ee6" stroke="#12128a" stroke-width="0.6"/>
<path d="M444.6,479.1 L442.8,480.8 L440.1,482.9 L437.0,485.3 L434.3,487.5 L432.5,489.2" fill="none" stroke="#6c6cee" stroke-width="1.26" stroke-linecap="round" opacity="0.7"/>
<path d="M448.8,485.6 L448.4,486.6 L446.7,488.3 L444.1,490.4 L441.1,492.7 L438.4,494.8 L436.5,496.6 L435.9,497.7 L438.4,502.8 L439.0,501.7 L440.9,499.9 L443.7,497.8 L446.6,495.5 L449.3,493.4 L451.0,491.7 L451.4,490.7Z" fill="#1e1ee6" stroke="#12128a" stroke-width="0.6"/>
<path d="M449.2,488.2 L447.5,489.8 L444.9,491.9 L441.9,494.2 L439.1,496.4 L437.3,498.1" fill="none" stroke="#6c6cee" stroke-width="1.26" stroke-linecap="round" opacity="0.7"/>
<path d="M391.3,457.0 L392.1,457.8 L394.3,458.5 L397.4,459.2 L400.9,459.9 L404.0,460.6 L406.1,461.3 L406.9,462.1 L407.0,466.3 L406.2,465.6 L404.1,464.8 L401.0,464.1 L397.5,463.4 L394.4,462.7 L392.2,462.0 L391.4,461.2Z" fill="#12128a" stroke="#0f0f73" stroke-width="0.4"/>
<path d="M391.6,467.8 L392.3,468.6 L394.5,469.3 L397.6,470.0 L401.1,470.7 L404.2,471.4 L406.4,472.1 L407.2,472.9 L407.2,477.1 L406.5,476.4 L404.3,475.6 L401.2,474.9 L397.7,474.2 L394.6,473.5 L392.4,472.8 L391.7,472.0Z" fill="#12128a" stroke="#0f0f73" stroke-width="0.4"/>
<path d="M391.8,478.6 L392.6,479.4 L394.7,480.1 L397.9,480.8 L401.3,481.5 L404.4,482.2 L406.6,482.9 L407.4,483.7 L407.5,487.9 L406.7,487.2 L404.5,486.4 L401.4,485.7 L397.9,485.0 L394.8,484.3 L392.7,483.6 L391.9,482.8Z" fill="#222222" stroke="#1d1d1d" stroke-width="0.4"/>
<path d="M392.0,489.4 L392.8,490.2 L395.0,490.9 L398.1,491.6 L401.5,492.3 L404.7,493.0 L406.8,493.7 L407.6,494.5 L407.7,498.7 L406.9,498.0 L404.7,497.2 L401.6,496.5 L398.2,495.8 L395.1,495.1 L392.9,494.4 L392.1,493.6Z" fill="#222222" stroke="#1d1d1d" stroke-width="0.4"/>
<path d="M392.2,500.2 L393.0,501.0 L395.2,501.7 L398.3,502.4 L401.8,503.1 L404.9,503.8 L407.0,504.5 L407.8,505.3 L407.9,509.5 L407.1,508.8 L405.0,508.0 L401.9,507.3 L398.4,506.6 L395.3,505.9 L393.1,505.2 L392.3,504.4Z" fill="#12128a" stroke="#0f0f73" stroke-width="0.4"/>
<path d="M392.5,511.0 L393.2,511.8 L395.4,512.5 L398.5,513.2 L402.0,513.9 L405.1,514.6 L407.3,515.3 L408.1,516.1 L408.1,520.3 L407.4,519.6 L405.2,518.8 L402.1,518.1 L398.6,517.4 L395.5,516.7 L393.3,516.0 L392.6,515.2Z" fill="#12128a" stroke="#0f0f73" stroke-width="0.4"/>
<path d="M392.7,521.8 L393.5,522.6 L395.6,523.3 L398.8,524.0 L402.2,524.7 L405.3,525.4 L407.5,526.1 L408.3,526.9 L408.4,531.1 L407.6,530.3 L405.4,529.6 L402.3,528.9 L398.8,528.2 L395.7,527.5 L393.6,526.8 L392.8,526.0Z" fill="#817373" stroke="#6c6060" stroke-width="0.4"/>
<path d="M392.9,532.6 L393.7,533.3 L395.9,534.1 L399.0,534.8 L402.4,535.5 L405.6,536.2 L407.7,536.9 L408.5,537.7 L408.6,541.9 L407.8,541.1 L405.6,540.4 L402.5,539.7 L399.1,539.0 L396.0,538.3 L393.8,537.6 L393.0,536.8Z" fill="#817373" stroke="#6c6060" stroke-width="0.4"/>
<path d="M393.1,543.4 L393.2,543.5 L393.2,543.6 L393.3,543.8 L393.5,543.9 L393.7,544.0 L393.9,544.1 L394.1,544.2 L394.2,548.5 L394.0,548.4 L393.7,548.2 L393.6,548.1 L393.4,548.0 L393.3,547.9 L393.3,547.7 L393.2,547.6Z" fill="#817373" stroke="#6c6060" stroke-width="0.4"/>
<path d="M399.0,453.0 L397.0,453.4 L395.1,453.9 L393.4,454.3 L392.0,454.7 L390.9,455.1 L390.3,455.5 L390.1,455.9 L390.2,461.9 L390.4,461.5 L391.1,461.1 L392.1,460.7 L393.5,460.3 L395.2,459.9 L397.1,459.5 L399.1,459.0Z" fill="#1e1ee6" stroke="#12128a" stroke-width="0.6"/>
<path d="M397.0,455.2 L395.1,455.7 L393.5,456.1 L392.0,456.5 L391.0,456.9 L390.3,457.3" fill="none" stroke="#6c6cee" stroke-width="1.33" stroke-linecap="round" opacity="0.7"/>
<path d="M408.2,460.9 L407.3,461.7 L404.8,462.5 L401.2,463.4 L397.2,464.2 L393.6,465.1 L391.2,465.9 L390.3,466.7 L390.4,472.7 L391.3,471.9 L393.8,471.1 L397.4,470.3 L401.3,469.4 L404.9,468.6 L407.4,467.7 L408.3,467.0Z" fill="#1e1ee6" stroke="#12128a" stroke-width="0.6"/>
<path d="M407.3,463.5 L404.8,464.3 L401.3,465.2 L397.3,466.0 L393.7,466.9 L391.2,467.7" fill="none" stroke="#6c6cee" stroke-width="1.33" stroke-linecap="round" opacity="0.7"/>
<path d="M408.4,471.7 L407.5,472.5 L405.0,473.3 L401.4,474.2 L397.5,475.0 L393.9,475.9 L391.4,476.7 L390.5,477.5 L390.6,483.5 L391.5,482.7 L394.0,481.9 L397.6,481.1 L401.6,480.2 L405.2,479.4 L407.6,478.5 L408.5,477.8Z" fill="#1e1ee6" stroke="#12128a" stroke-width="0.6"/>
<path d="M407.6,474.3 L405.1,475.1 L401.5,476.0 L397.5,476.8 L393.9,477.7 L391.4,478.5" fill="none" stroke="#6c6cee" stroke-width="1.33" stroke-linecap="round" opacity="0.7"/>
<path d="M408.6,482.5 L407.7,483.3 L405.3,484.1 L401.7,485.0 L397.7,485.8 L394.1,486.7 L391.6,487.5 L390.7,488.3 L390.9,494.3 L391.7,493.5 L394.2,492.7 L397.8,491.9 L401.8,491.0 L405.4,490.2 L407.9,489.3 L408.7,488.6Z" fill="#3a3a3a" stroke="#222222" stroke-width="0.6"/>
<path d="M407.8,485.1 L405.3,485.9 L401.7,486.8 L397.7,487.6 L394.1,488.5 L391.6,489.3" fill="none" stroke="#7e7e7e" stroke-width="1.33" stroke-linecap="round" opacity="0.7"/>
<path d="M408.8,493.3 L408.0,494.1 L405.5,494.9 L401.9,495.8 L397.9,496.6 L394.3,497.5 L391.8,498.3 L391.0,499.1 L391.1,505.1 L392.0,504.3 L394.4,503.5 L398.0,502.7 L402.0,501.8 L405.6,501.0 L408.1,500.1 L409.0,499.4Z" fill="#3a3a3a" stroke="#222222" stroke-width="0.6"/>
<path d="M408.0,495.9 L405.5,496.7 L401.9,497.6 L397.9,498.4 L394.4,499.3 L391.9,500.1" fill="none" stroke="#7e7e7e" stroke-width="1.33" stroke-linecap="round" opacity="0.7"/>
<path d="M409.1,504.1 L408.2,504.9 L405.7,505.7 L402.1,506.6 L398.1,507.4 L394.5,508.3 L392.1,509.1 L391.2,509.9 L391.3,515.9 L392.2,515.1 L394.7,514.3 L398.3,513.5 L402.2,512.6 L405.8,511.8 L408.3,510.9 L409.2,510.1Z" fill="#1e1ee6" stroke="#12128a" stroke-width="0.6"/>
<path d="M408.2,506.7 L405.7,507.5 L402.2,508.4 L398.2,509.2 L394.6,510.1 L392.1,510.9" fill="none" stroke="#6c6cee" stroke-width="1.33" stroke-linecap="round" opacity="0.7"/>
<path d="M409.3,514.9 L408.4,515.7 L405.9,516.5 L402.3,517.4 L398.4,518.2 L394.8,519.1 L392.3,519.9 L391.4,520.7 L391.5,526.7 L392.4,525.9 L394.9,525.1 L398.5,524.3 L402.5,523.4 L406.1,522.6 L408.5,521.7 L409.4,520.9Z" fill="#d8c0c0" stroke="#817373" stroke-width="0.6"/>
<path d="M408.5,517.5 L406.0,518.3 L402.4,519.2 L398.4,520.0 L394.8,520.9 L392.3,521.7" fill="none" stroke="#e5d6d6" stroke-width="1.33" stroke-linecap="round" opacity="0.7"/>
<path d="M409.5,525.7 L408.6,526.5 L406.2,527.3 L402.6,528.2 L398.6,529.0 L395.0,529.9 L392.5,530.7 L391.6,531.5 L391.8,537.5 L392.6,536.7 L395.1,535.9 L398.7,535.1 L402.7,534.2 L406.3,533.4 L408.8,532.5 L409.6,531.7Z" fill="#d8c0c0" stroke="#817373" stroke-width="0.6"/>
<path d="M408.7,528.3 L406.2,529.1 L402.6,530.0 L398.6,530.8 L395.0,531.7 L392.5,532.5" fill="none" stroke="#e5d6d6" stroke-width="1.33" stroke-linecap="round" opacity="0.7"/>
<path d="M409.7,536.5 L408.9,537.3 L406.4,538.1 L402.8,539.0 L398.8,539.8 L395.2,540.7 L392.7,541.5 L391.9,542.3 L392.0,548.3 L392.9,547.5 L395.3,546.7 L398.9,545.9 L402.9,545.0 L406.5,544.2 L409.0,543.3 L409.9,542.5Z" fill="#d8c0c0" stroke="#817373" stroke-width="0.6"/>
<path d="M408.9,539.1 L406.4,539.9 L402.8,540.8 L398.8,541.6 L395.3,542.5 L392.8,543.3" fill="none" stroke="#e5d6d6" stroke-width="1.33" stroke-linecap="round" opacity="0.7"/>
<path d="M408.3,450.3 L409.0,451.1 L411.2,451.9 L414.3,452.6 L417.8,453.3 L420.9,454.1 L423.0,454.8 L423.8,455.6 L423.8,459.8 L423.1,459.1 L420.9,458.3 L417.8,457.6 L414.3,456.8 L411.2,456.1 L409.1,455.3 L408.3,454.6Z" fill="#12128a" stroke="#0f0f73" stroke-width="0.4"/>
<path d="M408.4,461.1 L409.1,461.9 L411.3,462.7 L414.4,463.4 L417.9,464.1 L421.0,464.9 L423.1,465.6 L423.9,466.4 L423.9,470.6 L423.2,469.9 L421.0,469.1 L417.9,468.4 L414.4,467.6 L411.3,466.9 L409.2,466.1 L408.4,465.4Z" fill="#12128a" stroke="#0f0f73" stroke-width="0.4"/>
<path d="M408.5,471.9 L409.2,472.7 L411.4,473.5 L414.5,474.2 L417.9,474.9 L421.1,475.7 L423.2,476.4 L424.0,477.2 L424.0,481.4 L423.2,480.7 L421.1,479.9 L418.0,479.2 L414.5,478.4 L411.4,477.7 L409.3,476.9 L408.5,476.2Z" fill="#12128a" stroke="#0f0f73" stroke-width="0.4"/>
<path d="M408.5,482.7 L409.3,483.5 L411.5,484.3 L414.6,485.0 L418.0,485.7 L421.1,486.5 L423.3,487.2 L424.1,488.0 L424.1,492.2 L423.3,491.5 L421.2,490.7 L418.1,490.0 L414.6,489.2 L411.5,488.5 L409.4,487.7 L408.6,487.0Z" fill="#12128a" stroke="#0f0f73" stroke-width="0.4"/>
<path d="M408.6,493.5 L409.4,494.3 L411.6,495.1 L414.7,495.8 L418.1,496.5 L421.2,497.3 L423.4,498.0 L424.2,498.8 L424.2,503.0 L423.4,502.3 L421.3,501.5 L418.2,500.8 L414.7,500.0 L411.6,499.3 L409.4,498.5 L408.7,497.8Z" fill="#12128a" stroke="#0f0f73" stroke-width="0.4"/>
<path d="M408.7,504.3 L409.5,505.1 L411.7,505.9 L414.8,506.6 L418.2,507.3 L421.3,508.1 L423.5,508.8 L424.3,509.6 L424.3,513.8 L423.5,513.1 L421.4,512.3 L418.3,511.6 L414.8,510.8 L411.7,510.1 L409.5,509.3 L408.8,508.6Z" fill="#12128a" stroke="#0f0f73" stroke-width="0.4"/>
<path d="M408.8,515.1 L409.6,515.9 L411.7,516.7 L414.9,517.4 L418.3,518.1 L421.4,518.9 L423.6,519.6 L424.3,520.4 L424.4,524.6 L423.6,523.9 L421.5,523.1 L418.3,522.4 L414.9,521.6 L411.8,520.9 L409.6,520.1 L408.9,519.4Z" fill="#12128a" stroke="#0f0f73" stroke-width="0.4"/>
<path d="M408.9,525.9 L409.7,526.7 L411.8,527.5 L414.9,528.2 L418.4,528.9 L421.5,529.7 L423.7,530.4 L424.4,531.2 L424.5,535.4 L423.7,534.7 L421.5,533.9 L418.4,533.2 L415.0,532.4 L411.9,531.7 L409.7,530.9 L408.9,530.2Z" fill="#212121" stroke="#1c1c1c" stroke-width="0.4"/>
<path d="M409.0,536.7 L409.8,537.5 L411.9,538.3 L415.0,539.0 L418.5,539.7 L421.6,540.5 L423.8,541.2 L424.5,542.0 L424.6,546.2 L423.8,545.5 L421.6,544.7 L418.5,544.0 L415.1,543.2 L412.0,542.5 L409.8,541.7 L409.0,541.0Z" fill="#212121" stroke="#1c1c1c" stroke-width="0.4"/>
<path d="M409.1,547.5 L409.9,548.3 L412.0,549.1 L415.1,549.8 L418.6,550.5 L421.7,551.3 L423.8,552.0 L424.6,552.8 L424.7,557.0 L423.9,556.3 L421.7,555.5 L418.6,554.8 L415.2,554.0 L412.1,553.3 L409.9,552.5 L409.1,551.8Z" fill="#12128a" stroke="#0f0f73" stroke-width="0.4"/>
<path d="M409.2,558.3 L409.6,558.9 L410.7,559.4 L412.5,559.9 L414.7,560.5 L417.1,561.0 L419.5,561.5 L421.7,562.1 L421.7,566.3 L419.6,565.8 L417.2,565.2 L414.7,564.7 L412.5,564.2 L410.8,563.6 L409.6,563.1 L409.2,562.6Z" fill="#12128a" stroke="#0f0f73" stroke-width="0.4"/>
<path d="M407.0,449.1 L407.0,449.1 L407.0,449.1 L407.0,449.1 L407.0,449.1 L407.0,449.2 L407.0,449.2 L407.0,449.2 L407.1,455.2 L407.1,455.2 L407.1,455.2 L407.1,455.2 L407.1,455.2 L407.1,455.2 L407.1,455.1 L407.1,455.1Z" fill="#1e1ee6" stroke="#12128a" stroke-width="0.6"/>
<path d="M407.0,450.9 L407.0,450.9 L407.0,450.9 L407.0,451.0 L407.0,451.0 L407.0,451.0" fill="none" stroke="#6c6cee" stroke-width="1.33" stroke-linecap="round" opacity="0.7"/>
<path d="M425.0,454.4 L424.2,455.2 L421.7,456.0 L418.1,456.8 L414.1,457.6 L410.5,458.4 L408.0,459.2 L407.1,460.0 L407.1,466.0 L408.0,465.3 L410.5,464.5 L414.1,463.7 L418.1,462.9 L421.7,462.1 L424.2,461.3 L425.1,460.5Z" fill="#1e1ee6" stroke="#12128a" stroke-width="0.6"/>
<path d="M424.2,457.0 L421.7,457.8 L418.1,458.6 L414.1,459.4 L410.5,460.2 L408.0,461.0" fill="none" stroke="#6c6cee" stroke-width="1.33" stroke-linecap="round" opacity="0.7"/>
<path d="M425.1,465.2 L424.3,466.0 L421.8,466.8 L418.2,467.6 L414.2,468.4 L410.6,469.2 L408.1,470.0 L407.2,470.8 L407.2,476.8 L408.1,476.1 L410.6,475.3 L414.2,474.5 L418.2,473.7 L421.8,472.9 L424.3,472.1 L425.2,471.3Z" fill="#1e1ee6" stroke="#12128a" stroke-width="0.6"/>
<path d="M424.3,467.8 L421.8,468.6 L418.2,469.4 L414.2,470.2 L410.6,471.0 L408.1,471.8" fill="none" stroke="#6c6cee" stroke-width="1.33" stroke-linecap="round" opacity="0.7"/>
<path d="M425.2,476.0 L424.3,476.8 L421.9,477.6 L418.3,478.4 L414.3,479.2 L410.7,480.0 L408.2,480.8 L407.3,481.6 L407.3,487.6 L408.2,486.9 L410.7,486.1 L414.3,485.3 L418.3,484.5 L421.9,483.7 L424.4,482.9 L425.3,482.1Z" fill="#1e1ee6" stroke="#12128a" stroke-width="0.6"/>
<path d="M424.4,478.6 L421.9,479.4 L418.3,480.2 L414.3,481.0 L410.7,481.8 L408.2,482.6" fill="none" stroke="#6c6cee" stroke-width="1.33" stroke-linecap="round" opacity="0.7"/>
<path d="M425.3,486.8 L424.4,487.6 L421.9,488.4 L418.3,489.2 L414.3,490.0 L410.7,490.8 L408.3,491.6 L407.4,492.4 L407.4,498.4 L408.3,497.7 L410.8,496.9 L414.4,496.1 L418.4,495.3 L422.0,494.5 L424.5,493.7 L425.4,492.9Z" fill="#1e1ee6" stroke="#12128a" stroke-width="0.6"/>
<path d="M424.5,489.4 L422.0,490.2 L418.4,491.0 L414.4,491.8 L410.8,492.6 L408.3,493.4" fill="none" stroke="#6c6cee" stroke-width="1.33" stroke-linecap="round" opacity="0.7"/>
<path d="M425.4,497.6 L424.5,498.4 L422.0,499.2 L418.4,500.0 L414.4,500.8 L410.8,501.6 L408.3,502.4 L407.5,503.2 L407.5,509.2 L408.4,508.5 L410.9,507.7 L414.5,506.9 L418.5,506.1 L422.1,505.3 L424.6,504.5 L425.5,503.7Z" fill="#1e1ee6" stroke="#12128a" stroke-width="0.6"/>
<path d="M424.5,500.2 L422.1,501.0 L418.5,501.8 L414.5,502.6 L410.8,503.4 L408.4,504.2" fill="none" stroke="#6c6cee" stroke-width="1.33" stroke-linecap="round" opacity="0.7"/>
<path d="M425.5,508.4 L424.6,509.2 L422.1,510.0 L418.5,510.8 L414.5,511.6 L410.9,512.4 L408.4,513.2 L407.6,514.0 L407.6,520.0 L408.5,519.3 L411.0,518.5 L414.6,517.7 L418.6,516.9 L422.2,516.1 L424.7,515.3 L425.6,514.5Z" fill="#1e1ee6" stroke="#12128a" stroke-width="0.6"/>
<path d="M424.6,511.0 L422.1,511.8 L418.5,512.6 L414.5,513.4 L410.9,514.2 L408.5,515.0" fill="none" stroke="#6c6cee" stroke-width="1.33" stroke-linecap="round" opacity="0.7"/>
<path d="M425.6,519.2 L424.7,520.0 L422.2,520.8 L418.6,521.6 L414.6,522.4 L411.0,523.2 L408.5,524.0 L407.6,524.8 L407.7,530.8 L408.6,530.1 L411.1,529.3 L414.7,528.5 L418.7,527.7 L422.3,526.9 L424.8,526.1 L425.6,525.3Z" fill="#1e1ee6" stroke="#12128a" stroke-width="0.6"/>
<path d="M424.7,521.8 L422.2,522.6 L418.6,523.4 L414.6,524.2 L411.0,525.0 L408.5,525.8" fill="none" stroke="#6c6cee" stroke-width="1.33" stroke-linecap="round" opacity="0.7"/>
<path d="M425.7,530.0 L424.8,530.8 L422.3,531.6 L418.7,532.4 L414.7,533.2 L411.1,534.0 L408.6,534.8 L407.7,535.6 L407.8,541.6 L408.7,540.9 L411.2,540.1 L414.8,539.3 L418.8,538.5 L422.4,537.7 L424.9,536.9 L425.7,536.1Z" fill="#383838" stroke="#212121" stroke-width="0.6"/>
<path d="M424.8,532.6 L422.3,533.4 L418.7,534.2 L414.7,535.0 L411.1,535.8 L408.6,536.6" fill="none" stroke="#7d7d7d" stroke-width="1.33" stroke-linecap="round" opacity="0.7"/>
<path d="M425.8,540.8 L424.9,541.6 L422.4,542.4 L418.8,543.2 L414.8,544.0 L411.2,544.8 L408.7,545.6 L407.8,546.4 L407.9,552.4 L408.8,551.7 L411.3,550.9 L414.9,550.1 L418.9,549.3 L422.5,548.5 L424.9,547.7 L425.8,546.9Z" fill="#1e1ee6" stroke="#12128a" stroke-width="0.6"/>
<path d="M424.9,543.4 L422.4,544.2 L418.8,545.0 L414.8,545.8 L411.2,546.6 L408.7,547.4" fill="none" stroke="#6c6cee" stroke-width="1.33" stroke-linecap="round" opacity="0.7"/>
<path d="M425.9,551.6 L425.0,552.4 L422.5,553.2 L418.9,554.0 L414.9,554.8 L411.3,555.6 L408.8,556.4 L407.9,557.2 L408.0,563.2 L408.9,562.5 L411.3,561.7 L414.9,560.9 L418.9,560.1 L422.5,559.3 L425.0,558.5 L425.9,557.7Z" fill="#1e1ee6" stroke="#12128a" stroke-width="0.6"/>
<path d="M425.0,554.2 L422.5,555.0 L418.9,555.8 L414.9,556.6 L411.3,557.4 L408.8,558.2" fill="none" stroke="#6c6cee" stroke-width="1.33" stroke-linecap="round" opacity="0.7"/>
<path d="M416.6,521.5 L417.6,522.3 L420.2,522.9 L423.9,523.4 L428.0,523.8 L431.7,524.3 L434.3,524.9 L435.3,525.6 L435.8,530.5 L434.8,529.8 L432.2,529.2 L428.5,528.7 L424.5,528.3 L420.7,527.8 L418.2,527.2 L417.2,526.4Z" fill="#1c2686" stroke="#182070" stroke-width="0.4"/>
<path d="M418.1,534.0 L418.2,534.4 L418.7,534.7 L419.3,534.9 L420.2,535.2 L421.3,535.4 L422.5,535.6 L423.9,535.7 L424.5,540.6 L423.1,540.5 L421.9,540.3 L420.8,540.1 L419.9,539.8 L419.2,539.6 L418.8,539.3 L418.7,538.9Z" fill="#1c2686" stroke="#182070" stroke-width="0.4"/>
<path d="M425.0,516.0 L422.7,516.7 L420.6,517.4 L418.7,518.1 L417.1,518.8 L415.9,519.4 L415.2,519.9 L415.0,520.4 L415.8,527.4 L416.0,526.9 L416.7,526.4 L417.9,525.8 L419.5,525.1 L421.4,524.4 L423.6,523.7 L425.8,523.0Z" fill="#3040e0" stroke="#1c2686" stroke-width="0.6"/>
<path d="M423.0,518.8 L420.8,519.5 L418.9,520.2 L417.3,520.9 L416.1,521.5 L415.4,522.0" fill="none" stroke="#7882ea" stroke-width="1.55" stroke-linecap="round" opacity="0.7"/>
<path d="M436.6,524.1 L435.6,525.1 L432.8,526.4 L428.8,527.8 L424.2,529.2 L420.2,530.6 L417.4,531.9 L416.5,532.9 L417.3,539.9 L418.2,538.9 L421.0,537.6 L425.1,536.2 L429.6,534.8 L433.7,533.4 L436.5,532.2 L437.4,531.1Z" fill="#3040e0" stroke="#1c2686" stroke-width="0.6"/>
<path d="M435.9,527.3 L433.1,528.5 L429.0,529.9 L424.5,531.3 L420.4,532.7 L417.6,534.0" fill="none" stroke="#7882ea" stroke-width="1.55" stroke-linecap="round" opacity="0.7"/>
<path d="M400.0,549.0 Q396.0,555.0 394.0,559.0 Q392.0,563.0 393.0,566.0 L394.0,569.0" stroke="#d03030" stroke-width="1.5" fill="none" stroke-linecap="round" stroke-linejoin="round"/>
<ellipse cx="402.5" cy="569.5" rx="7.5" ry="6.0" fill="none" stroke="#7b4e4e" stroke-width="3.2"/>
<ellipse cx="402.5" cy="569.5" rx="7.5" ry="6.0" fill="none" stroke="#b07070" stroke-width="2"/>
<path d="M466.0,536.0 Q470.0,531.0 472.0,528.0 L474.0,525.0" stroke="#404040" stroke-width="1.5" fill="none" stroke-linecap="round" stroke-linejoin="round"/>
<path d="M467.9,524.9 L468.6,525.4 L470.5,525.9 L473.1,526.3 L476.0,526.6 L478.7,527.0 L480.5,527.4 L481.2,528.0 L481.6,531.5 L480.9,530.9 L479.1,530.5 L476.4,530.1 L473.5,529.8 L470.9,529.4 L469.0,529.0 L468.3,528.4Z" fill="#262626" stroke="#202020" stroke-width="0.4"/>
<path d="M468.9,533.8 L469.6,534.4 L471.4,534.8 L474.1,535.2 L477.0,535.5 L479.6,535.9 L481.5,536.4 L482.2,536.9 L482.6,540.4 L481.9,539.9 L480.0,539.4 L477.4,539.0 L474.5,538.7 L471.8,538.4 L470.0,537.9 L469.3,537.3Z" fill="#262626" stroke="#202020" stroke-width="0.4"/>
<path d="M469.8,542.8 L470.2,543.2 L471.0,543.5 L472.2,543.8 L473.8,544.0 L475.6,544.2 L477.5,544.4 L479.3,544.7 L479.6,548.2 L477.8,547.9 L476.0,547.7 L474.2,547.5 L472.6,547.3 L471.3,547.0 L470.5,546.7 L470.2,546.3Z" fill="#262626" stroke="#202020" stroke-width="0.4"/>
<path d="M474.0,521.0 L472.4,521.5 L470.8,522.0 L469.5,522.5 L468.3,522.9 L467.5,523.3 L466.9,523.7 L466.8,524.0 L467.3,529.0 L467.5,528.7 L468.0,528.3 L468.8,527.9 L470.0,527.5 L471.4,527.0 L472.9,526.5 L474.5,526.0Z" fill="#404040" stroke="#262626" stroke-width="0.6"/>
<path d="M472.5,523.0 L471.0,523.5 L469.6,524.0 L468.5,524.4 L467.6,524.8 L467.1,525.2" fill="none" stroke="#828282" stroke-width="1.11" stroke-linecap="round" opacity="0.7"/>
<path d="M482.2,526.9 L481.5,527.6 L479.5,528.5 L476.6,529.5 L473.3,530.4 L470.4,531.4 L468.4,532.3 L467.7,533.0 L468.3,538.0 L468.9,537.3 L470.9,536.4 L473.9,535.5 L477.1,534.5 L480.0,533.5 L482.0,532.6 L482.7,531.9Z" fill="#404040" stroke="#262626" stroke-width="0.6"/>
<path d="M481.7,529.1 L479.7,530.0 L476.7,531.0 L473.5,531.9 L470.6,532.9 L468.6,533.8" fill="none" stroke="#828282" stroke-width="1.11" stroke-linecap="round" opacity="0.7"/>
<path d="M483.1,535.9 L482.5,536.6 L480.5,537.4 L477.5,538.4 L474.3,539.4 L471.4,540.4 L469.4,541.2 L468.7,541.9 L469.2,546.9 L469.9,546.2 L471.9,545.4 L474.8,544.4 L478.1,543.4 L481.0,542.5 L483.0,541.6 L483.7,540.9Z" fill="#404040" stroke="#262626" stroke-width="0.6"/>
<path d="M482.6,538.1 L480.6,538.9 L477.7,539.9 L474.5,540.9 L471.5,541.9 L469.5,542.7" fill="none" stroke="#828282" stroke-width="1.11" stroke-linecap="round" opacity="0.7"/>
<path d="M450.9,535.0 L451.7,535.7 L453.7,536.3 L456.7,536.9 L460.0,537.5 L462.9,538.0 L465.0,538.6 L465.8,539.3 L466.0,543.3 L465.2,542.6 L463.2,542.0 L460.2,541.4 L456.9,540.9 L453.9,540.3 L451.9,539.7 L451.1,539.0Z" fill="#864343" stroke="#703838" stroke-width="0.4"/>
<path d="M451.4,545.2 L452.2,545.9 L454.3,546.5 L457.2,547.1 L460.5,547.6 L463.5,548.2 L465.6,548.8 L466.3,549.5 L466.5,553.5 L465.8,552.8 L463.7,552.2 L460.7,551.6 L457.5,551.1 L454.5,550.5 L452.4,549.9 L451.7,549.2Z" fill="#864343" stroke="#703838" stroke-width="0.4"/>
<path d="M452.0,555.4 L452.8,556.1 L454.8,556.7 L457.8,557.3 L461.1,557.8 L464.0,558.4 L466.1,559.0 L466.9,559.7 L467.1,563.7 L466.3,563.0 L464.3,562.4 L461.3,561.8 L458.0,561.3 L455.0,560.7 L453.0,560.1 L452.2,559.4Z" fill="#864343" stroke="#703838" stroke-width="0.4"/>
<path d="M458.0,531.0 L456.1,531.5 L454.4,531.9 L452.8,532.4 L451.4,532.8 L450.5,533.2 L449.8,533.6 L449.7,534.0 L450.0,539.7 L450.2,539.3 L450.8,538.9 L451.8,538.5 L453.1,538.1 L454.7,537.6 L456.4,537.2 L458.3,536.7Z" fill="#e07070" stroke="#864343" stroke-width="0.6"/>
<path d="M456.2,533.2 L454.4,533.6 L452.9,534.1 L451.5,534.5 L450.5,534.9 L449.9,535.3" fill="none" stroke="#eaa2a2" stroke-width="1.26" stroke-linecap="round" opacity="0.7"/>
<path d="M466.9,538.2 L466.1,539.0 L463.8,539.8 L460.4,540.7 L456.7,541.7 L453.3,542.6 L451.0,543.4 L450.2,544.2 L450.5,549.9 L451.3,549.1 L453.6,548.3 L457.0,547.4 L460.7,546.4 L464.1,545.5 L466.4,544.7 L467.2,543.9Z" fill="#e07070" stroke="#864343" stroke-width="0.6"/>
<path d="M466.2,540.7 L463.9,541.5 L460.5,542.4 L456.8,543.4 L453.4,544.3 L451.1,545.1" fill="none" stroke="#eaa2a2" stroke-width="1.26" stroke-linecap="round" opacity="0.7"/>
<path d="M467.5,548.4 L466.6,549.1 L464.3,550.0 L461.0,550.9 L457.2,551.8 L453.9,552.7 L451.6,553.6 L450.8,554.4 L451.1,560.1 L451.9,559.3 L454.2,558.5 L457.5,557.5 L461.3,556.6 L464.6,555.7 L467.0,554.8 L467.8,554.1Z" fill="#e07070" stroke="#864343" stroke-width="0.6"/>
<path d="M466.7,550.8 L464.4,551.7 L461.1,552.6 L457.3,553.5 L454.0,554.5 L451.6,555.3" fill="none" stroke="#eaa2a2" stroke-width="1.26" stroke-linecap="round" opacity="0.7"/>
<path d="M468.0,558.6 L467.7,559.0 L466.7,559.6 L465.1,560.1 L463.0,560.7 L460.7,561.3 L458.3,561.9 L455.9,562.5 L456.3,568.2 L458.6,567.6 L461.0,567.0 L463.3,566.4 L465.4,565.8 L467.0,565.3 L468.0,564.7 L468.3,564.3Z" fill="#e07070" stroke="#864343" stroke-width="0.6"/>
<path d="M467.8,560.8 L466.8,561.3 L465.2,561.8 L463.1,562.4 L460.8,563.0 L458.3,563.6" fill="none" stroke="#eaa2a2" stroke-width="1.26" stroke-linecap="round" opacity="0.7"/>
<path d="M421.8,543.1 L422.8,543.6 L425.1,543.6 L428.3,543.4 L431.8,543.1 L435.0,542.8 L437.3,542.9 L438.2,543.4 L439.5,547.4 L438.6,546.9 L436.3,546.9 L433.1,547.1 L429.6,547.4 L426.4,547.6 L424.1,547.6 L423.1,547.1Z" fill="#8b1010" stroke="#740e0e" stroke-width="0.4"/>
<path d="M425.2,553.3 L426.1,553.8 L428.4,553.9 L431.6,553.7 L435.1,553.3 L438.3,553.1 L440.6,553.2 L441.6,553.7 L442.9,557.7 L441.9,557.2 L439.6,557.1 L436.4,557.4 L432.9,557.7 L429.7,557.9 L427.5,557.8 L426.5,557.4Z" fill="#8b1010" stroke="#740e0e" stroke-width="0.4"/>
<path d="M428.5,563.6 L429.5,564.1 L431.8,564.2 L435.0,563.9 L438.5,563.6 L441.7,563.4 L443.9,563.4 L444.9,563.9 L446.2,568.0 L445.3,567.5 L443.0,567.4 L439.8,567.6 L436.3,568.0 L433.1,568.2 L430.8,568.1 L429.8,567.6Z" fill="#8b1010" stroke="#740e0e" stroke-width="0.4"/>
<path d="M431.9,573.9 L432.5,574.3 L433.8,574.4 L435.9,574.4 L438.4,574.2 L441.0,573.9 L443.6,573.7 L445.8,573.6 L447.1,577.6 L444.9,577.7 L442.3,578.0 L439.7,578.2 L437.2,578.4 L435.2,578.5 L433.8,578.3 L433.2,577.9Z" fill="#8b1010" stroke="#740e0e" stroke-width="0.4"/>
<path d="M428.0,537.0 L426.2,538.0 L424.5,538.9 L423.0,539.8 L421.8,540.6 L420.9,541.3 L420.4,541.9 L420.3,542.4 L422.2,548.1 L422.2,547.7 L422.8,547.1 L423.7,546.4 L424.9,545.6 L426.4,544.7 L428.1,543.7 L429.9,542.8Z" fill="#e81c1c" stroke="#8b1010" stroke-width="0.6"/>
<path d="M426.8,539.7 L425.1,540.7 L423.6,541.6 L422.3,542.4 L421.4,543.1 L420.9,543.6" fill="none" stroke="#f06b6b" stroke-width="1.33" stroke-linecap="round" opacity="0.7"/>
<path d="M439.1,541.9 L438.5,542.9 L436.3,544.4 L433.1,546.3 L429.6,548.3 L426.4,550.1 L424.2,551.6 L423.6,552.6 L425.5,558.4 L426.1,557.4 L428.2,555.9 L431.4,554.0 L435.0,552.0 L438.2,550.2 L440.3,548.7 L440.9,547.7Z" fill="#e81c1c" stroke="#8b1010" stroke-width="0.6"/>
<path d="M439.0,544.7 L436.9,546.2 L433.7,548.0 L430.1,550.0 L426.9,551.8 L424.8,553.3" fill="none" stroke="#f06b6b" stroke-width="1.33" stroke-linecap="round" opacity="0.7"/>
<path d="M442.4,552.2 L441.8,553.2 L439.7,554.7 L436.5,556.6 L432.9,558.5 L429.7,560.4 L427.6,561.9 L427.0,562.9 L428.8,568.6 L429.4,567.6 L431.6,566.1 L434.8,564.3 L438.3,562.3 L441.5,560.5 L443.7,558.9 L444.3,557.9Z" fill="#e81c1c" stroke="#8b1010" stroke-width="0.6"/>
<path d="M442.4,554.9 L440.2,556.4 L437.0,558.3 L433.5,560.3 L430.3,562.1 L428.1,563.6" fill="none" stroke="#f06b6b" stroke-width="1.33" stroke-linecap="round" opacity="0.7"/>
<path d="M445.8,562.5 L445.1,563.5 L443.0,565.0 L439.8,566.8 L436.2,568.8 L433.1,570.6 L430.9,572.2 L430.3,573.2 L432.2,578.9 L432.8,577.9 L434.9,576.4 L438.1,574.5 L441.7,572.6 L444.9,570.7 L447.0,569.2 L447.6,568.2Z" fill="#e81c1c" stroke="#8b1010" stroke-width="0.6"/>
<path d="M445.7,565.2 L443.6,566.7 L440.4,568.5 L436.8,570.5 L433.6,572.4 L431.5,573.9" fill="none" stroke="#f06b6b" stroke-width="1.33" stroke-linecap="round" opacity="0.7"/>
<path d="M551.0,418.0 Q549.0,405.0 551.0,401.5 Q553.0,398.0 557.0,397.5 Q561.0,397.0 562.0,399.5 Q563.0,402.0 562.0,406.0 Q561.0,410.0 563.5,414.0 Q566.0,418.0 569.5,419.0 L573.0,420.0" stroke="#404040" stroke-width="1.4" fill="none" stroke-linecap="round" stroke-linejoin="round"/>
<path d="M577.0,407.0 Q580.0,399.0 582.5,397.5 L585.0,396.0" stroke="#e06060" stroke-width="1.4" fill="none" stroke-linecap="round" stroke-linejoin="round"/>
<path d="M569.6,409.1 L570.1,409.3 L571.4,409.0 L573.1,408.4 L574.9,407.7 L576.6,407.1 L577.8,406.8 L578.4,407.0 L579.7,409.0 L579.1,408.8 L577.9,409.1 L576.2,409.7 L574.3,410.4 L572.7,410.9 L571.4,411.2 L570.8,411.1Z" fill="#8b4c4c" stroke="#744040" stroke-width="0.4"/>
<path d="M572.8,414.2 L573.4,414.3 L574.6,414.0 L576.3,413.4 L578.2,412.8 L579.8,412.2 L581.1,411.9 L581.7,412.0 L582.9,414.0 L582.3,413.9 L581.1,414.2 L579.4,414.7 L577.6,415.4 L575.9,416.0 L574.7,416.3 L574.1,416.1Z" fill="#8b4c4c" stroke="#744040" stroke-width="0.4"/>
<path d="M576.1,419.2 L576.7,419.3 L577.9,419.0 L579.6,418.5 L581.4,417.8 L583.1,417.2 L584.3,416.9 L584.9,417.1 L586.2,419.0 L585.6,418.9 L584.4,419.2 L582.7,419.8 L580.9,420.4 L579.2,421.0 L577.9,421.3 L577.3,421.2Z" fill="#8b4c4c" stroke="#744040" stroke-width="0.4"/>
<path d="M572.0,405.0 L571.2,405.8 L570.4,406.5 L569.7,407.2 L569.2,407.8 L568.8,408.3 L568.6,408.7 L568.6,409.0 L570.4,411.8 L570.4,411.5 L570.6,411.2 L571.0,410.7 L571.6,410.1 L572.2,409.4 L573.0,408.6 L573.8,407.8Z" fill="#e88080" stroke="#8b4c4c" stroke-width="0.6"/>
<path d="M571.7,406.6 L571.0,407.4 L570.3,408.1 L569.7,408.7 L569.3,409.2 L569.2,409.6" fill="none" stroke="#f0acac" stroke-width="0.74" stroke-linecap="round" opacity="0.7"/>
<path d="M578.6,406.1 L578.5,406.7 L577.5,407.8 L576.1,409.3 L574.4,410.8 L573.0,412.3 L572.1,413.4 L571.9,414.0 L573.7,416.8 L573.9,416.2 L574.8,415.1 L576.3,413.6 L577.9,412.1 L579.4,410.6 L580.3,409.5 L580.5,408.9Z" fill="#e88080" stroke="#8b4c4c" stroke-width="0.6"/>
<path d="M579.0,407.5 L578.1,408.7 L576.6,410.1 L575.0,411.7 L573.5,413.1 L572.6,414.2" fill="none" stroke="#f0acac" stroke-width="0.74" stroke-linecap="round" opacity="0.7"/>
<path d="M581.9,411.1 L581.7,411.7 L580.8,412.8 L579.3,414.3 L577.7,415.9 L576.3,417.3 L575.3,418.4 L575.1,419.1 L577.0,421.9 L577.1,421.2 L578.1,420.1 L579.5,418.7 L581.2,417.1 L582.6,415.7 L583.5,414.5 L583.7,413.9Z" fill="#e88080" stroke="#8b4c4c" stroke-width="0.6"/>
<path d="M582.3,412.6 L581.3,413.7 L579.9,415.1 L578.2,416.7 L576.8,418.2 L575.9,419.3" fill="none" stroke="#f0acac" stroke-width="0.74" stroke-linecap="round" opacity="0.7"/>
<path d="M585.2,416.1 L585.2,416.2 L585.2,416.2 L585.2,416.3 L585.2,416.4 L585.1,416.5 L585.1,416.6 L585.0,416.7 L586.9,419.5 L586.9,419.4 L587.0,419.3 L587.0,419.2 L587.0,419.1 L587.0,419.1 L587.0,419.0 L587.0,419.0Z" fill="#e88080" stroke="#8b4c4c" stroke-width="0.6"/>
<path d="M585.7,417.0 L585.7,417.1 L585.7,417.2 L585.7,417.2 L585.7,417.3 L585.6,417.4" fill="none" stroke="#f0acac" stroke-width="0.74" stroke-linecap="round" opacity="0.7"/>
<path d="M554,421 L560,423 L550,453 L544,452 Z" fill="#c8d0f0" stroke="#aab0cc" stroke-width="0.6"/>
<path d="M548.0,449.0 Q550.0,433.0 551.0,429.0 Q552.0,425.0 555.0,422.5 Q558.0,420.0 561.5,421.5 Q565.0,423.0 567.5,425.5 Q570.0,428.0 572.5,432.0 Q575.0,436.0 577.5,438.0 L580.0,440.0" stroke="#2a3ae0" stroke-width="1.5" fill="none" stroke-linecap="round" stroke-linejoin="round"/>
<path d="M590.0,432.0 Q597.0,429.0 601.0,430.0 Q605.0,431.0 609.0,433.5 Q613.0,436.0 617.0,439.0 L621.0,442.0" stroke="#d06060" stroke-width="1.5" fill="none" stroke-linecap="round" stroke-linejoin="round"/>
<path d="M579.0,423.0 A6.0,6.0 0 1 1 576.9,434.6" stroke="#222222" stroke-width="5.5" fill="none" stroke-linecap="butt"/>
<path d="M517.4,447.0 L518.1,447.0 L519.6,446.2 L521.5,444.9 L523.6,443.4 L525.5,442.1 L526.9,441.3 L527.7,441.3 L530.0,443.3 L529.2,443.3 L527.8,444.1 L525.9,445.4 L523.8,446.9 L521.9,448.2 L520.4,449.0 L519.6,449.1Z" fill="#787c90" stroke="#646878" stroke-width="0.4"/>
<path d="M523.2,452.2 L524.0,452.2 L525.4,451.4 L527.3,450.1 L529.4,448.6 L531.3,447.3 L532.8,446.5 L533.5,446.4 L535.8,448.5 L535.0,448.5 L533.6,449.3 L531.7,450.6 L529.6,452.1 L527.7,453.4 L526.3,454.2 L525.5,454.2Z" fill="#787c90" stroke="#646878" stroke-width="0.4"/>
<path d="M529.0,457.4 L529.4,457.5 L529.9,457.3 L530.7,456.9 L531.6,456.3 L532.7,455.6 L533.8,454.8 L535.0,453.9 L537.3,456.0 L536.1,456.8 L535.0,457.6 L533.9,458.3 L533.0,458.9 L532.2,459.3 L531.7,459.5 L531.3,459.4Z" fill="#787c90" stroke="#646878" stroke-width="0.4"/>
<path d="M519.0,441.0 L518.2,442.3 L517.5,443.5 L516.9,444.6 L516.5,445.5 L516.2,446.3 L516.0,446.8 L516.1,447.2 L519.4,450.1 L519.3,449.7 L519.4,449.2 L519.7,448.4 L520.2,447.5 L520.8,446.4 L521.5,445.2 L522.3,443.9Z" fill="#c8d0f0" stroke="#787c90" stroke-width="0.6"/>
<path d="M519.2,443.1 L518.5,444.3 L517.9,445.5 L517.4,446.4 L517.1,447.2 L517.0,447.7" fill="none" stroke="#dbe0f5" stroke-width="0.96" stroke-linecap="round" opacity="0.7"/>
<path d="M527.7,440.0 L527.7,440.9 L526.9,442.6 L525.6,444.9 L524.1,447.4 L522.8,449.8 L522.0,451.5 L522.0,452.3 L525.2,455.2 L525.2,454.4 L526.0,452.7 L527.3,450.4 L528.8,447.8 L530.2,445.5 L530.9,443.8 L531.0,442.9Z" fill="#c8d0f0" stroke="#787c90" stroke-width="0.6"/>
<path d="M528.7,441.8 L527.9,443.5 L526.6,445.8 L525.1,448.3 L523.7,450.6 L523.0,452.4" fill="none" stroke="#dbe0f5" stroke-width="0.96" stroke-linecap="round" opacity="0.7"/>
<path d="M533.5,445.2 L533.5,446.1 L532.7,447.8 L531.4,450.1 L529.9,452.6 L528.6,454.9 L527.8,456.7 L527.8,457.5 L531.1,460.4 L531.1,459.6 L531.9,457.9 L533.2,455.5 L534.7,453.0 L536.0,450.7 L536.8,449.0 L536.8,448.1Z" fill="#c8d0f0" stroke="#787c90" stroke-width="0.6"/>
<path d="M534.5,446.9 L533.7,448.7 L532.4,451.0 L530.9,453.5 L529.6,455.8 L528.8,457.5" fill="none" stroke="#dbe0f5" stroke-width="0.96" stroke-linecap="round" opacity="0.7"/>
<path d="M576.3,435.1 L577.0,435.9 L579.2,436.7 L582.3,437.4 L585.7,438.2 L588.8,439.0 L591.0,439.8 L591.7,440.5 L591.7,444.8 L591.0,444.0 L588.8,443.2 L585.7,442.4 L582.3,441.7 L579.2,440.9 L577.0,440.1 L576.3,439.4Z" fill="#787878" stroke="#646464" stroke-width="0.4"/>
<path d="M576.3,445.9 L577.0,446.7 L579.2,447.5 L582.3,448.2 L585.7,449.0 L588.8,449.8 L591.0,450.6 L591.7,451.3 L591.7,455.6 L591.0,454.8 L588.8,454.0 L585.7,453.2 L582.3,452.5 L579.2,451.7 L577.0,450.9 L576.3,450.2Z" fill="#787878" stroke="#646464" stroke-width="0.4"/>
<path d="M576.3,456.7 L577.0,457.5 L579.2,458.3 L582.3,459.0 L585.7,459.8 L588.8,460.6 L591.0,461.4 L591.7,462.1 L591.7,466.4 L591.0,465.6 L588.8,464.8 L585.7,464.0 L582.3,463.3 L579.2,462.5 L577.0,461.7 L576.3,461.0Z" fill="#12128a" stroke="#0f0f73" stroke-width="0.4"/>
<path d="M576.3,467.5 L576.8,468.2 L578.4,468.8 L580.8,469.5 L583.6,470.1 L586.5,470.8 L589.0,471.4 L590.9,472.1 L590.9,476.3 L589.0,475.7 L586.5,475.0 L583.6,474.4 L580.8,473.7 L578.4,473.1 L576.8,472.4 L576.3,471.8Z" fill="#12128a" stroke="#0f0f73" stroke-width="0.4"/>
<path d="M576.4,433.0 L576.1,433.1 L575.7,433.3 L575.5,433.4 L575.3,433.6 L575.1,433.7 L575.0,433.8 L575.0,434.0 L575.0,440.0 L575.0,439.9 L575.1,439.7 L575.3,439.6 L575.5,439.5 L575.7,439.3 L576.1,439.2 L576.4,439.0Z" fill="#c8c8c8" stroke="#787878" stroke-width="0.6"/>
<path d="M576.1,435.0 L575.7,435.1 L575.5,435.2 L575.3,435.4 L575.1,435.5 L575.0,435.7" fill="none" stroke="#dbdbdb" stroke-width="1.33" stroke-linecap="round" opacity="0.7"/>
<path d="M593.0,439.4 L592.1,440.2 L589.6,440.9 L586.0,441.7 L582.0,442.5 L578.4,443.2 L575.9,444.0 L575.0,444.8 L575.0,450.8 L575.9,450.1 L578.4,449.3 L582.0,448.5 L586.0,447.7 L589.6,447.0 L592.1,446.2 L593.0,445.4Z" fill="#c8c8c8" stroke="#787878" stroke-width="0.6"/>
<path d="M592.1,442.0 L589.6,442.7 L586.0,443.5 L582.0,444.3 L578.4,445.1 L575.9,445.8" fill="none" stroke="#dbdbdb" stroke-width="1.33" stroke-linecap="round" opacity="0.7"/>
<path d="M593.0,450.2 L592.1,451.0 L589.6,451.7 L586.0,452.5 L582.0,453.3 L578.4,454.0 L575.9,454.8 L575.0,455.6 L575.0,461.6 L575.9,460.9 L578.4,460.1 L582.0,459.3 L586.0,458.5 L589.6,457.8 L592.1,457.0 L593.0,456.2Z" fill="#1e1ee6" stroke="#12128a" stroke-width="0.6"/>
<path d="M592.1,452.8 L589.6,453.5 L586.0,454.3 L582.0,455.1 L578.4,455.9 L575.9,456.6" fill="none" stroke="#6c6cee" stroke-width="1.33" stroke-linecap="round" opacity="0.7"/>
<path d="M593.0,461.0 L592.1,461.8 L589.6,462.5 L586.0,463.3 L582.0,464.1 L578.4,464.8 L575.9,465.6 L575.0,466.4 L575.0,472.4 L575.9,471.7 L578.4,470.9 L582.0,470.1 L586.0,469.3 L589.6,468.6 L592.1,467.8 L593.0,467.0Z" fill="#1e1ee6" stroke="#12128a" stroke-width="0.6"/>
<path d="M592.1,463.6 L589.6,464.3 L586.0,465.1 L582.0,465.9 L578.4,466.7 L575.9,467.4" fill="none" stroke="#6c6cee" stroke-width="1.33" stroke-linecap="round" opacity="0.7"/>
<path d="M574.7,472.1 L576.7,472.7 L579.2,473.4 L582.0,474.0 L584.6,474.7 L586.8,475.3 L588.2,476.0 L588.7,476.6 L588.6,480.8 L588.1,480.2 L586.7,479.5 L584.6,478.9 L581.9,478.2 L579.2,477.6 L576.7,476.9 L574.7,476.3Z" fill="#12128a" stroke="#0f0f73" stroke-width="0.4"/>
<path d="M573.1,481.8 L573.9,482.5 L576.0,483.3 L579.1,484.2 L582.5,485.0 L585.6,485.8 L587.8,486.6 L588.5,487.4 L588.5,491.6 L587.7,490.8 L585.6,490.0 L582.5,489.2 L579.0,488.4 L575.9,487.6 L573.8,486.8 L573.1,486.0Z" fill="#12128a" stroke="#0f0f73" stroke-width="0.4"/>
<path d="M573.0,492.6 L573.7,493.3 L575.9,494.1 L578.9,495.0 L582.4,495.8 L585.5,496.6 L587.6,497.4 L588.4,498.2 L588.3,502.4 L587.5,501.6 L585.4,500.8 L582.3,500.0 L578.9,499.2 L575.8,498.4 L573.7,497.6 L572.9,496.8Z" fill="#12128a" stroke="#0f0f73" stroke-width="0.4"/>
<path d="M572.8,503.4 L573.6,504.1 L575.7,504.9 L578.8,505.8 L582.2,506.6 L585.3,507.4 L587.5,508.2 L588.2,509.0 L588.2,513.2 L587.4,512.4 L585.3,511.6 L582.2,510.8 L578.7,510.0 L575.6,509.2 L573.5,508.4 L572.8,507.6Z" fill="#12128a" stroke="#0f0f73" stroke-width="0.4"/>
<path d="M572.7,514.2 L573.4,514.9 L575.6,515.7 L578.6,516.6 L582.1,517.4 L585.2,518.2 L587.3,519.0 L588.1,519.8 L588.0,524.0 L587.2,523.2 L585.1,522.4 L582.0,521.6 L578.6,520.8 L575.5,520.0 L573.4,519.2 L572.6,518.4Z" fill="#12128a" stroke="#0f0f73" stroke-width="0.4"/>
<path d="M572.5,525.0 L573.3,525.7 L575.4,526.5 L578.5,527.4 L581.9,528.2 L585.0,529.0 L587.2,529.8 L587.9,530.6 L587.9,534.8 L587.1,534.0 L585.0,533.2 L581.9,532.4 L578.4,531.6 L575.3,530.8 L573.2,530.0 L572.5,529.2Z" fill="#12128a" stroke="#0f0f73" stroke-width="0.4"/>
<path d="M572.4,535.8 L572.5,536.1 L572.9,536.4 L573.5,536.7 L574.4,537.1 L575.5,537.4 L576.7,537.7 L578.0,538.1 L578.0,542.3 L576.6,542.0 L575.4,541.6 L574.3,541.3 L573.5,541.0 L572.8,540.6 L572.4,540.3 L572.3,540.0Z" fill="#12128a" stroke="#0f0f73" stroke-width="0.4"/>
<path d="M589.9,475.4 L589.0,476.2 L586.5,476.9 L582.9,477.7 L578.9,478.4 L575.3,479.1 L572.8,479.8 L571.9,480.6 L571.8,486.6 L572.7,485.9 L575.2,485.1 L578.8,484.4 L582.8,483.7 L586.4,483.0 L589.0,482.2 L589.9,481.5Z" fill="#1e1ee6" stroke="#12128a" stroke-width="0.6"/>
<path d="M589.0,478.0 L586.5,478.8 L582.9,479.5 L578.9,480.2 L575.3,480.9 L572.7,481.6" fill="none" stroke="#6c6cee" stroke-width="1.33" stroke-linecap="round" opacity="0.7"/>
<path d="M589.8,486.2 L588.9,487.0 L586.4,487.7 L582.8,488.5 L578.7,489.2 L575.1,489.9 L572.6,490.6 L571.7,491.4 L571.6,497.4 L572.5,496.7 L575.0,495.9 L578.7,495.2 L582.7,494.5 L586.3,493.8 L588.8,493.0 L589.7,492.3Z" fill="#1e1ee6" stroke="#12128a" stroke-width="0.6"/>
<path d="M588.9,488.8 L586.4,489.6 L582.7,490.3 L578.7,491.0 L575.1,491.7 L572.6,492.4" fill="none" stroke="#6c6cee" stroke-width="1.33" stroke-linecap="round" opacity="0.7"/>
<path d="M589.6,497.0 L588.7,497.8 L586.2,498.5 L582.6,499.3 L578.6,500.0 L575.0,500.7 L572.5,501.4 L571.6,502.2 L571.5,508.2 L572.4,507.5 L574.9,506.7 L578.5,506.0 L582.5,505.3 L586.1,504.6 L588.7,503.8 L589.6,503.1Z" fill="#1e1ee6" stroke="#12128a" stroke-width="0.6"/>
<path d="M588.7,499.6 L586.2,500.4 L582.6,501.1 L578.6,501.8 L575.0,502.5 L572.4,503.2" fill="none" stroke="#6c6cee" stroke-width="1.33" stroke-linecap="round" opacity="0.7"/>
<path d="M589.5,507.8 L588.6,508.6 L586.1,509.3 L582.5,510.1 L578.4,510.8 L574.8,511.5 L572.3,512.2 L571.4,513.0 L571.3,519.0 L572.2,518.3 L574.7,517.5 L578.4,516.8 L582.4,516.1 L586.0,515.4 L588.5,514.6 L589.4,513.9Z" fill="#1e1ee6" stroke="#12128a" stroke-width="0.6"/>
<path d="M588.6,510.4 L586.1,511.1 L582.4,511.9 L578.4,512.6 L574.8,513.3 L572.3,514.0" fill="none" stroke="#6c6cee" stroke-width="1.33" stroke-linecap="round" opacity="0.7"/>
<path d="M589.3,518.6 L588.4,519.4 L585.9,520.1 L582.3,520.9 L578.3,521.6 L574.7,522.3 L572.2,523.0 L571.3,523.8 L571.2,529.8 L572.1,529.1 L574.6,528.3 L578.2,527.6 L582.2,526.9 L585.8,526.2 L588.4,525.4 L589.3,524.7Z" fill="#1e1ee6" stroke="#12128a" stroke-width="0.6"/>
<path d="M588.4,521.2 L585.9,521.9 L582.3,522.7 L578.3,523.4 L574.7,524.1 L572.1,524.8" fill="none" stroke="#6c6cee" stroke-width="1.33" stroke-linecap="round" opacity="0.7"/>
<path d="M589.2,529.4 L588.3,530.2 L585.8,530.9 L582.2,531.7 L578.1,532.4 L574.5,533.1 L572.0,533.8 L571.1,534.6 L571.0,540.6 L571.9,539.9 L574.4,539.1 L578.1,538.4 L582.1,537.7 L585.7,537.0 L588.2,536.2 L589.1,535.5Z" fill="#1e1ee6" stroke="#12128a" stroke-width="0.6"/>
<path d="M588.3,532.0 L585.8,532.7 L582.1,533.5 L578.1,534.2 L574.5,534.9 L572.0,535.6" fill="none" stroke="#6c6cee" stroke-width="1.33" stroke-linecap="round" opacity="0.7"/>
<path d="M605.4,442.7 L606.0,443.6 L607.9,444.6 L610.7,445.7 L613.8,446.9 L616.6,448.1 L618.5,449.1 L619.1,449.9 L618.5,453.9 L617.9,453.0 L616.0,452.0 L613.2,450.9 L610.1,449.7 L607.3,448.5 L605.4,447.5 L604.8,446.7Z" fill="#862626" stroke="#702020" stroke-width="0.4"/>
<path d="M603.9,452.8 L604.5,453.6 L606.4,454.7 L609.2,455.8 L612.3,457.0 L615.1,458.2 L617.0,459.2 L617.6,460.0 L617.0,464.0 L616.4,463.1 L614.5,462.1 L611.7,461.0 L608.6,459.8 L605.8,458.6 L603.9,457.6 L603.3,456.8Z" fill="#862626" stroke="#702020" stroke-width="0.4"/>
<path d="M602.4,462.9 L603.0,463.7 L604.9,464.8 L607.7,465.9 L610.8,467.1 L613.6,468.2 L615.5,469.3 L616.1,470.1 L615.5,474.0 L614.9,473.2 L613.0,472.2 L610.2,471.1 L607.1,469.9 L604.3,468.7 L602.4,467.7 L601.8,466.9Z" fill="#12128a" stroke="#0f0f73" stroke-width="0.4"/>
<path d="M600.9,473.0 L601.5,473.8 L603.4,474.8 L606.2,476.0 L609.3,477.2 L612.1,478.3 L614.0,479.4 L614.6,480.2 L614.0,484.1 L613.4,483.3 L611.5,482.3 L608.7,481.1 L605.6,479.9 L602.8,478.8 L600.9,477.8 L600.3,477.0Z" fill="#12128a" stroke="#0f0f73" stroke-width="0.4"/>
<path d="M599.4,483.1 L600.0,483.9 L601.9,484.9 L604.7,486.1 L607.8,487.3 L610.6,488.4 L612.5,489.4 L613.1,490.3 L612.5,494.2 L611.9,493.4 L610.0,492.4 L607.2,491.2 L604.1,490.0 L601.3,488.9 L599.4,487.9 L598.8,487.0Z" fill="#12128a" stroke="#0f0f73" stroke-width="0.4"/>
<path d="M597.9,493.2 L598.5,494.0 L600.4,495.0 L603.2,496.2 L606.3,497.4 L609.1,498.5 L611.0,499.5 L611.6,500.4 L611.1,504.3 L610.4,503.5 L608.5,502.5 L605.8,501.3 L602.6,500.1 L599.8,499.0 L597.9,498.0 L597.3,497.1Z" fill="#12128a" stroke="#0f0f73" stroke-width="0.4"/>
<path d="M596.4,503.3 L597.0,504.1 L598.9,505.1 L601.7,506.3 L604.9,507.5 L607.6,508.6 L609.5,509.6 L610.2,510.5 L609.6,514.4 L609.0,513.6 L607.1,512.6 L604.3,511.4 L601.2,510.2 L598.4,509.1 L596.5,508.1 L595.9,507.2Z" fill="#12128a" stroke="#0f0f73" stroke-width="0.4"/>
<path d="M594.9,513.4 L595.6,514.2 L597.5,515.2 L600.3,516.4 L603.4,517.6 L606.2,518.7 L608.1,519.7 L608.7,520.5 L608.1,524.5 L607.5,523.7 L605.6,522.7 L602.8,521.5 L599.7,520.3 L596.9,519.2 L595.0,518.1 L594.4,517.3Z" fill="#12128a" stroke="#0f0f73" stroke-width="0.4"/>
<path d="M593.5,523.5 L594.1,524.3 L596.0,525.3 L598.8,526.4 L601.9,527.6 L604.7,528.8 L606.6,529.8 L607.2,530.6 L606.6,534.6 L606.0,533.8 L604.1,532.7 L601.3,531.6 L598.2,530.4 L595.4,529.3 L593.5,528.2 L592.9,527.4Z" fill="#12128a" stroke="#0f0f73" stroke-width="0.4"/>
<path d="M609.0,440.4 L607.9,440.5 L606.9,440.6 L606.0,440.7 L605.3,440.9 L604.8,441.0 L604.5,441.2 L604.3,441.5 L603.5,447.1 L603.6,446.9 L604.0,446.7 L604.5,446.5 L605.2,446.4 L606.0,446.2 L607.0,446.1 L608.1,446.1Z" fill="#e04040" stroke="#862626" stroke-width="0.6"/>
<path d="M607.6,442.2 L606.6,442.3 L605.8,442.4 L605.1,442.6 L604.6,442.7 L604.2,442.9" fill="none" stroke="#ea8282" stroke-width="1.26" stroke-linecap="round" opacity="0.7"/>
<path d="M620.4,449.0 L619.5,449.6 L617.0,450.0 L613.6,450.2 L609.7,450.4 L606.2,450.6 L603.8,451.0 L602.9,451.6 L602.0,457.2 L603.0,456.6 L605.4,456.2 L608.9,456.0 L612.7,455.9 L616.2,455.6 L618.6,455.3 L619.6,454.7Z" fill="#e04040" stroke="#862626" stroke-width="0.6"/>
<path d="M619.2,451.3 L616.8,451.7 L613.3,451.9 L609.5,452.1 L606.0,452.3 L603.5,452.7" fill="none" stroke="#ea8282" stroke-width="1.26" stroke-linecap="round" opacity="0.7"/>
<path d="M618.9,459.1 L618.0,459.7 L615.5,460.1 L612.1,460.3 L608.2,460.5 L604.7,460.7 L602.3,461.1 L601.4,461.7 L600.5,467.3 L601.5,466.7 L603.9,466.3 L607.4,466.1 L611.2,465.9 L614.7,465.7 L617.2,465.3 L618.1,464.7Z" fill="#1e1ee6" stroke="#12128a" stroke-width="0.6"/>
<path d="M617.7,461.4 L615.3,461.8 L611.8,462.0 L608.0,462.2 L604.5,462.4 L602.1,462.8" fill="none" stroke="#6c6cee" stroke-width="1.26" stroke-linecap="round" opacity="0.7"/>
<path d="M617.4,469.2 L616.5,469.8 L614.1,470.2 L610.6,470.4 L606.7,470.6 L603.3,470.8 L600.8,471.2 L599.9,471.8 L599.0,477.4 L600.0,476.8 L602.4,476.4 L605.9,476.2 L609.7,476.0 L613.2,475.8 L615.7,475.4 L616.6,474.8Z" fill="#1e1ee6" stroke="#12128a" stroke-width="0.6"/>
<path d="M616.2,471.5 L613.8,471.9 L610.3,472.1 L606.5,472.2 L603.0,472.5 L600.6,472.9" fill="none" stroke="#6c6cee" stroke-width="1.26" stroke-linecap="round" opacity="0.7"/>
<path d="M616.0,479.3 L615.0,479.9 L612.6,480.3 L609.1,480.5 L605.2,480.6 L601.8,480.9 L599.3,481.2 L598.4,481.8 L597.6,487.5 L598.5,486.9 L600.9,486.5 L604.4,486.3 L608.3,486.1 L611.7,485.9 L614.2,485.5 L615.1,484.9Z" fill="#1e1ee6" stroke="#12128a" stroke-width="0.6"/>
<path d="M614.8,481.6 L612.3,481.9 L608.8,482.2 L605.0,482.3 L601.5,482.6 L599.1,482.9" fill="none" stroke="#6c6cee" stroke-width="1.26" stroke-linecap="round" opacity="0.7"/>
<path d="M614.5,489.4 L613.5,490.0 L611.1,490.3 L607.6,490.6 L603.8,490.7 L600.3,491.0 L597.8,491.3 L596.9,491.9 L596.1,497.6 L597.0,497.0 L599.4,496.6 L602.9,496.4 L606.8,496.2 L610.3,496.0 L612.7,495.6 L613.6,495.0Z" fill="#1e1ee6" stroke="#12128a" stroke-width="0.6"/>
<path d="M613.3,491.7 L610.8,492.0 L607.4,492.3 L603.5,492.4 L600.0,492.7 L597.6,493.0" fill="none" stroke="#6c6cee" stroke-width="1.26" stroke-linecap="round" opacity="0.7"/>
<path d="M613.0,499.5 L612.0,500.1 L609.6,500.4 L606.1,500.7 L602.3,500.8 L598.8,501.1 L596.4,501.4 L595.4,502.0 L594.6,507.7 L595.5,507.1 L598.0,506.7 L601.4,506.5 L605.3,506.3 L608.8,506.1 L611.2,505.7 L612.1,505.1Z" fill="#1e1ee6" stroke="#12128a" stroke-width="0.6"/>
<path d="M611.8,501.8 L609.3,502.1 L605.9,502.4 L602.0,502.5 L598.5,502.7 L596.1,503.1" fill="none" stroke="#6c6cee" stroke-width="1.26" stroke-linecap="round" opacity="0.7"/>
<path d="M611.5,509.6 L610.6,510.1 L608.1,510.5 L604.6,510.7 L600.8,510.9 L597.3,511.1 L594.9,511.5 L593.9,512.1 L593.1,517.8 L594.0,517.2 L596.5,516.8 L600.0,516.6 L603.8,516.4 L607.3,516.2 L609.7,515.8 L610.7,515.2Z" fill="#1e1ee6" stroke="#12128a" stroke-width="0.6"/>
<path d="M610.3,511.8 L607.9,512.2 L604.4,512.4 L600.5,512.6 L597.1,512.8 L594.6,513.2" fill="none" stroke="#6c6cee" stroke-width="1.26" stroke-linecap="round" opacity="0.7"/>
<path d="M610.0,519.6 L609.1,520.2 L606.6,520.6 L603.1,520.8 L599.3,521.0 L595.8,521.2 L593.4,521.6 L592.4,522.2 L591.6,527.9 L592.5,527.3 L595.0,526.9 L598.5,526.7 L602.3,526.5 L605.8,526.3 L608.2,525.9 L609.2,525.3Z" fill="#1e1ee6" stroke="#12128a" stroke-width="0.6"/>
<path d="M608.8,521.9 L606.4,522.3 L602.9,522.5 L599.0,522.7 L595.6,522.9 L593.1,523.3" fill="none" stroke="#6c6cee" stroke-width="1.26" stroke-linecap="round" opacity="0.7"/>
<path d="M608.5,529.7 L608.4,530.0 L608.0,530.2 L607.4,530.4 L606.6,530.5 L605.6,530.7 L604.5,530.8 L603.2,530.8 L602.4,536.5 L603.7,536.4 L604.8,536.3 L605.8,536.2 L606.6,536.0 L607.2,535.8 L607.5,535.6 L607.7,535.4Z" fill="#1e1ee6" stroke="#12128a" stroke-width="0.6"/>
<path d="M608.1,531.7 L607.7,531.9 L607.1,532.1 L606.3,532.2 L605.4,532.4 L604.2,532.5" fill="none" stroke="#6c6cee" stroke-width="1.26" stroke-linecap="round" opacity="0.7"/>
<path d="M568.0,485.9 L568.6,486.4 L570.0,486.8 L572.1,487.2 L574.5,487.5 L576.6,487.9 L578.0,488.3 L578.6,488.8 L578.7,491.6 L578.2,491.1 L576.7,490.7 L574.6,490.4 L572.3,490.0 L570.2,489.6 L568.8,489.2 L568.2,488.7Z" fill="#262626" stroke="#202020" stroke-width="0.4"/>
<path d="M568.5,493.1 L568.7,493.4 L569.2,493.6 L569.9,493.9 L570.9,494.1 L572.1,494.3 L573.4,494.5 L574.7,494.7 L574.9,497.5 L573.6,497.3 L572.3,497.1 L571.1,496.9 L570.1,496.7 L569.4,496.4 L568.9,496.2 L568.7,495.9Z" fill="#262626" stroke="#202020" stroke-width="0.4"/>
<path d="M573.0,483.0 L571.7,483.3 L570.4,483.7 L569.3,484.0 L568.4,484.3 L567.7,484.6 L567.3,484.9 L567.1,485.2 L567.4,489.2 L567.5,489.0 L568.0,488.7 L568.7,488.4 L569.6,488.0 L570.7,487.7 L572.0,487.4 L573.3,487.0Z" fill="#404040" stroke="#262626" stroke-width="0.6"/>
<path d="M571.8,484.6 L570.5,484.9 L569.4,485.2 L568.5,485.5 L567.8,485.8 L567.3,486.1" fill="none" stroke="#828282" stroke-width="0.89" stroke-linecap="round" opacity="0.7"/>
<path d="M579.3,488.0 L578.8,488.5 L577.2,489.2 L574.8,489.8 L572.2,490.5 L569.8,491.2 L568.2,491.8 L567.6,492.4 L567.9,496.4 L568.4,495.8 L570.1,495.2 L572.4,494.6 L575.1,493.9 L577.4,493.2 L579.1,492.6 L579.6,492.0Z" fill="#404040" stroke="#262626" stroke-width="0.6"/>
<path d="M578.9,489.7 L577.2,490.4 L574.9,491.0 L572.2,491.7 L569.9,492.4 L568.3,493.0" fill="none" stroke="#828282" stroke-width="0.89" stroke-linecap="round" opacity="0.7"/>
<path d="M558.4,492.0 L559.1,492.6 L561.1,493.1 L563.9,493.5 L567.0,493.9 L569.8,494.4 L571.8,494.9 L572.5,495.5 L572.8,499.2 L572.1,498.6 L570.1,498.1 L567.3,497.7 L564.2,497.3 L561.4,496.8 L559.4,496.3 L558.7,495.7Z" fill="#12128a" stroke="#0f0f73" stroke-width="0.4"/>
<path d="M559.2,501.5 L560.0,502.1 L561.9,502.7 L564.7,503.1 L567.9,503.5 L570.7,503.9 L572.6,504.4 L573.4,505.1 L573.7,508.8 L573.0,508.2 L571.0,507.7 L568.2,507.2 L565.1,506.8 L562.3,506.4 L560.3,505.9 L559.6,505.3Z" fill="#12128a" stroke="#0f0f73" stroke-width="0.4"/>
<path d="M560.1,511.1 L560.8,511.7 L562.8,512.2 L565.6,512.7 L568.7,513.1 L571.5,513.5 L573.5,514.0 L574.2,514.6 L574.6,518.4 L573.8,517.7 L571.9,517.2 L569.1,516.8 L566.0,516.4 L563.1,516.0 L561.2,515.5 L560.4,514.8Z" fill="#12128a" stroke="#0f0f73" stroke-width="0.4"/>
<path d="M561.0,520.6 L561.7,521.3 L563.7,521.8 L566.5,522.2 L569.6,522.6 L572.4,523.1 L574.4,523.6 L575.1,524.2 L575.4,527.9 L574.7,527.3 L572.7,526.8 L569.9,526.4 L566.8,526.0 L564.0,525.5 L562.0,525.0 L561.3,524.4Z" fill="#12128a" stroke="#0f0f73" stroke-width="0.4"/>
<path d="M559.9,489.5 L559.2,489.7 L558.6,490.0 L558.1,490.2 L557.7,490.4 L557.4,490.6 L557.2,490.9 L557.2,491.0 L557.6,496.4 L557.7,496.2 L557.9,496.0 L558.1,495.8 L558.5,495.6 L559.0,495.3 L559.7,495.1 L560.4,494.8Z" fill="#1e1ee6" stroke="#12128a" stroke-width="0.6"/>
<path d="M559.3,491.3 L558.7,491.6 L558.2,491.8 L557.8,492.0 L557.5,492.3 L557.3,492.5" fill="none" stroke="#6c6cee" stroke-width="1.18" stroke-linecap="round" opacity="0.7"/>
<path d="M573.5,494.4 L572.8,495.1 L570.6,496.0 L567.5,497.0 L564.0,498.0 L560.9,499.0 L558.7,499.9 L558.0,500.6 L558.5,506.0 L559.2,505.2 L561.4,504.3 L564.5,503.4 L568.0,502.3 L571.1,501.4 L573.3,500.5 L574.0,499.7Z" fill="#1e1ee6" stroke="#12128a" stroke-width="0.6"/>
<path d="M572.9,496.7 L570.8,497.6 L567.7,498.6 L564.2,499.6 L561.0,500.6 L558.9,501.5" fill="none" stroke="#6c6cee" stroke-width="1.18" stroke-linecap="round" opacity="0.7"/>
<path d="M574.4,503.9 L573.7,504.7 L571.5,505.6 L568.4,506.6 L564.9,507.6 L561.8,508.5 L559.6,509.4 L558.9,510.2 L559.4,515.5 L560.1,514.8 L562.3,513.9 L565.4,512.9 L568.9,511.9 L572.0,510.9 L574.2,510.1 L574.9,509.3Z" fill="#1e1ee6" stroke="#12128a" stroke-width="0.6"/>
<path d="M573.8,506.3 L571.7,507.2 L568.5,508.2 L565.0,509.2 L561.9,510.1 L559.8,511.0" fill="none" stroke="#6c6cee" stroke-width="1.18" stroke-linecap="round" opacity="0.7"/>
<path d="M575.3,513.5 L574.5,514.3 L572.4,515.1 L569.3,516.1 L565.8,517.1 L562.6,518.1 L560.5,519.0 L559.8,519.7 L560.2,525.1 L561.0,524.3 L563.1,523.4 L566.3,522.5 L569.7,521.5 L572.9,520.5 L575.0,519.6 L575.7,518.9Z" fill="#1e1ee6" stroke="#12128a" stroke-width="0.6"/>
<path d="M574.7,515.9 L572.5,516.7 L569.4,517.7 L565.9,518.7 L562.8,519.7 L560.6,520.6" fill="none" stroke="#6c6cee" stroke-width="1.18" stroke-linecap="round" opacity="0.7"/>
<path d="M576.1,523.1 L575.7,523.7 L574.2,524.3 L572.0,525.1 L569.3,525.9 L566.5,526.7 L563.9,527.5 L562.0,528.2 L562.4,533.6 L564.4,532.9 L567.0,532.1 L569.8,531.3 L572.5,530.5 L574.7,529.7 L576.1,529.0 L576.6,528.4Z" fill="#1e1ee6" stroke="#12128a" stroke-width="0.6"/>
<path d="M575.8,525.3 L574.4,526.0 L572.2,526.7 L569.5,527.5 L566.7,528.3 L564.1,529.1" fill="none" stroke="#6c6cee" stroke-width="1.18" stroke-linecap="round" opacity="0.7"/>
<path d="M548.5,452.9 L550.3,452.8 L552.7,452.3 L555.5,451.6 L558.2,450.9 L560.6,450.4 L562.2,450.3 L563.0,450.6 L564.8,454.2 L564.0,453.9 L562.4,454.0 L560.0,454.5 L557.3,455.2 L554.5,455.8 L552.1,456.3 L550.3,456.5Z" fill="#12128a" stroke="#0f0f73" stroke-width="0.4"/>
<path d="M552.2,461.7 L553.2,462.1 L555.3,461.8 L558.3,461.2 L561.5,460.3 L564.4,459.7 L566.6,459.4 L567.6,459.8 L569.3,463.3 L568.4,463.0 L566.2,463.3 L563.3,463.9 L560.0,464.7 L557.1,465.4 L555.0,465.6 L554.0,465.3Z" fill="#12128a" stroke="#0f0f73" stroke-width="0.4"/>
<path d="M556.8,470.9 L557.7,471.2 L559.9,470.9 L562.8,470.3 L566.1,469.5 L569.0,468.8 L571.1,468.6 L572.1,468.9 L573.9,472.5 L572.9,472.1 L570.8,472.4 L567.8,473.0 L564.6,473.9 L561.7,474.5 L559.5,474.8 L558.5,474.4Z" fill="#12128a" stroke="#0f0f73" stroke-width="0.4"/>
<path d="M561.3,480.0 L562.3,480.3 L564.4,480.1 L567.4,479.4 L570.6,478.6 L573.6,477.9 L575.7,477.7 L576.7,478.0 L578.5,481.6 L577.5,481.3 L575.4,481.5 L572.4,482.2 L569.2,483.0 L566.2,483.6 L564.1,483.9 L563.1,483.6Z" fill="#12128a" stroke="#0f0f73" stroke-width="0.4"/>
<path d="M565.9,489.1 L566.9,489.4 L569.0,489.2 L571.9,488.5 L575.2,487.7 L578.1,487.1 L580.3,486.8 L581.2,487.1 L583.0,490.7 L582.1,490.4 L579.9,490.6 L577.0,491.3 L573.7,492.1 L570.8,492.8 L568.6,493.0 L567.7,492.7Z" fill="#12128a" stroke="#0f0f73" stroke-width="0.4"/>
<path d="M563.6,449.1 L563.1,450.2 L561.4,451.9 L558.6,454.0 L555.6,456.4 L552.9,458.6 L551.1,460.3 L550.6,461.3 L553.2,466.4 L553.6,465.4 L555.4,463.7 L558.1,461.5 L561.2,459.2 L563.9,457.0 L565.7,455.3 L566.1,454.2Z" fill="#1e1ee6" stroke="#12128a" stroke-width="0.6"/>
<path d="M563.9,451.7 L562.1,453.4 L559.4,455.6 L556.3,457.9 L553.6,460.1 L551.8,461.8" fill="none" stroke="#6c6cee" stroke-width="1.26" stroke-linecap="round" opacity="0.7"/>
<path d="M568.1,458.3 L567.7,459.3 L565.9,461.0 L563.2,463.2 L560.1,465.5 L557.4,467.7 L555.6,469.4 L555.2,470.4 L557.8,475.5 L558.2,474.5 L560.0,472.8 L562.7,470.6 L565.8,468.3 L568.5,466.1 L570.3,464.4 L570.7,463.4Z" fill="#1e1ee6" stroke="#12128a" stroke-width="0.6"/>
<path d="M568.5,460.8 L566.7,462.5 L564.0,464.7 L560.9,467.0 L558.2,469.2 L556.4,470.9" fill="none" stroke="#6c6cee" stroke-width="1.26" stroke-linecap="round" opacity="0.7"/>
<path d="M572.7,467.4 L572.3,468.4 L570.5,470.1 L567.8,472.3 L564.7,474.6 L562.0,476.8 L560.2,478.5 L559.8,479.5 L562.3,484.7 L562.8,483.6 L564.5,481.9 L567.3,479.7 L570.3,477.4 L573.0,475.2 L574.8,473.5 L575.2,472.5Z" fill="#1e1ee6" stroke="#12128a" stroke-width="0.6"/>
<path d="M573.0,469.9 L571.3,471.7 L568.5,473.8 L565.5,476.2 L562.7,478.3 L561.0,480.1" fill="none" stroke="#6c6cee" stroke-width="1.26" stroke-linecap="round" opacity="0.7"/>
<path d="M577.3,476.5 L576.8,477.5 L575.0,479.2 L572.3,481.4 L569.3,483.8 L566.5,485.9 L564.8,487.6 L564.3,488.7 L566.9,493.8 L567.3,492.8 L569.1,491.0 L571.8,488.9 L574.9,486.5 L577.6,484.4 L579.4,482.6 L579.8,481.6Z" fill="#1e1ee6" stroke="#12128a" stroke-width="0.6"/>
<path d="M577.6,479.1 L575.8,480.8 L573.1,482.9 L570.0,485.3 L567.3,487.5 L565.5,489.2" fill="none" stroke="#6c6cee" stroke-width="1.26" stroke-linecap="round" opacity="0.7"/>
<path d="M581.8,485.6 L581.4,486.6 L579.7,488.3 L577.1,490.4 L574.1,492.7 L571.4,494.8 L569.5,496.6 L568.9,497.7 L571.4,502.8 L572.0,501.7 L573.9,499.9 L576.7,497.8 L579.6,495.5 L582.3,493.4 L584.0,491.7 L584.4,490.7Z" fill="#1e1ee6" stroke="#12128a" stroke-width="0.6"/>
<path d="M582.2,488.2 L580.5,489.8 L577.9,491.9 L574.9,494.2 L572.1,496.4 L570.3,498.1" fill="none" stroke="#6c6cee" stroke-width="1.26" stroke-linecap="round" opacity="0.7"/>
<path d="M524.3,457.0 L525.1,457.8 L527.3,458.5 L530.4,459.2 L533.9,459.9 L537.0,460.6 L539.1,461.3 L539.9,462.1 L540.0,466.3 L539.2,465.6 L537.1,464.8 L534.0,464.1 L530.5,463.4 L527.4,462.7 L525.2,462.0 L524.4,461.2Z" fill="#12128a" stroke="#0f0f73" stroke-width="0.4"/>
<path d="M524.6,467.8 L525.3,468.6 L527.5,469.3 L530.6,470.0 L534.1,470.7 L537.2,471.4 L539.4,472.1 L540.2,472.9 L540.2,477.1 L539.5,476.4 L537.3,475.6 L534.2,474.9 L530.7,474.2 L527.6,473.5 L525.4,472.8 L524.7,472.0Z" fill="#12128a" stroke="#0f0f73" stroke-width="0.4"/>
<path d="M524.8,478.6 L525.6,479.4 L527.7,480.1 L530.9,480.8 L534.3,481.5 L537.4,482.2 L539.6,482.9 L540.4,483.7 L540.5,487.9 L539.7,487.2 L537.5,486.4 L534.4,485.7 L530.9,485.0 L527.8,484.3 L525.7,483.6 L524.9,482.8Z" fill="#222222" stroke="#1d1d1d" stroke-width="0.4"/>
<path d="M525.0,489.4 L525.8,490.2 L528.0,490.9 L531.1,491.6 L534.5,492.3 L537.7,493.0 L539.8,493.7 L540.6,494.5 L540.7,498.7 L539.9,498.0 L537.7,497.2 L534.6,496.5 L531.2,495.8 L528.1,495.1 L525.9,494.4 L525.1,493.6Z" fill="#222222" stroke="#1d1d1d" stroke-width="0.4"/>
<path d="M525.2,500.2 L526.0,501.0 L528.2,501.7 L531.3,502.4 L534.8,503.1 L537.9,503.8 L540.0,504.5 L540.8,505.3 L540.9,509.5 L540.1,508.8 L538.0,508.0 L534.9,507.3 L531.4,506.6 L528.3,505.9 L526.1,505.2 L525.3,504.4Z" fill="#12128a" stroke="#0f0f73" stroke-width="0.4"/>
<path d="M525.5,511.0 L526.2,511.8 L528.4,512.5 L531.5,513.2 L535.0,513.9 L538.1,514.6 L540.3,515.3 L541.1,516.1 L541.1,520.3 L540.4,519.6 L538.2,518.8 L535.1,518.1 L531.6,517.4 L528.5,516.7 L526.3,516.0 L525.6,515.2Z" fill="#12128a" stroke="#0f0f73" stroke-width="0.4"/>
<path d="M525.7,521.8 L526.5,522.6 L528.6,523.3 L531.8,524.0 L535.2,524.7 L538.3,525.4 L540.5,526.1 L541.3,526.9 L541.4,531.1 L540.6,530.3 L538.4,529.6 L535.3,528.9 L531.8,528.2 L528.7,527.5 L526.6,526.8 L525.8,526.0Z" fill="#696969" stroke="#585858" stroke-width="0.4"/>
<path d="M525.9,532.6 L526.7,533.3 L528.9,534.1 L532.0,534.8 L535.4,535.5 L538.6,536.2 L540.7,536.9 L541.5,537.7 L541.6,541.9 L540.8,541.1 L538.6,540.4 L535.5,539.7 L532.1,539.0 L529.0,538.3 L526.8,537.6 L526.0,536.8Z" fill="#696969" stroke="#585858" stroke-width="0.4"/>
<path d="M526.1,543.4 L526.2,543.5 L526.2,543.6 L526.3,543.8 L526.5,543.9 L526.7,544.0 L526.9,544.1 L527.1,544.2 L527.2,548.5 L527.0,548.4 L526.7,548.2 L526.6,548.1 L526.4,548.0 L526.3,547.9 L526.3,547.7 L526.2,547.6Z" fill="#696969" stroke="#585858" stroke-width="0.4"/>
<path d="M532.0,453.0 L530.0,453.4 L528.1,453.9 L526.4,454.3 L525.0,454.7 L523.9,455.1 L523.3,455.5 L523.1,455.9 L523.2,461.9 L523.4,461.5 L524.1,461.1 L525.1,460.7 L526.5,460.3 L528.2,459.9 L530.1,459.5 L532.1,459.0Z" fill="#1e1ee6" stroke="#12128a" stroke-width="0.6"/>
<path d="M530.0,455.2 L528.1,455.7 L526.5,456.1 L525.0,456.5 L524.0,456.9 L523.3,457.3" fill="none" stroke="#6c6cee" stroke-width="1.33" stroke-linecap="round" opacity="0.7"/>
<path d="M541.2,460.9 L540.3,461.7 L537.8,462.5 L534.2,463.4 L530.2,464.2 L526.6,465.1 L524.2,465.9 L523.3,466.7 L523.4,472.7 L524.3,471.9 L526.8,471.1 L530.4,470.3 L534.3,469.4 L537.9,468.6 L540.4,467.7 L541.3,467.0Z" fill="#1e1ee6" stroke="#12128a" stroke-width="0.6"/>
<path d="M540.3,463.5 L537.8,464.3 L534.3,465.2 L530.3,466.0 L526.7,466.9 L524.2,467.7" fill="none" stroke="#6c6cee" stroke-width="1.33" stroke-linecap="round" opacity="0.7"/>
<path d="M541.4,471.7 L540.5,472.5 L538.0,473.3 L534.4,474.2 L530.5,475.0 L526.9,475.9 L524.4,476.7 L523.5,477.5 L523.6,483.5 L524.5,482.7 L527.0,481.9 L530.6,481.1 L534.6,480.2 L538.2,479.4 L540.6,478.5 L541.5,477.8Z" fill="#1e1ee6" stroke="#12128a" stroke-width="0.6"/>
<path d="M540.6,474.3 L538.1,475.1 L534.5,476.0 L530.5,476.8 L526.9,477.7 L524.4,478.5" fill="none" stroke="#6c6cee" stroke-width="1.33" stroke-linecap="round" opacity="0.7"/>
<path d="M541.6,482.5 L540.7,483.3 L538.3,484.1 L534.7,485.0 L530.7,485.8 L527.1,486.7 L524.6,487.5 L523.7,488.3 L523.9,494.3 L524.7,493.5 L527.2,492.7 L530.8,491.9 L534.8,491.0 L538.4,490.2 L540.9,489.3 L541.7,488.6Z" fill="#3a3a3a" stroke="#222222" stroke-width="0.6"/>
<path d="M540.8,485.1 L538.3,485.9 L534.7,486.8 L530.7,487.6 L527.1,488.5 L524.6,489.3" fill="none" stroke="#7e7e7e" stroke-width="1.33" stroke-linecap="round" opacity="0.7"/>
<path d="M541.8,493.3 L541.0,494.1 L538.5,494.9 L534.9,495.8 L530.9,496.6 L527.3,497.5 L524.8,498.3 L524.0,499.1 L524.1,505.1 L525.0,504.3 L527.4,503.5 L531.0,502.7 L535.0,501.8 L538.6,501.0 L541.1,500.1 L542.0,499.4Z" fill="#3a3a3a" stroke="#222222" stroke-width="0.6"/>
<path d="M541.0,495.9 L538.5,496.7 L534.9,497.6 L530.9,498.4 L527.4,499.3 L524.9,500.1" fill="none" stroke="#7e7e7e" stroke-width="1.33" stroke-linecap="round" opacity="0.7"/>
<path d="M542.1,504.1 L541.2,504.9 L538.7,505.7 L535.1,506.6 L531.1,507.4 L527.5,508.3 L525.1,509.1 L524.2,509.9 L524.3,515.9 L525.2,515.1 L527.7,514.3 L531.3,513.5 L535.2,512.6 L538.8,511.8 L541.3,510.9 L542.2,510.1Z" fill="#1e1ee6" stroke="#12128a" stroke-width="0.6"/>
<path d="M541.2,506.7 L538.7,507.5 L535.2,508.4 L531.2,509.2 L527.6,510.1 L525.1,510.9" fill="none" stroke="#6c6cee" stroke-width="1.33" stroke-linecap="round" opacity="0.7"/>
<path d="M542.3,514.9 L541.4,515.7 L538.9,516.5 L535.3,517.4 L531.4,518.2 L527.8,519.1 L525.3,519.9 L524.4,520.7 L524.5,526.7 L525.4,525.9 L527.9,525.1 L531.5,524.3 L535.5,523.4 L539.1,522.6 L541.5,521.7 L542.4,520.9Z" fill="#b0b0b0" stroke="#696969" stroke-width="0.6"/>
<path d="M541.5,517.5 L539.0,518.3 L535.4,519.2 L531.4,520.0 L527.8,520.9 L525.3,521.7" fill="none" stroke="#cbcbcb" stroke-width="1.33" stroke-linecap="round" opacity="0.7"/>
<path d="M542.5,525.7 L541.6,526.5 L539.2,527.3 L535.6,528.2 L531.6,529.0 L528.0,529.9 L525.5,530.7 L524.6,531.5 L524.8,537.5 L525.6,536.7 L528.1,535.9 L531.7,535.1 L535.7,534.2 L539.3,533.4 L541.8,532.5 L542.6,531.7Z" fill="#b0b0b0" stroke="#696969" stroke-width="0.6"/>
<path d="M541.7,528.3 L539.2,529.1 L535.6,530.0 L531.6,530.8 L528.0,531.7 L525.5,532.5" fill="none" stroke="#cbcbcb" stroke-width="1.33" stroke-linecap="round" opacity="0.7"/>
<path d="M542.7,536.5 L541.9,537.3 L539.4,538.1 L535.8,539.0 L531.8,539.8 L528.2,540.7 L525.7,541.5 L524.9,542.3 L525.0,548.3 L525.9,547.5 L528.3,546.7 L531.9,545.9 L535.9,545.0 L539.5,544.2 L542.0,543.3 L542.9,542.5Z" fill="#b0b0b0" stroke="#696969" stroke-width="0.6"/>
<path d="M541.9,539.1 L539.4,539.9 L535.8,540.8 L531.8,541.6 L528.3,542.5 L525.8,543.3" fill="none" stroke="#cbcbcb" stroke-width="1.33" stroke-linecap="round" opacity="0.7"/>
<path d="M541.3,450.3 L542.0,451.1 L544.2,451.9 L547.3,452.6 L550.8,453.3 L553.9,454.1 L556.0,454.8 L556.8,455.6 L556.8,459.8 L556.1,459.1 L553.9,458.3 L550.8,457.6 L547.3,456.8 L544.2,456.1 L542.1,455.3 L541.3,454.6Z" fill="#12128a" stroke="#0f0f73" stroke-width="0.4"/>
<path d="M541.4,461.1 L542.1,461.9 L544.3,462.7 L547.4,463.4 L550.9,464.1 L554.0,464.9 L556.1,465.6 L556.9,466.4 L556.9,470.6 L556.2,469.9 L554.0,469.1 L550.9,468.4 L547.4,467.6 L544.3,466.9 L542.2,466.1 L541.4,465.4Z" fill="#12128a" stroke="#0f0f73" stroke-width="0.4"/>
<path d="M541.5,471.9 L542.2,472.7 L544.4,473.5 L547.5,474.2 L550.9,474.9 L554.1,475.7 L556.2,476.4 L557.0,477.2 L557.0,481.4 L556.2,480.7 L554.1,479.9 L551.0,479.2 L547.5,478.4 L544.4,477.7 L542.3,476.9 L541.5,476.2Z" fill="#12128a" stroke="#0f0f73" stroke-width="0.4"/>
<path d="M541.5,482.7 L542.3,483.5 L544.5,484.3 L547.6,485.0 L551.0,485.7 L554.1,486.5 L556.3,487.2 L557.1,488.0 L557.1,492.2 L556.3,491.5 L554.2,490.7 L551.1,490.0 L547.6,489.2 L544.5,488.5 L542.4,487.7 L541.6,487.0Z" fill="#12128a" stroke="#0f0f73" stroke-width="0.4"/>
<path d="M541.6,493.5 L542.4,494.3 L544.6,495.1 L547.7,495.8 L551.1,496.5 L554.2,497.3 L556.4,498.0 L557.2,498.8 L557.2,503.0 L556.4,502.3 L554.3,501.5 L551.2,500.8 L547.7,500.0 L544.6,499.3 L542.4,498.5 L541.7,497.8Z" fill="#12128a" stroke="#0f0f73" stroke-width="0.4"/>
<path d="M541.7,504.3 L542.5,505.1 L544.7,505.9 L547.8,506.6 L551.2,507.3 L554.3,508.1 L556.5,508.8 L557.3,509.6 L557.3,513.8 L556.5,513.1 L554.4,512.3 L551.3,511.6 L547.8,510.8 L544.7,510.1 L542.5,509.3 L541.8,508.6Z" fill="#12128a" stroke="#0f0f73" stroke-width="0.4"/>
<path d="M541.8,515.1 L542.6,515.9 L544.7,516.7 L547.9,517.4 L551.3,518.1 L554.4,518.9 L556.6,519.6 L557.3,520.4 L557.4,524.6 L556.6,523.9 L554.5,523.1 L551.3,522.4 L547.9,521.6 L544.8,520.9 L542.6,520.1 L541.9,519.4Z" fill="#12128a" stroke="#0f0f73" stroke-width="0.4"/>
<path d="M541.9,525.9 L542.7,526.7 L544.8,527.5 L547.9,528.2 L551.4,528.9 L554.5,529.7 L556.7,530.4 L557.4,531.2 L557.5,535.4 L556.7,534.7 L554.5,533.9 L551.4,533.2 L548.0,532.4 L544.9,531.7 L542.7,530.9 L541.9,530.2Z" fill="#212121" stroke="#1c1c1c" stroke-width="0.4"/>
<path d="M542.0,536.7 L542.8,537.5 L544.9,538.3 L548.0,539.0 L551.5,539.7 L554.6,540.5 L556.8,541.2 L557.5,542.0 L557.6,546.2 L556.8,545.5 L554.6,544.7 L551.5,544.0 L548.1,543.2 L545.0,542.5 L542.8,541.7 L542.0,541.0Z" fill="#212121" stroke="#1c1c1c" stroke-width="0.4"/>
<path d="M542.1,547.5 L542.9,548.3 L545.0,549.1 L548.1,549.8 L551.6,550.5 L554.7,551.3 L556.8,552.0 L557.6,552.8 L557.7,557.0 L556.9,556.3 L554.7,555.5 L551.6,554.8 L548.2,554.0 L545.1,553.3 L542.9,552.5 L542.1,551.8Z" fill="#12128a" stroke="#0f0f73" stroke-width="0.4"/>
<path d="M542.2,558.3 L542.6,558.9 L543.7,559.4 L545.5,559.9 L547.7,560.5 L550.1,561.0 L552.5,561.5 L554.7,562.1 L554.7,566.3 L552.6,565.8 L550.2,565.2 L547.7,564.7 L545.5,564.2 L543.8,563.6 L542.6,563.1 L542.2,562.6Z" fill="#12128a" stroke="#0f0f73" stroke-width="0.4"/>
<path d="M540.0,449.1 L540.0,449.1 L540.0,449.1 L540.0,449.1 L540.0,449.1 L540.0,449.2 L540.0,449.2 L540.0,449.2 L540.1,455.2 L540.1,455.2 L540.1,455.2 L540.1,455.2 L540.1,455.2 L540.1,455.2 L540.1,455.1 L540.1,455.1Z" fill="#1e1ee6" stroke="#12128a" stroke-width="0.6"/>
<path d="M540.0,450.9 L540.0,450.9 L540.0,450.9 L540.0,451.0 L540.0,451.0 L540.0,451.0" fill="none" stroke="#6c6cee" stroke-width="1.33" stroke-linecap="round" opacity="0.7"/>
<path d="M558.0,454.4 L557.2,455.2 L554.7,456.0 L551.1,456.8 L547.1,457.6 L543.5,458.4 L541.0,459.2 L540.1,460.0 L540.1,466.0 L541.0,465.3 L543.5,464.5 L547.1,463.7 L551.1,462.9 L554.7,462.1 L557.2,461.3 L558.1,460.5Z" fill="#1e1ee6" stroke="#12128a" stroke-width="0.6"/>
<path d="M557.2,457.0 L554.7,457.8 L551.1,458.6 L547.1,459.4 L543.5,460.2 L541.0,461.0" fill="none" stroke="#6c6cee" stroke-width="1.33" stroke-linecap="round" opacity="0.7"/>
<path d="M558.1,465.2 L557.3,466.0 L554.8,466.8 L551.2,467.6 L547.2,468.4 L543.6,469.2 L541.1,470.0 L540.2,470.8 L540.2,476.8 L541.1,476.1 L543.6,475.3 L547.2,474.5 L551.2,473.7 L554.8,472.9 L557.3,472.1 L558.2,471.3Z" fill="#1e1ee6" stroke="#12128a" stroke-width="0.6"/>
<path d="M557.3,467.8 L554.8,468.6 L551.2,469.4 L547.2,470.2 L543.6,471.0 L541.1,471.8" fill="none" stroke="#6c6cee" stroke-width="1.33" stroke-linecap="round" opacity="0.7"/>
<path d="M558.2,476.0 L557.3,476.8 L554.9,477.6 L551.3,478.4 L547.3,479.2 L543.7,480.0 L541.2,480.8 L540.3,481.6 L540.3,487.6 L541.2,486.9 L543.7,486.1 L547.3,485.3 L551.3,484.5 L554.9,483.7 L557.4,482.9 L558.3,482.1Z" fill="#1e1ee6" stroke="#12128a" stroke-width="0.6"/>
<path d="M557.4,478.6 L554.9,479.4 L551.3,480.2 L547.3,481.0 L543.7,481.8 L541.2,482.6" fill="none" stroke="#6c6cee" stroke-width="1.33" stroke-linecap="round" opacity="0.7"/>
<path d="M558.3,486.8 L557.4,487.6 L554.9,488.4 L551.3,489.2 L547.3,490.0 L543.7,490.8 L541.3,491.6 L540.4,492.4 L540.4,498.4 L541.3,497.7 L543.8,496.9 L547.4,496.1 L551.4,495.3 L555.0,494.5 L557.5,493.7 L558.4,492.9Z" fill="#1e1ee6" stroke="#12128a" stroke-width="0.6"/>
<path d="M557.5,489.4 L555.0,490.2 L551.4,491.0 L547.4,491.8 L543.8,492.6 L541.3,493.4" fill="none" stroke="#6c6cee" stroke-width="1.33" stroke-linecap="round" opacity="0.7"/>
<path d="M558.4,497.6 L557.5,498.4 L555.0,499.2 L551.4,500.0 L547.4,500.8 L543.8,501.6 L541.3,502.4 L540.5,503.2 L540.5,509.2 L541.4,508.5 L543.9,507.7 L547.5,506.9 L551.5,506.1 L555.1,505.3 L557.6,504.5 L558.5,503.7Z" fill="#1e1ee6" stroke="#12128a" stroke-width="0.6"/>
<path d="M557.5,500.2 L555.1,501.0 L551.5,501.8 L547.5,502.6 L543.8,503.4 L541.4,504.2" fill="none" stroke="#6c6cee" stroke-width="1.33" stroke-linecap="round" opacity="0.7"/>
<path d="M558.5,508.4 L557.6,509.2 L555.1,510.0 L551.5,510.8 L547.5,511.6 L543.9,512.4 L541.4,513.2 L540.6,514.0 L540.6,520.0 L541.5,519.3 L544.0,518.5 L547.6,517.7 L551.6,516.9 L555.2,516.1 L557.7,515.3 L558.6,514.5Z" fill="#1e1ee6" stroke="#12128a" stroke-width="0.6"/>
<path d="M557.6,511.0 L555.1,511.8 L551.5,512.6 L547.5,513.4 L543.9,514.2 L541.5,515.0" fill="none" stroke="#6c6cee" stroke-width="1.33" stroke-linecap="round" opacity="0.7"/>
<path d="M558.6,519.2 L557.7,520.0 L555.2,520.8 L551.6,521.6 L547.6,522.4 L544.0,523.2 L541.5,524.0 L540.6,524.8 L540.7,530.8 L541.6,530.1 L544.1,529.3 L547.7,528.5 L551.7,527.7 L555.3,526.9 L557.8,526.1 L558.6,525.3Z" fill="#1e1ee6" stroke="#12128a" stroke-width="0.6"/>
<path d="M557.7,521.8 L555.2,522.6 L551.6,523.4 L547.6,524.2 L544.0,525.0 L541.5,525.8" fill="none" stroke="#6c6cee" stroke-width="1.33" stroke-linecap="round" opacity="0.7"/>
<path d="M558.7,530.0 L557.8,530.8 L555.3,531.6 L551.7,532.4 L547.7,533.2 L544.1,534.0 L541.6,534.8 L540.7,535.6 L540.8,541.6 L541.7,540.9 L544.2,540.1 L547.8,539.3 L551.8,538.5 L555.4,537.7 L557.9,536.9 L558.7,536.1Z" fill="#383838" stroke="#212121" stroke-width="0.6"/>
<path d="M557.8,532.6 L555.3,533.4 L551.7,534.2 L547.7,535.0 L544.1,535.8 L541.6,536.6" fill="none" stroke="#7d7d7d" stroke-width="1.33" stroke-linecap="round" opacity="0.7"/>
<path d="M558.8,540.8 L557.9,541.6 L555.4,542.4 L551.8,543.2 L547.8,544.0 L544.2,544.8 L541.7,545.6 L540.8,546.4 L540.9,552.4 L541.8,551.7 L544.3,550.9 L547.9,550.1 L551.9,549.3 L555.5,548.5 L557.9,547.7 L558.8,546.9Z" fill="#1e1ee6" stroke="#12128a" stroke-width="0.6"/>
<path d="M557.9,543.4 L555.4,544.2 L551.8,545.0 L547.8,545.8 L544.2,546.6 L541.7,547.4" fill="none" stroke="#6c6cee" stroke-width="1.33" stroke-linecap="round" opacity="0.7"/>
<path d="M558.9,551.6 L558.0,552.4 L555.5,553.2 L551.9,554.0 L547.9,554.8 L544.3,555.6 L541.8,556.4 L540.9,557.2 L541.0,563.2 L541.9,562.5 L544.3,561.7 L547.9,560.9 L551.9,560.1 L555.5,559.3 L558.0,558.5 L558.9,557.7Z" fill="#1e1ee6" stroke="#12128a" stroke-width="0.6"/>
<path d="M558.0,554.2 L555.5,555.0 L551.9,555.8 L547.9,556.6 L544.3,557.4 L541.8,558.2" fill="none" stroke="#6c6cee" stroke-width="1.33" stroke-linecap="round" opacity="0.7"/>
<path d="M549.6,521.5 L550.6,522.3 L553.2,522.9 L556.9,523.4 L561.0,523.8 L564.7,524.3 L567.3,524.9 L568.3,525.6 L568.8,530.5 L567.8,529.8 L565.2,529.2 L561.5,528.7 L557.5,528.3 L553.7,527.8 L551.2,527.2 L550.2,526.4Z" fill="#1c2686" stroke="#182070" stroke-width="0.4"/>
<path d="M551.1,534.0 L551.2,534.4 L551.7,534.7 L552.3,534.9 L553.2,535.2 L554.3,535.4 L555.5,535.6 L556.9,535.7 L557.5,540.6 L556.1,540.5 L554.9,540.3 L553.8,540.1 L552.9,539.8 L552.2,539.6 L551.8,539.3 L551.7,538.9Z" fill="#1c2686" stroke="#182070" stroke-width="0.4"/>
<path d="M558.0,516.0 L555.7,516.7 L553.6,517.4 L551.7,518.1 L550.1,518.8 L548.9,519.4 L548.2,519.9 L548.0,520.4 L548.8,527.4 L549.0,526.9 L549.7,526.4 L550.9,525.8 L552.5,525.1 L554.4,524.4 L556.6,523.7 L558.8,523.0Z" fill="#3040e0" stroke="#1c2686" stroke-width="0.6"/>
<path d="M556.0,518.8 L553.8,519.5 L551.9,520.2 L550.3,520.9 L549.1,521.5 L548.4,522.0" fill="none" stroke="#7882ea" stroke-width="1.55" stroke-linecap="round" opacity="0.7"/>
<path d="M569.6,524.1 L568.6,525.1 L565.8,526.4 L561.8,527.8 L557.2,529.2 L553.2,530.6 L550.4,531.9 L549.5,532.9 L550.3,539.9 L551.2,538.9 L554.0,537.6 L558.1,536.2 L562.6,534.8 L566.7,533.4 L569.5,532.2 L570.4,531.1Z" fill="#3040e0" stroke="#1c2686" stroke-width="0.6"/>
<path d="M568.9,527.3 L566.1,528.5 L562.0,529.9 L557.5,531.3 L553.4,532.7 L550.6,534.0" fill="none" stroke="#7882ea" stroke-width="1.55" stroke-linecap="round" opacity="0.7"/>
<path d="M533.0,549.0 Q529.0,555.0 527.0,559.0 Q525.0,563.0 526.0,566.0 L527.0,569.0" stroke="#d03030" stroke-width="1.5" fill="none" stroke-linecap="round" stroke-linejoin="round"/>
<ellipse cx="535.5" cy="569.5" rx="7.5" ry="6.0" fill="none" stroke="#7b4e4e" stroke-width="3.2"/>
<ellipse cx="535.5" cy="569.5" rx="7.5" ry="6.0" fill="none" stroke="#b07070" stroke-width="2"/>
<path d="M599.0,536.0 Q603.0,531.0 605.0,528.0 L607.0,525.0" stroke="#404040" stroke-width="1.5" fill="none" stroke-linecap="round" stroke-linejoin="round"/>
<path d="M600.9,524.9 L601.6,525.4 L603.5,525.9 L606.1,526.3 L609.0,526.6 L611.7,527.0 L613.5,527.4 L614.2,528.0 L614.6,531.5 L613.9,530.9 L612.1,530.5 L609.4,530.1 L606.5,529.8 L603.9,529.4 L602.0,529.0 L601.3,528.4Z" fill="#262626" stroke="#202020" stroke-width="0.4"/>
<path d="M601.9,533.8 L602.6,534.4 L604.4,534.8 L607.1,535.2 L610.0,535.5 L612.6,535.9 L614.5,536.4 L615.2,536.9 L615.6,540.4 L614.9,539.9 L613.0,539.4 L610.4,539.0 L607.5,538.7 L604.8,538.4 L603.0,537.9 L602.3,537.3Z" fill="#262626" stroke="#202020" stroke-width="0.4"/>
<path d="M602.8,542.8 L603.2,543.2 L604.0,543.5 L605.2,543.8 L606.8,544.0 L608.6,544.2 L610.5,544.4 L612.3,544.7 L612.6,548.2 L610.8,547.9 L609.0,547.7 L607.2,547.5 L605.6,547.3 L604.3,547.0 L603.5,546.7 L603.2,546.3Z" fill="#262626" stroke="#202020" stroke-width="0.4"/>
<path d="M607.0,521.0 L605.4,521.5 L603.8,522.0 L602.5,522.5 L601.3,522.9 L600.5,523.3 L599.9,523.7 L599.8,524.0 L600.3,529.0 L600.5,528.7 L601.0,528.3 L601.8,527.9 L603.0,527.5 L604.4,527.0 L605.9,526.5 L607.5,526.0Z" fill="#404040" stroke="#262626" stroke-width="0.6"/>
<path d="M605.5,523.0 L604.0,523.5 L602.6,524.0 L601.5,524.4 L600.6,524.8 L600.1,525.2" fill="none" stroke="#828282" stroke-width="1.11" stroke-linecap="round" opacity="0.7"/>
<path d="M615.2,526.9 L614.5,527.6 L612.5,528.5 L609.6,529.5 L606.3,530.4 L603.4,531.4 L601.4,532.3 L600.7,533.0 L601.3,538.0 L601.9,537.3 L603.9,536.4 L606.9,535.5 L610.1,534.5 L613.0,533.5 L615.0,532.6 L615.7,531.9Z" fill="#404040" stroke="#262626" stroke-width="0.6"/>
<path d="M614.7,529.1 L612.7,530.0 L609.7,531.0 L606.5,531.9 L603.6,532.9 L601.6,533.8" fill="none" stroke="#828282" stroke-width="1.11" stroke-linecap="round" opacity="0.7"/>
<path d="M616.1,535.9 L615.5,536.6 L613.5,537.4 L610.5,538.4 L607.3,539.4 L604.4,540.4 L602.4,541.2 L601.7,541.9 L602.2,546.9 L602.9,546.2 L604.9,545.4 L607.8,544.4 L611.1,543.4 L614.0,542.5 L616.0,541.6 L616.7,540.9Z" fill="#404040" stroke="#262626" stroke-width="0.6"/>
<path d="M615.6,538.1 L613.6,538.9 L610.7,539.9 L607.5,540.9 L604.5,541.9 L602.5,542.7" fill="none" stroke="#828282" stroke-width="1.11" stroke-linecap="round" opacity="0.7"/>
<path d="M583.9,535.0 L584.7,535.7 L586.7,536.3 L589.7,536.9 L593.0,537.5 L595.9,538.0 L598.0,538.6 L598.8,539.3 L599.0,543.3 L598.2,542.6 L596.2,542.0 L593.2,541.4 L589.9,540.9 L586.9,540.3 L584.9,539.7 L584.1,539.0Z" fill="#8b5656" stroke="#744848" stroke-width="0.4"/>
<path d="M584.4,545.2 L585.2,545.9 L587.3,546.5 L590.2,547.1 L593.5,547.6 L596.5,548.2 L598.6,548.8 L599.3,549.5 L599.5,553.5 L598.8,552.8 L596.7,552.2 L593.7,551.6 L590.5,551.1 L587.5,550.5 L585.4,549.9 L584.7,549.2Z" fill="#8b5656" stroke="#744848" stroke-width="0.4"/>
<path d="M585.0,555.4 L585.8,556.1 L587.8,556.7 L590.8,557.3 L594.1,557.8 L597.0,558.4 L599.1,559.0 L599.9,559.7 L600.1,563.7 L599.3,563.0 L597.3,562.4 L594.3,561.8 L591.0,561.3 L588.0,560.7 L586.0,560.1 L585.2,559.4Z" fill="#8b5656" stroke="#744848" stroke-width="0.4"/>
<path d="M591.0,531.0 L589.1,531.5 L587.4,531.9 L585.8,532.4 L584.4,532.8 L583.5,533.2 L582.8,533.6 L582.7,534.0 L583.0,539.7 L583.2,539.3 L583.8,538.9 L584.8,538.5 L586.1,538.1 L587.7,537.6 L589.4,537.2 L591.3,536.7Z" fill="#e89090" stroke="#8b5656" stroke-width="0.6"/>
<path d="M589.2,533.2 L587.4,533.6 L585.9,534.1 L584.5,534.5 L583.5,534.9 L582.9,535.3" fill="none" stroke="#f0b6b6" stroke-width="1.26" stroke-linecap="round" opacity="0.7"/>
<path d="M599.9,538.2 L599.1,539.0 L596.8,539.8 L593.4,540.7 L589.7,541.7 L586.3,542.6 L584.0,543.4 L583.2,544.2 L583.5,549.9 L584.3,549.1 L586.6,548.3 L590.0,547.4 L593.7,546.4 L597.1,545.5 L599.4,544.7 L600.2,543.9Z" fill="#e89090" stroke="#8b5656" stroke-width="0.6"/>
<path d="M599.2,540.7 L596.9,541.5 L593.5,542.4 L589.8,543.4 L586.4,544.3 L584.1,545.1" fill="none" stroke="#f0b6b6" stroke-width="1.26" stroke-linecap="round" opacity="0.7"/>
<path d="M600.5,548.4 L599.6,549.1 L597.3,550.0 L594.0,550.9 L590.2,551.8 L586.9,552.7 L584.6,553.6 L583.8,554.4 L584.1,560.1 L584.9,559.3 L587.2,558.5 L590.5,557.5 L594.3,556.6 L597.6,555.7 L600.0,554.8 L600.8,554.1Z" fill="#e89090" stroke="#8b5656" stroke-width="0.6"/>
<path d="M599.7,550.8 L597.4,551.7 L594.1,552.6 L590.3,553.5 L587.0,554.5 L584.6,555.3" fill="none" stroke="#f0b6b6" stroke-width="1.26" stroke-linecap="round" opacity="0.7"/>
<path d="M601.0,558.6 L600.7,559.0 L599.7,559.6 L598.1,560.1 L596.0,560.7 L593.7,561.3 L591.3,561.9 L588.9,562.5 L589.3,568.2 L591.6,567.6 L594.0,567.0 L596.3,566.4 L598.4,565.8 L600.0,565.3 L601.0,564.7 L601.3,564.3Z" fill="#e89090" stroke="#8b5656" stroke-width="0.6"/>
<path d="M600.8,560.8 L599.8,561.3 L598.2,561.8 L596.1,562.4 L593.8,563.0 L591.3,563.6" fill="none" stroke="#f0b6b6" stroke-width="1.26" stroke-linecap="round" opacity="0.7"/>
<path d="M554.8,543.1 L555.8,543.6 L558.1,543.6 L561.3,543.4 L564.8,543.1 L568.0,542.8 L570.3,542.9 L571.2,543.4 L572.5,547.4 L571.6,546.9 L569.3,546.9 L566.1,547.1 L562.6,547.4 L559.4,547.6 L557.1,547.6 L556.1,547.1Z" fill="#8b5656" stroke="#744848" stroke-width="0.4"/>
<path d="M558.2,553.3 L559.1,553.8 L561.4,553.9 L564.6,553.7 L568.1,553.3 L571.3,553.1 L573.6,553.2 L574.6,553.7 L575.9,557.7 L574.9,557.2 L572.6,557.1 L569.4,557.4 L565.9,557.7 L562.7,557.9 L560.5,557.8 L559.5,557.4Z" fill="#8b5656" stroke="#744848" stroke-width="0.4"/>
<path d="M561.5,563.6 L562.5,564.1 L564.8,564.2 L568.0,563.9 L571.5,563.6 L574.7,563.4 L576.9,563.4 L577.9,563.9 L579.2,568.0 L578.3,567.5 L576.0,567.4 L572.8,567.6 L569.3,568.0 L566.1,568.2 L563.8,568.1 L562.8,567.6Z" fill="#8b5656" stroke="#744848" stroke-width="0.4"/>
<path d="M564.9,573.9 L565.5,574.3 L566.8,574.4 L568.9,574.4 L571.4,574.2 L574.0,573.9 L576.6,573.7 L578.8,573.6 L580.1,577.6 L577.9,577.7 L575.3,578.0 L572.7,578.2 L570.2,578.4 L568.2,578.5 L566.8,578.3 L566.2,577.9Z" fill="#8b5656" stroke="#744848" stroke-width="0.4"/>
<path d="M561.0,537.0 L559.2,538.0 L557.5,538.9 L556.0,539.8 L554.8,540.6 L553.9,541.3 L553.4,541.9 L553.3,542.4 L555.2,548.1 L555.2,547.7 L555.8,547.1 L556.7,546.4 L557.9,545.6 L559.4,544.7 L561.1,543.7 L562.9,542.8Z" fill="#e89090" stroke="#8b5656" stroke-width="0.6"/>
<path d="M559.8,539.7 L558.1,540.7 L556.6,541.6 L555.3,542.4 L554.4,543.1 L553.9,543.6" fill="none" stroke="#f0b6b6" stroke-width="1.33" stroke-linecap="round" opacity="0.7"/>
<path d="M572.1,541.9 L571.5,542.9 L569.3,544.4 L566.1,546.3 L562.6,548.3 L559.4,550.1 L557.2,551.6 L556.6,552.6 L558.5,558.4 L559.1,557.4 L561.2,555.9 L564.4,554.0 L568.0,552.0 L571.2,550.2 L573.3,548.7 L573.9,547.7Z" fill="#e89090" stroke="#8b5656" stroke-width="0.6"/>
<path d="M572.0,544.7 L569.9,546.2 L566.7,548.0 L563.1,550.0 L559.9,551.8 L557.8,553.3" fill="none" stroke="#f0b6b6" stroke-width="1.33" stroke-linecap="round" opacity="0.7"/>
<path d="M575.4,552.2 L574.8,553.2 L572.7,554.7 L569.5,556.6 L565.9,558.5 L562.7,560.4 L560.6,561.9 L560.0,562.9 L561.8,568.6 L562.4,567.6 L564.6,566.1 L567.8,564.3 L571.3,562.3 L574.5,560.5 L576.7,558.9 L577.3,557.9Z" fill="#e89090" stroke="#8b5656" stroke-width="0.6"/>
<path d="M575.4,554.9 L573.2,556.4 L570.0,558.3 L566.5,560.3 L563.3,562.1 L561.1,563.6" fill="none" stroke="#f0b6b6" stroke-width="1.33" stroke-linecap="round" opacity="0.7"/>
<path d="M578.8,562.5 L578.1,563.5 L576.0,565.0 L572.8,566.8 L569.2,568.8 L566.1,570.6 L563.9,572.2 L563.3,573.2 L565.2,578.9 L565.8,577.9 L567.9,576.4 L571.1,574.5 L574.7,572.6 L577.9,570.7 L580.0,569.2 L580.6,568.2Z" fill="#e89090" stroke="#8b5656" stroke-width="0.6"/>
<path d="M578.7,565.2 L576.6,566.7 L573.4,568.5 L569.8,570.5 L566.6,572.4 L564.5,573.9" fill="none" stroke="#f0b6b6" stroke-width="1.33" stroke-linecap="round" opacity="0.7"/>
<defs><linearGradient id="g108" x1="0" y1="0" x2="0" y2="1"><stop offset="0" stop-color="#f00000"/><stop offset="0.25" stop-color="#f87070"/><stop offset="0.52" stop-color="#ffffff"/><stop offset="0.78" stop-color="#7070f8"/><stop offset="1" stop-color="#0000f0"/></linearGradient></defs>
<rect x="663.9" y="108.8" width="8.0" height="62.7" fill="url(#g108)" stroke="#222" stroke-width="0.9"/>
<defs><linearGradient id="g472" x1="0" y1="0" x2="0" y2="1"><stop offset="0" stop-color="#f00000"/><stop offset="0.25" stop-color="#f87070"/><stop offset="0.52" stop-color="#ffffff"/><stop offset="0.78" stop-color="#7070f8"/><stop offset="1" stop-color="#0000f0"/></linearGradient></defs>
<rect x="661.9" y="472.2" width="8.0" height="62.9" fill="url(#g472)" stroke="#222" stroke-width="0.9"/>
<text transform="translate(405.30,21.70) scale(1.06,1)" font-size="11.42" fill="#111" >apo enNTS<tspan font-size="7" dy="2">1</tspan></text>
<text transform="translate(378.10,43.90) scale(1.06,1)" font-size="11.98" fill="#111" >ECL2</text>
<text transform="translate(450.00,41.50) scale(1.06,1)" font-size="11.98" fill="#111" >N-ter</text>
<text transform="translate(486.60,78.40) scale(1.06,1)" font-size="12.08" fill="#111" >TM1</text>
<text transform="translate(486.60,108.80) scale(1.06,1)" font-size="12.08" fill="#111" >TM7</text>
<text transform="translate(475.00,145.70) scale(1.06,1)" font-size="12.08" fill="#111" >TM2</text>
<line x1="456.50" y1="103.00" x2="486.00" y2="105.50" stroke="#111" stroke-width="1.0" />
<line x1="433.00" y1="144.80" x2="474.00" y2="140.40" stroke="#111" stroke-width="1.0" />
<text transform="translate(528.00,22.10) scale(1.06,1)" font-size="11.60" fill="#111" >enNTS<tspan font-size="7" dy="2">1</tspan><tspan dy="-2"> + NT8-13</tspan></text>
<text transform="translate(517.20,44.40) scale(1.06,1)" font-size="11.98" fill="#111" >ECL2</text>
<text transform="translate(585.50,36.70) scale(1.06,1)" font-size="13.49" fill="#111" >N-ter</text>
<text transform="translate(623.40,76.20) scale(1.06,1)" font-size="12.08" fill="#111" >TM1</text>
<text transform="translate(623.50,109.20) scale(1.06,1)" font-size="12.08" fill="#111" >TM7</text>
<text transform="translate(611.80,145.40) scale(1.06,1)" font-size="12.08" fill="#111" >TM2</text>
<line x1="592.00" y1="103.00" x2="622.50" y2="106.00" stroke="#111" stroke-width="1.0" />
<line x1="568.00" y1="144.80" x2="610.80" y2="140.00" stroke="#111" stroke-width="1.0" />
<text transform="translate(401.00,392.60) scale(1.06,1)" font-size="12.64" fill="#111" >apo enNTS<tspan font-size="7" dy="2">1</tspan></text>
<text transform="translate(377.80,415.70) scale(1.06,1)" font-size="11.98" fill="#111" >ECL2</text>
<text transform="translate(454.50,411.20) scale(1.06,1)" font-size="11.98" fill="#111" >N-ter</text>
<text transform="translate(488.00,449.70) scale(1.06,1)" font-size="12.08" fill="#111" >TM1</text>
<text transform="translate(486.60,481.00) scale(1.06,1)" font-size="12.08" fill="#111" >TM7</text>
<text transform="translate(474.90,518.10) scale(1.06,1)" font-size="12.08" fill="#111" >TM2</text>
<line x1="454.50" y1="475.70" x2="486.00" y2="477.50" stroke="#111" stroke-width="1.0" />
<line x1="435.00" y1="518.00" x2="474.00" y2="512.00" stroke="#111" stroke-width="1.0" />
<text transform="translate(507.00,393.00) scale(1.06,1)" font-size="12.64" fill="#111" >enNTS<tspan font-size="7" dy="2">1</tspan><tspan dy="-2"> + SR142948A</tspan></text>
<text transform="translate(516.30,415.00) scale(1.06,1)" font-size="11.98" fill="#111" >ECL2</text>
<text transform="translate(588.10,411.50) scale(1.06,1)" font-size="11.98" fill="#111" >N-ter</text>
<text transform="translate(623.50,449.50) scale(1.06,1)" font-size="12.08" fill="#111" >TM1</text>
<text transform="translate(622.70,480.60) scale(1.06,1)" font-size="12.08" fill="#111" >TM7</text>
<text transform="translate(610.20,517.30) scale(1.06,1)" font-size="12.08" fill="#111" >TM2</text>
<line x1="589.00" y1="475.50" x2="621.70" y2="477.00" stroke="#111" stroke-width="1.0" />
<line x1="570.00" y1="518.00" x2="609.20" y2="511.50" stroke="#111" stroke-width="1.0" />
<text transform="translate(656.60,89.50) scale(1.06,1)" font-size="12.45" fill="#111" >Fast</text>
<text transform="translate(656.20,104.20) scale(1.06,1)" font-size="12.45" fill="#111" >HDX</text>
<text transform="translate(655.80,187.40) scale(1.06,1)" font-size="12.45" fill="#111" >Slow</text>
<text transform="translate(656.20,203.00) scale(1.06,1)" font-size="12.45" fill="#111" >HDX</text>
<text transform="translate(654.50,452.90) scale(1.06,1)" font-size="12.45" fill="#111" >Fast</text>
<text transform="translate(654.10,467.80) scale(1.06,1)" font-size="12.45" fill="#111" >HDX</text>
<text transform="translate(653.70,551.50) scale(1.06,1)" font-size="12.45" fill="#111" >Slow</text>
<text transform="translate(654.10,565.40) scale(1.06,1)" font-size="12.45" fill="#111" >HDX</text>
<text transform="translate(15.1,109.7) rotate(-90)" x="0" y="0" font-size="13.30" text-anchor="middle" fill="#111">Difference in Deuterium</text>
<text transform="translate(30.2,109.8) rotate(-90)" x="0" y="0" font-size="13.30" text-anchor="middle" fill="#111">Uptake (Da)</text>
<text transform="translate(12.2,490.8) rotate(-90)" x="0" y="0" font-size="13.30" text-anchor="middle" fill="#111">Difference in Deuterium</text>
<text transform="translate(27.0,491.5) rotate(-90)" x="0" y="0" font-size="13.30" text-anchor="middle" fill="#111">Uptake (Da)</text>
<text transform="translate(28.0,287.1) rotate(-90)" x="0" y="0" font-size="13.30" text-anchor="middle" fill="#111">Relative Deuterium</text>
<text transform="translate(43.4,287.6) rotate(-90)" x="0" y="0" font-size="13.30" text-anchor="middle" fill="#111">Uptake (Da)</text>
<text transform="translate(10.4,669.3) rotate(-90)" x="0" y="0" font-size="13.30" text-anchor="middle" fill="#111">Relative Deuterium</text>
<text transform="translate(25.8,670.3) rotate(-90)" x="0" y="0" font-size="13.30" text-anchor="middle" fill="#111">Uptake (Da)</text>
<text transform="translate(2.60,14.50) scale(1.06,1)" font-size="17.45" fill="#111" stroke="#111" stroke-width="0.35">a</text>
<text transform="translate(4.80,234.00) scale(1.06,1)" font-size="17.45" fill="#111" stroke="#111" stroke-width="0.35">b</text>
<text transform="translate(6.00,394.00) scale(1.06,1)" font-size="17.45" fill="#111" stroke="#111" stroke-width="0.35">d</text>
<text transform="translate(4.40,604.00) scale(1.06,1)" font-size="17.45" fill="#111" stroke="#111" stroke-width="0.35">e</text>
<text transform="translate(372.60,21.50) scale(1.06,1)" font-size="17.45" fill="#111" stroke="#111" stroke-width="0.35">c</text>
<text transform="translate(373.80,394.30) scale(1.06,1)" font-size="17.45" fill="#111" stroke="#111" stroke-width="0.35">f</text>
<line x1="59.70" y1="241.20" x2="59.70" y2="338.40" stroke="#000" stroke-width="1.35" />
<line x1="59.10" y1="337.80" x2="176.79" y2="337.80" stroke="#000" stroke-width="1.35" />
<line x1="56.70" y1="337.80" x2="59.70" y2="337.80" stroke="#000" stroke-width="1.2" />
<text transform="translate(54.90,342.30) scale(1.0,1)" font-size="12.90" text-anchor="end" fill="#111" >0</text>
<line x1="56.70" y1="321.70" x2="59.70" y2="321.70" stroke="#000" stroke-width="1.2" />
<text transform="translate(54.90,326.20) scale(1.0,1)" font-size="12.90" text-anchor="end" fill="#111" >1</text>
<line x1="56.70" y1="305.60" x2="59.70" y2="305.60" stroke="#000" stroke-width="1.2" />
<text transform="translate(54.90,310.10) scale(1.0,1)" font-size="12.90" text-anchor="end" fill="#111" >2</text>
<line x1="56.70" y1="289.50" x2="59.70" y2="289.50" stroke="#000" stroke-width="1.2" />
<text transform="translate(54.90,294.00) scale(1.0,1)" font-size="12.90" text-anchor="end" fill="#111" >3</text>
<line x1="56.70" y1="273.40" x2="59.70" y2="273.40" stroke="#000" stroke-width="1.2" />
<text transform="translate(54.90,277.90) scale(1.0,1)" font-size="12.90" text-anchor="end" fill="#111" >4</text>
<line x1="56.70" y1="257.30" x2="59.70" y2="257.30" stroke="#000" stroke-width="1.2" />
<text transform="translate(54.90,261.80) scale(1.0,1)" font-size="12.90" text-anchor="end" fill="#111" >5</text>
<line x1="56.70" y1="241.20" x2="59.70" y2="241.20" stroke="#000" stroke-width="1.2" />
<text transform="translate(54.90,245.70) scale(1.0,1)" font-size="12.90" text-anchor="end" fill="#111" >6</text>
<line x1="59.70" y1="337.80" x2="59.70" y2="340.80" stroke="#000" stroke-width="1.2" />
<line x1="98.53" y1="337.80" x2="98.53" y2="340.80" stroke="#000" stroke-width="1.2" />
<line x1="137.36" y1="337.80" x2="137.36" y2="340.80" stroke="#000" stroke-width="1.2" />
<line x1="176.19" y1="337.80" x2="176.19" y2="340.80" stroke="#000" stroke-width="1.2" />
<text transform="translate(59.70,355.00) scale(1.03,1)" font-size="12.82" text-anchor="middle" fill="#111" >0.1</text>
<text transform="translate(98.53,355.00) scale(1.03,1)" font-size="12.82" text-anchor="middle" fill="#111" >1.0</text>
<text transform="translate(137.36,355.00) scale(1.03,1)" font-size="12.82" text-anchor="middle" fill="#111" >10</text>
<text transform="translate(176.19,355.00) scale(1.03,1)" font-size="12.82" text-anchor="middle" fill="#111" >100</text>
<text transform="translate(124.30,369.00) scale(1.06,1)" font-size="12.64" text-anchor="middle" fill="#111" >Time (mins)</text>
<text transform="translate(77.90,235.70) scale(1.06,1)" font-size="12.64" fill="#111" >D<tspan font-size="9.0" dy="-5">56</tspan><tspan dy="5">VNTDIYSKV</tspan><tspan font-size="9.0" dy="-5">65</tspan></text>
<text transform="translate(85.00,248.30) scale(1.06,1)" font-size="12.64" fill="#111" >1153.573 Da</text>
<polyline points="59.7,300.8 98.5,299.2 137.4,294.0 176.2,274.7" stroke="#000" stroke-width="1.5" fill="none" stroke-linejoin="round" />
<circle cx="59.7" cy="300.8" r="2.3" fill="#000"/>
<circle cx="98.5" cy="299.2" r="2.3" fill="#000"/>
<line x1="137.36" y1="295.30" x2="137.36" y2="292.72" stroke="#000" stroke-width="1.1" />
<line x1="135.76" y1="295.30" x2="138.96" y2="295.30" stroke="#000" stroke-width="1.0" />
<line x1="135.76" y1="292.72" x2="138.96" y2="292.72" stroke="#000" stroke-width="1.0" />
<circle cx="137.4" cy="294.0" r="2.3" fill="#000"/>
<circle cx="176.2" cy="274.7" r="2.3" fill="#000"/>
<polyline points="59.7,265.4 98.5,260.8 137.4,254.1 176.2,252.5" stroke="#ff0000" stroke-width="1.5" fill="none" stroke-linejoin="round" />
<circle cx="59.7" cy="265.4" r="2.3" fill="#ff0000"/>
<line x1="98.53" y1="261.65" x2="98.53" y2="260.04" stroke="#ff0000" stroke-width="1.1" />
<line x1="96.93" y1="261.65" x2="100.13" y2="261.65" stroke="#ff0000" stroke-width="1.0" />
<line x1="96.93" y1="260.04" x2="100.13" y2="260.04" stroke="#ff0000" stroke-width="1.0" />
<circle cx="98.5" cy="260.8" r="2.3" fill="#ff0000"/>
<line x1="137.36" y1="256.50" x2="137.36" y2="251.66" stroke="#ff0000" stroke-width="1.1" />
<line x1="135.76" y1="256.50" x2="138.96" y2="256.50" stroke="#ff0000" stroke-width="1.0" />
<line x1="135.76" y1="251.66" x2="138.96" y2="251.66" stroke="#ff0000" stroke-width="1.0" />
<circle cx="137.4" cy="254.1" r="2.3" fill="#ff0000"/>
<line x1="176.19" y1="253.28" x2="176.19" y2="251.67" stroke="#ff0000" stroke-width="1.1" />
<line x1="174.59" y1="253.28" x2="177.79" y2="253.28" stroke="#ff0000" stroke-width="1.0" />
<line x1="174.59" y1="251.67" x2="177.79" y2="251.67" stroke="#ff0000" stroke-width="1.0" />
<circle cx="176.2" cy="252.5" r="2.3" fill="#ff0000"/>
<line x1="225.20" y1="239.39" x2="225.20" y2="338.50" stroke="#000" stroke-width="1.35" />
<line x1="224.60" y1="337.90" x2="341.99" y2="337.90" stroke="#000" stroke-width="1.35" />
<line x1="222.20" y1="337.90" x2="225.20" y2="337.90" stroke="#000" stroke-width="1.2" />
<text transform="translate(220.40,342.40) scale(1.0,1)" font-size="12.90" text-anchor="end" fill="#111" >0</text>
<line x1="222.20" y1="305.06" x2="225.20" y2="305.06" stroke="#000" stroke-width="1.2" />
<text transform="translate(220.40,309.56) scale(1.0,1)" font-size="12.90" text-anchor="end" fill="#111" >0.5</text>
<line x1="222.20" y1="272.23" x2="225.20" y2="272.23" stroke="#000" stroke-width="1.2" />
<text transform="translate(220.40,276.73) scale(1.0,1)" font-size="12.90" text-anchor="end" fill="#111" >1.0</text>
<line x1="222.20" y1="239.39" x2="225.20" y2="239.39" stroke="#000" stroke-width="1.2" />
<text transform="translate(220.40,243.89) scale(1.0,1)" font-size="12.90" text-anchor="end" fill="#111" >1.5</text>
<line x1="225.20" y1="337.90" x2="225.20" y2="340.90" stroke="#000" stroke-width="1.2" />
<line x1="263.93" y1="337.90" x2="263.93" y2="340.90" stroke="#000" stroke-width="1.2" />
<line x1="302.66" y1="337.90" x2="302.66" y2="340.90" stroke="#000" stroke-width="1.2" />
<line x1="341.39" y1="337.90" x2="341.39" y2="340.90" stroke="#000" stroke-width="1.2" />
<text transform="translate(225.20,355.00) scale(1.03,1)" font-size="12.82" text-anchor="middle" fill="#111" >0.1</text>
<text transform="translate(263.93,355.00) scale(1.03,1)" font-size="12.82" text-anchor="middle" fill="#111" >1.0</text>
<text transform="translate(302.66,355.00) scale(1.03,1)" font-size="12.82" text-anchor="middle" fill="#111" >10</text>
<text transform="translate(341.39,355.00) scale(1.03,1)" font-size="12.82" text-anchor="middle" fill="#111" >100</text>
<text transform="translate(289.80,368.60) scale(1.06,1)" font-size="12.64" text-anchor="middle" fill="#111" >Time (mins)</text>
<text transform="translate(250.90,235.70) scale(1.06,1)" font-size="12.64" fill="#111" >P<tspan font-size="9.0" dy="-5">122</tspan><tspan dy="5">VDYN</tspan><tspan font-size="9.0" dy="-5">127</tspan></text>
<text transform="translate(253.30,248.60) scale(1.06,1)" font-size="12.64" fill="#111" >706.341 Da</text>
<polyline points="225.2,328.7 263.9,331.3 302.7,335.3 341.4,331.3" stroke="#000" stroke-width="1.5" fill="none" stroke-linejoin="round" />
<line x1="225.20" y1="330.68" x2="225.20" y2="326.74" stroke="#000" stroke-width="1.1" />
<line x1="223.60" y1="330.68" x2="226.80" y2="330.68" stroke="#000" stroke-width="1.0" />
<line x1="223.60" y1="326.74" x2="226.80" y2="326.74" stroke="#000" stroke-width="1.0" />
<circle cx="225.2" cy="328.7" r="2.3" fill="#000"/>
<line x1="263.93" y1="333.30" x2="263.93" y2="329.36" stroke="#000" stroke-width="1.1" />
<line x1="262.33" y1="333.30" x2="265.53" y2="333.30" stroke="#000" stroke-width="1.0" />
<line x1="262.33" y1="329.36" x2="265.53" y2="329.36" stroke="#000" stroke-width="1.0" />
<circle cx="263.9" cy="331.3" r="2.3" fill="#000"/>
<line x1="302.66" y1="338.56" x2="302.66" y2="331.99" stroke="#000" stroke-width="1.1" />
<line x1="301.06" y1="338.56" x2="304.26" y2="338.56" stroke="#000" stroke-width="1.0" />
<line x1="301.06" y1="331.99" x2="304.26" y2="331.99" stroke="#000" stroke-width="1.0" />
<circle cx="302.7" cy="335.3" r="2.3" fill="#000"/>
<line x1="341.39" y1="336.59" x2="341.39" y2="326.08" stroke="#000" stroke-width="1.1" />
<line x1="339.79" y1="336.59" x2="342.99" y2="336.59" stroke="#000" stroke-width="1.0" />
<line x1="339.79" y1="326.08" x2="342.99" y2="326.08" stroke="#000" stroke-width="1.0" />
<circle cx="341.4" cy="331.3" r="2.3" fill="#000"/>
<polyline points="225.2,326.7 263.9,324.8 302.7,307.0 341.4,254.5" stroke="#ff0000" stroke-width="1.5" fill="none" stroke-linejoin="round" />
<line x1="225.20" y1="331.99" x2="225.20" y2="321.48" stroke="#ff0000" stroke-width="1.1" />
<line x1="223.60" y1="331.99" x2="226.80" y2="331.99" stroke="#ff0000" stroke-width="1.0" />
<line x1="223.60" y1="321.48" x2="226.80" y2="321.48" stroke="#ff0000" stroke-width="1.0" />
<circle cx="225.2" cy="326.7" r="2.3" fill="#ff0000"/>
<line x1="263.93" y1="328.71" x2="263.93" y2="320.83" stroke="#ff0000" stroke-width="1.1" />
<line x1="262.33" y1="328.71" x2="265.53" y2="328.71" stroke="#ff0000" stroke-width="1.0" />
<line x1="262.33" y1="320.83" x2="265.53" y2="320.83" stroke="#ff0000" stroke-width="1.0" />
<circle cx="263.9" cy="324.8" r="2.3" fill="#ff0000"/>
<line x1="302.66" y1="313.60" x2="302.66" y2="300.47" stroke="#ff0000" stroke-width="1.1" />
<line x1="301.06" y1="313.60" x2="304.26" y2="313.60" stroke="#ff0000" stroke-width="1.0" />
<line x1="301.06" y1="300.47" x2="304.26" y2="300.47" stroke="#ff0000" stroke-width="1.0" />
<circle cx="302.7" cy="307.0" r="2.3" fill="#ff0000"/>
<circle cx="341.4" cy="254.5" r="2.3" fill="#ff0000"/>
<line x1="387.60" y1="238.10" x2="387.60" y2="338.30" stroke="#000" stroke-width="1.35" />
<line x1="387.00" y1="337.70" x2="503.79" y2="337.70" stroke="#000" stroke-width="1.35" />
<line x1="384.60" y1="337.70" x2="387.60" y2="337.70" stroke="#000" stroke-width="1.2" />
<text transform="translate(382.80,342.20) scale(1.0,1)" font-size="12.90" text-anchor="end" fill="#111" >0</text>
<line x1="384.60" y1="304.50" x2="387.60" y2="304.50" stroke="#000" stroke-width="1.2" />
<text transform="translate(382.80,309.00) scale(1.0,1)" font-size="12.90" text-anchor="end" fill="#111" >1</text>
<line x1="384.60" y1="271.30" x2="387.60" y2="271.30" stroke="#000" stroke-width="1.2" />
<text transform="translate(382.80,275.80) scale(1.0,1)" font-size="12.90" text-anchor="end" fill="#111" >2</text>
<line x1="384.60" y1="238.10" x2="387.60" y2="238.10" stroke="#000" stroke-width="1.2" />
<text transform="translate(382.80,242.60) scale(1.0,1)" font-size="12.90" text-anchor="end" fill="#111" >3</text>
<line x1="387.60" y1="337.70" x2="387.60" y2="340.70" stroke="#000" stroke-width="1.2" />
<line x1="426.13" y1="337.70" x2="426.13" y2="340.70" stroke="#000" stroke-width="1.2" />
<line x1="464.66" y1="337.70" x2="464.66" y2="340.70" stroke="#000" stroke-width="1.2" />
<line x1="503.19" y1="337.70" x2="503.19" y2="340.70" stroke="#000" stroke-width="1.2" />
<text transform="translate(387.60,354.80) scale(1.03,1)" font-size="12.82" text-anchor="middle" fill="#111" >0.1</text>
<text transform="translate(426.13,354.80) scale(1.03,1)" font-size="12.82" text-anchor="middle" fill="#111" >1.0</text>
<text transform="translate(464.66,354.80) scale(1.03,1)" font-size="12.82" text-anchor="middle" fill="#111" >10</text>
<text transform="translate(503.19,354.80) scale(1.03,1)" font-size="12.82" text-anchor="middle" fill="#111" >100</text>
<text transform="translate(452.00,367.80) scale(1.06,1)" font-size="12.64" text-anchor="middle" fill="#111" >Time (mins)</text>
<text transform="translate(413.80,234.60) scale(1.06,1)" font-size="12.64" fill="#111" >F<tspan font-size="9.0" dy="-5">206</tspan><tspan dy="5">TMGLQNL</tspan><tspan font-size="9.0" dy="-5">213</tspan></text>
<text transform="translate(420.00,247.40) scale(1.06,1)" font-size="12.64" fill="#111" >923.466 Da</text>
<polyline points="387.6,318.4 426.1,317.8 464.7,311.8 503.2,289.6" stroke="#000" stroke-width="1.5" fill="none" stroke-linejoin="round" />
<circle cx="387.6" cy="318.4" r="2.3" fill="#000"/>
<circle cx="426.1" cy="317.8" r="2.3" fill="#000"/>
<circle cx="464.7" cy="311.8" r="2.3" fill="#000"/>
<circle cx="503.2" cy="289.6" r="2.3" fill="#000"/>
<polyline points="387.6,296.2 426.1,292.9 464.7,274.6 503.2,249.1" stroke="#ff0000" stroke-width="1.5" fill="none" stroke-linejoin="round" />
<line x1="387.60" y1="297.86" x2="387.60" y2="294.54" stroke="#ff0000" stroke-width="1.1" />
<line x1="386.00" y1="297.86" x2="389.20" y2="297.86" stroke="#ff0000" stroke-width="1.0" />
<line x1="386.00" y1="294.54" x2="389.20" y2="294.54" stroke="#ff0000" stroke-width="1.0" />
<circle cx="387.6" cy="296.2" r="2.3" fill="#ff0000"/>
<line x1="426.13" y1="296.86" x2="426.13" y2="288.90" stroke="#ff0000" stroke-width="1.1" />
<line x1="424.53" y1="296.86" x2="427.73" y2="296.86" stroke="#ff0000" stroke-width="1.0" />
<line x1="424.53" y1="288.90" x2="427.73" y2="288.90" stroke="#ff0000" stroke-width="1.0" />
<circle cx="426.1" cy="292.9" r="2.3" fill="#ff0000"/>
<line x1="464.66" y1="280.26" x2="464.66" y2="268.98" stroke="#ff0000" stroke-width="1.1" />
<line x1="463.06" y1="280.26" x2="466.26" y2="280.26" stroke="#ff0000" stroke-width="1.0" />
<line x1="463.06" y1="268.98" x2="466.26" y2="268.98" stroke="#ff0000" stroke-width="1.0" />
<circle cx="464.7" cy="274.6" r="2.3" fill="#ff0000"/>
<line x1="503.19" y1="251.71" x2="503.19" y2="246.40" stroke="#ff0000" stroke-width="1.1" />
<line x1="501.59" y1="251.71" x2="504.79" y2="251.71" stroke="#ff0000" stroke-width="1.0" />
<line x1="501.59" y1="246.40" x2="504.79" y2="246.40" stroke="#ff0000" stroke-width="1.0" />
<circle cx="503.2" cy="249.1" r="2.3" fill="#ff0000"/>
<line x1="550.50" y1="240.60" x2="550.50" y2="337.80" stroke="#000" stroke-width="1.35" />
<line x1="549.90" y1="337.20" x2="667.71" y2="337.20" stroke="#000" stroke-width="1.35" />
<line x1="547.50" y1="337.20" x2="550.50" y2="337.20" stroke="#000" stroke-width="1.2" />
<line x1="547.50" y1="309.60" x2="550.50" y2="309.60" stroke="#000" stroke-width="1.2" />
<text transform="translate(545.70,314.10) scale(1.0,1)" font-size="12.90" text-anchor="end" fill="#111" >0</text>
<line x1="547.50" y1="282.00" x2="550.50" y2="282.00" stroke="#000" stroke-width="1.2" />
<text transform="translate(545.70,286.50) scale(1.0,1)" font-size="12.90" text-anchor="end" fill="#111" >1</text>
<line x1="547.50" y1="254.40" x2="550.50" y2="254.40" stroke="#000" stroke-width="1.2" />
<text transform="translate(545.70,258.90) scale(1.0,1)" font-size="12.90" text-anchor="end" fill="#111" >2</text>
<line x1="550.50" y1="337.20" x2="550.50" y2="340.20" stroke="#000" stroke-width="1.2" />
<line x1="589.37" y1="337.20" x2="589.37" y2="340.20" stroke="#000" stroke-width="1.2" />
<line x1="628.24" y1="337.20" x2="628.24" y2="340.20" stroke="#000" stroke-width="1.2" />
<line x1="667.11" y1="337.20" x2="667.11" y2="340.20" stroke="#000" stroke-width="1.2" />
<text transform="translate(550.50,354.80) scale(1.03,1)" font-size="12.82" text-anchor="middle" fill="#111" >0.1</text>
<text transform="translate(589.37,354.80) scale(1.03,1)" font-size="12.82" text-anchor="middle" fill="#111" >1.0</text>
<text transform="translate(628.24,354.80) scale(1.03,1)" font-size="12.82" text-anchor="middle" fill="#111" >10</text>
<text transform="translate(667.11,354.80) scale(1.03,1)" font-size="12.82" text-anchor="middle" fill="#111" >100</text>
<text transform="translate(615.60,367.80) scale(1.06,1)" font-size="12.64" text-anchor="middle" fill="#111" >Time (mins)</text>
<text transform="translate(580.80,233.90) scale(1.06,1)" font-size="12.64" fill="#111" >F<tspan font-size="9.0" dy="-5">344</tspan><tspan dy="5">DFHYF</tspan><tspan font-size="9.0" dy="-5">349</tspan></text>
<text transform="translate(573.80,247.90) scale(1.06,1)" font-size="12.64" fill="#111" >1038.436 Da</text>
<polyline points="550.5,312.9 589.4,313.2 628.2,312.4 667.1,301.9" stroke="#000" stroke-width="1.5" fill="none" stroke-linejoin="round" />
<line x1="550.50" y1="323.95" x2="550.50" y2="301.87" stroke="#000" stroke-width="1.1" />
<line x1="548.90" y1="323.95" x2="552.10" y2="323.95" stroke="#000" stroke-width="1.0" />
<line x1="548.90" y1="301.87" x2="552.10" y2="301.87" stroke="#000" stroke-width="1.0" />
<circle cx="550.5" cy="312.9" r="2.3" fill="#000"/>
<line x1="589.37" y1="324.23" x2="589.37" y2="302.15" stroke="#000" stroke-width="1.1" />
<line x1="587.77" y1="324.23" x2="590.97" y2="324.23" stroke="#000" stroke-width="1.0" />
<line x1="587.77" y1="302.15" x2="590.97" y2="302.15" stroke="#000" stroke-width="1.0" />
<circle cx="589.4" cy="313.2" r="2.3" fill="#000"/>
<line x1="628.24" y1="323.40" x2="628.24" y2="301.32" stroke="#000" stroke-width="1.1" />
<line x1="626.64" y1="323.40" x2="629.84" y2="323.40" stroke="#000" stroke-width="1.0" />
<line x1="626.64" y1="301.32" x2="629.84" y2="301.32" stroke="#000" stroke-width="1.0" />
<circle cx="628.2" cy="312.4" r="2.3" fill="#000"/>
<line x1="667.11" y1="315.67" x2="667.11" y2="288.07" stroke="#000" stroke-width="1.1" />
<line x1="665.51" y1="315.67" x2="668.71" y2="315.67" stroke="#000" stroke-width="1.0" />
<line x1="665.51" y1="288.07" x2="668.71" y2="288.07" stroke="#000" stroke-width="1.0" />
<circle cx="667.1" cy="301.9" r="2.3" fill="#000"/>
<polyline points="550.5,306.3 589.4,296.4 628.2,278.4 667.1,262.1" stroke="#ff0000" stroke-width="1.5" fill="none" stroke-linejoin="round" />
<line x1="550.50" y1="317.33" x2="550.50" y2="295.25" stroke="#ff0000" stroke-width="1.1" />
<line x1="548.90" y1="317.33" x2="552.10" y2="317.33" stroke="#ff0000" stroke-width="1.0" />
<line x1="548.90" y1="295.25" x2="552.10" y2="295.25" stroke="#ff0000" stroke-width="1.0" />
<circle cx="550.5" cy="306.3" r="2.3" fill="#ff0000"/>
<line x1="589.37" y1="310.15" x2="589.37" y2="282.55" stroke="#ff0000" stroke-width="1.1" />
<line x1="587.77" y1="310.15" x2="590.97" y2="310.15" stroke="#ff0000" stroke-width="1.0" />
<line x1="587.77" y1="282.55" x2="590.97" y2="282.55" stroke="#ff0000" stroke-width="1.0" />
<circle cx="589.4" cy="296.4" r="2.3" fill="#ff0000"/>
<line x1="628.24" y1="290.00" x2="628.24" y2="266.82" stroke="#ff0000" stroke-width="1.1" />
<line x1="626.64" y1="290.00" x2="629.84" y2="290.00" stroke="#ff0000" stroke-width="1.0" />
<line x1="626.64" y1="266.82" x2="629.84" y2="266.82" stroke="#ff0000" stroke-width="1.0" />
<circle cx="628.2" cy="278.4" r="2.3" fill="#ff0000"/>
<line x1="667.11" y1="274.00" x2="667.11" y2="250.26" stroke="#ff0000" stroke-width="1.1" />
<line x1="665.51" y1="274.00" x2="668.71" y2="274.00" stroke="#ff0000" stroke-width="1.0" />
<line x1="665.51" y1="250.26" x2="668.71" y2="250.26" stroke="#ff0000" stroke-width="1.0" />
<circle cx="667.1" cy="262.1" r="2.3" fill="#ff0000"/>
<line x1="51.30" y1="619.98" x2="51.30" y2="717.60" stroke="#000" stroke-width="1.35" />
<line x1="50.70" y1="717.00" x2="168.99" y2="717.00" stroke="#000" stroke-width="1.35" />
<line x1="48.30" y1="717.00" x2="51.30" y2="717.00" stroke="#000" stroke-width="1.2" />
<text transform="translate(46.50,721.50) scale(1.0,1)" font-size="12.90" text-anchor="end" fill="#111" >0</text>
<line x1="48.30" y1="700.83" x2="51.30" y2="700.83" stroke="#000" stroke-width="1.2" />
<text transform="translate(46.50,705.33) scale(1.0,1)" font-size="12.90" text-anchor="end" fill="#111" >1</text>
<line x1="48.30" y1="684.66" x2="51.30" y2="684.66" stroke="#000" stroke-width="1.2" />
<text transform="translate(46.50,689.16) scale(1.0,1)" font-size="12.90" text-anchor="end" fill="#111" >2</text>
<line x1="48.30" y1="668.49" x2="51.30" y2="668.49" stroke="#000" stroke-width="1.2" />
<text transform="translate(46.50,672.99) scale(1.0,1)" font-size="12.90" text-anchor="end" fill="#111" >3</text>
<line x1="48.30" y1="652.32" x2="51.30" y2="652.32" stroke="#000" stroke-width="1.2" />
<text transform="translate(46.50,656.82) scale(1.0,1)" font-size="12.90" text-anchor="end" fill="#111" >4</text>
<line x1="48.30" y1="636.15" x2="51.30" y2="636.15" stroke="#000" stroke-width="1.2" />
<text transform="translate(46.50,640.65) scale(1.0,1)" font-size="12.90" text-anchor="end" fill="#111" >5</text>
<line x1="48.30" y1="619.98" x2="51.30" y2="619.98" stroke="#000" stroke-width="1.2" />
<text transform="translate(46.50,624.48) scale(1.0,1)" font-size="12.90" text-anchor="end" fill="#111" >6</text>
<line x1="51.30" y1="717.00" x2="51.30" y2="720.00" stroke="#000" stroke-width="1.2" />
<line x1="90.33" y1="717.00" x2="90.33" y2="720.00" stroke="#000" stroke-width="1.2" />
<line x1="129.36" y1="717.00" x2="129.36" y2="720.00" stroke="#000" stroke-width="1.2" />
<line x1="168.39" y1="717.00" x2="168.39" y2="720.00" stroke="#000" stroke-width="1.2" />
<text transform="translate(51.30,732.00) scale(1.03,1)" font-size="12.82" text-anchor="middle" fill="#111" >0.1</text>
<text transform="translate(90.33,732.00) scale(1.03,1)" font-size="12.82" text-anchor="middle" fill="#111" >1.0</text>
<text transform="translate(129.36,732.00) scale(1.03,1)" font-size="12.82" text-anchor="middle" fill="#111" >10</text>
<text transform="translate(168.39,732.00) scale(1.03,1)" font-size="12.82" text-anchor="middle" fill="#111" >100</text>
<text transform="translate(116.50,746.70) scale(1.06,1)" font-size="12.64" text-anchor="middle" fill="#111" >Time (mins)</text>
<text transform="translate(73.10,612.40) scale(1.06,1)" font-size="12.64" fill="#111" >D<tspan font-size="9.0" dy="-5">56</tspan><tspan dy="5">VNTDIYSKV</tspan><tspan font-size="9.0" dy="-5">65</tspan></text>
<text transform="translate(80.30,625.20) scale(1.06,1)" font-size="12.64" fill="#111" >1153.573 Da</text>
<polyline points="51.3,651.5 90.3,648.3 129.4,631.3 168.4,632.9" stroke="#000" stroke-width="1.5" fill="none" stroke-linejoin="round" />
<line x1="51.30" y1="652.32" x2="51.30" y2="650.70" stroke="#000" stroke-width="1.1" />
<line x1="49.70" y1="652.32" x2="52.90" y2="652.32" stroke="#000" stroke-width="1.0" />
<line x1="49.70" y1="650.70" x2="52.90" y2="650.70" stroke="#000" stroke-width="1.0" />
<circle cx="51.3" cy="651.5" r="2.3" fill="#000"/>
<line x1="90.33" y1="649.89" x2="90.33" y2="646.66" stroke="#000" stroke-width="1.1" />
<line x1="88.73" y1="649.89" x2="91.93" y2="649.89" stroke="#000" stroke-width="1.0" />
<line x1="88.73" y1="646.66" x2="91.93" y2="646.66" stroke="#000" stroke-width="1.0" />
<circle cx="90.3" cy="648.3" r="2.3" fill="#000"/>
<line x1="129.36" y1="632.59" x2="129.36" y2="630.01" stroke="#000" stroke-width="1.1" />
<line x1="127.76" y1="632.59" x2="130.96" y2="632.59" stroke="#000" stroke-width="1.0" />
<line x1="127.76" y1="630.01" x2="130.96" y2="630.01" stroke="#000" stroke-width="1.0" />
<circle cx="129.4" cy="631.3" r="2.3" fill="#000"/>
<line x1="168.39" y1="633.72" x2="168.39" y2="632.11" stroke="#000" stroke-width="1.1" />
<line x1="166.79" y1="633.72" x2="169.99" y2="633.72" stroke="#000" stroke-width="1.0" />
<line x1="166.79" y1="632.11" x2="169.99" y2="632.11" stroke="#000" stroke-width="1.0" />
<circle cx="168.4" cy="632.9" r="2.3" fill="#000"/>
<polyline points="51.3,647.5 90.3,645.9 129.4,632.9 168.4,630.5" stroke="#ff0000" stroke-width="1.5" fill="none" stroke-linejoin="round" />
<line x1="51.30" y1="648.28" x2="51.30" y2="646.66" stroke="#ff0000" stroke-width="1.1" />
<line x1="49.70" y1="648.28" x2="52.90" y2="648.28" stroke="#ff0000" stroke-width="1.0" />
<line x1="49.70" y1="646.66" x2="52.90" y2="646.66" stroke="#ff0000" stroke-width="1.0" />
<circle cx="51.3" cy="647.5" r="2.3" fill="#ff0000"/>
<line x1="90.33" y1="647.47" x2="90.33" y2="644.24" stroke="#ff0000" stroke-width="1.1" />
<line x1="88.73" y1="647.47" x2="91.93" y2="647.47" stroke="#ff0000" stroke-width="1.0" />
<line x1="88.73" y1="644.24" x2="91.93" y2="644.24" stroke="#ff0000" stroke-width="1.0" />
<circle cx="90.3" cy="645.9" r="2.3" fill="#ff0000"/>
<line x1="129.36" y1="635.34" x2="129.36" y2="630.49" stroke="#ff0000" stroke-width="1.1" />
<line x1="127.76" y1="635.34" x2="130.96" y2="635.34" stroke="#ff0000" stroke-width="1.0" />
<line x1="127.76" y1="630.49" x2="130.96" y2="630.49" stroke="#ff0000" stroke-width="1.0" />
<circle cx="129.4" cy="632.9" r="2.3" fill="#ff0000"/>
<line x1="168.39" y1="631.78" x2="168.39" y2="629.20" stroke="#ff0000" stroke-width="1.1" />
<line x1="166.79" y1="631.78" x2="169.99" y2="631.78" stroke="#ff0000" stroke-width="1.0" />
<line x1="166.79" y1="629.20" x2="169.99" y2="629.20" stroke="#ff0000" stroke-width="1.0" />
<circle cx="168.4" cy="630.5" r="2.3" fill="#ff0000"/>
<line x1="216.60" y1="617.69" x2="216.60" y2="717.40" stroke="#000" stroke-width="1.35" />
<line x1="216.00" y1="716.80" x2="332.91" y2="716.80" stroke="#000" stroke-width="1.35" />
<line x1="213.60" y1="716.80" x2="216.60" y2="716.80" stroke="#000" stroke-width="1.2" />
<text transform="translate(211.80,721.30) scale(1.0,1)" font-size="12.90" text-anchor="end" fill="#111" >0</text>
<line x1="213.60" y1="683.76" x2="216.60" y2="683.76" stroke="#000" stroke-width="1.2" />
<text transform="translate(211.80,688.26) scale(1.0,1)" font-size="12.90" text-anchor="end" fill="#111" >0.5</text>
<line x1="213.60" y1="650.73" x2="216.60" y2="650.73" stroke="#000" stroke-width="1.2" />
<text transform="translate(211.80,655.23) scale(1.0,1)" font-size="12.90" text-anchor="end" fill="#111" >1.0</text>
<line x1="213.60" y1="617.69" x2="216.60" y2="617.69" stroke="#000" stroke-width="1.2" />
<text transform="translate(211.80,622.19) scale(1.0,1)" font-size="12.90" text-anchor="end" fill="#111" >1.5</text>
<line x1="216.60" y1="716.80" x2="216.60" y2="719.80" stroke="#000" stroke-width="1.2" />
<line x1="255.17" y1="716.80" x2="255.17" y2="719.80" stroke="#000" stroke-width="1.2" />
<line x1="293.74" y1="716.80" x2="293.74" y2="719.80" stroke="#000" stroke-width="1.2" />
<line x1="332.31" y1="716.80" x2="332.31" y2="719.80" stroke="#000" stroke-width="1.2" />
<text transform="translate(216.60,732.00) scale(1.03,1)" font-size="12.82" text-anchor="middle" fill="#111" >0.1</text>
<text transform="translate(255.17,732.00) scale(1.03,1)" font-size="12.82" text-anchor="middle" fill="#111" >1.0</text>
<text transform="translate(293.74,732.00) scale(1.03,1)" font-size="12.82" text-anchor="middle" fill="#111" >10</text>
<text transform="translate(332.31,732.00) scale(1.03,1)" font-size="12.82" text-anchor="middle" fill="#111" >100</text>
<text transform="translate(281.00,746.70) scale(1.06,1)" font-size="12.64" text-anchor="middle" fill="#111" >Time (mins)</text>
<text transform="translate(236.90,613.40) scale(1.06,1)" font-size="12.64" fill="#111" >P<tspan font-size="9.0" dy="-5">122</tspan><tspan dy="5">VDYN</tspan><tspan font-size="9.0" dy="-5">127</tspan></text>
<text transform="translate(237.70,626.90) scale(1.06,1)" font-size="12.64" fill="#111" >706.341 Da</text>
<polyline points="216.6,710.2 255.2,712.2 293.7,710.9 332.3,693.7" stroke="#000" stroke-width="1.5" fill="none" stroke-linejoin="round" />
<line x1="216.60" y1="712.18" x2="216.60" y2="708.21" stroke="#000" stroke-width="1.1" />
<line x1="215.00" y1="712.18" x2="218.20" y2="712.18" stroke="#000" stroke-width="1.0" />
<line x1="215.00" y1="708.21" x2="218.20" y2="708.21" stroke="#000" stroke-width="1.0" />
<circle cx="216.6" cy="710.2" r="2.3" fill="#000"/>
<line x1="255.17" y1="716.14" x2="255.17" y2="708.21" stroke="#000" stroke-width="1.1" />
<line x1="253.57" y1="716.14" x2="256.77" y2="716.14" stroke="#000" stroke-width="1.0" />
<line x1="253.57" y1="708.21" x2="256.77" y2="708.21" stroke="#000" stroke-width="1.0" />
<circle cx="255.2" cy="712.2" r="2.3" fill="#000"/>
<line x1="293.74" y1="715.48" x2="293.74" y2="706.23" stroke="#000" stroke-width="1.1" />
<line x1="292.14" y1="715.48" x2="295.34" y2="715.48" stroke="#000" stroke-width="1.0" />
<line x1="292.14" y1="706.23" x2="295.34" y2="706.23" stroke="#000" stroke-width="1.0" />
<circle cx="293.7" cy="710.9" r="2.3" fill="#000"/>
<line x1="332.31" y1="695.66" x2="332.31" y2="691.69" stroke="#000" stroke-width="1.1" />
<line x1="330.71" y1="695.66" x2="333.91" y2="695.66" stroke="#000" stroke-width="1.0" />
<line x1="330.71" y1="691.69" x2="333.91" y2="691.69" stroke="#000" stroke-width="1.0" />
<circle cx="332.3" cy="693.7" r="2.3" fill="#000"/>
<polyline points="216.6,699.0 255.2,700.3 293.7,691.7 332.3,637.5" stroke="#ff0000" stroke-width="1.5" fill="none" stroke-linejoin="round" />
<line x1="216.60" y1="700.94" x2="216.60" y2="696.98" stroke="#ff0000" stroke-width="1.1" />
<line x1="215.00" y1="700.94" x2="218.20" y2="700.94" stroke="#ff0000" stroke-width="1.0" />
<line x1="215.00" y1="696.98" x2="218.20" y2="696.98" stroke="#ff0000" stroke-width="1.0" />
<circle cx="216.6" cy="699.0" r="2.3" fill="#ff0000"/>
<line x1="255.17" y1="704.25" x2="255.17" y2="696.32" stroke="#ff0000" stroke-width="1.1" />
<line x1="253.57" y1="704.25" x2="256.77" y2="704.25" stroke="#ff0000" stroke-width="1.0" />
<line x1="253.57" y1="696.32" x2="256.77" y2="696.32" stroke="#ff0000" stroke-width="1.0" />
<circle cx="255.2" cy="700.3" r="2.3" fill="#ff0000"/>
<line x1="293.74" y1="698.30" x2="293.74" y2="685.09" stroke="#ff0000" stroke-width="1.1" />
<line x1="292.14" y1="698.30" x2="295.34" y2="698.30" stroke="#ff0000" stroke-width="1.0" />
<line x1="292.14" y1="685.09" x2="295.34" y2="685.09" stroke="#ff0000" stroke-width="1.0" />
<circle cx="293.7" cy="691.7" r="2.3" fill="#ff0000"/>
<line x1="332.31" y1="642.80" x2="332.31" y2="632.23" stroke="#ff0000" stroke-width="1.1" />
<line x1="330.71" y1="642.80" x2="333.91" y2="642.80" stroke="#ff0000" stroke-width="1.0" />
<line x1="330.71" y1="632.23" x2="333.91" y2="632.23" stroke="#ff0000" stroke-width="1.0" />
<circle cx="332.3" cy="637.5" r="2.3" fill="#ff0000"/>
<line x1="366.40" y1="616.39" x2="366.40" y2="716.80" stroke="#000" stroke-width="1.35" />
<line x1="365.80" y1="716.20" x2="483.49" y2="716.20" stroke="#000" stroke-width="1.35" />
<line x1="363.40" y1="716.20" x2="366.40" y2="716.20" stroke="#000" stroke-width="1.2" />
<text transform="translate(361.60,720.70) scale(1.0,1)" font-size="12.90" text-anchor="end" fill="#111" >0</text>
<line x1="363.40" y1="682.93" x2="366.40" y2="682.93" stroke="#000" stroke-width="1.2" />
<text transform="translate(361.60,687.43) scale(1.0,1)" font-size="12.90" text-anchor="end" fill="#111" >1</text>
<line x1="363.40" y1="649.66" x2="366.40" y2="649.66" stroke="#000" stroke-width="1.2" />
<text transform="translate(361.60,654.16) scale(1.0,1)" font-size="12.90" text-anchor="end" fill="#111" >2</text>
<line x1="363.40" y1="616.39" x2="366.40" y2="616.39" stroke="#000" stroke-width="1.2" />
<text transform="translate(361.60,620.89) scale(1.0,1)" font-size="12.90" text-anchor="end" fill="#111" >3</text>
<line x1="366.40" y1="716.20" x2="366.40" y2="719.20" stroke="#000" stroke-width="1.2" />
<line x1="405.23" y1="716.20" x2="405.23" y2="719.20" stroke="#000" stroke-width="1.2" />
<line x1="444.06" y1="716.20" x2="444.06" y2="719.20" stroke="#000" stroke-width="1.2" />
<line x1="482.89" y1="716.20" x2="482.89" y2="719.20" stroke="#000" stroke-width="1.2" />
<text transform="translate(366.40,732.00) scale(1.03,1)" font-size="12.82" text-anchor="middle" fill="#111" >0.1</text>
<text transform="translate(405.23,732.00) scale(1.03,1)" font-size="12.82" text-anchor="middle" fill="#111" >1.0</text>
<text transform="translate(444.06,732.00) scale(1.03,1)" font-size="12.82" text-anchor="middle" fill="#111" >10</text>
<text transform="translate(482.89,732.00) scale(1.03,1)" font-size="12.82" text-anchor="middle" fill="#111" >100</text>
<text transform="translate(430.90,746.70) scale(1.06,1)" font-size="12.64" text-anchor="middle" fill="#111" >Time (mins)</text>
<text transform="translate(383.10,622.50) scale(1.06,1)" font-size="12.64" fill="#111" >F<tspan font-size="9.0" dy="-5">206</tspan><tspan dy="5">TMGLQNL</tspan><tspan font-size="9.0" dy="-5">213</tspan></text>
<text transform="translate(389.20,635.70) scale(1.06,1)" font-size="12.64" fill="#111" >923.466 Da</text>
<polyline points="366.4,680.3 405.2,678.9 444.1,663.6 482.9,644.0" stroke="#000" stroke-width="1.5" fill="none" stroke-linejoin="round" />
<line x1="366.40" y1="681.27" x2="366.40" y2="679.27" stroke="#000" stroke-width="1.1" />
<line x1="364.80" y1="681.27" x2="368.00" y2="681.27" stroke="#000" stroke-width="1.0" />
<line x1="364.80" y1="679.27" x2="368.00" y2="679.27" stroke="#000" stroke-width="1.0" />
<circle cx="366.4" cy="680.3" r="2.3" fill="#000"/>
<line x1="405.23" y1="680.27" x2="405.23" y2="677.61" stroke="#000" stroke-width="1.1" />
<line x1="403.63" y1="680.27" x2="406.83" y2="680.27" stroke="#000" stroke-width="1.0" />
<line x1="403.63" y1="677.61" x2="406.83" y2="677.61" stroke="#000" stroke-width="1.0" />
<circle cx="405.2" cy="678.9" r="2.3" fill="#000"/>
<line x1="444.06" y1="665.96" x2="444.06" y2="661.30" stroke="#000" stroke-width="1.1" />
<line x1="442.46" y1="665.96" x2="445.66" y2="665.96" stroke="#000" stroke-width="1.0" />
<line x1="442.46" y1="661.30" x2="445.66" y2="661.30" stroke="#000" stroke-width="1.0" />
<circle cx="444.1" cy="663.6" r="2.3" fill="#000"/>
<line x1="482.89" y1="645.67" x2="482.89" y2="642.34" stroke="#000" stroke-width="1.1" />
<line x1="481.29" y1="645.67" x2="484.49" y2="645.67" stroke="#000" stroke-width="1.0" />
<line x1="481.29" y1="642.34" x2="484.49" y2="642.34" stroke="#000" stroke-width="1.0" />
<circle cx="482.9" cy="644.0" r="2.3" fill="#000"/>
<polyline points="366.4,672.9 405.2,674.6 444.1,655.3 482.9,628.0" stroke="#ff0000" stroke-width="1.5" fill="none" stroke-linejoin="round" />
<line x1="366.40" y1="673.95" x2="366.40" y2="671.95" stroke="#ff0000" stroke-width="1.1" />
<line x1="364.80" y1="673.95" x2="368.00" y2="673.95" stroke="#ff0000" stroke-width="1.0" />
<line x1="364.80" y1="671.95" x2="368.00" y2="671.95" stroke="#ff0000" stroke-width="1.0" />
<circle cx="366.4" cy="672.9" r="2.3" fill="#ff0000"/>
<line x1="405.23" y1="675.94" x2="405.23" y2="673.28" stroke="#ff0000" stroke-width="1.1" />
<line x1="403.63" y1="675.94" x2="406.83" y2="675.94" stroke="#ff0000" stroke-width="1.0" />
<line x1="403.63" y1="673.28" x2="406.83" y2="673.28" stroke="#ff0000" stroke-width="1.0" />
<circle cx="405.2" cy="674.6" r="2.3" fill="#ff0000"/>
<line x1="444.06" y1="657.98" x2="444.06" y2="652.65" stroke="#ff0000" stroke-width="1.1" />
<line x1="442.46" y1="657.98" x2="445.66" y2="657.98" stroke="#ff0000" stroke-width="1.0" />
<line x1="442.46" y1="652.65" x2="445.66" y2="652.65" stroke="#ff0000" stroke-width="1.0" />
<circle cx="444.1" cy="655.3" r="2.3" fill="#ff0000"/>
<line x1="482.89" y1="631.36" x2="482.89" y2="624.71" stroke="#ff0000" stroke-width="1.1" />
<line x1="481.29" y1="631.36" x2="484.49" y2="631.36" stroke="#ff0000" stroke-width="1.0" />
<line x1="481.29" y1="624.71" x2="484.49" y2="624.71" stroke="#ff0000" stroke-width="1.0" />
<circle cx="482.9" cy="628.0" r="2.3" fill="#ff0000"/>
<line x1="530.20" y1="618.75" x2="530.20" y2="716.30" stroke="#000" stroke-width="1.35" />
<line x1="529.60" y1="715.70" x2="647.29" y2="715.70" stroke="#000" stroke-width="1.35" />
<line x1="527.20" y1="715.70" x2="530.20" y2="715.70" stroke="#000" stroke-width="1.2" />
<line x1="527.20" y1="688.00" x2="530.20" y2="688.00" stroke="#000" stroke-width="1.2" />
<text transform="translate(525.40,692.50) scale(1.0,1)" font-size="12.90" text-anchor="end" fill="#111" >0</text>
<line x1="527.20" y1="660.30" x2="530.20" y2="660.30" stroke="#000" stroke-width="1.2" />
<text transform="translate(525.40,664.80) scale(1.0,1)" font-size="12.90" text-anchor="end" fill="#111" >1</text>
<line x1="527.20" y1="632.60" x2="530.20" y2="632.60" stroke="#000" stroke-width="1.2" />
<text transform="translate(525.40,637.10) scale(1.0,1)" font-size="12.90" text-anchor="end" fill="#111" >2</text>
<line x1="530.20" y1="715.70" x2="530.20" y2="718.70" stroke="#000" stroke-width="1.2" />
<line x1="569.03" y1="715.70" x2="569.03" y2="718.70" stroke="#000" stroke-width="1.2" />
<line x1="607.86" y1="715.70" x2="607.86" y2="718.70" stroke="#000" stroke-width="1.2" />
<line x1="646.69" y1="715.70" x2="646.69" y2="718.70" stroke="#000" stroke-width="1.2" />
<text transform="translate(530.20,732.00) scale(1.03,1)" font-size="12.82" text-anchor="middle" fill="#111" >0.1</text>
<text transform="translate(569.03,732.00) scale(1.03,1)" font-size="12.82" text-anchor="middle" fill="#111" >1.0</text>
<text transform="translate(607.86,732.00) scale(1.03,1)" font-size="12.82" text-anchor="middle" fill="#111" >10</text>
<text transform="translate(646.69,732.00) scale(1.03,1)" font-size="12.82" text-anchor="middle" fill="#111" >100</text>
<text transform="translate(596.00,746.70) scale(1.06,1)" font-size="12.64" text-anchor="middle" fill="#111" >Time (mins)</text>
<text transform="translate(549.60,620.90) scale(1.06,1)" font-size="12.64" fill="#111" >F<tspan font-size="9.0" dy="-5">344</tspan><tspan dy="5">DFHYF</tspan><tspan font-size="9.0" dy="-5">349</tspan></text>
<text transform="translate(547.50,634.90) scale(1.06,1)" font-size="12.64" fill="#111" >1038.436 Da</text>
<polyline points="530.2,693.5 569.0,685.2 607.9,679.7 646.7,667.8" stroke="#000" stroke-width="1.5" fill="none" stroke-linejoin="round" />
<line x1="530.20" y1="699.08" x2="530.20" y2="688.00" stroke="#000" stroke-width="1.1" />
<line x1="528.60" y1="699.08" x2="531.80" y2="699.08" stroke="#000" stroke-width="1.0" />
<line x1="528.60" y1="688.00" x2="531.80" y2="688.00" stroke="#000" stroke-width="1.0" />
<circle cx="530.2" cy="693.5" r="2.3" fill="#000"/>
<line x1="569.03" y1="692.71" x2="569.03" y2="677.75" stroke="#000" stroke-width="1.1" />
<line x1="567.43" y1="692.71" x2="570.63" y2="692.71" stroke="#000" stroke-width="1.0" />
<line x1="567.43" y1="677.75" x2="570.63" y2="677.75" stroke="#000" stroke-width="1.0" />
<circle cx="569.0" cy="685.2" r="2.3" fill="#000"/>
<line x1="607.86" y1="686.06" x2="607.86" y2="673.32" stroke="#000" stroke-width="1.1" />
<line x1="606.26" y1="686.06" x2="609.46" y2="686.06" stroke="#000" stroke-width="1.0" />
<line x1="606.26" y1="673.32" x2="609.46" y2="673.32" stroke="#000" stroke-width="1.0" />
<circle cx="607.9" cy="679.7" r="2.3" fill="#000"/>
<line x1="646.69" y1="673.32" x2="646.69" y2="662.24" stroke="#000" stroke-width="1.1" />
<line x1="645.09" y1="673.32" x2="648.29" y2="673.32" stroke="#000" stroke-width="1.0" />
<line x1="645.09" y1="662.24" x2="648.29" y2="662.24" stroke="#000" stroke-width="1.0" />
<circle cx="646.7" cy="667.8" r="2.3" fill="#000"/>
<polyline points="530.2,676.9 569.0,673.6 607.9,647.8 646.7,635.4" stroke="#ff0000" stroke-width="1.5" fill="none" stroke-linejoin="round" />
<line x1="530.20" y1="680.24" x2="530.20" y2="673.60" stroke="#ff0000" stroke-width="1.1" />
<line x1="528.60" y1="680.24" x2="531.80" y2="680.24" stroke="#ff0000" stroke-width="1.0" />
<line x1="528.60" y1="673.60" x2="531.80" y2="673.60" stroke="#ff0000" stroke-width="1.0" />
<circle cx="530.2" cy="676.9" r="2.3" fill="#ff0000"/>
<line x1="569.03" y1="676.92" x2="569.03" y2="670.27" stroke="#ff0000" stroke-width="1.1" />
<line x1="567.43" y1="676.92" x2="570.63" y2="676.92" stroke="#ff0000" stroke-width="1.0" />
<line x1="567.43" y1="670.27" x2="570.63" y2="670.27" stroke="#ff0000" stroke-width="1.0" />
<circle cx="569.0" cy="673.6" r="2.3" fill="#ff0000"/>
<line x1="607.86" y1="651.16" x2="607.86" y2="644.51" stroke="#ff0000" stroke-width="1.1" />
<line x1="606.26" y1="651.16" x2="609.46" y2="651.16" stroke="#ff0000" stroke-width="1.0" />
<line x1="606.26" y1="644.51" x2="609.46" y2="644.51" stroke="#ff0000" stroke-width="1.0" />
<circle cx="607.9" cy="647.8" r="2.3" fill="#ff0000"/>
<line x1="646.69" y1="645.07" x2="646.69" y2="625.68" stroke="#ff0000" stroke-width="1.1" />
<line x1="645.09" y1="645.07" x2="648.29" y2="645.07" stroke="#ff0000" stroke-width="1.0" />
<line x1="645.09" y1="625.68" x2="648.29" y2="625.68" stroke="#ff0000" stroke-width="1.0" />
<circle cx="646.7" cy="635.4" r="2.3" fill="#ff0000"/>
</svg>
</body></html>
